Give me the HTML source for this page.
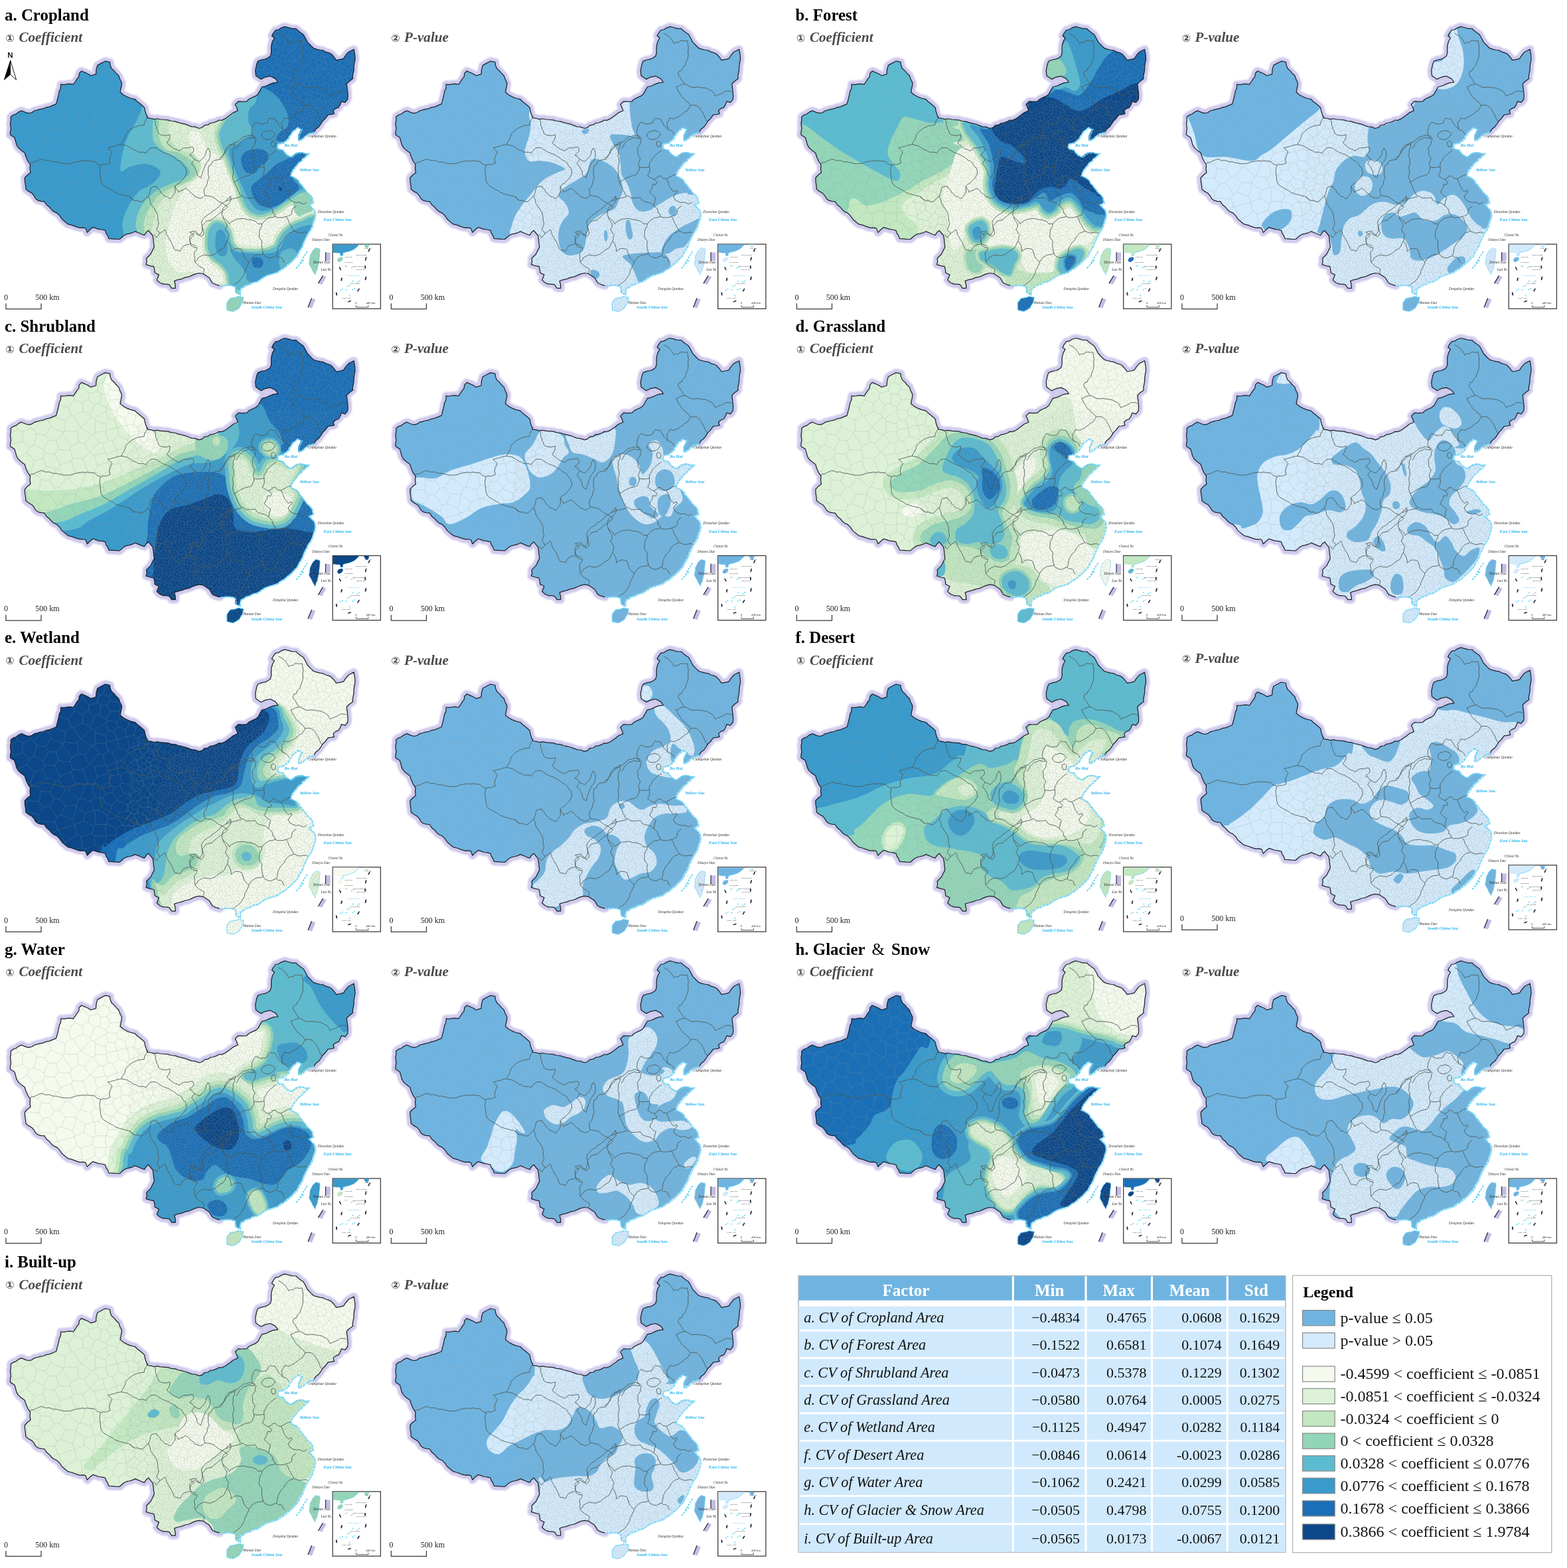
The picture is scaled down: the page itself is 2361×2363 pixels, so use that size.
<!DOCTYPE html><html><head><meta charset="utf-8"><title>Spatial coefficients</title><style>
html,body{margin:0;padding:0;background:#fff}body{width:2361px;height:2363px;position:relative;overflow:hidden}
svg{position:absolute;left:0;top:0;display:block}
text{font-family:"Liberation Serif","Times New Roman",serif}
.t1{font-weight:bold;font-size:24.9px;fill:#000}
.t2{font-weight:bold;font-style:italic;font-size:21.1px;fill:#4a4a4a}.cn{font-size:15.5px;font-style:italic;font-weight:bold;fill:#4a4a4a;font-family:"DejaVu Sans","Noto Sans CJK SC",sans-serif}
.lb{font-style:italic;font-size:5.4px;fill:#333}
.sea{font-style:italic;font-weight:bold;font-size:6.6px;fill:#28b4f0}
.sb{font-size:12px;fill:#222}
.lg{font-size:24px;fill:#111}
.th{font-weight:bold;font-size:25px;fill:#fff;text-anchor:middle}
.tf{font-style:italic;font-size:22.3px;fill:#111}
.tn{font-size:22px;fill:#111;text-anchor:end}
</style></head><body>
<svg width="2361" height="2363" viewBox="0 0 2361 2363">
<defs>
<filter id="bl" x="-5%" y="-5%" width="110%" height="110%"><feGaussianBlur stdDeviation="1.3"/></filter>
<filter id="b2" x="-10%" y="-10%" width="120%" height="120%"><feGaussianBlur stdDeviation="0.45"/></filter>
<path id="cn" d="M15.5 203.3L15.5 198.9L16.5 194.2L15.9 189.9L15.5 185.2L16.4 181.2L16.3 176.1L19.6 173.4L23.7 172L28.9 168.3L32.6 166.8L38.9 169.6L43.5 170.7L48.1 169.5L51.6 167L56.6 165.7L60.4 164.6L65.3 163.7L69.3 161.9L74.9 160.8L79.9 158.7L84.7 156.7L87 148.1L88.2 143.2L89.3 137.3L91.4 133.3L91.7 127.2L97 127.6L100.7 126.7L105.3 126.4L110.4 127.2L113.4 123L116 118.9L118.7 115.7L119.4 110.5L122.8 107L128.2 109.3L133 111.5L136.8 114L144.6 111.6L145 105.2L146.9 98.4L153.3 94.9L158.6 92.2L165.5 93.7L166 98L167.9 103L172.4 107.1L174.5 109.9L178.8 114L180.4 118.6L183.4 124.8L183.2 128.9L182 134L181.1 138.8L185.6 142.7L191.2 145.8L196.7 148L203.6 149.7L206.4 152.7L210.1 155.5L214.9 159.5L217.6 162.1L218.8 168L220.2 172.3L222.3 177.7L228 178.5L231.7 179.7L236.9 179L242.5 180L248.4 180.5L253 180.8L258.1 182.5L264.3 183.1L268.5 184.7L273.4 185.8L279.1 187.2L282.9 188.6L288.7 190.9L293.7 191.2L300 193.5L305 192L308.1 188.9L313.3 188.2L317.1 185.4L320.9 185L326.5 183.1L330 181L333.7 181.3L338.9 179.2L342.6 176.5L346.7 173.6L351.3 169.9L358.3 166.8L356.5 161.8L354.4 157.5L359.1 152.8L364.7 153.2L371.5 152.8L375.4 149.2L380.8 146.6L384.8 144.9L388.6 141.9L391.9 136.1L394.8 131L401 129.5L407.2 126.6L411.9 124.8L418.9 124L415 118.6L407.3 114.7L399.5 116.3L393.3 119.4L388.5 116.2L385.5 113.9L384.7 106.2L385.9 100.7L386.7 96.6L388.6 92.2L394.2 90L399.5 89.1L403.2 87.5L407.3 84.4L408.7 79.5L408.6 74.2L408.8 68.9L410.5 62.2L413.5 57.2L409.6 54.1L411.4 50.5L415 45.5L420 44.5L423.5 42.1L429 40.1L434.7 41.5L440.1 43.1L446.1 43.2L449 46.1L453.8 49.7L457 51.8L460.5 58L463.2 63.4L468.4 68.8L472.5 72.7L476.9 74.1L482.6 75.5L486.5 75.9L490.5 78.2L495.5 79.6L499 81.3L503.1 85.7L506.7 90.6L512.3 89.6L517.6 88.3L520.7 83.5L525.4 78.2L533.2 74.3L534.7 82.9L535.1 89.3L534.1 94.1L533.2 100L533.2 104.8L532.3 109.9L531.3 114.4L531.6 118.6L526.1 122.7L522.3 126.4L523 132.1L523.8 138.8L524.2 144.2L523.8 149.7L520 154.4L514.5 152.8L512.4 158.2L509.9 162.1L505.6 163.6L502.1 166.8L503.6 171.5L498.6 172.6L494.3 173L489.6 179.2L486 182.5L483.4 187L480.3 191.2L475.7 194.8L473.3 198.7L469 200.1L464.8 201L461.9 203L457.8 206L455.4 208.8L449.2 211.9L449.2 204.1L451.2 199.9L453.9 194.8L447.7 191.7L444.1 195L439.9 197.9L437.9 201.8L435.2 205.1L433.7 208.8L429.3 212.5L425.9 215L418.1 216.5L416.6 222.8L420.5 224.9L425.9 225.9L428.3 230L432.1 233.6L438.3 236.7L441.9 233.4L446.1 230.5L451.3 229.4L455.4 229.8L459 231.2L464 231.3L458.6 236.7L455.5 238.6L453.1 242.6L449.2 244.5L446.1 249.3L442.9 252.8L440.3 256.3L438.3 260.2L436.8 264.9L441.6 266.7L446.1 269.5L449 271.9L450.8 276.3L453.9 278.9L456.3 282.4L459.3 286.1L461.7 289.7L465.4 292.8L469.4 297.5L471 305.3L464.8 308.4L469.1 313L472.6 316.2L474.1 321.9L474.1 327L472.3 331.5L471 336.4L469 342.1L466.3 347.3L463.4 350.7L461.7 355L459.1 359.7L457 364.4L455.1 369.8L452.3 375.2L449.5 379.3L448.1 382.5L446.1 386.1L442.6 389.1L439.7 392.7L436.8 395.4L433.1 398.1L430.1 400.9L427.5 403.2L422.1 405.9L418.1 409.4L413.2 411.2L408.8 412.5L403.4 414L399.5 415.7L394.4 418.5L390.2 421.9L385.5 424.2L380.8 425L375.4 428L370 429.6L365.6 432.6L362.2 434.3L361.2 438.5L360.6 443.6L354.4 440.5L354.4 436.5L353.6 431.2L346.6 429.6L340.6 429.5L336.7 429.9L331.1 430.4L325.2 428.8L320.2 426.5L318.2 423.3L315.5 418.8L310.3 415.2L306.2 412.5L300 411.5L294.2 412.9L290.1 414.6L284.5 417.2L279.1 418.2L273.6 420.3L267.8 421.7L262.7 423.4L264.1 429L264.3 434.3L258.8 434.3L254.9 428.9L249.4 428.1L245.6 428.1L240.3 425.7L236.3 421.9L239.4 414.1L233.2 411L233 406.9L231.6 401.7L226.4 400.6L220 398.6L221.2 394.4L220.7 389.2L227 383L229.3 378.2L232.4 372.1L231.6 366.9L231 360.6L230.1 355L226.7 351L223.8 347.3L220.4 350.1L217.6 354.3L213.5 353L209.1 351L203.6 348.8L199.4 350.8L194.4 352.2L190.7 352.9L186.5 355L180.3 360.5L174.3 360.3L169 359.9L164 359.7L162.4 355.4L159.7 351.4L158.6 347.3L153.4 346L149.2 345.7L144 343.9L139.9 342.6L134.9 346.8L131.4 350.4L129 344.1L125.1 343.1L120.1 343.3L115 341.8L108 339.2L102.6 337.9L98.5 334.7L93.3 330.2L89.7 324.9L85.5 320.8L81.4 319.2L77.7 316.2L74.8 312.6L69.9 308.5L66.8 303.7L61.9 303.3L57.5 302.2L53.7 299.4L51.5 295.3L48.2 291.3L43 288.4L38.9 285.1L38.5 279.6L37.6 274.1L37.3 268L41.3 263.7L45.9 260.2L45.1 254.4L45.5 248L42 243L39 236.3L37.3 230.5L31.1 225.9L27.2 222.3L24.9 218.1L23.5 212.7L21.8 207.2Z"/>
<path id="hn" d="M342 456.1L346.6 449.9L350.3 449.1L355.1 448.3L359.1 446.7L366.8 448.3L365.3 456.1L362.7 459.7L360.6 463.8L356.2 466.7L351.3 469.3L346.4 468.4L342 467L341.9 461.9Z"/>
<path id="tw" d="M475.7 373.7L481.9 375.2L482.1 378.9L481.6 383.2L481.1 387.7L480.8 391.9L479.9 397.2L478.8 401.7L477.9 406.3L475.9 409.8L474.9 414.1L471 407.9L469.4 404L467.2 400.4L465.6 397L466.7 391.9L467.1 386.1L469.3 381.9L471 378.3Z"/>
<path id="ln" d="M15.5 203.3L15.5 198.9L16.5 194.2L15.9 189.9L15.5 185.2L16.4 181.2L16.3 176.1L19.6 173.4L23.7 172L28.9 168.3L32.6 166.8L38.9 169.6L43.5 170.7L48.1 169.5L51.6 167L56.6 165.7L60.4 164.6L65.3 163.7L69.3 161.9L74.9 160.8L79.9 158.7L84.7 156.7L87 148.1L88.2 143.2L89.3 137.3L91.4 133.3L91.7 127.2L97 127.6L100.7 126.7L105.3 126.4L110.4 127.2L113.4 123L116 118.9L118.7 115.7L119.4 110.5L122.8 107L128.2 109.3L133 111.5L136.8 114L144.6 111.6L145 105.2L146.9 98.4L153.3 94.9L158.6 92.2L165.5 93.7L166 98L167.9 103L172.4 107.1L174.5 109.9L178.8 114L180.4 118.6L183.4 124.8L183.2 128.9L182 134L181.1 138.8L185.6 142.7L191.2 145.8L196.7 148L203.6 149.7L206.4 152.7L210.1 155.5L214.9 159.5L217.6 162.1L218.8 168L220.2 172.3L222.3 177.7L228 178.5L231.7 179.7L236.9 179L242.5 180L248.4 180.5L253 180.8L258.1 182.5L264.3 183.1L268.5 184.7L273.4 185.8L279.1 187.2L282.9 188.6L288.7 190.9L293.7 191.2L300 193.5L305 192L308.1 188.9L313.3 188.2L317.1 185.4L320.9 185L326.5 183.1L330 181L333.7 181.3L338.9 179.2L342.6 176.5L346.7 173.6L351.3 169.9L358.3 166.8L356.5 161.8L354.4 157.5L359.1 152.8L364.7 153.2L371.5 152.8L375.4 149.2L380.8 146.6L384.8 144.9L388.6 141.9L391.9 136.1L394.8 131L401 129.5L407.2 126.6L411.9 124.8L418.9 124L415 118.6L407.3 114.7L399.5 116.3L393.3 119.4L388.5 116.2L385.5 113.9L384.7 106.2L385.9 100.7L386.7 96.6L388.6 92.2L394.2 90L399.5 89.1L403.2 87.5L407.3 84.4L408.7 79.5L408.6 74.2L408.8 68.9L410.5 62.2L413.5 57.2L409.6 54.1L411.4 50.5L415 45.5L420 44.5L423.5 42.1L429 40.1L434.7 41.5L440.1 43.1L446.1 43.2L449 46.1L453.8 49.7L457 51.8L460.5 58L463.2 63.4L468.4 68.8L472.5 72.7L476.9 74.1L482.6 75.5L486.5 75.9L490.5 78.2L495.5 79.6L499 81.3L503.1 85.7L506.7 90.6L512.3 89.6L517.6 88.3L520.7 83.5L525.4 78.2L533.2 74.3L534.7 82.9L535.1 89.3L534.1 94.1L533.2 100L533.2 104.8L532.3 109.9L531.3 114.4L531.6 118.6L526.1 122.7L522.3 126.4L523 132.1L523.8 138.8L524.2 144.2L523.8 149.7L520 154.4L514.5 152.8L512.4 158.2L509.9 162.1L505.6 163.6L502.1 166.8L503.6 171.5L498.6 172.6L494.3 173L489.6 179.2L486 182.5L483.4 187L480.3 191.2L475.7 194.8L473.3 198.7"/>
<path id="ls" d="M331.1 430.4L325.2 428.8L320.2 426.5L318.2 423.3L315.5 418.8L310.3 415.2L306.2 412.5L300 411.5L294.2 412.9L290.1 414.6L284.5 417.2L279.1 418.2L273.6 420.3L267.8 421.7L262.7 423.4L264.1 429L264.3 434.3L258.8 434.3L254.9 428.9L249.4 428.1L245.6 428.1L240.3 425.7L236.3 421.9L239.4 414.1L233.2 411L233 406.9L231.6 401.7L226.4 400.6L220 398.6L221.2 394.4L220.7 389.2L227 383L229.3 378.2L232.4 372.1L231.6 366.9L231 360.6L230.1 355L226.7 351L223.8 347.3L220.4 350.1L217.6 354.3L213.5 353L209.1 351L203.6 348.8L199.4 350.8L194.4 352.2L190.7 352.9L186.5 355L180.3 360.5L174.3 360.3L169 359.9L164 359.7L162.4 355.4L159.7 351.4L158.6 347.3L153.4 346L149.2 345.7L144 343.9L139.9 342.6L134.9 346.8L131.4 350.4L129 344.1L125.1 343.1L120.1 343.3L115 341.8L108 339.2L102.6 337.9L98.5 334.7L93.3 330.2L89.7 324.9L85.5 320.8L81.4 319.2L77.7 316.2L74.8 312.6L69.9 308.5L66.8 303.7L61.9 303.3L57.5 302.2L53.7 299.4L51.5 295.3L48.2 291.3L43 288.4L38.9 285.1L38.5 279.6L37.6 274.1L37.3 268L41.3 263.7L45.9 260.2L45.1 254.4L45.5 248L42 243L39 236.3L37.3 230.5L31.1 225.9L27.2 222.3L24.9 218.1L23.5 212.7L21.8 207.2L15.5 203.3"/>
<path id="co" d="M473.3 198.7L469 200.1L464.8 201L461.9 203L457.8 206L455.4 208.8L449.2 211.9L449.2 204.1L451.2 199.9L453.9 194.8L447.7 191.7L444.1 195L439.9 197.9L437.9 201.8L435.2 205.1L433.7 208.8L429.3 212.5L425.9 215L418.1 216.5L416.6 222.8L420.5 224.9L425.9 225.9L428.3 230L432.1 233.6L438.3 236.7L441.9 233.4L446.1 230.5L451.3 229.4L455.4 229.8L459 231.2L464 231.3L458.6 236.7L455.5 238.6L453.1 242.6L449.2 244.5L446.1 249.3L442.9 252.8L440.3 256.3L438.3 260.2L436.8 264.9L441.6 266.7L446.1 269.5L449 271.9L450.8 276.3L453.9 278.9L456.3 282.4L459.3 286.1L461.7 289.7L465.4 292.8L469.4 297.5L471 305.3L464.8 308.4L469.1 313L472.6 316.2L474.1 321.9L474.1 327L472.3 331.5L471 336.4L469 342.1L466.3 347.3L463.4 350.7L461.7 355L459.1 359.7L457 364.4L455.1 369.8L452.3 375.2L449.5 379.3L448.1 382.5L446.1 386.1L442.6 389.1L439.7 392.7L436.8 395.4L433.1 398.1L430.1 400.9L427.5 403.2L422.1 405.9L418.1 409.4L413.2 411.2L408.8 412.5L403.4 414L399.5 415.7L394.4 418.5L390.2 421.9L385.5 424.2L380.8 425L375.4 428L370 429.6L365.6 432.6L362.2 434.3L361.2 438.5L360.6 443.6L354.4 440.5L354.4 436.5L353.6 431.2L346.6 429.6L340.6 429.5L336.7 429.9L331.1 430.4"/>
<clipPath id="cp"><use href="#cn"/><use href="#hn"/><use href="#tw"/></clipPath>
<g id="halo" filter="url(#bl)" fill="none" stroke="#cbc5ec" stroke-opacity="0.92" stroke-width="12" stroke-linejoin="round" stroke-linecap="round"><use href="#ln"/><use href="#ls"/></g>
<pattern id="pd" width="60" height="60" patternUnits="userSpaceOnUse"><path d="M47.6 16.9l3.1 1.7M47.6 16.9l-1.5 3.7M46.1 20.6l2.3 2.5M48.4 23.1l2.5-2.5M51 20.6l-0.3-1.9M0.8 53.8l3.4 1.8M0.8 53.8l-0.1 0M4.2 55.6l0.6 3M3 60.6l1.9-2M3 60.6l-4.4-1.8M0.8 53.8l-2.2 5M30.5 37.8l-1.1 2.9M30.5 37.8l-4.1-1.7M26.8 41.3l2.6-0.6M26.8 41.3l-3.1-2M26.3 36.2l-2.7 3.1M2.9 61.1l0-0.4M9.3 59.9l-4.5-1.2M9.3 59.9l0.2 0.5M9.2 63.2l0.4-2.9M9.5 60.3l6.8 1.6M16.4 61.9l0 0M-0.2 15.3l3.2-1.1M-0.2 15.3l-0.7 3M1.4 20.6l-2.3-2.4M1.4 20.6l2.1-0.4M3.5 20.2l2-3.2M3 14.2l2.5 2.8M40.7 46.5l-1.1 5M40.7 46.5l-1.4-1M39.3 45.5l-3.9 1.2M39.6 51.5l-4-1.7M35.5 46.7l0.2 3.1M26 45.4l3.6 1.1M26 45.4l-1.5 0.6M24.6 46l-0.5 3.6M29.9 48.7l-3.5 2.9M29.9 48.7l0.1-1.6M26.4 51.6l-2.4-1.9M30 47.1l-0.4-0.6M26.8 41.3l-0.7 4.1M29.3 40.7l1.4 2M30.7 42.7l-1.1 3.8M33 51.8l2.6-2M33 51.8l-3.1-3.1M34.8 46.2l-4.8 0.9M34.8 46.2l0.6 0.5M30.7 42.7l3.5-0.1M34.8 46.2l-0.6-3.5M23.6 39.3l-1.5 0.2M22.2 39.5l-0.4 0.8M24.6 46l-1.8-1M21.8 40.3l1 4.7M9.3 59.9l1.9-3.6M4.2 55.6l3.6-3.1M7.8 52.5l3.4 3.7M23.2 27.5l2.7-3M23.2 27.5l-0.7-0.1M25.9 24.5l-2.2-2.3M23.7 22.2l-3.8 1.2M19.9 23.4l-0.2 0.6M22.6 27.5l-2.9-3.4M26.3 36.2l-0.3-1.8M21.4 33.4l2.6-0.5M21.4 33.4l-0.6 4.2M20.8 37.6l1.4 1.9M26.1 34.4l-2.1-1.4M23.2 27.5l1.9 2M25.9 24.5l1.9 0M25.1 29.5l3.8-0.2M27.9 24.5l1 4.8M28.4 19.8l1.1 3.2M28.4 19.8l-4 0.1M23.7 22.2l0.7-2.4M27.9 24.5l1.6-1.6M19.9 23.4l-1.2-3.4M18.8 20.1l1.6-1.8M24.4 19.8l-0.9-1.3M23.5 18.5l-3.2-0.2M16.4 1.9l0 0M16.4 1.9l-1.4-6.6M16.4 1.9l3-0.4M22-1.3l-2.6 2.9M48.4 24.8l-0-1.7M48.4 24.8l-2.8 2M46.1 20.6l-3.4 0.7M45.6 26.8l-2.7-2.3M42.9 24.5l-0.2-3.1M47.2 16l0.4 0.9M47.2 16l-4.7 0.3M42.6 16.3l-0.3 0.4M42.2 16.7l0.1 4.3M42.3 21l0.4 0.4M34.3 42.6l0.8-1.2M39.3 45.5l-0.5-3.9M38.9 41.6l-3.8-0.1M51.2 45.7l3.6-3M51.2 45.7l-0.2-0.1M49.6 41.9l1.4 3.6M49.6 41.9l2.5-3.4M54.8 42.6l-2.7-4.1M33 51.8l-0.1 0.7M26.7 53.4l1.6 1.5M26.7 53.4l-0.2-1.8M28.3 54.9l4.6-2.4M37.1 56.7l5 1.3M37.1 56.7l-0.4-0.6M36.7 56.1l2.9-4.6M42 58l0.6-1M42.6 57l-0.8-4.6M39.6 51.5l2.2 0.9M39.6 51.5l0 0M34.9 55.5l-2-3.1M34.9 55.5l1.8 0.5M45.9 50.9l-4.1 1.5M45.9 50.9l-0.5-2.1M40.7 46.5l1-0.2M45.4 48.7l-3.6-2.4M0.8 24.2l0.6-3.5M1.7 9.1l2.5 2.7M1.7 9.1l0.1-1.9M4.2 11.9l0.9-0.3M1.8 7.2l3.6-1.3M5.5 5.9l1.4 2.4M6.9 8.4l-1.8 3.3M3 14.2l1.2-2.3M8.3 16.9l-2.8 0.1M8.3 16.9l0.5-3.5M5.1 11.6l3.6 1.8M17.9 42.5l3.9-2.2M17.9 42.5l-0.3 1.2M22.8 45l-3.2 1.2M19.6 46.2l-2-2.5M20.8 37.6l-4.5-0.3M17.9 42.5l-3.3-3.6M16.4 37.3l-1.7 1.7M12.6 28.3l-2.2 3.6M12.6 28.3l-2-2.7M10.4 31.9l-2.8-3.6M10.6 25.6l-2.6 1M7.6 28.3l0.5-1.6M13.1 22.4l1.8-3.3M13.1 22.4l-1.5 0.5M11.6 22.9l-2.8-1.8M14.2 17.1l0.7 2.1M14.2 17.1l-5.4 0.3M8.8 17.4l0 3.7M18.8 20.1l-3.8-0.9M16.7 25.8l3-1.7M16.7 25.8l-3.6-3.4M16.7 25.8l-0.6 2.2M16.1 28l-3.6 0.3M10.6 25.6l1-2.7M6.6 22.1l2.2-1M6.6 22.1l-0.6 2.4M6 24.5l2.1 2.1M3.5 20.2l3.1 1.9M8.3 16.9l0.5 0.5M16.2 28l3.9 2.3M16.2 28l-1 4.9M16 33.7l-0.9-0.7M16 33.7l4.3-1.2M20.4 32.5l-0.4-2.2M16.1 28l0 0M22.6 27.5l-2.5 2.8M21.4 33.4l-1-0.9M16.4 37.3l-0.3-3.6M23.9 32.9l1.2-3.4M39.4 29.7l-2.3 0.4M39.4 29.7l0-3.6M33.7 26.8l-0.1 0.7M33.7 26.8l3.9-2.3M37.6 24.5l1.8 1.6M37.1 30.1l-3.5-2.6M29.5 23l2.1 0.3M31.6 23.3l2 3.5M28.9 29.3l1.3 1M33.6 27.5l-3.4 2.9M26.1 34.4l4.3-3M30.4 31.4l-0.1-1M-0.2 15.3l-2.4-2.9M1.7 9.1l-4.3 2.4M19.7 14.9l2.9-1.5M19.7 14.9l-1.9-0.8M17.9 14.1l-0.8-4.1M22.6 13.4l0.6-2.4M17.1 10l1.5-1.2M23.2 11.1l-0.2-0.4M23 10.7l-3.9-1.9M19.1 8.7l-0.5 0.1M23.5 18.5l1.1-2.6M20.4 18.3l-0.7-3.4M24.6 15.8l-2-2.4M14.3 16.6l3.5-2.5M14.3 16.6l-0.1 0.5M24.8 7.1l-1.8 3.5M24.8 7.1l4.1 0.2M28.9 7.3l-0.8 4.3M28.1 11.6l-4.9-0.6M23.6 5l-1.9-0.1M23.6 5l1.3 2.2M21.7 4.8l-2.6 3.9M16.4 1.9l-0.3 1.1M19.4 1.5l2.3 3.3M16.1 3l2.5 5.8M30 6.3l-1.1 1.1M30 6.3l-1.7-3.5M23.6 5l2.6-3.1M28.3 2.8l-2.1-0.9M22-1.3l3.2 1.4M26.2 1.9l-0.9-1.8M53.6 16.9l-2.9 1.8M53.6 16.9l2.9 2.2M51 20.6l3.8 2.1M56.5 19.1l-1.7 3.7M54.8 42.6l1.9 0.2M56.7 42.9l0.7-0.4M52.1 38.5l-0-0.6M57.5 42.5l0.6-4.2M58.1 38.3l-3.5-1.8M52.1 37.9l2.5-1.4M48.4 24.8l3.8 1.6M45.6 27.2l0-0.4M45.6 27.2l3.9 4.5M52.2 26.4l-1.3 4.6M49.5 31.7l1.4-0.7M63 14.2l-3.2 1.1M59.8 15.3l-0.7 3M59.1 18.2l2.3 2.4M1.8 7.2l-2.3-2.2M-1.2 5l0.7 0M5.7 5.2l-2.8-4.1M5.7 5.2l3.5-2M9.2 3.2l0.4-2.9M4.9-1.3l4.5 1.2M4.9-1.3l-1.9 2M9.3-0.1l0.2 0.5M3 0.6l-0 0.4M5.5 5.9l0.2-0.8M-0.5 5l3.5-3.9M11.3-3.8l-1.9 3.6M-1.4-1.1l4.4 1.8M16.4 1.9l-6.8-1.6M-1.5-1.1l0-0M-1.4 58.9l-0 0M20 50.9l-1.1-1.7M20 50.9l-0.6 3.2M18.8 49.1l-3.5-0.6M15.3 48.6l-1.7 2.7M13.6 51.3l1.2 4M19.3 54.1l-4.3 1.2M15 55.3l-0.1-0M24.1 49.7l-4.1 1.2M19.6 46.2l-0.8 3M26.7 53.4l-5.1 2.7M21.5 56.1l-2.2-2M13.6 45.6l4.1-1.9M13.6 45.6l1.7 3M16.4 61.9l-1.4-6.6M11.3 56.2l3.6-1M31.6 23.3l2.4-2.1M37.6 24.5l-0.3-3.3M34.1 21.1l3.2 0.1M42.2 16.7l-4.7-0M42.3 21l-5 0.2M37.6 16.7l-0.3 4.5M42.9 24.5l-3.5 1.6M37.3 21.2l0-0M28.7 19.1l3.7-1.7M28.7 19.1l-1.4-3.7M27.3 15.4l1.7-2.4M32.4 17.4l0.4-0.9M32.7 16.5l-1.8-3.1M29 13l1.9 0.4M28.4 19.8l0.3-0.6M34.1 21.1l-1.7-3.7M24.6 15.8l2.7-0.4M28.1 11.6l0.8 1.4M37.6 16.7l-0.7-0.9M36.8 15.7l-4.1 0.7M37.3 12l-0.5 3.7M37.3 12l-2.9-1.6M34.4 10.5l-3.5 2.9M30 6.3l3.3 0.2M33.3 6.5l1.1 4M10.4 31.9l0 1.1M15.2 32.9l-4.7 0.1M10.4 33l0.1 0.1M0.8 53.8l1.2-4.3M7.8 52.5l0-0.2M2 49.5l3.2-0.2M5.2 49.3l2.6 3.1M13.6 51.3l-3.4-0.9M10.2 50.4l-2.4 2M36.9 36l-2.7 2.7M36.9 36l-2-2.6M35 33.4l-3.3-0.3M31.7 33.1l-0.9 4.6M30.8 37.7l3.4 1M37.1 30.1l-2.1 3.3M30.4 31.4l1.3 1.7M30.5 37.8l0.3-0.2M35.1 41.5l-0.9-2.8M16.4 9.9l-4.3-3.4M16.4 9.9l-4.1 2.6M12.4 12.6l-1.5-0.6M10.8 12l-0.6-3.3M10.2 8.7l1.7-2.2M11.9 6.5l0.2-0M16.1 3l-3.9 3.5M17.1 10l-0.7-0M14.3 16.6l-2-4M8.8 13.4l2-1.4M6.9 8.4l3.4 0.4M9.2 3.2l2.8 3.3M47.2 16l0.6-1.7M53.6 16.9l-0.1-2.3M47.8 14.4l3.7-1.1M53.5 14.6l-1.9-1.3M56.5 19.1l2.7-0.8M59.8 15.3l-2.4-2.9M53.5 14.6l4-2.2M58.6-1.1l4.4 1.8M38.9 41.6l1.5-1.7M36.9 36l0.5 0.1M37.5 36l3 3.9M33.3 6.5l0.4-0.4M28.3 2.8l3.3-3.1M33.7 6.1l-0.2-5M33.5 1.1l-1.9-1.4M28.6-3.6l-3.4 3.7M31.5-0.3l-0.2-1.2M62.7 39.5l-3-2M57.5 42.5l4.4 1.1M59.7 37.5l-1.7 0.8M42 58l-1.4 3.6M42 58l5.3 3.9M59.7 37.5l0.6-1.9M60.3 35.6l-1.7-2.5M54.6 36.5l0.8-3.4M58.6 33l-3.2 0.1M46.7 38l-0.2-4.1M46.7 38l5.3-0.1M52 37.8l-2.9-5.3M46.5 33.8l2.6-1.3M52.1 37.9l-0.1-0.1M49.5 31.7l-0.4 0.8M50.9 31l4 1.4M55.4 33.1l-0.5-0.8M16.4 61.9l3-0.4M21.5 56.1l0.5 2.5M19.4 61.5l2.6-2.9M28.3 54.9l0.3 1.5M34.9 55.5l-3.5 2.9M31.4 58.4l-2.8-2M22 58.7l3.2 1.4M28.6 56.4l-3.4 3.7M25.2 60.1l0.9 1.8M0.8 53.8l-3.8-0.8M14.7 38.9l-0.3 0.1M10.5 33.1l1.3 4.4M14.3 39l-2.5-1.5M57.4 12.3l0-0.8M57.5 11.6l4.3-2.4M61.7 9.1l0.1-1.9M62.9 1.1l-3.5 3.9M61.8 7.2l-2.3-2.2M51.7 4.8l-1.6 3.6M51.7 4.8l1.2-0.2M52.9 4.6l3.2 2.8M50.1 8.4l1.8 1.4M51.9 9.8l3.9-0.9M56 7.4l-0.3 1.4M51.5 13.3l0.4-3.5M57.5 11.6l-1.7-2.7M59.5 5l-0.7-0M58.8 5l-2.7 2.5M58.6-1.1l-0 0M55.6-2.8l3 1.7M58.8 5l-1.8-2.9M58.5-1.1l-1.6 3.1M52.9 4.6l1.6-2.7M54.5 1.8l2.5 0.2M48.2 1.9l-0.7-0.1M48.2 1.9l4.7-2.4M47.5 1.8l0.7-6.5M52.9-0.5l0.2-1.2M51.7 4.8l-3.5-2.9M54.5 1.8l-1.6-2.3M47.3 1.9l-5.3-3.9M47.3 1.9l0.2-0.1M42-2l0 0M36.6 5.4l1.4-3.5M36.6 5.4l3.8 1.9M40.4 7.2l1.6-3.5M38 1.9l2.6-0.2M40.6 1.6l1.4 2M33.7 6.1l2.9-0.7M36.5 0.1l-3 1M36.5 0.1l1.5 1.8M42-2l-1.4 3.6M36.5 0.1l0.6-3.4M47.3 1.9l-1.1 1.5M46.2 3.4l-4.2 0.2M47.8 14.4l-1.2-2.6M50.1 8.4l-0.6 0M49.4 8.4l-2.8 3.3M46.2 3.4l0.1 2.5M49.4 8.4l-3.1-2.5M39.9 34l2.7 0.8M39.9 34l-0.4-4.2M43.2 29.9l-3.7-0.1M43.2 29.9l1.3 3.4M44.5 33.3l-2 1.5M39.4 29.7l0.1 0.1M37.5 36l2.5-2.1M45.6 27.2l-2.4 2.7M46.5 33.8l-2-0.5M40.7 39.9l2-1.8M40.7 39.9l3.6 3.2M42.7 38.1l3.7 0.4M46.3 38.4l0.3 3M46.6 41.4l-1.4 1.6M44.3 43l0.9-0.1M40.4 39.9l0.3-0M42.6 34.8l0.1 3.2M41.8 46.3l2.5-3.3M46.7 38l-0.4 0.4M49.6 41.9l-3-0.6M50.9 45.5l-3.9 0.3M47.1 45.8l-1.9-2.8M45.4 48.7l1.7-2.9M51.2 45.7l0.9 2.7M45.9 50.9l-0-0M45.9 50.9l6.1-2.4M52.1 48.5l0-0.1M60.8 48.1l1.1 1.4M60.8 48.1l-4-0M62 49.5l-1.2 4.3M56.9 48.1l-0.9 0.7M56 48.8l1 4.3M57 53.1l3.8 0.8M60.8 53.8l0.1-0M61.9 43.6l-1 4.5M56.7 42.9l0.1 5.2M52.1 48.4l3.9 0.3M56.1 53.8l0.9-0.7M56.1 53.8l-4.1-0.5M52 53.3l0.1-4.8M55.6 57.2l3 1.7M55.6 57.2l0.5-3.4M58.6 58.9l-0 0M58.6 58.9l2.2-5M63 60.6l-4.4-1.8M42 58l-0-0M42.6 57l5.6-1.7M47.3 61.9l0.2-0.1M47.5 61.8l0.7-6.5M55.6 57.2l-2.5 1.1M52 53.3l-1.7 1.8M53.1 58.3l-2.8-3.2M45.9 50.9l2.3 4.4M50.3 55.1l-2 0.1M48.2 55.3l-0 0M48.2 61.9l4.7-2.4M54.5 61.8l-1.6-2.3M57 62l-2.5-0.2M47.5 61.8l0.7 0.1M53.1 58.3l-0.2 1.2M57 62l1.6-3.1M56.4 28.3l2 0.1M56.4 28.3l-2.4-2.6M54 25.6l0.9-2M54.9 23.6l6 0.5M58.4 28.3l2.9-3M61.4 25.4l-0.5-1.2M59.9 31.1l-1.3 2M59.9 31.1l-1.5-2.7M54.9 32.4l1.5-4.1M52.2 26.4l1.8-0.7M54.7 22.7l0.1 0.9M61.4 20.6l-0.6 3.5M31.4 58.4l0.2 1.2M28.3 62.8l3.3-3.1M0.8 48.1l1-4.5M0.8 48.1l-4-0M1.9 43.6l-4.4-1.1M2 49.5l-1.1-1.4M6.8 45.8l3.6 1.2M6.8 45.8l-0.9-2.1M5.9 43.7l2.2-2.2M8.1 41.5l4.2 1.5M10.4 47l2.6-1.6M13 45.4l-0.7-2.4M5.2 49.3l1.6-3.5M10.2 50.4l0.2-3.4M1.9 43.6l1-0.6M2.9 43l3 0.7M14.3 39l-2.1 4M11.9 37.5l-3.7 2.1M8.2 39.6l-0.1 1.9M13.6 45.6l-0.6-0.2M-0.1 31.1l3.7-0.1M-0.1 31.1l-1.5-2.7M-1.6 28.3l2.9-3M4 29.6l-1.7-3.7M4 29.6l-0.4 1.4M1.4 25.4l0.9 0.5M-1.4 33l1.3-2M0.8 24.2l0.5 1.2M6 24.5l-3.7 1.4M7.6 28.3l-3.6 1.3M2.7 39.5l3.1-2.6M2.7 39.5l-3-2M-0.3 37.5l0.6-1.9M0.3 35.6l4.4-1.8M5.8 36.9l0-2.3M5.9 34.5l-1.1-0.8M2.9 43l-0.2-3.5M8.2 39.6l-2.4-2.7M-1.9 38.3l1.7-0.8M-1.4 33l1.7 2.5M3.6 31l1.1 2.8M10.4 33l-4.5 1.6M45.3 11.2l-0.9-3.2M45.3 11.2l-3.6 1.2M44.4 8l-4-0.6M40.4 7.4l-0.9 3.6M41.8 12.4l-2.2-1.4M46.3 5.9l-1.9 2.1M46.6 11.7l-1.3-0.6M42.6 16.3l-0.8-3.9M40.4 7.2l0.1 0.2M37.3 12l2.2-1M61.4 25.4l0.9 0.5M59.9 31.1l3.7-0.1M33.5 61.1l3-1M36.5 60.1l1.5 1.8M40.6 61.6l-2.6 0.2M31.5 59.7l1.9 1.4M37.1 56.7l-0.6 3.4" fill="none" stroke="#969b96" stroke-opacity="0.32" stroke-width="0.6"/></pattern>
<pattern id="pm" width="60" height="60" patternUnits="userSpaceOnUse"><path d="M41.5 28.5l-2.7 2.7M41.5 28.5l0.1-4.8M38.8 31.2l-4.6 0.2M32.2 23.9l5.3-2.8M32.2 23.9l-0.8 2.5M31.4 26.4l2.9 5M41.6 23.8l-4.1-2.7M32.2 23.9l-4.8-5.2M32.1 14.2l-4.7 4.5M32.1 14.2l5.1 3.9M37.5 21.1l-0.3-2.9M25.9 9.2l-2.5 0.9M25.9 9.2l6.1 3M23.4 10.1l-0.4 5.7M32 12.2l0.1 2M27.4 18.6l-1.2-0M26.2 18.6l-3.2-2.8M25.9 27.8l-1 5M25.9 27.8l-3.2-2.8M22.7 25l-1.5 0.1M21.2 25.1l-4.1 4.2M25 32.8l-4.6 0.8M20.4 33.6l-3.3-3.5M17.2 29.3l-0.1 0.8M31.4 26.4l-5.4 1.4M34.3 31.4l-3.1 4.8M31.2 36.2l-2.1 0.6M29.1 36.8l-4.1-4M26.2 18.6l-3.5 6.4M18 8l2.2-0M18 8l-4.2 7.8M20.1 7.9l3.3 2.1M23 15.8l-7.1 2.6M13.7 15.8l2.2 2.6M21.2 25.1l-5.3-6.3M17.2 29.3l-5-4.9M12.2 24.4l3.7-5.6M15.9 18.4l-0 0.4M11 34l6.1-3.9M11 34l-2.1-1M12.2 24.4l-2.7 0.7M8.9 33l0.6-7.9M8.3 14.2l-2.1 9.1M8.3 14.2l5.5 1.5M9.5 25.1l-3.4-1.8M20.1 7.9l2.2-6.8M25.9 9.2l3-6M22.4 1.1l4-1.6M26.3-0.4l1.9 1.3M28.9 3.2l-0.7-2.4M51.6 19.2l-2.2 4.9M51.6 19.2l-2.6-2.7M49 16.5l-3.1 0.5M45.9 17l-3.1 6.2M49.4 24.1l-6.5-0.9M41.6 23.8l1.2-0.6M37.2 18.1l4.3-5M41.5 13.1l4.5 3.9M38.8 31.2l2.2 6.2M31.2 36.2l7.4 5.7M38.6 41.9l0-0M41.1 37.4l-2.5 4.5M29.1 36.8l-1.8 3.4M38.6 41.9l-2.9 4M35.7 45.9l-7.3-2.3M27.3 40.2l1 3.4M22.4 1.1l-5.2-2.6M58.9 15.7l-2.3-4.4M56.6 11.3l5.1-5.1M58.9 15.7l-1.2 3.3M64.8 23.6l-7-4.7M57.5 19.1l-1.7 8.2M57.5 19.1l-5.9 0M49.4 24.1l1.2 2.2M50.6 26.2l5.3 1.1M41.5 28.5l6 2.9M50.6 26.2l-3.1 5.2M57.8 19l-0.2 0.2M61.3 29l-4 0.3M55.9 27.3l1.4 2.1M60.9 1.5l-0 0M60.9 1.5l0.8 4.6M8.9 33l-3.1 0.7M5.8 33.6l-4.5-4.6M6.1 23.3l-1.3 0.3M1.3 29l3.5-5.4M34.5-2.4l-6.3 3.3M60.9 1.5l-2.6-5.9M7.4 10.1l-5.7-3.9M7.4 10.1l0.2 3.5M7.6 13.5l-8.7 2.1M1.7 6.1l-5.1 5.1M7.6 13.5l0.6 0.7M4.8 23.6l-7-4.7M-1.1 15.7l-1.2 3.3M1.3 29l-4 0.3M49.4 54.4l-0.4-5.7M49.4 54.4l-7.8 0.1M41.6 54.5l-0.3-1.7M41.3 52.8l3.8-5.7M49 48.6l-4-1.5M35.7 45.9l-0.1 2.5M35.6 48.4l5.7 4.4M38.6 41.9l5.6 2.9M45.1 47.1l-0.9-2.3M35.6 48.4l-3.6 3.3M28.3 43.6l-1.9 3.9M32 51.7l-2.4-0.1M26.4 47.5l3.2 4.2M-1.7 55.7l4.3-4M2.6 51.7l-3.6-5.2M3.8 36.8l-6.3 1.8M3.8 36.8l3.6 7M-2.5 38.5l2.3 6.1M-0.2 44.7l7.7-0.9M19 38.1l-6.2 0M19 38.1l1.7 2.7M20.8 40.8l-1.7 4.7M12.8 38.1l-2 5.3M10.8 43.4l6.5 2.7M19.1 45.5l-1.8 0.6M11 34l1.8 4.2M20.4 33.6l-1.4 4.5M27.3 40.2l-6.6 0.6M26.4 47.5l-3.6 0.7M22.8 48.2l-3.7-2.7M3.8 36.8l2-3.2M7.5 43.7l1.4 0.7M8.8 44.4l1.9-1M2.6 51.7l1.5 0.1M-1 46.5l0.8-1.8M8.8 44.4l-0.5 3.7M4.2 51.8l4.2-3.6M-1.7 55.7l2.6 5.9M0.9 61.5l-0 0M18 8l-4-3.1M17.2-1.5l-1.4 0.8M15.7-0.7l-1.8 5.6M7.4 10.1l3.5-4.6M11 5.4l3-0.5M47.3 36.3l1.3 4.4M47.3 36.3l1.2-2.2M48.6 34l6.7 0.1M51.7 42.1l-3.1-1.4M51.7 42.1l5.8-3.5M57.5 38.5l-2.2-4.4M41.1 37.4l6.2-1.1M44.2 44.8l4.4-4.1M47.5 31.4l1.1 2.6M57.3 29.4l-2 4.8M49 48.6l3.3-1.8M52.4 46.9l-0.6-4.8M35.5-2.1l2.2 6.7M41.5-5.1l2.6 7.2M37.7 4.6l6.4-2.6M28.9 3.2l7.4 3.8M37.7 4.6l-1.3 2.4M32 12.2l4.3-4.8M41.5 13.1l-0-1.4M36.3 7.4l5.1 4.3M36.3 7.4l-0-0.3M59.8 44.7l-2.3-6.1M63.8 36.8l-6.3 1.8M57.5 38.5l0 0M49.4 54.4l1.9 1.7M51.3 56.1l3.9-1.5M52.4 46.9l2.9 1.2M55.3 54.6l0-6.5M59.8 44.7l-0.8 1.8M55.3 48.1l3.7-1.6M46.9 3.3l-0.5 5.2M46.9 3.3l3.3-1.5M53.3 3.5l1.5 7M53.3 3.5l-3.2-1.7M46.4 8.5l4 3.3M54.9 10.5l-4.5 1.3M41.4 11.7l5-3.2M44.1 2l2.8 1.3M51.3-3.9l-1.2 5.7M56.6 11.3l-1.7-0.8M60.9 1.5l-7.5 2M49 16.5l1.4-4.7M41.5 54.9l-6 3M41.5 54.9l2.6 7.2M35.5 57.9l2.2 6.7M41.6 54.5l-0.1 0.3M32 51.7l2.5 5.9M34.5 57.6l0.9 0.3M50.2 61.8l1.2-5.7M22.8 48.2l-0.9 5.2M29.6 51.7l-3.7 4.4M25.9 56l-4-2.7M0.9 61.5l5.5-1.9M4.2 51.8l3.2 6M6.4 59.6l1-1.9M28.2 60.9l-1.9-1.3M26.3 59.6l-4 1.6M34.5 57.6l-6.3 3.3M25.9 56l0.5 3.5M12 52.2l-1.3 4.2M12 52.2l3.7-0.7M10.7 56.4l5.1 2.9M15.7 51.5l2.8 3M18.5 54.4l-1.3 4.1M17.2 58.5l-1.4 0.8M8.3 48.1l3.6 4.1M7.4 57.7l3.3-1.3M17.3 46.1l-1.5 5.3M21.8 53.4l-3.4 1.1M22.4 61.1l-5.2-2.6M11 5.4l-4.5-5.9M6.4-0.4l1-1.9M60.9 61.5l-2.6-5.9M58.3 55.7l4.3-4M60.9 61.5l0-0M55.3 54.6l3 1.1M59 46.5l3.6 5.2M-1.7-4.3l2.6 5.9M0.9 1.5l-0 0M1.7 6.1l-0.8-4.6M6.4-0.4l-5.5 1.9" fill="none" stroke="#969b96" stroke-opacity="0.3" stroke-width="0.55"/></pattern>
<g id="mesh"><path d="M255 200L300 190L360 165L400 150L470 150L560 150V480H230L225 330L240 260Z" fill="url(#pd)"/><path d="M350 30H560V150H400L360 165L300 190L200 170L190 260V480H230L225 330L240 260L255 200L300 190L350 170Z" fill="url(#pm)"/><g fill="none" stroke="#95a19d" stroke-width="0.5"><path d="M159.4 321.6L150.6 321.4L141.6 320.4M159.4 321.6L159 327.1L159.4 332.4M142.6 333.8L142.9 327.9L141.6 320.4M142.6 333.8L145.4 335.5L149.7 338.3M159.4 332.4L153.7 335.3L149.7 338.3M141 306.5L141.9 304.9L144.7 303.5M141 306.5L140.1 311.2L138.7 316.7M159.4 321.6L160.2 321.3L160.3 320.6M160.3 320.6L158.8 312.2L159.2 303.6M138.7 316.7L139.7 318.4L141.6 320.4M159.2 303.6L151.5 303.9L144.7 303.5M173.8 320.6L166.9 319.9L160.3 320.6M173.8 320.6L174.8 315.7L175.6 309.7M175.6 309.7L167.3 305.8L159.8 303.1M159.2 303.6L159.3 304.2L159.8 303.1M159.4 332.4L165.6 335.7L170 338.4M149.7 338.3L150.9 342.4L150.4 345.1M150.4 345.1L156.1 347L162.3 350.4M162.3 350.4L167.2 346.6L171.5 342.4M171.5 342.4L170.5 339.8L170 338.4M173.8 320.6L175.4 322.6L177.4 324.8M170 338.4L173.2 331.1L177.4 324.8M162.4 363.1L162.3 357.5L162.3 350.4M150.4 345.1L147.2 349.2L143.7 354.2M172.2 103.1L168.4 106.1L163.5 110.4M182.7 115.2L181.7 118.4L180 120.3M180 120.3L173.3 118.7L165.7 117.8M163.5 110.4L165.1 113.4L165.7 117.8M181.8 130.3L180.5 125.2L180 120.3M181.8 130.3L191.5 130.1L199.7 131.2M132.8 242.7L136.8 243.5L139.4 243.1M132.8 242.7L131.6 243.6L128.6 245M135.8 268.5L127.8 266.1L121 264.6M135.8 268.5L140.1 266L143.1 261.6M128.6 245L125.2 254.8L121 264.6M139.4 243.1L140.8 253L143.1 261.6M159.9 180.9L161.3 178.9L161.2 178.6M159.9 180.9L160.8 187.8L162.9 193.4M161.2 178.6L169.6 176.8L176.6 175.7M162.9 193.4L165.8 194.3L169.5 195.5M169.5 195.5L173.9 191L178.2 188.1M178.2 188.1L178.1 182L176.7 175.7M176.7 175.7L177.2 175.2L176.6 175.7M181.7 207.4L179.7 208.5L175.8 208.6M181.7 207.4L187 202L192.8 194.7M175.8 208.6L173.1 202.7L169.5 195.5M192.8 194.7L191.8 193L192.6 193.1M192.6 193.1L185.9 190.2L178.2 188.1M194.9 188.5L193.7 190.1L192.6 193.1M194.9 188.5L194 180.4L191.3 172.2M191.3 172.2L191.5 171.1L190.4 171.7M190.4 171.7L183.5 172.8L176.7 175.7M192 224.8L192.8 220L192.2 215.5M192 224.8L194 225.1L197.7 227M197.7 227L203.9 222.9L209.9 220.4M192.2 215.5L198.4 210.7L205.8 206.1M209.9 220.4L208 213.5L206.2 206.2M205.8 206.1L206.3 205.9L206.2 206.2M181.7 207.4L187.2 210.8L192.2 215.5M175.4 209.2L175.2 209.5L175.8 208.6M175.4 209.2L176.6 218.4L179.2 228.8M179.2 228.8L179.9 229.5L181.5 230.2M181.5 230.2L185.7 226.6L192 224.8M192.8 194.7L199.3 199.8L205.8 206.1M190.4 324.4L197.1 320.9L203 316.3M190.4 324.4L188.8 315.3L186.8 305.5M186.8 305.5L194.6 305.2L202.9 306.8M203 316.3L202.8 311.3L202.9 306.8M175.6 309.7L180.3 306.1L184.7 304M184.7 304L184.4 304.7L185.3 304.1M177.4 324.8L183.1 325.2L189.8 326M189.8 326L191 324.7L190.4 324.4M185.3 304.1L185.3 305.2L186.8 305.5M159.8 303.1L161.7 299.2L163.4 294.8M144.7 303.5L142.9 293.2L143 283.3M147.4 282.1L144.2 282.2L143 283.3M147.4 282.1L155.1 285.4L161.9 290.5M161.9 290.5L162.2 293.6L163.4 294.8M184.7 304L181.4 298.6L176.3 293.3M163.4 294.8L170.3 294.3L176.3 293.3M164.2 241.1L164.7 236.2L165.2 229.9M164.2 241.1L167.8 245.1L172.6 247.7M165.2 229.9L171.3 230.1L179.2 228.8M181.5 230.2L182.7 235.7L183.2 241.4M172.6 247.7L177.3 246.1L181.3 244.6M183.2 241.4L182.8 242.2L181.3 244.6M84 238L79.5 247L74.9 254.5M84 238L78 235.3L70.3 233.7M61.1 252.9L67.5 254.5L74.9 254.5M61.1 252.9L58.5 249.2L56.6 247.2M70.3 233.7L63.9 240.3L56.6 247.2M58.7 269L60.4 260.9L61.1 252.9M58.7 269L49.2 268.4L39.7 268.1M56.6 247.2L51.5 246.6L47.3 244.4M47.3 244.4L41.9 254.8L35.7 264.1M35.7 264.1L38.5 265.6L39.7 268.1M57.4 289.8L62.1 284.4L65.1 277.6M57.4 289.8L49.8 286.9L42.2 283.6M65.1 277.6L61.2 273.8L58.7 269M39.7 268.1L40.3 275.9L42.2 283.6M65.1 277.6L68.9 276.1L74.1 276.3M74.9 254.5L78.6 260.2L81.9 266M74.1 276.3L78.3 271.7L81.9 266M90.7 231.3L100 227.3L107.4 225M90.7 231.3L86.9 223.1L82.7 214.6M82.7 214.6L85.7 211.3L88.1 207.9M88.1 207.9L97.2 209L105.9 208.6M105.9 208.6L107.8 215L109.8 221.2M107.4 225L109 222.3L109.8 221.2M132.8 242.7L128.6 231.1L124.7 221.1M128.6 245L120.2 242L113.3 240.9M113.3 240.9L109.7 232.4L107.4 225M124.7 221.1L117.3 221.3L109.8 221.2M162.4 363.1L171.6 362L181.5 360.2M184.4 372.5L183 366.8L181.8 360.4M181.5 360.2L182 360L181.8 360.4M171.5 342.4L174.5 344.6L179 346.1M181.5 360.2L180 353.3L179 346.1M189.8 326L189.9 327.2L191.5 329.9M191.5 329.9L190 335.4L188.8 340.1M179 346.1L183.2 343.7L188.8 340.1M133.4 131.3L137.2 136.5L142.7 140.7M133.4 131.3L133.5 127.9L134.3 123.2M152.1 124.8L151.2 131.1L150 139M152.1 124.8L150 122.5L147 120.1M134.3 123.2L140.5 121.9L147 120.1M150 139L146.2 138.9L142.7 140.7M152.1 124.8L157.6 124L161.4 124.2M161.4 124.2L163.5 127.9L166.5 133.5M150 139L155.2 142.4L159.6 144.2M159.6 144.2L163 139.5L166.5 133.5M181.8 130.3L180.7 131.2L180.2 132.6M161.4 124.2L163.1 120.5L165.7 117.8M166.5 133.5L173.5 132.7L180.2 132.6M192.8 148.1L196.7 141.7L202.5 134.5M192.8 148.1L186.4 145.5L180.9 143.3M180.2 132.6L179.9 137L180.9 143.3M133.4 131.3L128.6 134.4L123.2 137.9M123.2 137.9L124.8 143.4L124.7 150.9M142.7 140.7L140 147.3L136 155.9M124.7 150.9L129.7 152.4L136 155.9M146.9 231.9L154.9 229.1L162.6 227.8M146.9 231.9L144 224.4L142.3 216.5M142.3 216.5L151.3 215.1L158.3 213.3M162.6 227.8L161.5 221.9L161.3 215M161.3 215L159.2 214.5L158.3 213.3M164.2 241.1L159 242.7L154.1 246.2M165.2 229.9L164 228.9L162.6 227.8M142.6 241.4L149.2 244.2L154.1 246.2M142.6 241.4L144.4 237L146.9 231.9M136.3 212.3L138.8 214.7L142.3 216.5M136.3 212.3L135.9 212.5L135.1 212.2M139.4 243.1L140.3 242.7L142.6 241.4M124.7 221.1L130 217.1L135.1 212.2M136.3 212.3L141.6 205.3L148.8 197.4M148.8 197.4L153.3 198L155.9 198.2M155.9 198.2L156.4 206.6L158.3 213.3M175.4 209.2L168.4 211.7L161.3 215M155.9 198.2L159.7 196.5L162.9 193.4M168.7 274.5L168.8 274.4L170.5 274.1M168.7 274.5L163.2 273.1L157.1 270M170.5 274.1L172.6 270.8L176.5 267.5M169.2 255.3L173.3 261.4L176.5 266.8M169.2 255.3L164.8 256.5L158.9 257.1M176.5 267.5L176.8 267.4L176.5 266.8M158.9 257.1L156.3 261.5L155 264.6M157.1 270L156.1 266.3L155 264.6M161.9 290.5L166 282.9L168.7 274.5M176.3 293.3L178.2 288.6L179.4 285.8M179.4 285.8L175.4 279.6L170.5 274.1M147.4 282.1L152.9 275.3L157.1 270M172.6 247.7L170.6 250.7L169.2 255.3M186 256.1L182.7 250L181.3 244.6M186 256.1L181.6 261.3L176.5 266.8M154.1 246.2L156.1 252.5L158.9 257.1M143.1 261.6L149.5 264L155 264.6M143 283.3L141.5 282.2L140.9 282.4M140.9 282.4L139.3 274.6L135.8 268.5M188 160.8L191.6 157.7L194.1 152.9M188 160.8L189.6 166.4L190.4 171.7M191.3 172.2L196.4 170.5L202 169.6M194.1 152.9L198.5 154.4L204.7 156.5M202 169.6L203.4 162.6L204.7 156.5M192.8 148.1L194.4 151.5L194.1 152.9M204.7 156.5L207.2 155.2L210.6 153.5M194.9 188.5L202.2 186.6L208.1 184.4M208.1 184.4L210.9 192.9L214.3 200.1M206.2 206.2L209.9 204.3L213.4 202M213.4 202L214.3 200.6L214.3 200.1M226.5 215.6L226.5 212.7L225.7 210.7M226.5 215.6L226.2 216.3L225.2 217.9M225.2 217.9L219.5 219.8L212.6 222.3M212.6 222.3L212.2 220.7L209.9 220.4M213.4 202L220 207L225.7 210.7M214.7 304L218.9 300L221.5 295.9M214.7 304L217.8 308.5L220.6 313.8M220.6 313.8L225.1 313.6L228.2 312.3M228.2 312.3L229.8 307.8L231.4 303.3M231.4 303.3L229.5 299.9L225.9 296.3M225.9 296.3L222.9 295.3L221.5 295.9M179.4 285.8L187.1 284.2L193.7 282.5M176.5 267.5L184.8 270.8L193 274.4M193.7 282.5L192.4 279.1L193 274.4M185.3 304.1L190.8 295.1L196.8 286.2M193.7 282.5L195.1 283.6L196.8 286.2M206.4 303.2L205 296.5L201.7 287.9M206.4 303.2L203.7 304.1L202.9 306.8M196.8 286.2L199 288L201.7 287.9M196 258.9L190.9 258.3L186 256.1M196 258.9L196.1 263.8L196.9 268.7M193 274.4L195.6 271.9L196.9 268.7M55.6 304.8L56.7 301.9L58.6 299.1M58.6 299.1L58.3 294.2L57.4 289.8M42.2 283.6L37 286.5L33 290.4M102.4 343.1L113.7 340.4L124.1 338.8M128.4 348.3L127 344.4L127 341.4M127 341.4L126.5 341.1L124.1 338.8M98 330.6L97.5 332.1L97.1 334.7M98 330.6L107 325.3L116.3 318.5M116.3 318.5L118.9 321L121.3 321.8M121.3 321.8L123.4 330.9L124.1 338.8M97.1 334.7L100.5 338.9L102.4 343.1M142.6 333.8L134.2 338.2L127 341.4M138.7 316.7L131 319.6L121.3 321.8M97.1 334.7L88.9 337.2L81.8 337.9M84 238L86.6 238.3L87.5 237M87.5 237L89.4 235L90.7 231.3M70.3 233.7L66.8 227.5L64.4 220.9M82.7 214.6L76.3 215.1L67.9 213.6M64.4 220.9L66.7 217.4L67.9 213.6M32.3 235.7L39.2 238.4L45.6 241.5M32.3 235.7L29.7 228.4L28.3 219.6M45.6 241.5L49.2 232.8L52.4 224.6M52.4 224.6L46.2 218.3L40.7 213.3M28.3 219.6L33.9 216.8L40.7 213.3M23.1 217.4L25.3 218.1L28.3 219.6M47.3 244.4L47.2 242.1L45.6 241.5M64.4 220.9L59.3 222.6L52.4 224.6M50.5 200.9L48 203.1L44.1 204M50.5 200.9L58.7 204.2L66.1 209.3M44.1 204L42.7 208.5L40.7 213.3M66.1 209.3L66.6 211.5L67.9 213.6M26.4 177.7L21.6 180.5L16.2 183.8M26.4 177.7L30.6 178.8L35.1 181M35.1 181L33.7 188.6L33.6 195.6M16.2 183.8L18.9 190.9L19.7 199.7M19.7 199.7L27 197.8L33.6 195.6M23.4 162.9L25.4 169.9L26.4 177.7M16 206.1L17.4 202.5L19.7 199.7M44.1 204L39.6 200.5L33.6 195.6M47.3 176.1L41.8 178.1L35.1 181M47.3 176.1L45 169L43.3 162.7M58.6 299.1L71 299.2L82.7 300.3M74.1 276.3L80.6 284.6L86.1 291.8M86.1 291.8L84.5 295.4L82.7 300.3M71.8 322.3L78.6 317L86.4 311.3M82.7 300.3L85 305.2L86.4 311.3M98 330.6L93.1 322.1L87.7 311.9M116.3 318.5L114.7 312.5L112.3 305M112.3 305L100.9 308L87.7 311.9M87.7 311.9L86.4 312.4L86.4 311.3M87.5 237L92.8 243.7L98.6 252.1M81.9 266L86.1 265.5L89.9 265.1M89.9 265.1L93.6 259.4L98.6 252.1M113.3 240.9L108.3 247.5L103.4 252.1M98.6 252.1L100.5 251.2L103.4 252.1M121 264.6L120.5 264.9L118.3 266M103.4 252.1L111.7 259.1L118.3 266M140.7 102.1L145.6 104.7L149.8 108.9M158.4 93.2L151.3 91.5L145.2 89.1M158.4 93.2L157.9 100.7L155.5 106.8M155.5 106.8L153.4 108.4L149.8 108.9M125 113L125.7 110.8L124.6 109.7M125 113L128.9 117.6L134.3 123.2M124.6 109.7L132.8 105.7L140.7 102.1M147 120.1L147.4 113.7L149.8 108.9M162.9 90.9L160.2 91.7L158.4 93.2M163.5 110.4L159.2 108.8L155.5 106.8M124.6 109.7L123 108.4L120.8 105.6M181.8 360.4L192.2 357L201.7 354.9M188.8 340.1L195 345.8L202.1 351.3M231.4 303.3L235.3 303.5L240.6 302.2M236.1 287.6L230.5 291.9L225.9 296.3M236.1 287.6L235.8 282.8L234 280.1M234 280.1L238.3 275.6L241.4 271.6M226.5 215.6L232.5 216.3L238.8 217M225.7 210.7L228.6 208.1L232.6 204M232.6 204L237.1 204.8L241.1 207.4M177.7 156.9L176.6 152.9L175.8 149.5M177.7 156.9L175.1 159.6L172.3 163.8M175.8 149.5L168.9 147.9L160.8 147.4M172.3 163.8L168.3 162.9L163.4 162.6M163.4 162.6L161.1 157.1L159.7 150.3M159.7 150.3L161.2 148.6L160.8 147.4M188 160.8L183.7 158.2L177.7 156.9M180.9 143.3L178.1 146.1L175.8 149.5M176.6 175.7L174.7 169.4L172.3 163.8M159.6 144.2L159.7 146.1L160.8 147.4M158.4 168.9L159.7 174.1L161.2 178.6M158.4 168.9L161 165.5L163.4 162.6M158.4 168.9L151.1 167.4L143.7 164.6M159.9 180.9L152 181.2L143.1 182.2M143.1 182.2L143.4 172.5L143.7 164.6M148.8 197.4L145.5 192.2L140.7 185M143.1 182.2L142.4 184.4L140.7 185M159.7 150.3L150 155.5L141.5 161.3M143.7 164.6L141.9 162.1L141.5 161.3M136 155.9L136.7 157.7L137.8 159.3M141.5 161.3L140.3 161L137.8 159.3M47.3 176.1L48.3 177.5L50.3 177.4M50.5 200.9L53.6 192.9L55 184.4M55 184.4L53.3 181.8L50.3 177.4M50.3 177.4L58.5 169.6L66.6 163.2M56.8 146.5L61.1 155.1L66.6 163.2M208.1 184.4L209.4 182.7L210 181.4M202 169.6L204.7 171.9L208.1 173.2M210 181.4L209.5 178L208.1 173.2M212.8 153.9L216.3 160.4L219.3 166.2M208.1 173.2L213.7 169.5L219.3 166.2M223.1 167.5L221.4 167.1L219.3 166.2M224.9 192.3L227.5 193.1L231.2 194.5M224.9 192.3L223 187.8L222.8 182.6M234.4 178.6L236.6 184L240.1 189.4M234.4 178.6L231 179.2L225.7 178.2M231.2 194.5L236 193.1L239.9 190.5M225.7 178.2L224.7 181.4L222.8 182.6M214.3 200.1L219.4 195.9L224.9 192.3M232.6 204L232.8 199.9L231.2 194.5M210 181.4L216 182.1L222.8 182.6M240.2 172.1L237.7 175.5L234.4 178.6M223.1 167.5L224.8 173.3L225.7 178.2M225.2 217.9L228.1 225.2L230.1 231M212.6 222.3L213.8 228.3L215.6 233.9M230.1 231L223.2 232.9L215.6 233.9M218.9 290L221.2 284.5L224.5 278.2M218.9 290L213.4 288.8L205.9 286.1M211.8 276.6L208.1 280.4L205.9 286.1M211.8 276.6L217.8 277.8L223.8 277.4M223.8 277.4L224.6 278.5L224.5 278.2M234 280.1L229.6 278.9L224.5 278.2M221.5 295.9L219.9 293.4L218.9 290M206.4 303.2L211.1 304.3L214.7 304M201.7 287.9L203.2 286.6L205.9 286.1M196.9 268.7L202 268.5L208.9 269.5M208.9 269.5L210.2 273.6L211.8 276.6M141 306.5L134.4 303.2L126.1 298.7M140.9 282.4L135.3 284.6L129.2 286.6M126.1 298.7L127 293.1L129.2 286.6M112.3 305L112 304.9L112.5 304.2M126.1 298.7L119.4 301.4L112.5 304.2M191.5 329.9L198.2 330.8L206.6 333.2M202.1 351.3L205.8 345.8L210.9 341.8M210.9 341.8L209.6 336.9L206.6 333.2M203 316.3L207.8 320L211.7 322.5M206.6 333.2L209.2 328.4L211.7 322.5M220.6 313.8L218.5 316.6L217.6 320.8M228.2 312.3L233.2 315L238.6 319.1M231.8 327.1L235.6 323L238.6 319.1M231.8 327.1L227.8 327.4L223.2 327.4M223.2 327.4L220.4 323.7L217.6 320.8M217.6 320.8L215.5 320.7L211.7 322.5M234.7 340.3L235.2 345.3L235.3 349M234.7 340.3L228.2 338.7L220.6 338.7M221.6 350.9L219.6 347.2L216.2 342.2M221.6 350.9L227.8 352.2L232.5 353M232.5 353L234.6 351.6L235.3 349M216.2 342.2L219.3 340.6L220.6 338.7M231.8 327.1L234.5 332.3L235.9 338.5M235.9 338.5L236.1 339.2L234.7 340.3M223.2 327.4L222 332.1L220.6 338.7M216.7 361L218.3 355.9L221.6 350.9M210.9 341.8L213.8 342.6L216.2 342.2M55 184.4L61.9 185.2L67.7 186.2M66.6 163.2L70.1 165L73.5 165.1M73.5 165.1L75.6 169.6L76.3 174.2M76.3 174.2L72 180.9L67.7 186.2M88.1 207.9L86.7 202L85 194.3M66.1 209.3L68.9 202.2L73.3 193.9M85 194.3L79.6 194.1L73.3 193.9M73.3 193.9L70.9 189.5L67.7 186.2M140.7 185L138.4 184.7L138 185.5M137.8 159.3L129.9 166.5L122.7 175M138 185.5L129.9 180.6L122.7 175M135.1 212.2L130.7 205.3L127.4 199.2M138 185.5L133.6 191.7L127.4 199.2M124.7 150.9L118 153.4L110.3 157.3M110.3 157.3L115.9 166.8L122.1 175.1M122.7 175L122 175.4L122.1 175.1M73.5 165.1L78 161.7L82.6 157.5M82.6 157.5L82.9 150.1L82.1 144.2M197.7 227L198.9 232.8L201.7 237.4M215.6 233.9L214.9 235.4L213.9 237.5M213.9 237.5L207.3 238.2L201.7 237.4M196 258.9L198.6 255.5L200.9 253.5M183.2 241.4L189.9 242.4L197.3 243.1M200.9 253.5L199.1 247.6L197.3 243.1M201.7 237.4L199.1 239.5L197.3 243.1M241.4 271.4L234.9 265.2L226.7 259.3M223.8 277.4L223.8 270.5L222.7 262.8M222.7 262.8L224.3 261.7L226.7 259.3M208.9 269.5L211.4 266L213.7 262.9M222.7 262.8L218.9 263.5L213.7 262.9M200.9 253.5L204.5 253.5L207.4 253.8M213.7 262.9L210.8 258L207.4 253.8M213.9 237.5L215.7 241.5L216.2 244.7M207.4 253.8L211.3 248.3L216.2 244.7M114.2 274.9L106.8 275.5L99 274.9M114.2 274.9L113.7 276.3L114.6 276.4M114.6 276.4L112.2 287.2L109.1 296.5M99 274.9L94.8 283.1L91.7 289.6M91.7 289.6L99.5 292.3L109.1 296.5M89.9 265.1L93.9 270.4L99 274.9M118.3 266L116.3 269.9L114.2 274.9M129.2 286.6L121.4 281.7L114.6 276.4M112.5 304.2L110.5 299.6L109.1 296.5M86.1 291.8L89.6 291.3L91.7 289.6M232.6 430.3L237.9 425.9L242 423.1M232.5 353L233.2 355.8L233.6 360.3M223.4 365.7L227.8 362.4L233.6 360.3M108 202.9L113.2 200.2L118.7 196.8M108 202.9L101.3 193.7L94.4 184.2M118.7 196.8L117.7 189.3L116.5 180.8M116.5 180.8L107.6 181L96.8 179.8M96.8 179.8L95.5 180.6L94.7 182.2M94.4 184.2L94.4 183.8L94.7 182.2M105.9 208.6L106.1 206.6L108 202.9M127.4 199.2L124 197.8L118.7 196.8M85 194.3L90.3 189.9L94.4 184.2M122.1 175.1L119.6 178.2L116.5 180.8M110.3 157.3L109 157.9L107 156.7M107 156.7L102.3 160.9L98.3 164.2M98.3 164.2L97 171.7L96.8 179.8M76.3 174.2L85.1 177.9L94.7 182.2M82.6 157.5L90.3 161.7L98.3 164.2M87 139.1L95.1 142.7L103.3 145.4M103.3 145.4L106.9 139.6L111.9 132.6M102.9 123.6L107.3 126.6L110.8 128.3M110.8 128.3L112.1 129.9L111.9 132.6M107 156.7L104.7 150.4L103.3 145.4M123.2 137.9L116.7 134.7L111.9 132.6M125 113L118.3 120.2L110.8 128.3M226.7 259.2L224.3 253.1L222.8 247.9M226.7 259.2L233.7 256.3L240.8 251.9M222.8 247.9L227.6 245.7L230.7 242.3M230.7 242.3L235.4 244.2L241.1 248M226.7 259.3L226.4 258.8L226.7 259.2M216.2 244.7L218.9 246L222.8 247.9M230.1 231L231.1 230.8L231.5 231.7M231.5 231.7L231.3 237.3L230.7 242.3M238.4 414.6L232.2 415.7L224.5 415.9M214.4 397.8L221.2 399.7L227.7 401.1M227.7 401.1L224.8 407.9L223.5 414.4M238.1 364.1L235.3 362.7L233.6 360.3M227.7 401.1L228.9 399.6L230.1 399.8M240.8 403.6L235.1 402.3L230.1 399.8M231.5 231.7L236.8 231L240.1 229.6M224 387L226.4 388.4L229.9 391.1M224 387L224.8 382.2L224.4 376.4M229.9 391.1L234.3 387.3L239.4 384.4M224.4 376.4L230.5 376.6L237.1 376.6M214.6 391.4L218.4 389.2L224 387M230.1 399.8L229.3 396L229.9 391.1" stroke-opacity="0.5"/><path d="M431.8 38.1L434.6 39.3L438.3 40.8M441.7 40L439.4 39.8L438.3 40.8M415.5 356.2L410.8 354.8L405.9 355.1M415.5 356.2L417.2 358.1L419 360.5M419 360.5L414.8 366.5L409.8 371.5M405.9 355.1L404.8 360.9L402.9 366M409.8 371.5L406.1 369.1L402.9 366M417.9 344.6L415.8 343.1L414.4 341.3M417.9 344.6L416.3 350.3L415.5 356.2M414.4 341.3L410.3 340.3L408 340.3M402.5 347.3L406.2 343.3L408 340.3M402.5 347.3L403.1 349.8L402.9 351.7M402.9 351.7L404.9 353.4L405.9 355.1M535 124.9L529.7 124.1L524 125.1M534.3 137L528 135.7L523.4 135.6M523.4 135.6L521.8 132.4L521.6 130.8M524 125.1L522.1 128.1L521.6 130.8M535.1 111L533.2 111.3L532.6 109.8M532.6 109.8L532.7 102L532.1 94.1M551.5 102.6L543 97.2L533.7 92.8M533.7 92.8L533.8 94.1L532.1 94.1M533.9 92.5L534.3 92.6L533.7 92.8M533.9 92.5L543.3 86.1L551.3 78.7M533.9 92.5L532.1 86.1L529.8 78.1M529.8 78.1L534.9 75.6L539.5 73.7M441.7 40L443.6 40.2L445.2 41.7M445.2 41.7L449.4 40L454.7 37.3M392.1 375.9L391.6 376.2L389.9 374.6M392.1 375.9L396.8 371.2L400.1 366.3M389.9 374.6L387.8 369.2L387.2 363.9M400.1 366.3L396.1 363L390.4 358.5M387.2 363.9L388.8 361.1L390.4 358.5M402.9 351.7L396.1 354.4L390.4 358.3M400.1 366.3L400.6 366.9L402.9 366M390.4 358.3L390.7 357.7L390.4 358.5M387.2 363.9L382.5 364L378.1 365.8M378.1 365.8L375.7 362.3L374.4 358M390.4 358.3L388.6 355.5L386.3 352.9M374.4 358L379.9 355.7L386.3 352.9M402.5 347.3L397.7 344.9L391.1 342.6M391.1 342.6L387.8 345.9L386.1 350.9M386.1 350.9L385.4 352.8L386.3 352.9M419.4 332L416.9 328.8L414.3 324.4M419.4 332L416.2 336.1L414.4 341.3M408 340.3L407 338.3L405.3 334.7M405.3 334.7L409 328.5L413.4 324.1M414.3 324.4L414.6 323.8L413.4 324.1M420.1 194.8L418.8 190L416.1 185.2M420.1 194.8L419.2 196.4L416.7 198.4M416.1 185.2L415 185.6L412.8 185.7M416.7 198.4L411.2 197.2L405.2 197M405.2 197L406 196.6L405.1 195.1M405.1 195.1L408.3 190.4L412.8 185.7M451.7 148.6L451.7 153.9L449.7 161.1M451.7 148.6L456 151.1L461.1 152.7M449.7 161.1L449.6 162.5L451.3 162.9M451.3 162.9L456.4 164L461.2 164.1M461.2 164.1L461.6 164.6L461.8 163.3M461.8 163.3L461.2 158.1L461.1 152.7M472.8 139L469.4 141.2L467.9 143.2M472.8 139L472 135.6L471.5 130.3M467.9 143.2L465.3 140.7L461 139.6M461 139.6L459.6 133.8L459.9 129.6M471.5 130.3L465.1 130.4L459.9 129.6M482.8 141.5L477.9 140.3L472.8 139M482.8 141.5L483.8 133.4L484.8 127.3M474.9 126.7L479.6 128L484.8 127.3M474.9 126.7L473.8 128.7L471.5 130.3M451.7 148.6L450.5 148.4L450.6 146.6M450.6 146.6L455.7 143.3L461 139.6M468.1 148.9L464 150.5L461.1 152.7M468.1 148.9L467.7 145.9L467.9 143.2M458.4 128.1L454.3 129L452.1 129.2M458.4 128.1L458.5 129.1L459.9 129.6M450.6 146.6L450.8 146.9L450.5 146.5M450.5 146.5L448.4 142.7L447.2 139.7M452.1 129.2L450.2 134.3L447.2 139.7M438.3 40.8L435.2 49L433.6 55.6M445.2 41.7L446.6 47.6L450 52M433.6 55.6L438.7 57L444.6 58.8M444.6 58.8L447.5 57.4L448.4 56.3M450 52L449.6 54L448.4 56.3M456.3 74.5L450.7 73.7L443.5 72M456.3 74.5L457 72.8L457.9 72.9M443.5 72L443.8 65.4L444.6 58.8M457.9 72.9L457.7 68.3L458.4 63.6M448.4 56.3L452.9 59.9L458.4 63.6M431.8 38.1L428.2 41.2L424.4 43.6M424.4 43.6L419.8 42.4L414.2 40.3M433.6 55.6L432.1 56L430.9 56.6M430.9 56.6L429.1 55L425.7 53.9M424.4 43.6L425.6 49.8L425.7 53.9M386 387.3L389.2 391.8L390.7 396.1M386 387.3L381.7 387.1L378.3 386.3M386.4 399.6L388.9 397.9L390.7 396.1M386.4 399.6L381.2 398.5L376.7 397.6M376.7 397.6L376.7 391.6L378.3 386.3M393.7 379.1L396 381L399.8 382.4M393.7 379.1L393.8 376.8L392.1 375.9M409.8 371.5L409 373L410.1 373.4M410.1 373.4L404.7 377.9L399.8 382.4M468.1 148.9L470.5 150.9L474.6 154.2M461.8 163.3L468.7 161.7L474.7 159.8M474.6 154.2L475.4 157.9L474.7 159.8M482.8 141.5L482.7 142L483.1 141.9M483.1 141.9L482.7 145L482.5 148.1M474.6 154.2L478.4 152.1L482.5 148.1M483.1 141.9L489.2 140.8L494.9 141.1M494.9 141.1L497.6 145.8L499.6 148.6M499.6 148.6L495.9 151.8L490.6 154.8M482.5 148.1L485.6 152L490.6 154.8M499.6 148.6L502.7 149.7L504.1 149.8M504.1 149.8L503.2 155.4L502.6 161.4M496 163.9L499.8 161.8L502.6 161.4M496 163.9L493.6 161.6L490 159.3M490.6 154.8L489.4 157.7L490 159.3M504.1 149.8L506.7 148.1L509.7 148.1M502.6 161.4L504.6 164.3L507.8 165.8M516.8 157.4L512.6 153.3L509.7 148.1M524.9 112.3L522 105.9L518 101.2M524.9 112.3L523.2 115.2L521.7 117M521.7 117L516.8 117.3L511.9 116.1M511.9 116.1L510.4 110.8L509.4 104.9M509.4 104.9L511.2 103.6L514.1 100.9M514.1 100.9L516.7 101.2L518 101.2M532.6 109.8L528.4 110.7L524.9 112.3M532.1 94.1L529.2 93.4L526 94.2M526 94.2L522 97.3L518 101.2M524 125.1L522.6 120.7L521.7 117M504.2 119.8L499.6 123.1L493.7 127.7M504.2 119.8L505 119.3L506.9 120.2M506.9 120.2L507.7 125.1L510.4 130.3M493.7 127.7L496.2 131.4L497.2 133.6M497.2 133.6L502.3 133.7L507.3 134M510.4 130.3L509.6 132.2L507.3 134M502.7 104.2L499.6 107.5L496.3 110.1M502.7 104.2L505.2 105.2L509.4 104.9M496.3 110.1L499.5 115L504.2 119.8M511.9 116.1L510.2 118.2L506.9 120.2M521.6 130.8L515.7 131L510.4 130.3M484.8 127.3L487 126.6L487.6 125.4M487.6 125.4L489.8 127.3L493.7 127.7M494.9 141.1L495.1 137.7L497.2 133.6M510.1 147.2L510.7 147L509.7 148.1M510.1 147.2L508.8 141L507.3 134M523.4 135.6L521.8 138L521.6 141.3M521.6 141.3L515 143.6L510.1 147.2M450 52L454.6 49.9L460.7 48.6M458.4 63.6L463 61L466.6 57.6M467.8 368.9L462.7 368.5L456.6 367.4M456.6 367.4L456.6 365.9L455.3 365.8M456.3 358.1L455.9 361L455.3 365.8M456.3 358.1L461.4 357.1L466.6 354.8M352.9 372.1L356.8 376.1L360.9 380.9M352.9 372.1L349 375.9L345.9 380.1M360.9 380.9L357.1 385.8L351.7 388.8M350.9 388.8L351.8 389.7L351.7 388.8M350.9 388.8L348.9 385.2L345.9 382.6M345.9 382.6L345.8 381.8L345.9 380.1M318.7 370.2L319.3 371.1L319 371.3M318.7 370.2L320.1 365.4L321.6 362.1M319 371.3L326.5 372.5L332.2 374.8M332 363.2L327.8 361.9L321.6 362.1M332 363.2L334.1 367.9L334.2 373.1M332.2 374.8L333.8 373L334.2 373.1M332 363.2L334.3 360L336.7 357.9M337.2 373L336.1 373.4L334.2 373.1M337.2 373L341.1 369.4L345.2 365M345.2 365L341.9 360.6L336.7 357.9M386.9 273.7L389.4 276.1L391.6 277.8M386.9 273.7L383.9 274.4L380.3 276M391.6 277.8L391.4 281.9L389.7 287M380.3 276L380.9 279.1L380.1 282.3M389.7 287L384.2 285.3L380.1 282.3M398.9 246.7L393.3 247.5L389.4 247.2M398.9 246.7L400.6 245.2L402 242.3M402 242.3L401 238.2L398.7 234.5M398.7 234.5L392.3 235.6L387.4 237.6M389.4 247.2L387.3 242.9L387.2 238M387.4 237.6L386.5 237.2L387.2 238M387.9 329.7L388.7 333.1L390.5 336.8M387.9 329.7L390 326L391.4 322.4M390.5 336.8L395.7 333.9L400.8 332.6M400.8 332.6L399.5 327.7L398.9 324M398.9 324L395.6 322.3L391.4 322.4M405.3 334.7L403.3 334.1L400.8 332.6M391.1 342.6L390.6 339.4L390.1 337.9M390.1 337.9L389.8 336.8L390.5 336.8M413.4 324.1L411.5 321.9L410.6 320.6M403.3 320L407.9 320.9L410.6 320.6M403.3 320L401.9 322.4L398.9 324M419.4 332L423.8 333.1L428.9 332.5M417.9 344.6L420.7 343.9L423.6 344.3M423.6 344.3L427 339.6L429.5 335.9M429.5 335.9L429.9 334.7L428.9 332.5M414.3 324.4L420 321.4L426.6 318.6M426.6 318.6L428.5 325.2L429.6 331.2M429.6 331.2L429.3 331.3L428.9 332.5M347.7 173L343.3 175.3L337.6 177M347.7 173L351.4 175.8L354.2 179.6M354.2 179.6L349.4 183.7L346.1 188.5M337.6 177L336.4 177.5L336.7 178.4M336.7 178.4L337.2 181.3L336.6 185.1M346.1 188.5L342.1 186.7L336.6 185.1M348.9 165.2L351.7 164.6L355.8 163.4M356.3 146.3L358.8 149.1L361.6 152.6M355.8 163.4L358.8 159L361.6 152.6M348.9 165.2L348.8 168.7L347.7 173M361.6 152.6L365.7 152.7L368 154M368 154L371.2 148.1L374.8 142.7M357.8 180.4L357 179L354.2 179.6M357.8 180.4L359.6 179.3L360.8 178.1M355.8 163.4L358.1 165.9L361.9 167.8M361.9 167.8L362 173.5L360.8 178.1M272 188.5L269.6 186.6L267.1 185.4M272 188.5L270.8 195.1L270.3 199.7M267.1 185.4L262.9 187.1L258.3 187.2M270.3 199.7L268.1 199.6L264.3 200.2M264.3 200.2L260.9 195.7L256.9 192.4M258.3 187.2L257.3 190.1L256.9 192.4M267.1 185.4L267.8 179L268.3 174.3M251.7 178.7L254.2 183.5L258.3 187.2M275.4 187.6L277.9 184.6L279.6 180.9M275.4 187.6L273.1 188.6L272 188.5M377.1 263.6L376.5 269L376.3 272.6M377.1 263.6L378.4 262.4L380.1 261.4M386.9 273.7L387.7 270.6L388.8 266.3M376.3 272.6L378.8 274.2L380.3 276M388.8 266.3L384.1 263L380.1 261.4M526 94.2L521.7 89.1L518.3 85.7M514.1 100.9L511.6 94.9L509.7 90.2M518.3 85.7L514.3 88.5L509.7 90.2M502.7 104.2L501.1 100L499.6 95.8M509.7 90.2L507 90.2L504.9 88.5M499.6 95.8L503.3 92.4L504.9 88.5M496.3 110.1L496.4 109.9L495 110.1M491.4 95.5L495.7 95.4L499.6 95.8M491.4 95.5L490.7 98.8L488.1 101.7M488.1 101.7L492.3 106.1L495 110.1M487.6 125.4L486.6 121.1L487.3 117.6M495 110.1L491.3 114.7L487.3 117.6M474.9 126.7L473.5 122.2L471.5 118.2M487.3 117.6L483.7 115.2L479.5 112.2M471.5 118.2L476.4 115.4L479.5 112.2M488.1 101.7L482.2 103.4L478.2 103.1M479.5 112.2L478.2 107.4L478.2 103.1M476.8 90.7L483.1 89.1L487.5 86.9M476.8 90.7L477.8 96.7L478.2 103.1M491.4 95.5L489.3 90.8L487.5 86.9M478.2 103.1L478.7 102.8L478.2 103.1M456.3 74.5L455.8 77L456.8 80.7M443.5 72L440.9 74.1L439.7 74.5M456.8 80.7L452.5 85.6L449 91.6M449 91.6L447.5 90.6L445.3 90.4M445.3 90.4L443.1 82.9L439.7 74.5M430.9 56.6L430.2 62.2L429 67.8M429 67.8L434.1 71.1L439.7 74.5M439.7 74.5L440.2 73.6L439.7 74.5M389.3 207.1L393.1 204.6L398 201.2M389.3 207.1L390 209.9L389.9 212.3M389.9 212.3L394.5 213L400 214.8M398 201.2L400.3 200.9L402.4 201.5M402.4 201.5L404.3 205.7L405.2 208.9M400 214.8L402.7 213.1L404.6 210.9M404.6 210.9L405.7 210L405.2 208.9M416.7 198.4L416.8 202L417.6 206.6M405.2 197L403 199.5L402.4 201.5M417.6 206.6L417.5 207.6L416.4 208.1M416.4 208.1L410.1 208.9L405.2 208.9M401.1 228.2L404.3 227.8L406.6 227.9M401.1 228.2L399.9 225.9L398.6 225.3M398.6 225.3L399.5 219.1L400 214.8M406.6 227.9L408.9 225L411.8 220.9M411.8 220.9L408.5 215.6L404.6 210.9M419.2 217.5L418.6 213.1L416.4 208.1M419.2 217.5L419 218.7L417.1 220M417.1 220L414.8 220.7L411.8 220.9M406.6 227.9L410.2 231.4L415.6 236.4M417.1 220L418.6 224.3L421.5 229.8M415.6 236.4L419.5 233.5L421.5 229.8M419.2 217.5L423.8 217.9L427.6 216.7M430.7 220.3L427.9 225.3L426.3 229.3M426.3 229.3L424 229.3L421.5 229.8M405.1 195.1L402.9 192.1L399.6 188M412.8 185.7L408 182.6L402.8 178.7M399.6 188L401.9 183.1L402.8 178.7M451.3 162.9L450.5 168.2L448.3 173.6M461.2 164.1L462.9 169L463 173.1M448.3 173.6L452.6 176.7L456.5 177.9M456.5 177.9L459.8 174.9L463 173.1M446.3 125.3L442.7 126.6L439 128.3M446.3 125.3L446.9 119.8L445.6 115.5M445.3 115.3L440.3 116.2L434.8 117M445.3 115.3L444.7 115.8L445.6 115.5M439 128.3L436.4 126.1L433.4 124.1M433.4 124.1L435 119.8L434.8 117M452.1 129.2L449.5 126.8L446.3 125.3M438.3 136.8L442.7 138L447.2 139.7M438.3 136.8L439 133.3L439 128.3M425.7 53.9L421.2 54.7L418.3 55.6M418.3 55.6L415 52L410.8 49.1M429 67.8L424.5 70.7L420.5 71.7M420.5 71.7L420.1 75.5L421.2 78.9M439.7 74.5L434.6 80.1L428.7 85M421.2 78.9L424.1 82.8L428.7 85M437.2 93.2L440.3 90.9L445.3 90.4M437.2 93.2L433.2 89.3L429 87.1M429 87.1L428.5 86.7L428.7 85M388.5 104.2L392.4 104.5L396 104.5M388.5 104.2L387.2 98.4L384.2 94.2M385.8 92.1L394.2 92.5L400.7 92.4M396 104.5L398.7 97.5L400.7 92.4M403.6 84.5L403 88.1L400.9 92.2M400.9 92.2L400.6 92.6L400.7 92.4M456.6 367.4L455.2 373.1L454.2 377M386.4 399.6L387.2 404.1L386.4 409.1M372 404L373.1 407.2L375.3 410.8M372 404L373.5 401.7L373 400.3M376.7 397.6L374.9 398.3L373 400.3M375.3 410.8L380.8 410.9L386.4 409.1M399.9 419.5L398.7 413.7L397.8 409.9M395.9 422.4L392.1 421.2L387.9 418.9M397.8 409.9L397.3 408.9L397.4 409.5M397.4 409.5L392.6 410.7L388.3 410.8M387.9 418.9L388.1 413.9L388.3 410.8M413.9 413.9L411.9 410.4L409.1 407.8M409.1 407.8L403.6 408.7L397.8 409.9M375.8 383.4L371.3 383.3L367.9 383.7M375.8 383.4L376.9 379.7L378.9 375.8M366.9 369.9L365.3 376.6L365.1 381.2M366.9 369.9L372.2 370.6L376.2 370.3M365.1 381.2L366 383.3L367.9 383.7M376.2 370.3L378.5 372.3L378.9 375.8M373 400.3L368.6 395.7L365.1 392.6M365.1 392.6L366.1 388.7L367.9 383.7M378.3 386.3L378 384.9L375.8 383.4M393.7 379.1L389.7 383.7L386 387.3M389.9 374.6L385.1 375.2L378.9 375.8M360.9 380.9L363 380.9L365.1 381.2M365.1 392.6L362.4 393.5L359.9 394.6M359.9 394.6L355.1 392.5L351.7 388.8M378.1 365.8L377.2 368.4L376.2 370.3M419 360.5L419.8 361.2L420.8 360.8M410.1 373.4L412.6 376.5L416.2 378.3M416.2 378.3L420.8 377.6L423.6 378.3M423.6 378.3L424.8 375.3L426.2 374.1M420.8 360.8L424 367.5L426.2 374.1M409.1 407.8L408.3 405.1L409.4 400.7M419.9 411.8L422.3 408.8L423.1 406.7M409.4 400.7L415.7 398.7L421 398.4M423.1 406.7L422.4 402.2L421 398.4M416.2 378.3L413.5 382.9L412.8 388.2M427.1 384.7L425.4 380.6L423.6 378.3M427.1 384.7L427.3 388.4L425.9 392.5M412.8 388.2L417.9 392.2L423 394.2M425.9 392.5L425.3 393.8L423 394.2M496 163.9L496.3 169L495.7 172.8M507.8 165.8L506.2 169.6L503.9 172.9M495.7 172.8L500.6 172.1L503.9 172.9M503.9 172.9L507.8 176.5L509.7 181.2M521.6 141.3L523.9 145.1L527.2 148.4M474.9 171.2L480.8 173L486.5 174.7M474.9 171.2L476 165.1L475.7 161M486.5 174.7L485.2 168L485.3 162.5M475.7 161L480.6 161.5L485.3 162.5M486.9 175.2L484.3 180.2L481 185.6M486.9 175.2L485.8 175.5L486.5 174.7M481 185.6L476.3 183.6L471.7 182M471.7 182L470.3 179.6L469.8 175.7M469.8 175.7L472.6 172.7L474.9 171.2M474.7 159.8L475 161.4L475.7 161M463 173.1L465.9 173.7L469.8 175.7M490 159.3L486.8 160L485.3 162.5M486.9 175.2L489 175.3L492.9 175.5M492.9 175.5L495.1 175.1L495.7 172.8M388.8 266.3L391.6 265.4L392.8 264.9M380.1 261.4L381.3 256.4L381.7 253.1M381.7 253.1L384.9 251.5L387 250.8M387 250.8L391.6 255L395.5 260M395.5 260L394.1 262.4L392.8 264.9M398.9 246.7L401.3 251.6L403.2 257.3M389.4 247.2L387.6 249.1L387 250.8M395.5 260L399.9 258.4L403.2 257.3M462.9 344.5L465.8 341.1L466.8 337.9M462.9 344.5L464.9 347.1L467.3 350.1M466.8 337.9L472.8 338.8L477 340.4M456.3 358.1L455.1 355.9L453.4 353.5M453.4 353.5L457.1 348.1L458.9 344.6M458.9 344.6L461.9 344.2L462.9 344.5M372 404L366.8 404.4L360.5 406.1M375.3 410.8L375.1 412.8L374 415.5M374 415.5L366.5 416.3L360.3 418.4M360.5 406.1L359.8 413.1L360.3 418.4M359.9 394.6L358.8 398.9L357.9 403.9M360.5 406.1L359.8 405.1L357.9 403.9M359.8 437.3L361 438.1L361.5 439.8M359.8 437.3L354.2 436.4L349.8 436.9M361.5 439.8L361.3 443.5L361.8 447.5M362.9 428.1L361.6 432.5L359.8 437.3M362.9 428.1L360.7 423.5L358.9 420.1M353.5 420.3L356 420.3L358.9 420.1M353.5 420.3L349.6 427.1L347.2 432.8M352.9 372.1L353.8 370.9L353.1 369.3M366.9 369.9L365.7 369.9L365.3 368.1M353.1 369.3L358.4 368.1L365.3 368.1M345.9 380.1L342.1 377.2L337.2 373M345.2 365L347.6 364.2L350.5 365M353.1 369.3L352.1 366.9L350.5 365M376.3 272.6L372.6 273.2L367.6 275.6M375.6 285.8L377.9 283.4L380.1 282.3M375.6 285.8L373.1 286.2L368.8 284.6M367.6 275.6L368.3 280.5L368.8 284.6M398.6 225.3L394.4 225.5L388.7 224.1M389.9 212.3L387.4 214.4L386.5 217.1M386.5 217.1L388.2 220.1L388.7 224.1M401.1 228.2L399.8 232.3L398.7 234.5M387.4 237.6L386.2 233.3L385 228.6M388.7 224.1L386.3 225.6L385 228.6M329 227.4L323.5 226.1L316.4 223.7M329 227.4L329.8 226.9L332.1 224.7M332.1 224.7L332.7 222.3L331.6 220.7M331.6 220.7L328 215.8L322.9 212.5M316.4 223.7L317.4 219.7L319.3 214.2M322.9 212.5L321.2 213.2L319.3 214.2M311.2 209.7L314.9 211.4L319.3 214.2M311.2 209.7L307.4 210.8L304.8 212.1M304.8 212.1L304 213.2L303.2 215.9M313 225.7L308.5 220L303.2 215.9M313 225.7L314 225.5L316.4 223.7M334.6 225.2L341.2 221.8L348.3 219.8M334.6 225.2L338.1 228.8L342 233.7M342 233.7L344.9 232.5L349.4 229.4M349.4 229.4L348.2 225.2L348.6 220M348.6 220L348.3 219.4L348.3 219.8M333.3 240.6L330.9 239.4L327 238.1M333.3 240.6L336.4 238.7L341.2 237.4M327 238.1L328.2 232.6L329 227.4M341.2 237.4L341.2 235.2L342 233.7M332.1 224.7L333 224.9L334.6 225.2M333.3 240.6L335.8 245.7L336.2 249.1M341.2 237.4L344.9 242L348.5 245M348.3 246.2L347.7 245.8L348.5 245M348.3 246.2L347.1 247.3L344.6 249.4M336.2 249.1L340.6 249.3L344.6 249.4M353.1 260.9L353.3 258L355.1 253.3M353.1 260.9L348.4 260.2L344.3 259.3M355.1 253.3L350.7 249.8L348.3 246.2M344.6 249.4L344.4 255.1L344.3 259.3M386.1 350.9L380.9 349L377.4 345.5M390.1 337.9L383.6 338.9L378.3 338.6M377.4 345.5L378.4 342.2L378.3 338.6M378 327.6L382.6 328.6L387.9 329.7M378 327.6L377.6 331.9L376.6 336.6M376.6 336.6L376.5 338L378.3 338.6M466.1 334.8L462.7 332.4L458.5 330.8M466.1 334.8L465.9 337.2L466.8 337.9M458.9 344.6L455.4 340.8L452.5 338.7M458.5 330.8L456.2 334.2L452.5 338.7M453.4 353.5L449.2 352.6L445.5 351.5M445.5 351.5L446.6 344.6L447.7 338.8M452.5 338.7L449.6 338.8L447.7 338.8M436.2 341.1L432.1 339.3L429.5 335.9M436.2 341.1L440.3 338.4L445.4 337M429.6 331.2L435.6 328.7L442.8 327.3M442.8 327.3L445 332L445.4 337M412.7 311.7L412.2 316.8L410.6 320.6M412.7 311.7L408.1 309.3L405.1 306.5M403.3 320L402.2 315.4L399.8 311.9M405.1 306.5L403.3 309.3L399.8 311.9M388 315.6L389.1 314.4L390.1 311.2M388 315.6L389.1 319.9L391.4 322.4M399.8 311.9L394.4 311.7L390.1 311.2M410.1 296.9L408.7 293.7L409 291.1M410.1 296.9L406.9 300L404.7 301.9M409 291.1L405.3 288.7L399.7 287.8M404.7 301.9L400 300.7L397.1 298.8M397.1 298.8L396.6 295.6L394.3 290.6M394.3 290.6L397.7 289.7L399.7 287.8M405.1 306.5L405 303.2L404.7 301.9M390.1 311.2L390.4 309.4L389.1 307.4M389.1 307.4L393 302.1L397.1 298.8M426.6 318.6L426 318.1L426.7 318.2M412.7 311.7L416.2 310.7L417.8 309.2M426.7 318.2L422.7 313.5L417.8 309.2M236.1 287.6L239.4 289L241 291M241 291L240.9 297L240.6 302.2M266.5 267.3L268.6 264L270.9 261.8M266.5 267.3L262.6 267.9L258.6 267.4M258.6 267.4L255.3 264.4L252.3 260.6M255.6 257L253.5 258.6L252.3 260.6M255.6 257L263.6 255.9L269.7 256.5M269.7 256.5L271.2 258.2L270.9 261.8M266.5 267.3L268.2 270.8L268.7 274.7M279.9 271.9L278.9 274.4L277 277.9M279.9 271.9L278.5 268L278.4 265.7M268.7 274.7L271.8 276.1L277 277.9M270.9 261.8L273.8 263.3L278.4 265.7M261.5 244.3L266.3 241.3L269.6 237.6M261.5 244.3L266.2 247.7L271.2 253.1M271.2 253.1L270.4 254L271.5 252.9M271.5 252.9L273.9 246.5L276.5 239.7M276.5 239.7L273.5 238.8L269.6 237.6M269.7 256.5L271 254.9L271.2 253.1M278.4 265.7L281.5 263L284.6 260.4M283.1 253.6L284.6 258L284.6 260.4M283.1 253.6L277 252.7L271.5 252.9M286.2 291.8L287.5 287.7L287 284.5M286.2 291.8L282.5 293.3L277.9 295.9M287 284.5L282.5 282L277.6 280.2M277.6 280.2L274.6 282.2L273.5 286.2M273.5 286.2L275.3 290.9L277.9 295.9M286.2 291.8L289.2 294.7L292.4 297.8M282.7 305.2L279.3 302.6L275.8 301.5M282.7 305.2L286.8 304.4L290.4 302.6M292.4 297.8L291.3 300.1L290.4 302.6M277.9 295.9L276.1 297.8L275.8 301.5M253.5 293.3L250.6 291.3L248.7 289.6M253.5 293.3L258 290.8L264.1 288.8M248.7 289.6L250.3 284.5L251.9 279.1M264.1 288.8L264.6 288.6L264.3 288.3M264.3 288.3L261.9 283.8L260.8 280.1M260.8 280.1L258.7 279.2L256.8 278.1M256.8 278.1L254.2 278.4L251.9 279.1M241 291L245.7 290.7L248.7 289.6M254.3 301.7L249.6 302.6L243.1 304.9M254.3 301.7L254.2 297.5L253.5 293.3M240.6 302.2L241.5 302.6L243.1 304.9M241.4 271.6L247.4 274.4L251.9 279.1M268.7 274.7L263.8 277.2L260.8 280.1M277.6 280.2L277.5 279.3L277 277.9M273.5 286.2L268.5 287.5L264.3 288.3M258.6 267.4L257.5 272.1L256.8 278.1M241.4 271.4L240.7 271L241.4 271.6M241.4 271.4L245.7 265.9L248.5 261.2M248.5 261.2L250.5 260.2L252.3 260.6M287 284.5L291.4 283.6L293.9 281.2M279.9 271.9L285.6 271.1L292.6 271.4M292.6 271.4L294 275.9L293.9 281.2M284.6 260.4L288.2 262.1L293.5 263.4M293.5 263.4L293.3 264.8L294.5 267.9M292.6 271.4L293.8 270.6L294.5 267.9M308.6 258.3L307 264.7L306.8 269.8M308.6 258.3L303 258.6L296.9 257.4M296.9 257.4L294.9 260.1L293.5 263.4M294.5 267.9L300.8 268.3L306.8 269.8M310.9 256.4L315 258.9L319.9 263M310.9 256.4L310.4 257.3L308.6 258.3M319.9 263L318.1 268.2L317.8 271.8M317.8 271.8L312.5 270.9L308.3 271.8M306.8 269.8L307.5 271.1L308.3 271.8M394.3 171.8L387.3 171.7L380.1 171M394.3 171.8L394.9 173.8L395.8 174.4M380.1 171L381 175.4L381.5 181M395.8 174.4L392.8 178.3L388.4 183.9M381.5 181L384.7 182.7L388.4 183.9M399.6 188L395.8 188.3L390.1 189.2M395.8 174.4L398.4 176L402.3 177M402.3 177L403.2 177.5L402.8 178.7M388.4 183.9L389.3 187L390.1 189.2M398 201.2L393.7 197.5L389 192.2M389 192.2L388.9 191.4L390.1 189.2M382.4 202.5L382 198.9L383.3 196M382.4 202.5L381.8 203.4L379.7 204.1M379.7 204.1L374.4 203.1L367.4 201.6M383.3 196L379 192.3L373.6 189.6M367.4 201.6L367.7 197.2L368.2 193M368.2 193L370.5 191.2L373.6 189.6M389.3 207.1L386.1 205.7L382.4 202.5M389 192.2L386.2 193.3L383.3 196M386.5 217.1L381.3 215.9L376.7 215.4M376.7 215.4L377.7 209.7L379.7 204.1M374.4 186.3L377.6 184.2L381.5 181M374.4 186.3L373.9 188.7L373.6 189.6M357.8 180.4L358.8 185.6L360.6 188.8M360.6 188.8L363.6 191.1L368.2 193M360.8 178.1L363.9 177.4L368.5 177.8M368.5 177.8L372.1 182.1L374.4 186.3M376.7 215.4L374.6 215.5L373.1 217.4M367.4 201.6L366.7 203.5L364.6 204.9M373.1 217.4L367.9 210.8L364.6 204.9M360.6 188.8L356.9 191.3L353.2 195.6M346.1 188.5L346.4 191.7L348.4 194.3M353.2 195.6L351.6 194.6L348.4 194.3M360.5 205.8L361.6 205.3L364.6 204.9M360.5 205.8L359.4 205.8L357.1 204.7M353.2 195.6L355.7 200.7L357.1 204.7M325.2 176.2L331.4 176.4L336.7 178.4M388.5 104.2L386.6 108.3L383.9 110.5M383.9 110.5L380.3 110.4L376.6 111.3M416.1 185.2L418.9 183.3L420.1 180.4M402.3 177L406.8 172.2L411.2 169.2M411.2 169.2L415.5 174.6L420.1 180.4M394.3 171.8L395.4 167.4L395.5 161.3M395.5 161.3L402.6 162L409.7 163M409.7 163L410.9 164.7L411.7 166.1M411.2 169.2L411.8 167.1L411.7 166.1M439.9 180.8L439.8 182.9L440 183.7M439.9 180.8L434 177.2L427.9 173.9M440 183.7L434.3 185.2L430.1 188M430.1 188L425.2 184.8L422 180M427.9 173.9L425.1 177.4L422 180M420.1 194.8L424.4 195.5L428 195.7M430.1 188L428.3 191.7L428 195.7M422 180L420.7 179.2L420.1 180.4M434.5 138.9L434.9 146.4L435.3 152.1M434.5 138.9L437.3 137.1L438.3 136.8M450.5 146.5L443.6 148.5L435.5 152.3M435.3 152.1L434.7 151.5L435.5 152.3M394.5 159.7L394 158.7L394.4 159.6M394.5 159.7L397.7 152.9L402 147.7M402 147.7L398.4 145L394 140.8M385.1 148L389.8 152.9L394.4 159.6M385.1 148L384.5 145.6L385 144.7M385 144.7L390.5 142.7L394 140.8M381.5 162.7L379.5 159.8L378.9 156.6M381.5 162.7L379.7 166.5L378.9 169.8M378.9 169.8L376.7 170.1L374.7 169.9M374.7 169.9L372.4 167.6L369 165.4M369 165.4L368.1 159.9L368.5 154.6M368.5 154.6L373.8 155L378.9 156.6M385.1 148L382.7 152.7L378.9 156.6M394.4 159.6L387.2 161.7L381.5 162.7M380.1 171L380 170.6L378.9 169.8M395.5 161.3L395.1 160.5L394.5 159.7M368.5 177.8L370.8 173L374.7 169.9M361.9 167.8L366 166.4L369 165.4M368 154L368.4 154.6L368.5 154.6M381.1 142.2L383.9 143.8L385 144.7M238.8 217L240.5 213.2L241.1 207.4M264.3 200.2L261.1 206.1L256.2 211.3M256.9 192.4L252.7 196.3L248 198.2M248 198.2L248.5 200.8L247.9 204M256.2 211.3L252.7 208.5L247.9 204M239.9 190.5L239.4 190.2L240.1 189.4M251.7 178.7L245.7 183.2L240.1 189.4M248 198.2L243.7 193.5L239.9 190.5M241.1 207.4L243.6 206.1L247.9 204M291.3 187.5L288.6 190.1L284 193.1M291.3 187.5L293.7 190.2L295.6 191.5M295.6 191.5L296 196.2L295 202.1M284 193.1L283.2 196.8L283.5 201M295 202.1L291.1 203L288.2 205M283.5 201L286.7 203.2L288.2 205M275.4 187.6L280.2 190.5L284 193.1M300.4 203.7L296.8 202.8L295 202.1M300.4 203.7L303.9 199.2L308.6 195.5M308.6 195.5L307 193.1L304.2 190.9M304.2 190.9L300.1 190.7L295.6 191.5M270.3 199.7L270.8 200.6L273.4 202.7M273.4 202.7L277.6 202.7L283.5 201M304.8 212.1L303.4 207.9L300.4 203.7M295.8 218.8L297.1 218.5L296.9 219M295.8 218.8L292.5 214L287.8 210.3M303.2 215.9L300.1 217.1L296.9 219M287.8 210.3L287.6 207.9L288.2 205M457.9 72.9L465.2 72.2L471.6 73M471.6 73L472.2 67.7L472.8 64M471.3 87.2L472.3 81.3L473.7 75.4M471.3 87.2L470.5 87.1L468.4 88.1M456.8 80.7L462.9 85.1L468.4 88.1M471.6 73L472.1 73.4L473.7 75.4M471.3 87.2L474.4 88.2L476.8 90.7M487.5 86.9L486.9 86.2L487.8 86.3M487.8 86.3L486.6 80.7L484.9 75M473.7 75.4L478.8 74.3L484.9 75M484.9 75L486.9 72.8L487.8 71.3M487.8 86.3L493.9 84.6L501.2 82.6M495.9 72.4L498.5 76.7L501.2 82.6M504.9 88.5L503.1 86.6L502.4 83.1M501.2 82.6L502.4 82.2L502.4 83.1M529.8 78.1L526.8 76.7L524.8 76.2M518.3 85.7L519 83.2L519.7 79.2M502.4 83.1L506.5 78.2L510.6 74.9M453.3 98.3L458.5 97L461.9 97.2M453.3 98.3L455.8 106.7L458.5 114.5M461.9 97.2L465.6 100.3L468.8 104.1M468.8 104.1L466.2 109.9L463.4 115.3M458.5 114.5L458.9 116L461 116M461 116L462 115.5L463.4 115.3M468.4 88.1L465.1 93.3L461.9 97.2M449 91.6L450.9 95.8L453.2 98.2M453.2 98.2L453.3 98.7L453.3 98.3M444.2 106.7L449.3 101.6L453.2 98.2M444.2 106.7L444.9 110.3L445.3 115.3M445.6 115.5L451.7 115L458.5 114.5M478.2 103.1L473.1 104.6L468.8 104.1M471.5 118.2L467.1 116.4L463.4 115.3M458.4 128.1L459.8 121.6L461 116M439.6 197.9L434.9 198L428.4 196.2M439.6 197.9L440.2 203.5L440.4 207.7M440.4 207.7L434.7 208L429.5 208.5M428.4 196.2L427.7 202L427.6 206.2M427.6 206.2L429.1 206.4L429.5 208.5M440 183.7L439.7 184.2L440.8 184.8M428 195.7L428.3 195.9L428.4 196.2M440.8 184.8L440.7 189.6L441.2 196.1M441.2 196.1L439.8 197.9L439.6 197.9M417.6 206.6L422.9 206.1L427.6 206.2M427.6 216.7L428.1 211.7L429.5 208.5M412.3 242.7L413.3 240.4L415.6 236.8M412.3 242.7L412.9 246.1L413.9 249.2M415.6 236.8L420.3 239.9L426.1 241.9M413.9 249.2L416.3 250.1L420.2 252M420.2 252L422.3 248.5L426.4 246.9M426.1 241.9L425.6 244.6L426.4 246.9M402 242.3L407.7 241.8L412.3 242.7M415.6 236.4L415.1 235.9L415.6 236.8M403.2 257.3L404.6 258.7L405.7 258.1M405.7 258.1L409.9 252.7L413.9 249.2M431.5 233.9L431.9 235.2L431.4 237.6M431.5 233.9L428 232.1L426.3 229.3M431.4 237.6L427.9 239L426.1 241.9M439.5 244L436.4 241.5L431.4 237.6M439.5 244L439.3 244.6L439.7 245.5M439.7 245.5L436.6 248.2L434.6 250.7M434.6 250.7L430.3 248L426.4 246.9M404.3 61.3L409 64.1L414.8 65.5M402.2 78.1L408.7 73L416.4 69.2M416.4 69.2L414.8 67.8L414.8 65.5M418.3 55.6L417.2 60.7L414.8 65.5M420.5 71.7L417.7 70L416.4 69.2M403.6 84.5L408 84.5L413.3 85.6M421.2 78.9L416.9 81.9L413.3 85.6M394 140.8L395.6 135.4L396.4 131.7M396.4 131.7L391.2 129.5L387.4 126M383.9 110.5L386.3 114L389.8 117.2M389.8 117.2L388.7 121.7L387.4 126M444.2 106.7L440.1 104.5L434.3 103.1M434.8 117L432.2 114.2L431.4 113M431.4 113L433.7 108.1L434.3 103.1M437.2 93.2L435.2 97.7L434.1 102.6M434.1 102.6L433.6 103.2L434.3 103.1M413.3 85.6L415.4 90.8L418.9 95.5M400.9 92.2L405.8 95.5L409.6 99.6M409.6 99.6L415.2 97.3L418.9 95.5M423.3 113.9L422.6 111L419.9 108.8M423.3 113.9L427.3 114L431.4 113M434.1 102.6L428.9 100.7L423 100.5M419.9 108.8L421.1 104.5L423 100.5M429 87.1L424.5 91.6L420.5 96M423 100.5L421 98.7L420.5 96M420.5 96L419.1 95.8L418.9 95.5M375.7 437.3L375 432.3L373.6 428.6M387.5 431.4L385 427.9L381.8 423.5M373.6 428.6L375.1 426L377.9 423M377.9 423L380 424.2L381.8 423.5M375.1 438.6L368.9 439L361.5 439.8M362.9 428.1L368.6 428.2L373.6 428.6M387.9 418.9L384.3 420.7L381.8 423.5M374 415.5L375.3 419.2L377.9 423M358.9 420.1L359.7 418.3L360.3 418.4M386.4 409.1L386.4 409.6L388.3 410.8M259.6 404.4L264.9 404.2L270.5 404.7M259.6 404.4L256.9 406.7L256 411M270.5 404.7L271.7 407.5L273.2 411.2M272.3 413.7L272.5 413.1L273.2 411.2M272.3 413.7L264.1 416L257.9 417.5M256 411L257.4 413.4L257.9 417.5M264.7 427.9L264 427L263.2 427.5M264.7 427.9L269.8 424.6L276.2 422.3M263.2 427.5L260.4 422.2L257.5 419M276.2 422.3L274.1 417.6L272.3 413.7M257.9 417.5L258.1 418.6L257.5 419M272.3 400.8L277.2 400.8L280.9 399.2M272.3 400.8L271.1 396.8L269.9 394.8M269.9 394.8L273.3 390.7L275 388.2M275 388.2L279.5 391.4L282.4 393.4M282.4 393.4L281 396L280.9 399.2M259.6 404.4L258.8 400.2L257.7 396.3M257.7 396.3L259.8 393.6L260.8 392.8M270.5 404.7L271.5 402L272.3 400.8M260.8 392.8L265.2 394.3L269.9 394.8M273.9 381.5L273 380.6L270.8 381.1M273.9 381.5L274.8 384L275 388.2M260.8 392.8L261.5 389.4L260.9 386.6M270.8 381.1L265.2 384L260.9 386.6M400.7 385.4L403.8 388.4L408.6 390M400.7 385.4L398.5 391.8L394.6 396.3M408.6 390L408.1 394L408 399M408 399L403.4 399.7L397.1 398.8M397.1 398.8L396.7 398.4L394.6 396.3M399.8 382.4L400.5 382.9L400.7 385.4M412.8 388.2L411.2 390L408.6 390M390.7 396.1L392.1 395.7L394.6 396.3M409.4 400.7L408.3 400.4L408 399M421 398.4L422.2 395.4L423 394.2M397.4 409.5L397.3 403.8L397.1 398.8M436.2 341.1L436.5 344.1L435.7 346.7M445.5 351.5L444.2 351.4L443.6 352.5M445.4 337L445.7 338.4L447.7 338.8M443.6 352.5L439.9 349.2L435.7 346.7M423.6 344.3L427.1 346.3L429.2 350M435.7 346.7L433.1 347.7L429.2 350M420.8 360.8L424.9 358.9L428.3 357.9M429.2 350L428 353.6L428.3 357.9M445 365.6L444.2 360.8L442.3 355.2M445 365.6L442.4 368L438.9 371.3M438.9 371.3L438.5 370.1L436.8 370.5M436.8 370.5L433.4 365.8L431.3 359.3M442.3 355.2L436.9 357.8L431.3 359.3M455.3 365.8L450.4 365.2L445 365.6M443.6 352.5L442.6 354.3L442.3 355.2M454.2 377L452.7 378.3L451.3 378.6M440 374.1L446.4 376.3L451.3 378.6M440 374.1L440.1 372.8L438.9 371.3M427.1 384.7L433.6 383.8L438.1 383M438.1 383L440.1 378.6L440 374.1M426.2 374.1L432 373L436.8 370.5M428.3 357.9L430.6 358.4L431.3 359.3M423.1 406.7L428 405.9L434.4 406.9M425.9 392.5L429.7 393.3L431.8 395.3M431.8 395.3L433.8 401.1L434.4 406.9M409.4 265.6L404.1 269.6L399.1 271.8M409.4 265.6L410.4 270.3L411.3 276.8M411.3 276.8L411.1 276.9L409.8 278.7M409.8 278.7L405.9 279.7L401.9 279.5M401.9 279.5L400.1 278.3L398.5 275.6M398.5 275.6L398 273.4L399.1 271.8M392.8 264.9L396.7 269L399.1 271.8M405.7 258.1L407.7 261.3L409.5 265.2M409.5 265.2L408.7 266.1L409.4 265.6M411.7 287.4L410.2 283.5L409.8 278.7M411.7 287.4L410.1 289.4L409 291.1M399.7 287.8L400.1 283.8L401.9 279.5M391.6 277.8L395.7 276.5L398.5 275.6M390.8 289.4L390.4 287.6L389.7 287M390.8 289.4L393.4 290.5L394.3 290.6M434.6 250.7L433.6 254.9L434.1 257.2M434.1 257.2L432.7 258.7L429.8 259.8M420.2 252L421.9 255L421.9 256.5M421.9 256.5L426.4 258.8L429.8 259.8M409.5 265.2L411.9 264.3L416 264.7M421.9 256.5L419.4 261.2L416 264.7M467.4 237.6L463.1 236.8L460.2 236.1M460.2 236.1L460.3 231.9L461.2 226.2M465.7 189.2L460.8 187.4L456.1 184.7M465.7 189.2L466.7 192.6L466.9 196.7M452.9 197.5L460.4 198.3L465.8 197.9M452.9 197.5L452.3 196.9L452.5 196.8M452.5 196.8L452.1 192.9L453.1 187.3M456.1 184.7L454 187L453.1 187.3M466.9 196.7L466.1 197.5L465.8 197.9M456.5 177.9L456 181.7L456.1 184.7M471.7 182L469.2 186.4L465.7 189.2M458.2 211.8L454.9 209.1L451.7 207.2M451.7 207.2L452.7 201.4L452.9 197.5M464.2 210.3L465.3 203.2L465.8 197.9M441.2 196.1L447.6 197.2L452.5 196.8M442.5 209.7L447.6 208.6L451.7 207.2M440.8 184.8L446 185.4L453.1 187.3M443.6 175.1L442.5 177L439.9 180.8M443.6 175.1L445.6 173.5L448.3 173.6M466.1 334.8L469.4 330.9L472.5 326.6M472.5 326.6L474.5 326.2L478 327.5M464.9 318.5L464.9 318.9L465.8 318.7M464.9 318.5L463.7 312L463 306.5M465.8 318.7L469.8 316L475.5 312.2M469.3 302.6L467 304.2L463 306.5M469.3 302.6L473 303.4L474.8 305.5M465.8 318.7L469.1 322.7L472.5 326.6M471.2 279.8L465 281.3L456.9 283.9M456.9 283.9L459 287.7L459.6 292.5M459.6 292.5L463.4 292.5L468.4 294.3M469.3 302.6L468.3 297.5L468.4 294.3M463 306.5L460.7 304.3L456.9 304.1M455 298.5L456.6 301.5L456.9 304.1M455 298.5L456.5 295.3L459.6 292.5M273.9 381.5L275.1 380.9L276.2 379.6M286.6 391.4L284.3 391.7L282.4 393.4M286.6 391.4L286.7 387.5L287.9 383.7M287.9 383.7L282.2 382.5L276.2 379.6M345.9 382.6L340.9 384L337.4 386.2M332.2 374.8L331.7 378.7L331.3 381.7M337.4 386.2L334.1 383.8L331.3 381.7M350.9 388.8L349.5 391.6L346.1 396.5M337.4 386.2L336.2 388.9L336.7 392.7M346.1 396.5L341.8 394L336.7 392.7M296.9 414.4L299 411.6L301.6 408.2M296.9 414.4L291.6 412L286.3 410.4M292.5 401.4L297.8 403.7L301.5 406.1M292.5 401.4L288.2 404.3L285.7 405.9M301.6 408.2L302.4 406.6L301.5 406.1M285.7 405.9L285.5 406.3L285.2 408.5M286.3 410.4L285.4 410.4L285.2 408.5M283.4 423.2L284.7 416.5L286.3 410.4M286.6 391.4L289.2 392.5L293 395M293 395L291.9 397.2L292.5 401.4M280.9 399.2L283.9 402.8L285.7 405.9M316 413L313.4 405.2L312.6 399.1M316 413L314.8 414L311.6 413.9M311.6 413.9L305.9 412L301.6 408.2M312.6 399.1L310.1 398.4L307 398M307 398L303.5 401.2L301.5 406.1M273.2 411.2L278.8 409.1L285.2 408.5M318.6 396.3L315.4 397.8L312.6 399.1M318.6 396.3L321.7 399.9L325.3 404.4M316 413L317.5 413.3L317.5 413.6M325.3 404.4L322.4 408.6L317.5 413.6M353.5 420.3L351.9 420L351.1 418.8M351.1 418.8L345 421L340.3 421.2M347.2 432.8L342.4 432.1L338.5 430M340.3 421.2L339.3 426.2L338.5 430M334.3 434.7L335 433.2L336.5 430.9M338.5 430L337 430.7L336.5 430.9M264.7 427.9L267.3 431.3L270.6 436.6M263.2 427.5L259.4 432.7L253.9 439.6M317.9 414L323.4 416.1L330.7 416.5M317.9 414L319.1 418L318.9 423.7M330.7 416.5L329.2 420.5L328.6 424.5M328.6 424.5L325.1 425.3L323.2 426.3M318.9 423.7L321.9 425.5L323.2 426.3M328.6 424.5L332.8 427L336.5 430.9M323.2 426.3L323.3 431.8L323.3 435.5M373.2 347.7L371 346.4L367.3 344.5M373.2 347.7L373.1 352.8L372.3 357M367.3 344.5L362.9 345.9L360.5 349.2M372.3 357L369.8 357.8L366.5 358.4M366.5 358.4L364.6 356.4L361.4 355.2M360.5 349.2L361.1 352.1L361.4 355.2M367.5 337.2L367.8 340L367.3 344.5M367.5 337.2L371.9 337.6L376.6 336.6M377.4 345.5L374.3 346.3L373.2 347.7M374.4 358L373.1 357.3L372.3 357M365.3 368.1L366.3 363.2L366.5 358.4M350.5 365L351.8 362.9L352.2 360.7M352.2 360.7L356.4 358.7L361.4 355.2M378 327.6L376.4 324.6L374.9 322.8M388 315.6L382.1 317.9L376.9 318.6M374.9 322.8L376.8 320.9L376.9 318.6M360.7 302.4L362.7 303.5L365.9 304.8M360.7 302.4L358.6 303.2L355.1 305.1M356.5 312.1L355.3 308.2L355.1 305.1M356.5 312.1L359.3 312.5L362.5 314.3M365.9 304.8L366 306.7L367 310.3M362.5 314.3L364.8 311.7L367 310.3M373.1 298.7L372.5 298.6L373.1 299.4M373.1 298.7L375.5 296.1L378.2 294M373.1 299.4L375.3 301.4L377.4 305.3M378.2 294L380.3 294L384.4 294.8M384.4 294.8L385.2 300.8L386.1 305M386.1 305L380.8 305.8L377.4 305.3M375.6 285.8L376.2 290L378.2 294M368.8 284.6L366.5 287.8L363.2 290M363.2 290L367.6 295L373.1 298.7M365.9 304.8L368.6 301.8L373.1 299.4M374.2 313.2L371.6 312.3L367 310.3M374.2 313.2L375.7 308.7L377.4 305.3M390.8 289.4L387.5 291.9L384.4 294.8M389.1 307.4L388.5 305.6L386.1 305M374.2 313.2L376.2 316.5L376.9 318.6M377.1 263.6L371.4 263.1L366.5 261.3M366.5 261.3L366.5 262.2L364.7 263.2M367.6 275.6L366.1 274.7L365.3 274M365.3 274L365.1 268.8L364.7 263.2M366.5 261.3L366.2 256.7L365.8 250.8M353.1 260.9L353.5 263.1L354.7 263.3M365.8 250.8L360.5 251.2L355.1 253.3M354.7 263.3L359.1 263.4L364.7 263.2M348.5 245L351.5 242.6L353.2 241.3M349.4 229.4L351.9 229.8L352.5 231.8M352.5 231.8L353.8 235.9L353.2 241.3M326.9 238.1L327.1 238.6L327 238.1M326.9 238.1L322.2 237.9L318.7 238.1M313 225.7L312.1 226.7L312.7 226.3M312.7 226.3L315.7 232.6L318.7 238.1M311.9 249.5L312.5 247.1L313 242.9M311.9 249.5L312.2 249.7L312.2 250.2M326.9 238.1L326.2 244.9L324.5 251M312.2 250.2L318.3 249.8L324.5 251M313 242.9L316.9 239.7L318.7 238.1M296.9 219L297.6 224.8L298.7 229.3M312.7 226.3L308.2 229.1L304.7 232.6M298.7 229.3L301 230.2L304.7 232.6M313 242.9L309.2 238.9L304.9 235.9M304.9 235.9L304 235.1L304.7 232.6M311.9 249.5L303.4 247.5L295.8 245.6M304.9 235.9L300.6 241L295.8 245.6M344.3 259.3L342.2 260.9L340.5 262.1M340.5 262.1L342 266.2L342 270.1M354.7 263.3L352.8 267.3L351.8 272.3M342 270.1L346.6 271.2L351.8 272.3M365.3 274L360.5 275.5L354.1 276.6M351.8 272.3L353.4 274.6L354.1 276.6M367.5 337.2L364.7 335.7L362.7 332.3M374.9 322.8L368.9 324L364.5 325.6M362.7 332.3L363.2 328.4L364.5 325.6M362.5 314.3L362.4 319.6L364.1 325.2M364.5 325.6L365.3 325.8L364.1 325.2M336.7 357.9L336 355.8L336.7 352.1M352.2 360.7L349.8 356.1L346.2 349.8M346.2 349.8L340.9 351.6L336.7 352.1M301.5 332.5L304.9 335.3L310.1 338.9M301.5 332.5L297.8 335L294.4 337.9M296.5 346.3L303.2 346.3L309.6 345.6M296.5 346.3L295 341.3L294.4 337.9M310.1 338.9L309 342.1L309.6 345.6M464.9 318.5L465.2 319L463.7 319M458.5 330.8L458 330.2L458 328.4M463.7 319L461.8 324.7L458 328.4M410.1 296.9L413.6 297.7L418.5 299.7M417.8 309.2L418.2 307.1L419.9 303.1M418.5 299.7L420 301.4L419.9 303.1M426.7 318.2L429.1 316.9L431 315.7M431 315.7L431.9 310.6L431.6 304.9M419.9 303.1L425.5 303.3L431.6 304.9M418.5 299.7L421.5 294.4L424.3 291.1M424.3 291.1L429.2 294L433.9 297.6M431.6 304.9L433.2 302.9L434.7 301.8M434.7 301.8L434.3 300.5L433.9 297.6M267.7 301.1L270.4 302.2L271.7 303.1M267.7 301.1L262.7 301.5L256.8 303.7M271.7 303.1L271 308.8L270 314.3M256.8 303.7L257.3 308L257 312.3M257 312.3L261.8 314.2L268.3 315.3M270 314.3L269.7 315.1L268.3 315.3M275.8 301.5L274.6 302.7L271.7 303.1M264.1 288.8L265.7 294.8L267.7 301.1M254.3 301.7L254.9 302.8L256.8 303.7M279.4 319.1L273.8 316.7L270 314.3M279.4 319.1L277.5 325.3L274 331.2M274 331.2L273.9 330.7L273.9 331.2M265.3 323.6L268.7 326.9L273.9 331.2M265.3 323.6L267.4 319.4L268.3 315.3M255.6 257L255.2 251.4L256.5 245.8M261.5 244.3L260.2 244.1L258.2 244.2M258.2 244.2L257.4 244.2L256.5 245.8M324.1 261.2L326.4 262.9L330 264.4M324.1 261.2L324.7 256.8L325.9 252.7M325.9 252.7L330.5 252L333.3 252.8M333.3 252.8L334 256.3L336.6 260.8M336.6 260.8L333.7 262L330 264.4M319.9 263L321.6 262.1L324.1 261.2M330.1 273.1L329.8 269.1L330 264.4M330.1 273.1L325 273L319.1 273.3M319.1 273.3L318.3 273.5L317.8 271.8M312.2 250.2L311.5 253.9L310.9 256.4M324.5 251L326.2 251.1L325.9 252.7M336.2 249.1L334 250.3L333.3 252.8M340.5 262.1L337.8 262L336.6 260.8M333.2 275.9L334.7 274.7L337.2 275.3M333.2 275.9L331.3 275.1L330.1 273.1M342 270.1L339.3 272.6L337.2 275.3M333.2 275.9L331.5 280.3L330.8 282.7M319.1 273.3L319.3 278.2L319.2 283.9M319.2 283.9L320.3 284.2L322.7 286M330.8 282.7L326.3 285.1L322.7 286M308.3 271.8L305.9 278L305 282.6M319.2 283.9L316 284.7L311 286.5M311 286.5L307 284L305 282.6M293.9 281.2L295.8 282.9L299.6 284M299.6 284L302.4 283L305 282.6M292.4 297.8L296.2 297.7L298.1 295.8M299.6 284L299.1 290.2L298.1 295.8M290.4 302.6L294.3 307.2L296.4 311.4M296.4 311.4L297.4 311.5L297.3 311.3M297.3 311.3L301.6 306.8L306.5 301M298.1 295.8L302.6 297.4L306.5 301M358.6 219.2L358.7 212L360.5 205.8M358.6 219.2L359.5 219.8L361.7 221.5M373.1 217.4L372.2 218.5L372.9 217.8M361.7 221.5L367.1 219.7L372.9 217.8M348.6 220L354.1 218.6L358.6 219.2M352.5 231.8L356.4 231.2L361.9 229.6M361.7 221.5L361.7 224.9L361.9 229.6M385 228.6L380.8 227.8L375.7 227.7M372.9 217.8L373.5 221.9L375.7 227.7M277.2 239.4L282.2 243L287.3 248.1M277.2 239.4L277 238.7L278.4 237.5M278.4 237.5L284 234.9L289.4 233.6M287.3 248.1L290 247.1L294.1 246.8M289.4 233.6L289.2 233.2L290.9 234.3M290.9 234.3L293.1 239.6L294.9 245.8M294.1 246.8L294.3 246.8L294.9 245.8M283.1 253.6L285.8 249.9L287.3 248.1M276.5 239.7L277.3 240.5L277.2 239.4M296.9 257.4L294.8 251.3L294.1 246.8M295.8 218.8L291.7 222.2L286.3 225.1M286.3 225.1L287 230.1L289.4 233.6M298.7 229.3L294.4 232.4L290.9 234.3M295.8 245.6L296.3 244.8L294.9 245.8M322.9 188.6L324.3 195.8L324.4 201.8M322.9 188.6L321.4 187.8L319.8 186.5M319.5 186.5L315.1 191.6L309.9 195.7M319.5 186.5L319.1 186.9L319.8 186.5M324.4 201.8L318.2 202L314 201.3M309.9 195.7L312.5 198.6L314 201.3M325.2 176.2L323 180.5L319.8 186.5M336.6 185.1L335.8 185.7L334.4 187.8M334.4 187.8L329.1 189.2L322.9 188.6M308.6 195.5L309.6 194.7L309.9 195.7M304.2 190.9L305.5 187.6L305.3 183.6M312.6 180.5L315.4 182.9L319.5 186.5M311.2 209.7L311.8 206L314 201.3M334.4 187.8L335.4 191.5L335.6 196.8M324.4 201.8L325 202.2L325.1 202.5M335.6 196.8L330.9 199.1L325.1 202.5M348.4 194.3L344.3 197L341.3 201.1M335.6 196.8L338.7 199.6L341.3 201.1M322.9 212.5L323.8 209.5L325.9 206M325.9 206L325.5 204.3L325.1 202.5M347.9 218.5L342.3 214.3L337.8 210.7M347.9 218.5L349.8 212.1L351.2 207.4M351.2 207.4L346.6 204.5L341.6 203.2M341.6 203.2L338.7 205.9L337.7 210M337.8 210.7L337.9 210.3L337.7 210M331.6 220.7L333.8 216.5L337.8 210.7M348.3 219.8L347.2 218.7L347.9 218.5M357.1 204.7L354.2 206.4L351.2 207.4M341.3 201.1L342.3 203.1L341.6 203.2M325.9 206L331 208.6L337.7 210M421.9 164L424.4 169.5L427.9 173.6M421.9 164L421.7 163.2L423.2 161.9M423.2 161.9L430.3 159.6L435.7 158.5M427.9 173.6L433.5 170.1L437.1 164.7M437.1 164.7L437.1 162.3L437.5 161.1M437.5 161.1L437.1 159.9L435.7 158.5M411.7 166.1L416 165.6L421.9 164M427.9 173.9L428.8 174L427.9 173.6M443.6 175.1L440.3 169.6L437.1 164.7M449.7 161.1L444 162L437.5 161.1M435.5 152.3L435.5 155.3L435.7 158.5M420.2 149.8L421.4 150.1L420.9 148.5M420.2 149.8L415.3 151.5L410.7 155M410.7 155L407.8 151.7L403.1 147.7M420.8 148L416.1 144.6L410.9 140M420.8 148L420.3 149L420.9 148.5M410.9 140L407.2 144.1L403.1 147.7M435.3 152.1L427.5 149.7L420.9 148.5M423.2 161.9L420.9 156.6L420.2 149.8M409.7 163L410.7 159.4L410.7 155M402 147.7L403.4 147L403.1 147.7M426.7 136.8L424.5 142.2L420.8 148M426.7 136.8L430.6 137.1L434.5 138.9M273.4 202.7L272.5 208.5L272.2 213.1M287.8 210.3L284.1 214L280.1 215.8M272.2 213.1L275.7 214.4L280.1 215.8M286.3 225.1L284.7 223.6L281.9 223.7M280.1 215.8L281.8 220L281.9 223.7M278.4 237.5L277.7 233.1L277.6 227.2M277.6 227.2L280.6 226.2L281.9 223.7M452.2 223L449.2 228.2L446.4 231.8M440.3 229.1L443.7 229.5L446.2 231.8M446.2 231.8L446.9 232L446.4 231.8M431.5 233.9L436.2 231.5L440.3 229.1M455.3 239L457.9 238.6L460.2 236.1M455.3 239L450.3 234.4L446.4 231.8M439.5 244L443.2 237L446.2 231.8M396.4 131.7L400 129.6L403.5 128.3M410.9 140L410.3 137L410.9 135.2M403.5 128.3L406.5 131.9L410.9 135.2M426.7 136.8L424.6 133.7L423.3 130.6M410.9 135.2L417.7 132.7L423.3 130.6M433.4 124.1L429.6 126.6L423.8 128.2M423.3 113.9L422.7 117.9L420.2 121.6M420.2 121.6L421.6 124.6L423.8 128.2M423.8 128.2L423.9 129.8L423.3 130.6M409.2 109.1L409 109.8L408.8 108.8M409.2 109.1L410.1 115.4L411.5 120.3M408.8 108.8L405.1 110L400.3 110M411.5 120.3L406.8 124.7L403.9 127.1M403.9 127.1L401.3 120.8L397.9 115M400.3 110L400 112.7L397.9 115M409.6 99.6L410.1 105.2L408.8 108.8M419.9 108.8L414.3 108.6L409.2 109.1M420.2 121.6L416.8 121.8L411.5 120.3M396 104.5L398.9 106.7L400.3 110M403.5 128.3L403.9 128.4L403.9 127.1M389.8 117.2L394.8 115.9L397.9 115M242 423.1L243.4 424.3L246.3 424.6M246.3 424.6L247.4 431.5L249.6 438.1M241.6 406L240.5 409.7L238.4 414.6M241.6 406L249.3 407.8L256 411M238.4 414.6L239.6 419.6L242 423.1M257.5 419L250.9 422.6L246.3 424.6M293 380.2L293.2 377.8L293 374.4M293 380.2L289.9 381.3L287.9 383.7M293 374.4L286 372.7L280.3 371M276.2 379.6L277.4 376.6L278.7 372.1M278.7 372.1L279.3 371.2L280.3 371M270.8 381.1L267.1 377.2L263.3 372.1M263.3 372.1L265.9 369.2L268.4 365.7M278.7 372.1L274.5 368.4L268.4 365.7M446 399.6L442.6 396.5L438.5 393.3M449 386.5L444.6 386.6L440.4 386.1M440.4 386.1L438.9 390.1L438.5 393.3M431.8 395.3L436.1 395.1L438.5 393.3M438.1 383L438.8 384.4L440.4 386.1M451.3 378.6L451.1 383.1L449 386.5M446.9 258.4L445.7 253.7L445.7 248.3M445.7 248.3L450.6 246.4L454.8 244.7M439.7 245.5L442.6 247.7L445.7 248.3M443.2 262.2L438.7 259.2L434.1 257.2M455.3 239L455 241.7L454.8 244.7M443.2 262.2L444.3 264.5L443.7 268.7M443.7 268.7L450.5 270.4L456.1 271.2M455.6 282.9L456.7 276.5L456.1 271.2M455.6 282.9L457.1 283.5L456.9 283.9M492.9 175.5L494.1 180.3L497 184.6M288.5 326.7L292.5 325L295.5 323.3M288.5 326.7L286 322.5L281.5 318.7M295.5 323.3L294.3 318.9L294.3 314M294.3 314L288.8 314.4L284.1 315.3M284.1 315.3L282.1 317.6L281.5 318.7M287.1 334.3L287.4 330.2L288.5 326.7M287.1 334.3L289.8 336.7L294.4 337.9M302.2 326.4L299.4 325.3L295.5 323.3M302.2 326.4L302.6 328.6L301.5 332.5M279.4 319.1L279.6 318L281.5 318.7M287.1 334.3L287 335.3L286.9 334.4M286.9 334.4L280.5 333.7L274 331.2M307.6 317.6L301.7 315L297.3 311.3M307.6 317.6L306.2 320.3L305.7 324M305.7 324L304.5 325.3L302.2 326.4M296.4 311.4L294.8 312.4L294.3 314M282.7 305.2L284 310.8L284.1 315.3M296.2 369.9L296.4 365.7L295.3 363.4M296.2 369.9L301 371.5L304.2 371.9M306.7 358.7L302.6 358.3L299.4 359.1M306.7 358.7L308.6 362.5L309.8 367.9M309.8 367.9L308 369.6L304.2 371.9M299.4 359.1L297.4 361.4L295.3 363.4M357.9 403.9L354.4 404.3L352.6 404M351.1 418.8L350.5 415.3L347.9 411.3M352.6 404L351 408.3L347.9 411.3M346.1 396.5L347.1 396.5L346.3 397.8M352.6 404L348.7 401L346.3 397.8M327 392L326.5 389.2L327 384.6M327 392L323.3 393.4L318.8 395.8M318.8 395.8L317.6 389.8L315.3 382.1M327 384.6L322.3 384L316.1 381.4M316.1 381.4L315 382.1L315.3 382.1M331.3 381.7L328.8 383.6L327 384.6M336.7 392.7L335.3 393.2L332.7 395.4M332.7 395.4L329.5 393.3L327 392M319 371.3L317.8 376.3L316.1 381.4M298.1 392.2L302.7 393.3L305.4 394.9M298.1 392.2L297.3 388.1L296.8 383M305.4 394.9L306.7 388.3L309.9 382.9M296.8 383L301.9 381.7L307.4 381.4M307.4 381.4L308.2 382L309.9 382.9M293 395L295.5 392.7L298.1 392.2M307 398L306.3 396.8L305.4 394.9M293 380.2L294 381.6L296.8 383M318.6 396.3L318.4 395.9L318.8 395.8M315.3 382.1L312.3 382.4L309.9 382.9M296.2 369.9L295.1 372L293 374.4M304.2 371.9L306.3 375.8L307.4 381.4M318.7 370.2L314 368.9L309.8 367.9M311.6 413.9L307 419.5L304.3 424.6M317.5 413.6L316.9 414.8L317.9 414M318.9 423.7L315.7 426.7L312.7 427.8M332.3 402.2L335.4 403.8L339.9 404.4M332.3 402.2L331.8 403.6L329.9 404.3M329.9 404.3L330.7 409.1L332.5 415.3M339.9 404.4L341.1 407.9L341.7 409.9M341.7 409.9L338.4 412.7L336.1 415.8M336.1 415.8L334.9 415.4L332.5 415.3M332.7 395.4L332 398L332.3 402.2M346.3 397.8L342.9 400.3L339.9 404.4M325.3 404.4L328.4 403.7L329.9 404.3M330.7 416.5L332.2 416.9L332.5 415.3M347.9 411.3L345.6 410L341.7 409.9M340.3 421.2L337.7 418.2L336.1 415.8M359.8 241.8L361.9 236.4L365 232.9M359.8 241.8L363 246.3L366.2 250.1M372.9 247.2L373.5 242.9L374.5 240.2M372.9 247.2L370.3 248.9L366.2 250.1M374.5 240.2L372.1 237.3L371.5 233.7M371.5 233.7L367.7 233.5L365 232.9M353.2 241.3L356.9 241.2L359.8 241.8M361.9 229.6L362.6 231.7L365 232.9M365.8 250.8L365.5 250.1L366.2 250.1M387.2 238L380.4 240L374.5 240.2M381.7 253.1L377.1 250.5L372.9 247.2M375.7 227.7L374.5 231.2L371.5 233.7M353.6 278.6L348.7 281.5L345.6 284.8M353.6 278.6L358.1 284.3L362 290.3M350.6 293.8L348 290.4L345.4 285.7M350.6 293.8L356.1 291.8L361.5 290.9M345.4 285.7L344.7 285.7L345.6 284.8M361.5 290.9L361.9 290.4L362 290.3M337.2 275.3L341.7 279.6L345.6 284.8M354.1 276.6L352.9 276.7L353.6 278.6M363.2 290L362.2 289.5L362 290.3M360.7 302.4L360.6 297L361.5 290.9M349.1 302.5L351.7 302.9L355.1 305.1M349.1 302.5L349.1 301.9L348.2 300.3M348.2 300.3L348.8 297.1L350.6 293.8M330.8 282.7L333.5 287.3L336.9 290.5M336.9 290.5L340.2 288.6L345.4 285.7M356.5 312.1L353.1 315.1L350.5 318.1M364.1 325.2L358.8 322.5L352 321M350.5 318.1L351.9 319L352 321M347.7 332.9L353.1 333.1L357.2 335M347.7 332.9L346.6 334.9L344.9 336.5M344.9 336.5L347.1 343L347.8 347.6M357.2 335L356.4 340.4L356.5 346.1M356.5 346.1L352.1 346.7L347.8 347.6M362.7 332.3L360 333.2L357.2 335M347.5 332.3L348.8 325.9L352 321M347.5 332.3L347.7 332.4L347.7 332.9M346.2 349.8L346.5 348.7L347.8 347.6M336.7 352.1L335.7 352.4L336.6 352.1M336.6 352.1L335.7 347.5L333 341.1M333 341.1L335.1 340L335.3 338.2M335.3 338.2L339.8 338.3L344.9 336.5M360.5 349.2L359.1 348.4L356.5 346.1M333 341.1L329.2 339.9L325.5 340.6M335.3 338.2L334.2 332.2L332.5 327.1M325.5 340.6L321.7 335.6L319.6 331.7M332.5 327.1L326 328.8L319.6 331.7M305.7 324L312.3 327L318.4 330.9M310.1 338.9L313.6 335.1L318.5 331.1M318.4 330.9L317.5 331.3L318.5 331.1M309.5 356L309.7 352.2L310.4 346.6M309.5 356L314.5 357.7L321.1 360.4M310.4 346.6L315.6 346.6L320.7 347.5M320.7 347.5L321.5 350.7L323.5 353.4M321.1 360.4L323 357.1L323.5 353.4M306.7 358.7L308.7 358.2L309.5 356M296.5 346.3L296.8 346.9L296.1 346.9M309.6 345.6L309.4 345.1L310.4 346.6M299.4 359.1L297.3 353.7L296.1 346.9M321.6 362.1L321.3 361.6L321.1 360.4M325.5 340.6L323.6 343.8L320.7 347.5M319.6 331.7L319.6 330.9L318.5 331.1M336.6 352.1L330.6 352.3L323.5 353.4M451.4 310.9L447.8 310.9L444.8 309.6M451.4 310.9L452.1 312.4L453.6 315.8M453.6 315.8L451.1 320.7L447.2 324.4M444.8 309.6L442.9 313.6L439.2 317.9M439.2 317.9L440.5 321.6L443.5 325.6M443.5 325.6L445.6 324.3L447.2 324.4M455 298.5L452.2 298.4L448 297.3M456.9 304.1L454.8 308L451.4 310.9M441.8 303.6L445.5 299.6L448 297.3M441.8 303.6L443.8 306.5L444.8 309.6M463.7 319L459.2 316.9L453.6 315.8M458 328.4L451.7 326L447.2 324.4M431 315.7L435.2 317.1L439.2 317.9M441.8 303.6L438.5 302.1L434.7 301.8M442.8 327.3L443.6 326.4L443.5 325.6M252.8 316.5L255.6 322.1L257.4 326.9M252.8 316.5L247.9 316.8L242.9 315.7M242.9 315.7L241.8 316.8L239.3 319M239.3 319L242.2 325.6L246.1 330.5M246.1 330.5L250.5 330.3L256.6 328.7M256.6 328.7L257.5 327.7L257.4 326.9M265.3 323.6L261.6 324.6L257.4 326.9M257 312.3L254.5 314L252.8 316.5M243.1 304.9L242.8 310L242.9 315.7M238.6 319.1L238.3 319.5L239.3 319M243.4 336.2L239.3 337L235.9 338.5M243.4 336.2L244.4 332.6L246.1 330.5M243.4 336.2L247.9 341.1L251.2 344.1M251.2 344.1L255.2 340.5L259.2 335.2M259.2 335.2L257 331.6L256.6 328.7M273.9 331.2L271.8 334.3L270.8 336.4M270.8 336.4L268.8 336.2L264.9 337.9M259.2 335.2L261.3 336.7L264.9 337.9M348.2 300.3L342.3 297.9L335.6 296.6M336.9 290.5L335.1 293.5L335.3 296.1M335.6 296.6L336 295.5L335.3 296.1M322.7 286L323.7 289.5L324 294.5M335.3 296.1L329.8 295.6L324 294.5M256.2 211.3L256.5 213.8L257.2 214.5M272.2 213.1L270.6 214.7L269.4 215M257.2 214.5L263.8 215.7L269.4 215M277.6 227.2L274.3 226.5L270.9 225.5M269.4 215L270.8 220.3L270.9 225.5M269.6 237.6L267.1 233.2L265.4 230.1M265.4 230.1L267.9 226.9L270.9 225.5M240.8 251.9L240.2 250.7L241.1 248M248.5 261.2L244 256.5L240.8 251.9M244.3 244.4L251.1 244.5L256.5 245.8M244.3 244.4L243.2 246.1L241.1 248M270.8 336.4L274.4 340.1L275.9 344.7M263.8 347L263.7 343.3L264.9 337.9M263.8 347L267.4 349.4L269.2 350.8M269.2 350.8L272 347.6L275.9 344.7M286.9 334.4L283.8 340.6L280.7 345.8M280.7 345.8L278.6 346.1L275.9 344.7M257.6 349.3L254.8 346.6L251.3 345.4M257.6 349.3L257.9 354.9L258.4 358.5M247.9 358.4L248.2 354.2L246.6 350.2M247.9 358.4L251 359.1L254.3 361.5M246.6 350.2L248.2 347.4L251.3 345.4M254.3 361.5L256 360L258.4 358.5M251.2 344.1L251.2 344.1L251.3 345.4M263.8 347L260.9 348.7L257.6 349.3M268.1 359.9L269.4 358.8L269.8 358.1M268.1 359.9L262.4 359.4L258.4 358.5M269.2 350.8L268.6 353.6L269.8 358.1M235.3 349L241.5 349.6L246.6 350.2M238.1 364.1L243.4 360.6L247.9 358.4M430.3 273.1L432.3 277.6L434.8 283.4M430.3 273.1L428.5 272.9L427.8 272M426 272.4L427.1 271.4L427.8 272M426 272.4L424.3 274.8L421.4 277.5M421.4 277.5L422.4 282.1L421.6 286.7M434.8 283.4L428.9 287L424.2 289.5M424.2 289.5L423.4 288.4L421.6 286.7M443.7 268.7L442.7 268.6L443.5 269M429.8 259.8L429.4 265.7L427.8 272M443.5 269L436 271L430.3 273.1M416 264.7L421 267.8L426 272.4M411.3 276.8L415.4 277.8L421.4 277.5M411.7 287.4L417.5 286.3L421.6 286.7M424.3 291.1L424.5 289.8L424.2 289.5M449.6 283.9L446.5 281.8L444.3 280.3M449.6 283.9L447.8 288.6L445.5 291.7M444.3 280.3L439.1 282.3L435.4 283.6M445.5 291.7L442.2 292L438.3 290.8M438.3 290.8L437.6 287.3L435.4 283.6M455.6 282.9L452.5 284.2L449.6 283.9M443.5 269L444.1 275.2L444.3 280.3M448 297.3L447.7 294.3L445.5 291.7M434.8 283.4L434.6 282.5L435.4 283.6M433.9 297.6L436.6 294.3L438.3 290.8M490.9 190.2L485.6 189.2L481.4 186.6M481.4 186.6L480.2 192.2L477.4 197.9M481 185.6L480.9 185.8L481.4 186.6M466.9 196.7L473 196.8L477.4 197.9M332.5 317.9L333.4 320.7L335.1 321.9M332.5 317.9L332.3 313.7L332.4 309.7M336.8 322.2L341.5 319.2L347.8 317M336.8 322.2L336.7 322.3L335.1 321.9M332.7 309.4L333 309.2L332.4 309.7M332.7 309.4L337.7 310L344.6 308.8M344.6 308.8L345.8 312.1L347.8 317M332.5 327.1L333.4 324.6L335.1 321.9M320 320.5L326.2 319.5L332.5 317.9M320 320.5L318.8 326.3L318.4 330.9M347.5 332.3L343.1 327.9L336.8 322.2M350.5 318.1L349 317.2L347.8 317M349.1 302.5L346.6 305.5L344.6 308.8M335.6 296.6L333.7 304L332.7 309.4M241.6 406L241.2 404.6L240.8 403.6M257.7 396.3L252.8 395.5L246.2 394.7M240.8 403.6L242.8 400L246.2 394.7M320.2 298.9L322.6 304L324.3 307.2M320.2 298.9L315.2 298.4L311.2 298.7M308.5 301L310.6 299.1L311.2 298.7M308.5 301L311.4 306.5L313 313.9M324.3 307.2L319.4 311.6L315.2 314.4M313 313.9L314.5 314.7L315.2 314.4M324 294.5L322.9 297.1L320.2 298.9M332.4 309.7L327.7 309.3L324.3 307.2M311 286.5L311.8 292.7L311.2 298.7M306.5 301L307.4 300.7L308.5 301M307.6 317.6L310.8 315.8L313 313.9M320 320.5L316.7 318L315.2 314.4M255.3 218.7L257.1 223.4L259.2 228.9M255.3 218.7L249.6 221L242.6 222.8M242.6 222.8L241 226.1L240.1 229.6M255.9 233.7L250.9 234.4L244.3 234.5M255.9 233.7L256.6 231.8L259.2 228.9M240.1 229.6L242.8 232.7L244.3 234.5M257.2 214.5L255.6 217.1L255.3 218.7M265.4 230.1L263 229.9L259.2 228.9M238.8 217L239.9 219.8L242.6 222.8M244.3 244.4L244.9 238.9L244.3 234.5M258.2 244.2L257.6 239.9L255.9 233.7M276.5 358.1L280.5 353.7L283.4 349.9M276.5 358.1L278.5 361.7L282.1 364.4M282.1 364.4L285.6 363.5L289.2 360.9M289.2 360.9L287.8 356.1L286.1 350.8M286.1 350.8L284.4 349.6L283.4 349.9M269.8 358.1L273.3 357.8L276.5 358.1M280.7 345.8L283 348.8L283.4 349.9M280.3 371L280.6 368.5L282.1 364.4M268.4 365.7L268.6 363.7L268.1 359.9M295.3 363.4L292.5 361.9L289.2 360.9M296.1 346.9L290.8 349.5L286.1 350.8M260.9 386.6L257.3 383L254.7 380.7M246.2 394.7L245.6 392L244.3 387.8M244.3 387.8L248.7 385L254.7 380.7M263.3 372.1L258.3 372.1L255 373M254.7 380.7L254.6 376.3L255 373M238.1 364.1L239.1 367.6L239.9 371.8M254.3 361.5L253.7 365.9L254.1 372.1M239.9 371.8L246.4 371.6L254.1 372.1M254.1 372.1L254.5 372.3L255 373M237.1 376.6L239 380L239.4 384.4M244.3 387.8L241.1 387L239.4 384.4M239.9 371.8L238.6 373.4L237.1 376.6" stroke-opacity="0.3"/></g></g>
<g id="ov">
<path d="M44.6 246.7L47.4 245.2L51.9 244.3L55.3 242.4L58.8 241.1L61.7 239.7L64.8 240.4L68.6 242L74.1 241.7L77.2 242.8L80.8 244.1L84.5 243.8L88.3 244.9L92.8 245.9L96.9 246.7L100 246.7L104.5 246.6L108.3 245.9L112 244.5L114.8 243.7L116.7 243.4L121.2 242.9L123.9 242L127.2 242.8L132.4 241.9L135.4 242.9L139.4 242.8L143.2 243.7L145.7 246.8L148.9 247.9L151.8 249M151.8 249L155.5 247.7L159.7 248.2L162.3 247L165.8 245.9L164.9 241.5L165 238.1L166 235.4L167.1 232.8L168.9 228.8L165 225.1L162.7 222.6L165.3 222.3L169.2 221L172.5 220.5L176 219L179.4 218.4L182.9 217.9L183.8 215.1L186.4 211.4L188.3 207.5L188.9 204.1L190.7 200.8L193.6 198.5L196 195.6L200 193.1L203.2 191.5L205.4 190.8L209.3 189.2L212.3 188.9L217.1 188.4L218 184.1L219.7 180.6L221.2 178.2L223.3 174.4M151.8 249L150.7 252.9L150.2 256.7L150.3 259.9L151 263.8L151.5 268.3L151.8 272.3L153.3 276.3L156.5 280.1L160.3 282.2L164.4 284.7L167.4 286.3L170.3 287.4L172.9 290L177 291.2L179.8 292.5L183.2 293.3L186.3 294.1L189.7 295.1L193.8 295.6L196.6 298L198.5 299.1L201.6 301.9M183 217.9L188.5 218.9L192.3 219.9L195.9 222.4L198.1 223.3L201.7 226.2L205 226.5L207.7 228.9L211 229.3L216.3 229.4L220.3 230.8L221.6 227.7L225.1 224.8L226.5 223.1L230.7 222.4L235.9 223.1L238.3 225.2L241.5 227L245.2 229.3L248.7 230.7L251.3 231.9L254.5 232.4L257.8 235L260.3 236.3L263.9 238.6L267.1 241.5L270.3 242.7L273.2 244.8L274.8 247L276.8 250.9L279.4 252.6L280.9 258L281 261.9L278.7 266.2L276.3 269.7L272.8 272.8L270.1 275.9L266.3 278.1L263.9 280.6M232.8 179.5L234.4 184.9L234.3 188.9L235.9 191.5L236.3 195.5L238.4 197.3L239 201.3L241.5 203L244.5 203.6L248.3 204.4L251.9 203.9L256.1 202.8L256 206.9L254.5 210.6L251.4 215.3L254.3 217.6L257.9 220.7L260.7 223.1L263.7 224.6L267 225.7L270.1 227.7L272.6 225.5L276.3 223.1L279.1 222.8L283.8 222.9L286.3 221.7L290.3 221.5L291.8 224.3L291.8 227.7L289.6 230.3L285.6 233.9L288.8 235.2L291.1 238.6L293.4 240.2M313.6 223.1L315.8 226.7L316.7 230.8L316.4 236.3L315.1 240.2L312.7 243.7L310.7 245.8L308.9 249.5L307.6 253L306.2 256L305.8 258.8L304.5 261.3L303.6 264.8L302.7 268.1L298 265L296.9 262.6L296.7 258.3L294.9 255.7L293.7 252.8L291.6 250.1L288.7 246.4L291.1 242.8L293.4 240.2L298 242.6L301.2 243.3L304.5 239.5L307.4 237L309 234.4L310.1 231.7L310.5 227.7L313.6 223.1M195.5 296.1L198.4 298.9L199.8 301.1L203.2 302.3L207.4 302.1L211 303.9L214.1 303.9L216.7 302.1L220.1 298.6L223.4 296.1L224.9 293L226.2 288.7L226.9 285L228.1 282.1L231.6 281.3L235.9 280.6L237.2 283.4L240.6 286.2L242.1 289.9L245.1 292.2L248.3 296.1L251.8 296.4L254 298.6L257.6 299.2L259.6 296.2L262 293L263.9 289.9L263.7 284.6L263.9 280.6M263.9 280.6L265 283.8L267.8 287.1L268.5 289.9L272.1 287.5L275.1 286.6L279.4 283.7L283 285.6L285.6 288.3L288.4 291.3L291.5 293.1L293.4 296.1L296.9 297.1L301.2 299.2L305.2 297.7L308.9 294.6M308.9 294.6L307.5 290.5L307.4 285.2L310.4 281.1L312 277.5L312.7 273.8L313.4 270.7L315.1 268.1L313.8 264.1L313.6 258.8L313.8 253.6L315.1 249.5L318.5 247.6L319.6 244L322.9 241.7L328.5 240.7L332.2 240.2L334.4 237.4L336.4 233.1L338.5 231.4L340 227.7L342 224.9L344.6 223.4L346.2 219.9L350.9 217.9L354 216.8M308.9 294.6L313.2 295.3L318.3 296.1L322.2 297.7L326 300.8L329.9 303.9L333.8 305.4L337 307.5L340.5 309.5L343.1 311.7M343.1 311.7L340.8 314L337.5 316.4L333.8 319.4L331.2 321.1L328.7 322.8L326 325.6L323.3 327.4L320 330.4L318.3 331.9L315.1 332L310.5 333.4L308.7 336.1L306.2 338.8L304.3 341.2L305.6 343.9L306.1 347.4L307.4 350.5L305.9 354.4L302.7 356.7L300.1 354.6L297.2 353.5L293.4 350.5L291.5 352L288 354.2L285.6 356.7L286 361L286.6 363.7L287.2 367.6L290.5 368.5L294.9 370.7M223.4 296.1L225.1 298.7L226.3 302.3L226.5 305.4L228.4 308.8L230.1 311.1L232.8 314.8L234.2 317.4L236.2 320.8L237.4 324.1L237.7 327.8L238 332.8L239 336.5L238.7 339.4L237.5 342.4L235.9 345.9L238.7 348.5L240.5 352.1M240.5 352.1L243.1 350.3L245.9 348.3L248.3 345.9L250.6 349.9L250.8 352.6L253 356.7L255 360.2L257.9 364.4L259.2 367.6L260.7 370.5L261.8 374L263.9 376.9L268.5 377.1L271.6 378.5L273.9 374.3L276.3 370.7L279.6 369.2L281.7 369L285.6 367.6M240.5 352.1L237.4 355.8L235.9 358.3L232 353.6M419.4 50.2L422 51.6L425.9 53.9L428.7 56.4L431 58.9L433.7 63L434.9 65.8L437.7 63.8L441.8 64.1L444 61.5L447.4 61.1L452.1 61.8L455.1 61.1L455.6 64.5L456.6 70.2L456.7 73.5L456 77.2L456.6 81.7L456.3 85.4L455.1 89.1L453.1 93.5L452.6 97L450.5 99.9L447.9 102.3L446.7 106.2L442.8 107.4L441.2 110.8L442.6 114.7L444.9 117.5L447.4 121.7L450.5 126.4M450.5 126.4L454.3 127.4L456 128.8L459.8 131L463.9 131.7L467.9 131.4L470.7 131L474.6 131.9L477.9 132.2L481.6 132.6L484.6 133.3L489.5 136.2L492.5 137.3L495.6 141.6L497.1 145L501.2 142.9L504.9 141.9L509.4 139.6L512.7 137.3L518.9 137.3L522 138.8M450.5 126.4L448 127.7L444.7 127.8L441.4 130.3L438 131L440.1 134.6L441.7 138.1L444.3 141.9L446.7 145.7L448.9 148.1L451.7 150.1L453.8 152.7L456.7 154.4L459.8 159M459.8 159L464 158.4L469.1 159L472.1 161.5L475.4 165.2L477.5 168.4L480 173L481.6 177L483.1 180.8L486.2 183.9M459.8 159L457.9 162.3L455.1 166.8L451.3 168.6L449.4 170.6L445.8 173L442.9 175.3L438.6 177.3L434.9 179.2L432 178.5L428.7 177.7L427 181.9L424.1 185.4L424.9 189.2L425.6 194.8M425.6 194.8L430.3 196.5L433.4 199.4L435.7 203.3M425.6 194.8L422.5 191.1L419.4 188.5L418.7 185.7L416.4 183.1L414.7 179.2L410.1 179L407 177.7L404.1 181.1L402.3 185.4L397.3 186.6L393 187L389.9 185.8L385.2 183.9L382.5 187.1L380.5 191.7L379.4 195.8L379 201L381.3 204.9L383.6 208.8M383.6 208.8L378.2 208.1L374.3 207.2L370.2 209.5L366.5 210.3L363.6 213.5L360.3 216.5L358.8 220L355.7 224.3M412 320.2L413.6 323.4L415.1 326.4L418.7 327.9L422.9 327.9L427.2 327.6L430.7 326.4L434.5 325.4L438.5 323.3L439.9 320.3L439.8 317L441.6 313.9L446.2 310.8M335.9 326.4L337.4 328.4L340.4 331.1L343.6 333.7L345.2 337.3L348.4 334.9L352.1 332.5L354.5 331L358.9 330L363.9 329.5L368.1 329.4L373.2 331L377.7 331.1L382.5 332.6L385.8 334.1L388.7 337.3L394.9 337.3L397.7 334.1L401.2 331L405 328.7L407.4 327.9L410.6 327.7L415.1 326.4M394.9 337.3L394.2 341.2L391.8 345L390.7 349.5L390.6 352.8L390.3 355.9L391 358.4L394.2 362.7L394.9 365.2L394.1 369.8L394.9 374.6L395.6 378L396.5 382.3M430.7 326.4L433 329L434.4 332.2L435.4 335.7L438.1 339.3L440 343.5L443.1 348.1L439.4 349.9L435.4 351.2L432.4 354.2L430.6 356.4L429.1 359L427.7 361.9L425.4 363.8L422.9 366.8L421.3 369.3L419.8 372.4L418.3 376.1L418.2 380.4L416.7 385.4M443.1 348.1L447.1 349.8L450.9 351.2L455.5 350.7L460.2 349.7L463.3 351.2M429.1 396.3L426.8 393.4L426 390.1L423 387.8L419 387.8L416.7 385.4L412.7 386.6L408.9 388.5L405.3 388.6L401.2 387L398.5 385.5L396.5 382.3L391.5 383.9L387.2 383.9L383.7 385.5L379.4 388.5L377.8 391L374.7 394.8M374.7 394.8L374 398.2L371.6 402.5L370.6 405L368.7 408.1L368.5 411.9L366.4 415.3L363.9 419.6L361 423.1L357.6 425.9L354.6 427.4L351.4 430.5M374.7 394.8L372.3 392.2L369.1 389.2L367 385.4L366.6 383.2L365.1 378.9L363.9 376.1L359.8 374.6L354.5 374.6L351.5 376.2L348.3 379.2L348 374.7L346.8 369.9L344.9 366.1L342.1 363.7L343.5 361.1L343.5 356.7L345.2 354.4L342.4 351.3L341.5 348.4L339 346.6L341.3 342.6L342.1 338.8L340.1 335.1L338.3 332.6L336.6 329.7L335.9 326.4M342.1 363.7L340.1 366.9L338.4 371.5L335.9 374.6L333 375.8L329.2 378.4L326.5 380.8L324.3 382.6L320.4 384.2L317.2 385.4L311.8 385L307.9 383.9L305.1 384.9L301.4 386.8L298.6 388.5L297.1 391.4L293.9 394.8M293.9 394.8L296.7 398.4L300.1 401L303.3 402.9L307.9 405.6L306.9 409.5L306.3 411.9M293.9 394.8L293.2 390.5L293.6 387.2L292.3 382.3L293.6 379.9L296.3 376.7L297 373L293 372.8L290.4 371.5L287.7 369.9L286.3 365.4L286.1 360.6L289.1 357.8L292.3 354.4L289.7 352.6L286.1 349.7M286.1 349.7L290 348.9L293.9 348.1L297 350.8L298.8 352.4L301.7 354.4L302.9 351.6L304.6 348.6L304.8 345L304.7 340.7L303.2 335.7L305.1 331.4L307.9 327.9L310.1 325.9L313.5 323.4L317.2 321.7L319.7 318.2L323.9 316.2L326.5 313.9L329.9 311.6L332.8 307.7L336.3 305.5L340.5 303.1M340.5 303.1L342.6 299.9L345.6 298.6L346.8 295.3L348.3 299.9L346.4 304.4L343.6 307.7L340.2 310.3L337.8 311.7L335.9 313.9L335.1 318.1L334.3 323.3L335.9 326.4M340.5 303.1L344.7 301.7L348.3 299.9L352.3 299.1L356.1 298.4L360.5 296.9L363.9 296.8M330 238.5L333.2 236.6L336.2 234.6L337.7 231.2L339.3 226.8L341.3 223.3L343.7 220.3L345.5 218.3L349.8 217.4L351.5 215.2L355.6 214.4L359.2 213L361.1 210.5L364.4 208L367.3 205.9L371 205.6L372.8 204.8L376.6 203.5L379.3 204.8L382.8 205.1L386 209M355.6 214.4L353.6 217.6L353.9 220.7L351.8 224.5L351 228.5L351.4 231.3L350.2 234.6L351.8 238.6L351.8 240.7L352.5 244.7L351.9 248.4L350.6 251.1L351 255.6L351.6 258.8L351.2 262.8L350.2 267.3L351.9 271.4L352.5 274.3L354.9 278.9L357.3 283.3L358 286.7L360 289.7L362.6 294.5L366.3 295.6L370.4 298.4L374 298.4L378.2 298.4L384.4 297.6L387.5 302.2L390.5 303.6L394.5 304.6L399.9 306.1L404.6 310L409.3 313.9L410.9 317.6L410.8 321.2M386 209L384.6 212.8L384.4 216.7L382.4 219.7L379.7 223.7L380.8 227.6L380.5 232.3L381.8 235.3L384.4 238.5L382.6 242.8L381.3 246.3L382.8 251.7L382.6 255.9L381.1 258.4L379.7 261.8L377.4 263.5L373.5 264.9L369 265.6L365.8 267.3L363.3 268L359.5 270.4L354.9 273.5L352.5 274.3M382.8 251.7L385.8 252.5L390.6 252.5L396.8 251.7L398.4 250.9M416.3 226.8L414 228.1L410.8 230.7L407.3 233.5L404.6 236.2L401.9 239.7L400.7 242.4L398.3 245.3L397.6 249.4L398.4 255.6L398 259.3L396.8 261.8L395.3 264.9M395.3 264.9L399.9 268L404.6 270.4L409.3 268L411.6 264.9L415.5 265.7L418.6 268.8L423.3 269.6L427.9 267.3L433.4 264.2L438.8 262.6M404.6 270.4L409.3 274.3L407.7 278.1L403.1 277.4L402.3 282.8L399.2 287.5L398.4 289.8L400.9 292.5L403.1 294.5L407.7 297.6L406.2 302.2L405.4 306.1L404.6 310M423.3 269.6L426.4 275L427.9 280.5L431 285.1L434.1 289L438.8 286.7L440.4 289L437.3 291.4L434.1 296.8L437.3 301.5L441.1 303.8L446.6 305.3L451.2 304.6L455.1 306.8L457.5 307.7L462.1 304.6M394.5 205.9L397.6 209L402.3 210.5L407.7 209.7L412.4 205.9L414.7 202L410.8 198.1L407.6 197.2L404.6 196.5L402.3 197.7L398.4 198.1L394.5 202L394.5 205.9M409.3 213.6L412.4 212.1L415.5 215.2L414.7 220.6L410.8 221.4L408.5 217.5L409.3 213.6" fill="none" stroke="#4c5a55" stroke-opacity="0.88" stroke-width="1" stroke-linejoin="round"/>
<use href="#co" fill="none" stroke="#66d2f7" stroke-width="2.2" stroke-dasharray="3.2 0.7 1.5 0.5 4.4 0.9" stroke-opacity="0.9" transform="translate(1.2 0.6)" filter="url(#b2)"/>
<use href="#hn" fill="none" stroke="#66d2f7" stroke-width="1.3" stroke-dasharray="3 0.8"/>
<use href="#tw" fill="none" stroke="#7fd8f6" stroke-width="0.9" stroke-dasharray="3 1"/>
<g fill="none" stroke="#1e2228" stroke-width="1.25" stroke-linejoin="round"><use href="#ln"/><use href="#ls"/></g>
<g stroke="#55d0f4" stroke-width="1.6" stroke-dasharray="3 1.6" fill="none"><path d="M463 379L452 396"/><path d="M457.5 392L446 404.5"/></g>
<g><path d="M490.5 380.5h7.2v12.6h-7.2z" fill="#c3bde6"/><path d="M490.6 380v13.4" stroke="#3a3a50" stroke-width="1.3"/><path d="M486.6 415.5l5.2 1.8-6.8 11.6-5.4-1.9z" fill="#c3bde6"/><path d="M486.6 415.3L479.4 427.2" stroke="#2a2a40" stroke-width="1.3"/><path d="M469.6 449.6l5.8 1.6-5.4 13.4-5.8-1.6z" fill="#c3bde6"/><path d="M469.6 449.3L464.1 463.2" stroke="#2a2a40" stroke-width="1.3"/></g>
<path d="M8.9 457.2V465.6H62V457.2" fill="none" stroke="#3a3a3a" stroke-width="1.25"/>
<rect x="501.2" y="368" width="72.2" height="97.3" fill="#fff" stroke="#3c3c3c" stroke-width="1.3"/>
<g fill="#2a2a3a"><path d="M556.3 374.6l1.6.4-2 4.4-1.7-.5z"/><path d="M551 387.3l1.6.3-1.2 5.2-1.7-.4z"/><path d="M549.2 400.2h1.9l.3 4.6h-1.9z"/><path d="M550.6 416.8l1.8.3-1 5.2-1.8-.4z"/><path d="M540.6 434.4l1.5.8-2.6 4.4-1.5-.8z"/><path d="M524 454.2l4.6-1.6.5 1.5-4.6 1.6z"/><path d="M505.8 440.6h1.8l.6 4.6h-1.8z"/><path d="M514.2 418.4l1.8.4-1 4.6-1.8-.4z"/><path d="M510.6 402.8l1.4-.8 2.4 4.4-1.4.8z"/></g>
<g fill="none" stroke="#4fd0f2" stroke-width="1.3" stroke-dasharray="2 1.4"><path d="M520 401l4 -.5"/><path d="M529 404l4.5-2.2"/><path d="M531 423l2.5 2"/><path d="M512 438l5-2.6"/><path d="M521 437l2-.8"/><path d="M530.5 437l4.5-2.5"/><path d="M538 426l5-3.4"/><path d="M526.5 444l1.2 4"/><path d="M523 432l6-3"/></g>
<path d="M536.6 460v3h18.2v-3" fill="none" stroke="#444" stroke-width="0.9"/>
</g>
</defs>
<rect width="2361" height="2363" fill="#fff"/>
<g transform="translate(0 0)">
<use href="#halo"/>
<use href="#cn" fill="#fff"/>
<g clip-path="url(#cp)">
<rect x="0" y="30" width="560" height="450" fill="#3a9acb"/>
<path d="M217.9 152.2C207.4 178.8 211.6 170.3 207.4 179.3C203.1 188.3 196.1 197.8 192.3 206.3C188.6 214.8 186.6 221.8 184.8 230.4C183.1 238.9 180.1 253.9 181.8 257.4C183.6 260.9 189.6 253.2 195.3 251.4C201.1 249.6 209.9 246.9 216.4 246.9C222.9 246.9 230.1 249.1 234.4 251.4C238.7 253.7 241.9 256.9 241.9 260.4C241.9 263.9 237.7 268.9 234.4 272.4C231.1 275.9 226.4 278.9 222.4 281.5C218.4 284 214.4 284 210.4 287.5C206.4 291 202.1 296.5 198.3 302.5C194.6 308.5 190.2 317 187.8 323.5C185.4 330 184.2 335.5 183.9 341.6C183.7 347.6 185.9 335.8 186.3 359.6C186.7 383.3 120.7 463.3 186.3 484C251.9 504.7 514.4 561.3 580 484C645.6 406.7 631.6 97.3 580 20C528.4 -57.3 330.8 -2 270.5 20C210.1 42 228.4 125.7 217.9 152.2Z" fill="#5cbbd0"/>
<path d="M231.4 170.3C229.6 200.3 229.6 192.8 229.9 200.3C230.1 207.8 230.1 210.8 232.9 215.3C235.7 219.8 241.2 223.9 246.4 227.4C251.7 230.9 258.9 232.9 264.5 236.4C270 239.9 276 244.4 279.5 248.4C283 252.4 286 256.9 285.5 260.4C285 263.9 280.5 266.9 276.5 269.4C272.5 271.9 266.5 273.4 261.5 275.4C256.4 277.4 251.4 278.9 246.4 281.5C241.4 284 236.4 286.5 231.4 290.5C226.4 294.5 220.4 300 216.4 305.5C212.4 311 209.4 317.5 207.4 323.5C205.4 329.5 204.4 335.5 204.4 341.6C204.4 347.6 206.9 335.8 207.4 359.6C207.9 383.3 145.3 463.3 207.4 484C269.5 504.7 517.9 561.3 580 484C642.1 406.7 636.6 97.3 580 20C523.4 -57.3 298.5 -5 240.4 20C182.3 45 233.2 140.2 231.4 170.3Z" fill="#93d5b9"/>
<path d="M240.4 170.3C239.2 200.8 237.4 194.3 238.9 203.3C240.4 212.3 244.2 219.8 249.4 224.4C254.7 228.9 264 227.4 270.5 230.4C277 233.4 284.2 237.9 288.5 242.4C292.8 246.9 296 252.9 296 257.4C296 261.9 292.8 265.9 288.5 269.4C284.2 272.9 276 275.9 270.5 278.4C265 280.9 260.4 282 255.4 284.5C250.4 287 244.9 289.5 240.4 293.5C235.9 297.5 231.9 303 228.4 308.5C224.9 314 221.4 320.5 219.4 326.5C217.4 332.5 216.6 339.1 216.4 344.6C216.1 350.1 217.6 336.3 217.9 359.6C218.1 382.8 157.5 463.3 217.9 484C278.2 504.7 519.6 561.3 580 484C640.4 406.7 635.6 97.3 580 20C524.4 -57.3 303 -5 246.4 20C189.8 45 241.7 139.7 240.4 170.3Z" fill="#c2e7c1"/>
<path d="M255.4 170.3C254.9 201.3 252.9 197.3 255.4 206.3C257.9 215.3 265 220.3 270.5 224.4C276 228.4 283.5 227.4 288.5 230.4C293.5 233.4 298 237.9 300.5 242.4C303 246.9 304.5 252.9 303.5 257.4C302.5 261.9 299 265.9 294.5 269.4C290 272.9 282 275.4 276.5 278.4C271 281.5 266.5 284 261.5 287.5C256.4 291 250.4 295 246.4 299.5C242.4 304 239.9 309 237.4 314.5C234.9 320 232.9 326.5 231.4 332.5C229.9 338.5 228.9 345.1 228.4 350.6C227.9 356.1 228.4 343.4 228.4 365.6C228.4 387.8 169.8 464.3 228.4 484C287 503.7 521.4 561.3 580 484C638.6 406.7 633.6 97.3 580 20C526.4 -57.3 312.5 -5 258.4 20C204.4 45 255.9 139.2 255.4 170.3Z" fill="#dcf1d6"/>
<path d="M300.5 200.3C305 204.3 307.5 218.3 312.5 224.4C317.5 230.4 324.6 231.4 330.6 236.4C336.6 241.4 343.6 247.9 348.6 254.4C353.6 260.9 357.6 268.4 360.6 275.4C363.6 282.5 366.1 290 366.6 296.5C367.1 303 362.1 310 363.6 314.5C365.1 319 368.6 323.5 375.6 323.5C382.7 323.5 395.7 317 405.7 314.5C415.7 312 428.2 307.5 435.8 308.5C443.3 309.5 449.3 315.5 450.8 320.5C452.3 325.5 448.8 334 444.8 338.5C440.8 343.1 431.7 344.1 426.7 347.6C421.7 351.1 419.2 355.6 414.7 359.6C410.2 363.6 406.2 369.1 399.7 371.6C393.2 374.1 383.2 374.6 375.6 374.6C368.1 374.6 359.6 374.6 354.6 371.6C349.6 368.6 348.6 361.1 345.6 356.6C342.6 352.1 340.6 347.6 336.6 344.6C332.6 341.6 325.6 337.5 321.6 338.5C317.5 339.6 314.5 345.1 312.5 350.6C310.5 356.1 308.5 365.1 309.5 371.6C310.5 378.1 315 384.1 318.5 389.6C322.1 395.1 327.6 399.2 330.6 404.7C333.6 410.2 337.6 418.7 336.6 422.7C335.6 426.7 331.6 430.7 324.6 428.7C317.5 426.7 303.5 413.7 294.5 410.7C285.5 407.7 277 413.2 270.5 410.7C264 408.2 258.9 403.2 255.4 395.6C251.9 388.1 249.4 375.6 249.4 365.6C249.4 355.6 252.9 345.1 255.4 335.5C257.9 326 260.4 317 264.5 308.5C268.5 300 274.5 291 279.5 284.5C284.5 277.9 290.5 275.4 294.5 269.4C298.5 263.4 304.5 255.9 303.5 248.4C302.5 240.9 291.5 232.4 288.5 224.4C285.5 216.3 283.5 204.3 285.5 200.3C287.5 196.3 296 196.3 300.5 200.3Z" fill="#f4faed"/>
<path d="M357.6 152.2C354.6 179.3 344.1 174.3 339.6 182.3C335.1 190.3 331.6 194.3 330.6 200.3C329.6 206.3 331.6 212.3 333.6 218.3C335.6 224.4 339.6 229.4 342.6 236.4C345.6 243.4 348.6 252.9 351.6 260.4C354.6 267.9 358.1 274.4 360.6 281.5C363.1 288.5 364.1 296.5 366.6 302.5C369.1 308.5 371.6 314 375.6 317.5C379.7 321 384.7 323.5 390.7 323.5C396.7 323.5 405.2 320.5 411.7 317.5C418.2 314.5 424.2 309 429.7 305.5C435.3 302 439.8 299 444.8 296.5C449.8 294 454.8 290.5 459.8 290.5C464.8 290.5 454.8 296.5 474.8 296.5C494.9 296.5 562.5 336.5 580 290.5C597.5 244.4 617.1 65.1 580 20C542.9 -25.1 394.7 -2 357.6 20C320.6 42 360.6 125.2 357.6 152.2Z" fill="none" stroke="#c2e7c1" stroke-width="16" stroke-linejoin="round"/>
<path d="M357.6 152.2C354.6 179.3 344.1 174.3 339.6 182.3C335.1 190.3 331.6 194.3 330.6 200.3C329.6 206.3 331.6 212.3 333.6 218.3C335.6 224.4 339.6 229.4 342.6 236.4C345.6 243.4 348.6 252.9 351.6 260.4C354.6 267.9 358.1 274.4 360.6 281.5C363.1 288.5 364.1 296.5 366.6 302.5C369.1 308.5 371.6 314 375.6 317.5C379.7 321 384.7 323.5 390.7 323.5C396.7 323.5 405.2 320.5 411.7 317.5C418.2 314.5 424.2 309 429.7 305.5C435.3 302 439.8 299 444.8 296.5C449.8 294 454.8 290.5 459.8 290.5C464.8 290.5 454.8 296.5 474.8 296.5C494.9 296.5 562.5 336.5 580 290.5C597.5 244.4 617.1 65.1 580 20C542.9 -25.1 394.7 -2 357.6 20C320.6 42 360.6 125.2 357.6 152.2Z" fill="none" stroke="#93d5b9" stroke-width="8" stroke-linejoin="round"/>
<path d="M357.6 152.2C354.6 179.3 344.1 174.3 339.6 182.3C335.1 190.3 331.6 194.3 330.6 200.3C329.6 206.3 331.6 212.3 333.6 218.3C335.6 224.4 339.6 229.4 342.6 236.4C345.6 243.4 348.6 252.9 351.6 260.4C354.6 267.9 358.1 274.4 360.6 281.5C363.1 288.5 364.1 296.5 366.6 302.5C369.1 308.5 371.6 314 375.6 317.5C379.7 321 384.7 323.5 390.7 323.5C396.7 323.5 405.2 320.5 411.7 317.5C418.2 314.5 424.2 309 429.7 305.5C435.3 302 439.8 299 444.8 296.5C449.8 294 454.8 290.5 459.8 290.5C464.8 290.5 454.8 296.5 474.8 296.5C494.9 296.5 562.5 336.5 580 290.5C597.5 244.4 617.1 65.1 580 20C542.9 -25.1 394.7 -2 357.6 20C320.6 42 360.6 125.2 357.6 152.2Z" fill="#5cbbd0"/>
<path d="M387.7 140.2C385.7 164.2 377.9 157.2 375.6 164.2C373.4 171.3 373.4 176.3 374.1 182.3C374.9 188.3 382.4 194.8 380.2 200.3C377.9 205.8 366.4 211.3 360.6 215.3C354.9 219.3 347.6 219.8 345.6 224.4C343.6 228.9 346.6 235.9 348.6 242.4C350.6 248.9 354.6 256.4 357.6 263.4C360.6 270.4 363.6 277.9 366.6 284.5C369.6 291 372.1 297.2 375.6 302.5C379.2 307.7 383.2 313.5 387.7 316C392.2 318.5 397.2 318.8 402.7 317.5C408.2 316.3 415.2 311.8 420.7 308.5C426.2 305.2 430.7 301.5 435.8 298C440.8 294.5 445.3 289.7 450.8 287.5C456.3 285.2 447.3 285 468.8 284.5C490.3 284 561.5 328.5 580 284.5C598.5 240.4 612.1 64.1 580 20C547.9 -24.1 419.7 -0 387.7 20C355.6 40 389.7 116.2 387.7 140.2Z" fill="#3a9acb"/>
<path d="M360.6 119.2C366.9 138 389.2 128.7 398.2 132.7C407.2 136.7 410 139 414.7 143.2C419.5 147.5 423.5 152.7 426.7 158.2C430 163.7 433.2 170.8 434.2 176.3C435.3 181.8 435 187.3 432.7 191.3C430.5 195.3 423.2 196.8 420.7 200.3C418.2 203.8 412.7 210.3 417.7 212.3C422.7 214.3 423.7 212.3 450.8 212.3C477.8 212.3 558.5 244.4 580 212.3C601.5 180.3 616.6 52.1 580 20C543.4 -12.1 397.2 3.5 360.6 20C324.1 36.5 354.4 100.4 360.6 119.2Z" fill="#1b6fb6"/>
<path d="M363.6 236.4C364.9 232.4 368.1 229.4 372.6 227.4C377.2 225.4 385.7 223.9 390.7 224.4C395.7 224.9 400.7 227.4 402.7 230.4C404.7 233.4 404.7 238.9 402.7 242.4C400.7 245.9 393.7 248.4 390.7 251.4C387.7 254.4 387.7 258.9 384.7 260.4C381.7 261.9 375.9 261.9 372.6 260.4C369.4 258.9 366.6 255.4 365.1 251.4C363.6 247.4 362.4 240.4 363.6 236.4Z" fill="#1b6fb6"/>
<path d="M402.7 260.4C407.2 256.4 409.7 251.9 414.7 248.4C419.7 244.9 426.7 242.4 432.7 239.4C438.8 236.4 445.5 231.6 450.8 230.4C456 229.1 462.8 229.9 464.3 231.9C465.8 233.9 462.5 238.6 459.8 242.4C457 246.1 450.8 249.9 447.8 254.4C444.8 258.9 441.3 264.9 441.8 269.4C442.3 273.9 450.3 277.9 450.8 281.5C451.3 285 447.8 287.5 444.8 290.5C441.8 293.5 436.8 296.5 432.7 299.5C428.7 302.5 425.2 306.2 420.7 308.5C416.2 310.8 410.7 313 405.7 313C400.7 313 394.7 311.3 390.7 308.5C386.7 305.7 383.7 301 381.7 296.5C379.7 292 377.7 285.5 378.7 281.5C379.7 277.4 383.7 275.9 387.7 272.4C391.7 268.9 398.2 264.4 402.7 260.4Z" fill="#1b6fb6"/>
<path d="M420.1 282.1C420.7 281.2 423.5 281.3 424.3 282.1C425.1 282.9 425.5 286 424.9 286.9C424.3 287.8 421.5 288.3 420.7 287.5C419.9 286.7 419.5 283 420.1 282.1Z" fill="#0b4789"/>
<path d="M447.8 293.5C451.3 291 458.8 289 462.8 290.5C466.8 292 470.8 297.5 471.8 302.5C472.8 307.5 471.3 316 468.8 320.5C466.3 325 460.8 329.5 456.8 329.5C452.8 329.5 447.3 324.5 444.8 320.5C442.3 316.5 441.3 310 441.8 305.5C442.3 301 444.3 296 447.8 293.5Z" fill="#93d5b9"/>
<path d="M471.8 326.5C462.8 327.5 461.8 330.5 456.8 332.5C451.8 334.5 446.3 336 441.8 338.5C437.3 341.1 433.2 344.1 429.7 347.6C426.2 351.1 423.2 355.6 420.7 359.6C418.2 363.6 418.2 368.6 414.7 371.6C411.2 374.6 405.7 376.4 399.7 377.6C393.7 378.9 385.7 379.4 378.7 379.1C371.6 378.9 362.6 378.4 357.6 376.1C352.6 373.9 350.6 369.9 348.6 365.6C346.6 361.3 347.6 355.1 345.6 350.6C343.6 346.1 340.1 341.1 336.6 338.5C333.1 336 328.1 334.5 324.6 335.5C321.1 336.5 317.5 340.6 315.5 344.6C313.5 348.6 312.8 354.1 312.5 359.6C312.3 365.1 312.5 372.6 314 377.6C315.5 382.6 318.3 386.1 321.6 389.6C324.8 393.1 330.1 395.1 333.6 398.7C337.1 402.2 340.6 406.2 342.6 410.7C344.6 415.2 344.1 419.7 345.6 425.7C347.1 431.7 339.1 441.7 351.6 446.7C364.1 451.7 394.2 466.8 420.7 455.8C447.3 444.7 495.9 402.2 510.9 380.6C525.9 359.1 517.4 335.5 510.9 326.5C504.4 317.5 480.8 325.5 471.8 326.5Z" fill="none" stroke="#dcf1d6" stroke-width="16" stroke-linejoin="round"/>
<path d="M471.8 326.5C462.8 327.5 461.8 330.5 456.8 332.5C451.8 334.5 446.3 336 441.8 338.5C437.3 341.1 433.2 344.1 429.7 347.6C426.2 351.1 423.2 355.6 420.7 359.6C418.2 363.6 418.2 368.6 414.7 371.6C411.2 374.6 405.7 376.4 399.7 377.6C393.7 378.9 385.7 379.4 378.7 379.1C371.6 378.9 362.6 378.4 357.6 376.1C352.6 373.9 350.6 369.9 348.6 365.6C346.6 361.3 347.6 355.1 345.6 350.6C343.6 346.1 340.1 341.1 336.6 338.5C333.1 336 328.1 334.5 324.6 335.5C321.1 336.5 317.5 340.6 315.5 344.6C313.5 348.6 312.8 354.1 312.5 359.6C312.3 365.1 312.5 372.6 314 377.6C315.5 382.6 318.3 386.1 321.6 389.6C324.8 393.1 330.1 395.1 333.6 398.7C337.1 402.2 340.6 406.2 342.6 410.7C344.6 415.2 344.1 419.7 345.6 425.7C347.1 431.7 339.1 441.7 351.6 446.7C364.1 451.7 394.2 466.8 420.7 455.8C447.3 444.7 495.9 402.2 510.9 380.6C525.9 359.1 517.4 335.5 510.9 326.5C504.4 317.5 480.8 325.5 471.8 326.5Z" fill="none" stroke="#93d5b9" stroke-width="8" stroke-linejoin="round"/>
<path d="M471.8 326.5C462.8 327.5 461.8 330.5 456.8 332.5C451.8 334.5 446.3 336 441.8 338.5C437.3 341.1 433.2 344.1 429.7 347.6C426.2 351.1 423.2 355.6 420.7 359.6C418.2 363.6 418.2 368.6 414.7 371.6C411.2 374.6 405.7 376.4 399.7 377.6C393.7 378.9 385.7 379.4 378.7 379.1C371.6 378.9 362.6 378.4 357.6 376.1C352.6 373.9 350.6 369.9 348.6 365.6C346.6 361.3 347.6 355.1 345.6 350.6C343.6 346.1 340.1 341.1 336.6 338.5C333.1 336 328.1 334.5 324.6 335.5C321.1 336.5 317.5 340.6 315.5 344.6C313.5 348.6 312.8 354.1 312.5 359.6C312.3 365.1 312.5 372.6 314 377.6C315.5 382.6 318.3 386.1 321.6 389.6C324.8 393.1 330.1 395.1 333.6 398.7C337.1 402.2 340.6 406.2 342.6 410.7C344.6 415.2 344.1 419.7 345.6 425.7C347.1 431.7 339.1 441.7 351.6 446.7C364.1 451.7 394.2 466.8 420.7 455.8C447.3 444.7 495.9 402.2 510.9 380.6C525.9 359.1 517.4 335.5 510.9 326.5C504.4 317.5 480.8 325.5 471.8 326.5Z" fill="#5cbbd0"/>
<path d="M471.8 338.5C464.3 339.3 456.8 340.8 450.8 343.1C444.8 345.3 439.8 348.3 435.8 352.1C431.7 355.8 429.5 361.3 426.7 365.6C424 369.9 423.2 374.9 419.2 377.6C415.2 380.4 409 381.4 402.7 382.1C396.4 382.9 388.7 382.4 381.7 382.1C374.6 381.9 366.1 381.4 360.6 380.6C355.1 379.9 349.9 376.1 348.6 377.6C347.3 379.1 350.6 385.6 353.1 389.6C355.6 393.6 360.6 397.7 363.6 401.7C366.6 405.7 369.1 409.9 371.1 413.7C373.1 417.4 367.4 419.7 375.6 424.2C383.9 428.7 403.2 445.5 420.7 440.7C438.3 436 468.3 412.7 480.8 395.6C493.4 378.6 497.4 348.1 495.9 338.5C494.4 329 479.3 337.8 471.8 338.5Z" fill="#3a9acb"/>
<path d="M423.7 380.6C426.7 376.6 434.7 374.1 438.8 374.6C442.8 375.1 447.3 379.1 447.8 383.6C448.3 388.1 444.8 397.2 441.8 401.7C438.8 406.2 433.2 411.2 429.7 410.7C426.2 410.2 421.7 403.7 420.7 398.7C419.7 393.6 420.7 384.6 423.7 380.6Z" fill="#5cbbd0"/>
<path d="M326.1 350.6C327.6 346.3 331.3 345.6 333.6 346.1C335.8 346.6 338.1 349.8 339.6 353.6C341.1 357.3 342.3 363.6 342.6 368.6C342.8 373.6 343.1 380.9 341.1 383.6C339.1 386.4 333.3 387.1 330.6 385.1C327.8 383.1 325.3 377.4 324.6 371.6C323.8 365.8 324.6 354.8 326.1 350.6Z" fill="#3a9acb"/>
<path d="M380.2 389.6C381.7 387.4 387.9 387.1 390.7 388.1C393.4 389.1 396.4 393.1 396.7 395.6C396.9 398.2 394.7 402.2 392.2 403.2C389.7 404.2 383.7 403.9 381.7 401.7C379.7 399.4 378.7 391.9 380.2 389.6Z" fill="#1b6fb6"/>
<path d="M336.6 440.7C341.6 434.7 361.6 434.7 366.6 440.7C371.6 446.7 371.6 470.8 366.6 476.8C361.6 482.8 341.6 482.8 336.6 476.8C331.6 470.8 331.6 446.7 336.6 440.7Z" fill="#93d5b9"/>
<path d="M459.8 371.6C464.3 364.1 482.3 364.1 486.8 371.6C491.3 379.1 491.3 409.2 486.8 416.7C482.3 424.2 464.3 424.2 459.8 416.7C455.3 409.2 455.3 379.1 459.8 371.6Z" fill="#93d5b9"/>
<use href="#mesh"/>
</g>
<use href="#ov"/>
<path d="M501.8 368.6L541 368.6L538 372L533 376L527 378.5L521 380L517 381L516.5 385L513 385.5L512.5 381.5L507 381.3L501.8 380.5Z" fill="#3a9acb"/><path d="M508 392L510 388.5L514.5 387.3L517 388.5L516 392L513 394.5L509.5 395Z" fill="#93d5b9"/><path d="M548 368.6L556 368.6L555.5 372L553 374.5L550 372.5Z" fill="#93d5b9"/><path d="M541 368.6L538 372L533 376L527 378.5L521 380L517 381L516.5 385L513 385.5" fill="none" stroke="#38c8f4" stroke-width="1" stroke-dasharray="1.4 1"/>
<text class="lb" x="463.5" y="207">Changshan Qundao</text><text class="lb" x="478.5" y="320.9">Zhoushan Qundao</text><text class="lb" x="494.5" y="355.8">Chiwei Yu</text><text class="lb" x="470.5" y="363.2">Diaoyu Dao</text><text class="lb" x="471.5" y="396.6">Taiwan Dao</text><text class="lb" x="483.8" y="407.6">Lan Yu</text><text class="lb" x="411" y="437">Dongsha Qundao</text><text class="lb" x="366.3" y="457.9">Hainan Dao</text><text class="sea" x="428.5" y="220.9">Bo Hai</text><text class="sea" x="451.8" y="258.3">Yellow Sea</text><text class="sea" x="487.5" y="333.4">East China Sea</text><text class="sea" x="378.8" y="465.3">South China Sea</text><text x="536" y="384.8" font-size="2.3" font-style="italic" fill="#444">Dongsha Qundao</text><text x="519" y="388.3" font-size="2.3" font-style="italic" fill="#444">Hainan Dao</text><text x="518.5" y="396" font-size="2.3" font-style="italic" fill="#444">Xisha Qundao</text><text x="531" y="401.6" font-size="2.3" font-style="italic" fill="#444">Zhongsha Qundao</text><text x="536" y="406.6" font-size="2.3" font-style="italic" fill="#444">Huangyan Dao</text><text x="523.5" y="416.3" font-size="2.8" font-style="italic" fill="#3cc0f0">South China Sea</text><text x="527.5" y="428.3" font-size="2.3" font-style="italic" fill="#444">Nansha Qundao</text><text x="514.5" y="449.6" font-size="2.3" font-style="italic" fill="#444">Zengmu Ansha</text><text x="548.5" y="374.6" font-size="2.3" font-style="italic" fill="#444">Taiwan Dao</text><text class="sb" x="6" y="451.8">0</text><text class="sb" x="53.3" y="451.8">500 km</text><text x="535.2" y="458.2" font-size="4.6" fill="#333">0</text><text x="551.6" y="458.2" font-size="4.6" fill="#333">400 km</text>
<text x="11.3" y="86.8" font-family="Liberation Sans,Arial,sans-serif" font-size="11.5" font-weight="bold" fill="#111" style="font-family:'Liberation Sans',sans-serif">N</text><path d="M15.6 91.2L6.3 120.3L15.6 112.2Z" fill="#000" stroke="#000" stroke-width="0.8" stroke-linejoin="miter"/><path d="M15.6 91.2L24.6 120.3L15.6 112.2Z" fill="#fff" stroke="#000" stroke-width="0.9" stroke-linejoin="miter"/>
<text class="t1" x="7" y="30.6">a. Cropland</text>
<text class="cn" x="8.3" y="62.6">&#9312;</text><text class="t2" x="28.4" y="63">Coefficient</text>
</g>
<g transform="translate(580.5 0)">
<use href="#halo"/>
<use href="#cn" fill="#fff"/>
<g clip-path="url(#cp)">
<rect x="0" y="30" width="560" height="450" fill="#6fb4e1"/>
<path d="M220.9 152.2C212.4 180.3 220.1 179.3 219.4 188.3C218.6 197.3 217.9 199.8 216.4 206.3C214.9 212.8 210.4 221.3 210.4 227.4C210.4 233.4 212.4 239.9 216.4 242.4C220.4 244.9 228.4 241.9 234.4 242.4C240.4 242.9 246.4 243.4 252.4 245.4C258.4 247.4 269.5 251.9 270.5 254.4C271.5 256.9 263.5 257.9 258.4 260.4C253.4 262.9 245.4 265.9 240.4 269.4C235.4 272.9 232.4 276.9 228.4 281.5C224.4 286 220.4 291.5 216.4 296.5C212.4 301.5 207.9 306.5 204.4 311.5C200.8 316.5 197.8 321 195.3 326.5C192.8 332 190.6 339.1 189.3 344.6C188.1 350.1 188.1 336.3 187.8 359.6C187.6 382.8 122.5 463.3 187.8 484C253.2 504.7 514.6 561.3 580 484C645.4 406.7 631.6 97.3 580 20C528.4 -57.3 330.3 -2 270.5 20C210.6 42 229.4 124.2 220.9 152.2Z" fill="#d3eafc"/>
<path d="M368.1 146.2C368.4 172.3 368.9 168.3 369.6 176.3C370.4 184.3 371.6 189.5 372.6 194.3C373.6 199.1 377.7 203.3 375.6 204.8C373.6 206.3 366.6 203.6 360.6 203.3C354.6 203.1 342.6 201.3 339.6 203.3C336.6 205.3 340.6 210.8 342.6 215.3C344.6 219.8 349.6 224.9 351.6 230.4C353.6 235.9 353.9 242.9 354.6 248.4C355.4 253.9 354.6 258.9 356.1 263.4C357.6 267.9 361.4 270.9 363.6 275.4C365.9 279.9 368.1 285.5 369.6 290.5C371.1 295.5 370.6 301 372.6 305.5C374.6 310 377.7 315.5 381.7 317.5C385.7 319.5 391.7 319 396.7 317.5C401.7 316 406.7 311.5 411.7 308.5C416.7 305.5 422.2 302 426.7 299.5C431.2 297 434.2 295 438.8 293.5C443.3 292 448.8 290.5 453.8 290.5C458.8 290.5 447.8 293.5 468.8 293.5C489.8 293.5 561.5 336 580 290.5C598.5 244.9 615.3 65.1 580 20C544.7 -25.1 403.4 -1 368.1 20C332.8 41 367.9 120.2 368.1 146.2Z" fill="#6fb4e1"/>
<path d="M309.5 242.4C312 238.9 314.5 238.9 318.5 239.4C322.6 239.9 329.1 242.9 333.6 245.4C338.1 247.9 342.1 250.4 345.6 254.4C349.1 258.4 352.6 263.9 354.6 269.4C356.6 274.9 358.1 282 357.6 287.5C357.1 293 353.6 298 351.6 302.5C349.6 307 349.1 311.5 345.6 314.5C342.1 317.5 335.6 318 330.6 320.5C325.6 323 319.6 326.5 315.5 329.5C311.5 332.5 308.5 334.5 306.5 338.5C304.5 342.6 304.5 348.1 303.5 353.6C302.5 359.1 302 367.1 300.5 371.6C299 376.1 298 378.4 294.5 380.6C291 382.9 284 385.1 279.5 385.1C275 385.1 270.5 383.9 267.5 380.6C264.5 377.4 262.5 371.1 261.5 365.6C260.4 360.1 260.4 353.1 261.5 347.6C262.5 342.1 265 337 267.5 332.5C270 328 276 325 276.5 320.5C277 316 273 309.5 270.5 305.5C268 301.5 262.5 299.5 261.5 296.5C260.4 293.5 262 290.5 264.5 287.5C267 284.5 272 281.5 276.5 278.4C281 275.4 287 272.4 291.5 269.4C296 266.4 300.5 264.9 303.5 260.4C306.5 255.9 307 245.9 309.5 242.4Z" fill="#6fb4e1"/>
<path d="M474.8 329.5C471.3 328 464.8 333.3 459.8 335.5C454.8 337.8 449.8 340.1 444.8 343.1C439.8 346.1 433.7 349.8 429.7 353.6C425.7 357.3 423 361.1 420.7 365.6C418.5 370.1 415.2 377.9 416.2 380.6C417.2 383.4 423 383.1 426.7 382.1C430.5 381.1 434.7 376.4 438.8 374.6C442.8 372.9 446.8 374.6 450.8 371.6C454.8 368.6 457.8 361.1 462.8 356.6C467.8 352.1 478.8 349.1 480.8 344.6C482.8 340.1 478.3 331 474.8 329.5Z" fill="#6fb4e1"/>
<path d="M357.6 386.6C358.6 383.9 368.6 383.1 375.6 382.1C382.7 381.1 392.7 380.9 399.7 380.6C406.7 380.4 413.2 379.1 417.7 380.6C422.2 382.1 424.7 386.1 426.7 389.6C428.7 393.1 430.7 398.2 429.7 401.7C428.7 405.2 424.7 408.2 420.7 410.7C416.7 413.2 410.7 414.7 405.7 416.7C400.7 418.7 394.7 421.4 390.7 422.7C386.7 423.9 384.2 426.2 381.7 424.2C379.2 422.2 377.7 414.9 375.6 410.7C373.6 406.4 372.6 402.7 369.6 398.7C366.6 394.6 356.6 389.4 357.6 386.6Z" fill="#6fb4e1"/>
<path d="M428.2 313C429.4 311.3 432.5 309.5 434.2 310C436 310.5 438.3 313.8 438.8 316C439.3 318.3 438.5 322 437.3 323.5C436 325 432.9 325.5 431.2 325C429.6 324.5 427.8 322.5 427.3 320.5C426.8 318.5 427.1 314.8 428.2 313Z" fill="#6fb4e1"/>
<path d="M363.6 332.5C364.6 331 366.9 330.5 368.1 332.5C369.4 334.5 370.4 340.6 371.1 344.6C371.9 348.6 373.1 353.8 372.6 356.6C372.1 359.3 369.6 361.6 368.1 361.1C366.6 360.6 364.6 356.8 363.6 353.6C362.6 350.3 362.1 345.1 362.1 341.6C362.1 338 362.6 334 363.6 332.5Z" fill="#6fb4e1"/>
<path d="M330 349.1C330.6 347.1 332.7 346.3 333.6 347.6C334.4 348.8 335.2 353.8 335.1 356.6C335 359.3 333.8 363.6 333 364.1C332.1 364.6 330.5 362.1 330 359.6C329.5 357.1 329.4 351.1 330 349.1Z" fill="#6fb4e1"/>
<path d="M296 197.3C296.5 196.1 300.3 194.8 302 194.3C303.8 193.8 306 193.3 306.5 194.3C307 195.3 306.3 199.1 305 200.3C303.8 201.6 300.5 202.3 299 201.8C297.5 201.3 295.5 198.6 296 197.3Z" fill="#6fb4e1"/>
<path d="M309.5 407.7C310.8 406.2 316.3 406.7 318.5 407.7C320.8 408.7 323.1 411.7 323.1 413.7C323.1 415.7 320.6 419.2 318.5 419.7C316.5 420.2 312.5 418.7 311 416.7C309.5 414.7 308.3 409.2 309.5 407.7Z" fill="#6fb4e1"/>
<path d="M336.6 446.1C342.6 441 366.6 441 372.6 446.1C378.7 451.2 378.7 471.7 372.6 476.8C366.6 481.9 342.6 481.9 336.6 476.8C330.6 471.7 330.6 451.2 336.6 446.1Z" fill="#d3eafc"/>
<path d="M459.8 371.6C464.3 364.1 482.3 364.1 486.8 371.6C491.3 379.1 491.3 409.2 486.8 416.7C482.3 424.2 464.3 424.2 459.8 416.7C455.3 409.2 455.3 379.1 459.8 371.6Z" fill="#d3eafc"/>
<use href="#mesh"/>
</g>
<use href="#ov"/>
<path d="M501.8 368.6L541 368.6L538 372L533 376L527 378.5L521 380L517 381L516.5 385L513 385.5L512.5 381.5L507 381.3L501.8 380.5Z" fill="#6fb4e1"/><path d="M508 392L510 388.5L514.5 387.3L517 388.5L516 392L513 394.5L509.5 395Z" fill="#d3eafc"/><path d="M548 368.6L556 368.6L555.5 372L553 374.5L550 372.5Z" fill="#d3eafc"/><path d="M541 368.6L538 372L533 376L527 378.5L521 380L517 381L516.5 385L513 385.5" fill="none" stroke="#38c8f4" stroke-width="1" stroke-dasharray="1.4 1"/>
<text class="lb" x="463.5" y="207">Changshan Qundao</text><text class="lb" x="478.5" y="320.9">Zhoushan Qundao</text><text class="lb" x="494.5" y="355.8">Chiwei Yu</text><text class="lb" x="470.5" y="363.2">Diaoyu Dao</text><text class="lb" x="471.5" y="396.6">Taiwan Dao</text><text class="lb" x="483.8" y="407.6">Lan Yu</text><text class="lb" x="411" y="437">Dongsha Qundao</text><text class="lb" x="366.3" y="457.9">Hainan Dao</text><text class="sea" x="428.5" y="220.9">Bo Hai</text><text class="sea" x="451.8" y="258.3">Yellow Sea</text><text class="sea" x="487.5" y="333.4">East China Sea</text><text class="sea" x="378.8" y="465.3">South China Sea</text><text x="536" y="384.8" font-size="2.3" font-style="italic" fill="#444">Dongsha Qundao</text><text x="519" y="388.3" font-size="2.3" font-style="italic" fill="#444">Hainan Dao</text><text x="518.5" y="396" font-size="2.3" font-style="italic" fill="#444">Xisha Qundao</text><text x="531" y="401.6" font-size="2.3" font-style="italic" fill="#444">Zhongsha Qundao</text><text x="536" y="406.6" font-size="2.3" font-style="italic" fill="#444">Huangyan Dao</text><text x="523.5" y="416.3" font-size="2.8" font-style="italic" fill="#3cc0f0">South China Sea</text><text x="527.5" y="428.3" font-size="2.3" font-style="italic" fill="#444">Nansha Qundao</text><text x="514.5" y="449.6" font-size="2.3" font-style="italic" fill="#444">Zengmu Ansha</text><text x="548.5" y="374.6" font-size="2.3" font-style="italic" fill="#444">Taiwan Dao</text><text class="sb" x="6" y="451.8">0</text><text class="sb" x="53.3" y="451.8">500 km</text><text x="535.2" y="458.2" font-size="4.6" fill="#333">0</text><text x="551.6" y="458.2" font-size="4.6" fill="#333">400 km</text>
<text class="cn" x="8.8" y="62.6">&#9313;</text><text class="t2" x="28.6" y="63">P-value</text>
</g>
<g transform="translate(1191.5 0)">
<use href="#halo"/>
<use href="#cn" fill="#fff"/>
<g clip-path="url(#cp)">
<rect x="0" y="30" width="560" height="450" fill="#93d5b9"/>
<path d="M0 182.3C3.5 210.3 13.5 184.3 21 188.3C28.5 192.3 36.1 199.8 45.1 206.3C54.1 212.8 65.1 220.8 75.1 227.4C85.1 233.9 96.2 240.1 105.2 245.4C114.2 250.6 121.7 254.9 129.2 258.9C136.7 262.9 145 267.2 150.3 269.4C155.5 271.7 158.4 273.9 160.8 272.4C163.2 270.9 165.9 264.9 164.7 260.4C163.4 255.9 156.4 250.4 153.3 245.4C150.1 240.4 146.3 235.9 145.8 230.4C145.3 224.9 148 218.3 150.3 212.3C152.5 206.3 156 200.3 159.3 194.3C162.5 188.3 165.3 178.8 169.8 176.3C174.3 173.8 179.6 177.8 186.3 179.3C193.1 180.8 203.9 184.5 210.4 185.3C216.9 186 222.4 186.3 225.4 183.8C228.4 181.3 230.9 197.6 228.4 170.3C225.9 143 248.4 45 210.4 20C172.3 -5 35.1 -7 0 20C-35.1 47 -3.5 154.2 0 182.3Z" fill="#5cbbd0"/>
<path d="M87.2 311.5C91.7 282.5 106.2 311 114.2 310C122.2 309 127.2 308.2 135.2 305.5C143.2 302.7 154.8 297 162.3 293.5C169.8 290 174.3 288 180.3 284.5C186.3 280.9 192.3 275.9 198.3 272.4C204.4 268.9 209.9 266.9 216.4 263.4C222.9 259.9 231.4 255.9 237.4 251.4C243.4 246.9 248.9 241.9 252.4 236.4C255.9 230.9 256.9 224.4 258.4 218.3C259.9 212.3 259.4 205.3 261.5 200.3C263.5 195.3 217.4 190.3 270.5 188.3C323.6 186.3 528.4 139 580 188.3C631.6 237.6 662.1 434.7 580 484C497.9 533.3 169.3 512.7 87.2 484C5 455.3 82.6 340.5 87.2 311.5Z" fill="#c2e7c1"/>
<path d="M168.3 308.5C171.3 302.5 184.3 296 192.3 290.5C200.3 285 208.4 280.4 216.4 275.4C224.4 270.4 233.9 265.9 240.4 260.4C246.9 254.9 251.9 248.4 255.4 242.4C258.9 236.4 258.9 229.4 261.5 224.4C264 219.3 217.4 214.3 270.5 212.3C323.6 210.3 528.4 167.1 580 212.3C631.6 257.6 641.6 438.7 580 484C518.4 529.3 275 506.2 210.4 484C145.8 461.8 198.3 376.8 192.3 350.6C186.3 324.3 178.3 333.5 174.3 326.5C170.3 319.5 165.3 314.5 168.3 308.5Z" fill="#dcf1d6"/>
<path d="M249.4 230.4C252.4 225.9 256.4 222.3 261.5 221.3C266.5 220.3 274.5 221.8 279.5 224.4C284.5 226.9 288.5 230.9 291.5 236.4C294.5 241.9 297 250.4 297.5 257.4C298 264.4 294 271.9 294.5 278.4C295 285 297.5 291 300.5 296.5C303.5 302 307.5 308 312.5 311.5C317.5 315 323.6 316.8 330.6 317.5C337.6 318.3 347.1 316 354.6 316C362.1 316 369.6 316.3 375.6 317.5C381.7 318.8 385.2 323.5 390.7 323.5C396.2 323.5 402.7 319 408.7 317.5C414.7 316 421.7 313 426.7 314.5C431.7 316 434.7 322 438.8 326.5C442.8 331 447.3 337.5 450.8 341.6C454.3 345.6 459.8 346.6 459.8 350.6C459.8 354.6 455.3 361.6 450.8 365.6C446.3 369.6 437.8 371.1 432.7 374.6C427.7 378.1 425.2 381.6 420.7 386.6C416.2 391.6 410.7 399.2 405.7 404.7C400.7 410.2 397.2 416.7 390.7 419.7C384.2 422.7 372.6 424.7 366.6 422.7C360.6 420.7 358.1 413.2 354.6 407.7C351.1 402.2 346.6 395.1 345.6 389.6C344.6 384.1 351.1 377.6 348.6 374.6C346.1 371.6 337.6 371.6 330.6 371.6C323.6 371.6 312.5 375.1 306.5 374.6C300.5 374.1 296 373.1 294.5 368.6C293 364.1 298.5 353.6 297.5 347.6C296.5 341.6 293 334 288.5 332.5C284 331 275 335 270.5 338.5C266 342.1 264 348.1 261.5 353.6C258.9 359.1 258.4 368.1 255.4 371.6C252.4 375.1 246.4 378.1 243.4 374.6C240.4 371.1 238.9 359.6 237.4 350.6C235.9 341.6 235.9 329.5 234.4 320.5C232.9 311.5 227.9 305 228.4 296.5C228.9 288 234.9 277.4 237.4 269.4C239.9 261.4 241.4 254.9 243.4 248.4C245.4 241.9 246.4 234.9 249.4 230.4Z" fill="#f4faed"/>
<path d="M330.6 407.7C335.6 402.7 350.6 410.2 360.6 410.7C370.6 411.2 383.2 411.7 390.7 410.7C398.2 409.7 400.7 399.7 405.7 404.7C410.7 409.7 433.2 434.7 420.7 440.7C408.2 446.7 345.6 446.2 330.6 440.7C315.5 435.2 325.6 412.7 330.6 407.7Z" fill="#c2e7c1"/>
<path d="M261.5 182.3C255.4 184.3 262 194.8 264.5 200.3C267 205.8 272.5 209.3 276.5 215.3C280.5 221.3 285 229.4 288.5 236.4C292 243.4 296.3 250.4 297.5 257.4C298.8 264.4 295.5 271.9 296 278.4C296.5 285 297.8 291.2 300.5 296.5C303.3 301.7 307.5 306.7 312.5 310C317.5 313.3 323.6 315.5 330.6 316C337.6 316.5 347.6 314.3 354.6 313C361.6 311.8 368.6 307.7 372.6 308.5C376.6 309.2 376.1 315 378.7 317.5C381.2 320 384.2 323.5 387.7 323.5C391.2 323.5 396.7 320 399.7 317.5C402.7 315 402.2 311 405.7 308.5C409.2 306 416.2 301.5 420.7 302.5C425.2 303.5 429.2 310 432.7 314.5C436.3 319 438.3 325 441.8 329.5C445.3 334 449.3 339.1 453.8 341.6C458.3 344.1 447.8 344.1 468.8 344.6C489.8 345.1 561.5 398.7 580 344.6C598.5 290.5 616.6 74.1 580 20C543.4 -34.1 397.2 -0 360.6 20C324.1 40 370.6 112.2 360.6 140.2C350.6 168.3 317 181.3 300.5 188.3C284 195.3 267.5 180.3 261.5 182.3Z" fill="none" stroke="#c2e7c1" stroke-width="14" stroke-linejoin="round"/>
<path d="M261.5 182.3C255.4 184.3 262 194.8 264.5 200.3C267 205.8 272.5 209.3 276.5 215.3C280.5 221.3 285 229.4 288.5 236.4C292 243.4 296.3 250.4 297.5 257.4C298.8 264.4 295.5 271.9 296 278.4C296.5 285 297.8 291.2 300.5 296.5C303.3 301.7 307.5 306.7 312.5 310C317.5 313.3 323.6 315.5 330.6 316C337.6 316.5 347.6 314.3 354.6 313C361.6 311.8 368.6 307.7 372.6 308.5C376.6 309.2 376.1 315 378.7 317.5C381.2 320 384.2 323.5 387.7 323.5C391.2 323.5 396.7 320 399.7 317.5C402.7 315 402.2 311 405.7 308.5C409.2 306 416.2 301.5 420.7 302.5C425.2 303.5 429.2 310 432.7 314.5C436.3 319 438.3 325 441.8 329.5C445.3 334 449.3 339.1 453.8 341.6C458.3 344.1 447.8 344.1 468.8 344.6C489.8 345.1 561.5 398.7 580 344.6C598.5 290.5 616.6 74.1 580 20C543.4 -34.1 397.2 -0 360.6 20C324.1 40 370.6 112.2 360.6 140.2C350.6 168.3 317 181.3 300.5 188.3C284 195.3 267.5 180.3 261.5 182.3Z" fill="none" stroke="#93d5b9" stroke-width="7" stroke-linejoin="round"/>
<path d="M261.5 182.3C255.4 184.3 262 194.8 264.5 200.3C267 205.8 272.5 209.3 276.5 215.3C280.5 221.3 285 229.4 288.5 236.4C292 243.4 296.3 250.4 297.5 257.4C298.8 264.4 295.5 271.9 296 278.4C296.5 285 297.8 291.2 300.5 296.5C303.3 301.7 307.5 306.7 312.5 310C317.5 313.3 323.6 315.5 330.6 316C337.6 316.5 347.6 314.3 354.6 313C361.6 311.8 368.6 307.7 372.6 308.5C376.6 309.2 376.1 315 378.7 317.5C381.2 320 384.2 323.5 387.7 323.5C391.2 323.5 396.7 320 399.7 317.5C402.7 315 402.2 311 405.7 308.5C409.2 306 416.2 301.5 420.7 302.5C425.2 303.5 429.2 310 432.7 314.5C436.3 319 438.3 325 441.8 329.5C445.3 334 449.3 339.1 453.8 341.6C458.3 344.1 447.8 344.1 468.8 344.6C489.8 345.1 561.5 398.7 580 344.6C598.5 290.5 616.6 74.1 580 20C543.4 -34.1 397.2 -0 360.6 20C324.1 40 370.6 112.2 360.6 140.2C350.6 168.3 317 181.3 300.5 188.3C284 195.3 267.5 180.3 261.5 182.3Z" fill="#5cbbd0"/>
<path d="M270.5 188.3C267.5 191.3 278.5 199.3 282.5 206.3C286.5 213.3 291.5 222.3 294.5 230.4C297.5 238.4 299.8 246.4 300.5 254.4C301.3 262.4 298.5 271.7 299 278.4C299.5 285.2 300.8 290.2 303.5 295C306.3 299.7 310.5 304 315.5 307C320.6 310 327.1 312.5 333.6 313C340.1 313.5 348.4 311.5 354.6 310C360.9 308.5 366.9 303.2 371.1 304C375.4 304.7 377.2 311.8 380.2 314.5C383.2 317.3 386.2 320.5 389.2 320.5C392.2 320.5 395.7 317.3 398.2 314.5C400.7 311.8 400.4 306.7 404.2 304C408 301.2 415.5 296.7 420.7 298C426 299.2 431.7 306.7 435.8 311.5C439.8 316.3 441.3 322 444.8 326.5C448.3 331 452.3 336 456.8 338.5C461.3 341.1 451.3 341.1 471.8 341.6C492.3 342.1 562 395.1 580 341.6C598 288 616.6 73.6 580 20C543.4 -33.6 397.2 -0 360.6 20C324.1 40 370.6 112.2 360.6 140.2C350.6 168.3 315.5 180.3 300.5 188.3C285.5 196.3 273.5 185.3 270.5 188.3Z" fill="#3a9acb"/>
<path d="M285.5 194.3C284.5 198.3 294.5 208.3 297.5 215.3C300.5 222.3 302 229.4 303.5 236.4C305 243.4 306.5 250.4 306.5 257.4C306.5 264.4 303.3 272.4 303.5 278.4C303.8 284.5 305.5 289.2 308 293.5C310.5 297.7 313.8 301.5 318.5 304C323.3 306.5 330.6 308 336.6 308.5C342.6 309 349.6 308.5 354.6 307C359.6 305.5 362.1 302.2 366.6 299.5C371.1 296.7 377.7 290 381.7 290.5C385.7 291 387.2 301.5 390.7 302.5C394.2 303.5 397.7 298.5 402.7 296.5C407.7 294.5 415.7 290 420.7 290.5C425.7 291 429.2 295.5 432.7 299.5C436.3 303.5 437.8 311 441.8 314.5C445.8 318 451.8 319 456.8 320.5C461.8 322 451.3 323.5 471.8 323.5C492.3 323.5 562 371.1 580 320.5C598 269.9 616.6 70.1 580 20C543.4 -30.1 397.2 -0 360.6 20C324.1 40 370.1 111.7 360.6 140.2C351.1 168.8 316 182.3 303.5 191.3C291 200.3 286.5 190.3 285.5 194.3Z" fill="#1b6fb6"/>
<path d="M303.5 192.8C301 197.8 311 208.1 315.5 212.3C320.1 216.6 325.6 215.3 330.6 218.3C335.6 221.3 341.6 225.9 345.6 230.4C349.6 234.9 355.6 243.1 354.6 245.4C353.6 247.6 345.6 245.4 339.6 243.9C333.6 242.4 323.1 235.6 318.5 236.4C314 237.1 314 242.9 312.5 248.4C311 253.9 310.5 262.9 309.5 269.4C308.5 275.9 306 282.5 306.5 287.5C307 292.5 309.5 296.5 312.5 299.5C315.5 302.5 319.6 304.2 324.6 305.5C329.6 306.7 337.1 307.2 342.6 307C348.1 306.7 353.6 306.2 357.6 304C361.6 301.7 363.1 296.7 366.6 293.5C370.1 290.2 374.1 286.5 378.7 284.5C383.2 282.5 389.2 281.5 393.7 281.5C398.2 281.5 402.2 285 405.7 284.5C409.2 284 412.2 280.9 414.7 278.4C417.2 275.9 417.7 269.9 420.7 269.4C423.7 268.9 428.7 272.9 432.7 275.4C436.8 277.9 440.8 282 444.8 284.5C448.8 287 453.3 288.5 456.8 290.5C460.3 292.5 461.8 296.5 465.8 296.5C469.8 296.5 473.3 306.5 480.8 290.5C488.3 274.4 500.9 224.4 510.9 200.3C520.9 176.3 538.9 158.7 540.9 146.2C542.9 133.7 530.4 126.7 522.9 125.2C515.4 123.7 504.9 133.2 495.9 137.2C486.8 141.2 476.3 145.2 468.8 149.2C461.3 153.2 456.8 158.2 450.8 161.2C444.8 164.2 438.8 167.8 432.7 167.3C426.7 166.8 420.2 161.2 414.7 158.2C409.2 155.2 405.2 151.2 399.7 149.2C394.2 147.2 388.2 145.7 381.7 146.2C375.1 146.7 365.1 148.7 360.6 152.2C356.1 155.7 359.6 162.2 354.6 167.3C349.6 172.3 339.1 178 330.6 182.3C322.1 186.5 306 187.8 303.5 192.8Z" fill="#0b4789"/>
<path d="M387.7 140.2C392.2 144.2 397.2 134.2 402.7 134.2C408.2 134.2 415.2 138.7 420.7 140.2C426.2 141.7 430.7 145.7 435.8 143.2C440.8 140.7 446.3 131.7 450.8 125.2C455.3 118.7 458.8 110.7 462.8 104.1C466.8 97.6 470.8 91.1 474.8 86.1C478.8 81.1 487.8 77.6 486.8 74.1C485.8 70.6 474.8 72.6 468.8 65.1C462.8 57.6 463.8 35 450.8 29C437.8 23 403.2 15.5 390.7 29C378.2 42.5 376.1 91.6 375.6 110.2C375.1 128.7 383.2 136.2 387.7 140.2Z" fill="#3a9acb"/>
<path d="M399.7 134.2C405.7 136.7 410.2 130.7 414.7 131.2C419.2 131.7 423.2 137.7 426.7 137.2C430.2 136.7 434.7 132.7 435.8 128.2C436.8 123.7 434.2 116.7 432.7 110.2C431.2 103.6 428.7 95.6 426.7 89.1C424.7 82.6 422.7 75.6 420.7 71.1C418.7 66.6 417.2 61.6 414.7 62.1C412.2 62.6 410.2 69.1 405.7 74.1C401.2 79.1 392.2 85.1 387.7 92.1C383.2 99.1 376.6 109.2 378.7 116.2C380.7 123.2 393.7 131.7 399.7 134.2Z" fill="#5cbbd0"/>
<path d="M381.7 95.1C385.2 90.6 397.7 88.6 402.7 89.1C407.7 89.6 409.7 94.6 411.7 98.1C413.7 101.6 416.2 107.2 414.7 110.2C413.2 113.2 408.2 115.2 402.7 116.2C397.2 117.2 385.2 119.7 381.7 116.2C378.2 112.7 378.2 99.6 381.7 95.1Z" fill="#93d5b9"/>
<path d="M267.5 344.6C268 340.1 273 337.5 276.5 335.5C280 333.5 285.2 331.5 288.5 332.5C291.8 333.5 295 337.5 296 341.6C297 345.6 296.3 352.6 294.5 356.6C292.8 360.6 289 364.6 285.5 365.6C282 366.6 276.5 366.1 273.5 362.6C270.5 359.1 267 349.1 267.5 344.6Z" fill="none" stroke="#c2e7c1" stroke-width="12" stroke-linejoin="round"/>
<path d="M267.5 344.6C268 340.1 273 337.5 276.5 335.5C280 333.5 285.2 331.5 288.5 332.5C291.8 333.5 295 337.5 296 341.6C297 345.6 296.3 352.6 294.5 356.6C292.8 360.6 289 364.6 285.5 365.6C282 366.6 276.5 366.1 273.5 362.6C270.5 359.1 267 349.1 267.5 344.6Z" fill="none" stroke="#93d5b9" stroke-width="6" stroke-linejoin="round"/>
<path d="M267.5 344.6C268 340.1 273 337.5 276.5 335.5C280 333.5 285.2 331.5 288.5 332.5C291.8 333.5 295 337.5 296 341.6C297 345.6 296.3 352.6 294.5 356.6C292.8 360.6 289 364.6 285.5 365.6C282 366.6 276.5 366.1 273.5 362.6C270.5 359.1 267 349.1 267.5 344.6Z" fill="#5cbbd0"/>
<path d="M273.5 347.6C274 344.3 278.7 341.8 281 341.6C283.2 341.3 286.2 343.3 287 346.1C287.7 348.8 287 355.6 285.5 358.1C284 360.6 280 362.8 278 361.1C276 359.3 273 350.8 273.5 347.6Z" fill="#3a9acb"/>
<path d="M264.5 380.6C267.5 376.1 281 375.1 285.5 377.6C290 380.1 292 390.1 291.5 395.6C291 401.2 286.5 409.2 282.5 410.7C278.5 412.2 270.5 409.7 267.5 404.7C264.5 399.7 261.5 385.1 264.5 380.6Z" fill="none" stroke="#c2e7c1" stroke-width="8" stroke-linejoin="round"/>
<path d="M264.5 380.6C267.5 376.1 281 375.1 285.5 377.6C290 380.1 292 390.1 291.5 395.6C291 401.2 286.5 409.2 282.5 410.7C278.5 412.2 270.5 409.7 267.5 404.7C264.5 399.7 261.5 385.1 264.5 380.6Z" fill="#93d5b9"/>
<path d="M285.5 380.6C288 378.6 295 378.6 300.5 377.6C306 376.6 312.5 374.6 318.5 374.6C324.6 374.6 332.6 375.6 336.6 377.6C340.6 379.6 342.6 383.1 342.6 386.6C342.6 390.1 338.6 394.1 336.6 398.7C334.6 403.2 333.6 411.7 330.6 413.7C327.6 415.7 322.6 412.7 318.5 410.7C314.5 408.7 310.5 404.2 306.5 401.7C302.5 399.2 298 397.7 294.5 395.6C291 393.6 287 392.1 285.5 389.6C284 387.1 283 382.6 285.5 380.6Z" fill="none" stroke="#c2e7c1" stroke-width="12" stroke-linejoin="round"/>
<path d="M285.5 380.6C288 378.6 295 378.6 300.5 377.6C306 376.6 312.5 374.6 318.5 374.6C324.6 374.6 332.6 375.6 336.6 377.6C340.6 379.6 342.6 383.1 342.6 386.6C342.6 390.1 338.6 394.1 336.6 398.7C334.6 403.2 333.6 411.7 330.6 413.7C327.6 415.7 322.6 412.7 318.5 410.7C314.5 408.7 310.5 404.2 306.5 401.7C302.5 399.2 298 397.7 294.5 395.6C291 393.6 287 392.1 285.5 389.6C284 387.1 283 382.6 285.5 380.6Z" fill="none" stroke="#93d5b9" stroke-width="6" stroke-linejoin="round"/>
<path d="M285.5 380.6C288 378.6 295 378.6 300.5 377.6C306 376.6 312.5 374.6 318.5 374.6C324.6 374.6 332.6 375.6 336.6 377.6C340.6 379.6 342.6 383.1 342.6 386.6C342.6 390.1 338.6 394.1 336.6 398.7C334.6 403.2 333.6 411.7 330.6 413.7C327.6 415.7 322.6 412.7 318.5 410.7C314.5 408.7 310.5 404.2 306.5 401.7C302.5 399.2 298 397.7 294.5 395.6C291 393.6 287 392.1 285.5 389.6C284 387.1 283 382.6 285.5 380.6Z" fill="#5cbbd0"/>
<path d="M405.7 389.6C408.2 385.6 413.2 383.1 417.7 380.6C422.2 378.1 428.7 374.6 432.7 374.6C436.8 374.6 441.3 377.1 441.8 380.6C442.3 384.1 438.8 391.1 435.8 395.6C432.7 400.2 427.7 404.7 423.7 407.7C419.7 410.7 415.2 414.2 411.7 413.7C408.2 413.2 403.7 408.7 402.7 404.7C401.7 400.7 403.2 393.6 405.7 389.6Z" fill="none" stroke="#c2e7c1" stroke-width="12" stroke-linejoin="round"/>
<path d="M405.7 389.6C408.2 385.6 413.2 383.1 417.7 380.6C422.2 378.1 428.7 374.6 432.7 374.6C436.8 374.6 441.3 377.1 441.8 380.6C442.3 384.1 438.8 391.1 435.8 395.6C432.7 400.2 427.7 404.7 423.7 407.7C419.7 410.7 415.2 414.2 411.7 413.7C408.2 413.2 403.7 408.7 402.7 404.7C401.7 400.7 403.2 393.6 405.7 389.6Z" fill="none" stroke="#93d5b9" stroke-width="6" stroke-linejoin="round"/>
<path d="M405.7 389.6C408.2 385.6 413.2 383.1 417.7 380.6C422.2 378.1 428.7 374.6 432.7 374.6C436.8 374.6 441.3 377.1 441.8 380.6C442.3 384.1 438.8 391.1 435.8 395.6C432.7 400.2 427.7 404.7 423.7 407.7C419.7 410.7 415.2 414.2 411.7 413.7C408.2 413.2 403.7 408.7 402.7 404.7C401.7 400.7 403.2 393.6 405.7 389.6Z" fill="#5cbbd0"/>
<path d="M413.2 392.6C414 389.1 418.2 385.9 420.7 385.1C423.2 384.4 427.5 385.9 428.2 388.1C429 390.4 427.2 395.6 425.2 398.7C423.2 401.7 418.2 407.2 416.2 406.2C414.2 405.2 412.5 396.1 413.2 392.6Z" fill="none" stroke="#3a9acb" stroke-width="5" stroke-linejoin="round"/>
<path d="M413.2 392.6C414 389.1 418.2 385.9 420.7 385.1C423.2 384.4 427.5 385.9 428.2 388.1C429 390.4 427.2 395.6 425.2 398.7C423.2 401.7 418.2 407.2 416.2 406.2C414.2 405.2 412.5 396.1 413.2 392.6Z" fill="#1b6fb6"/>
<path d="M336.6 446.1C342.6 441 366.6 441 372.6 446.1C378.7 451.2 378.7 471.7 372.6 476.8C366.6 481.9 342.6 481.9 336.6 476.8C330.6 471.7 330.6 451.2 336.6 446.1Z" fill="#1b6fb6"/>
<path d="M459.8 371.6C464.3 364.1 482.3 364.1 486.8 371.6C491.3 379.1 491.3 409.2 486.8 416.7C482.3 424.2 464.3 424.2 459.8 416.7C455.3 409.2 455.3 379.1 459.8 371.6Z" fill="#c2e7c1"/>
<use href="#mesh"/>
</g>
<use href="#ov"/>
<path d="M501.8 368.6L541 368.6L538 372L533 376L527 378.5L521 380L517 381L516.5 385L513 385.5L512.5 381.5L507 381.3L501.8 380.5Z" fill="#c2e7c1"/><path d="M508 392L510 388.5L514.5 387.3L517 388.5L516 392L513 394.5L509.5 395Z" fill="#1b6fb6"/><path d="M548 368.6L556 368.6L555.5 372L553 374.5L550 372.5Z" fill="#c2e7c1"/><path d="M541 368.6L538 372L533 376L527 378.5L521 380L517 381L516.5 385L513 385.5" fill="none" stroke="#38c8f4" stroke-width="1" stroke-dasharray="1.4 1"/>
<text class="lb" x="463.5" y="207">Changshan Qundao</text><text class="lb" x="478.5" y="320.9">Zhoushan Qundao</text><text class="lb" x="494.5" y="355.8">Chiwei Yu</text><text class="lb" x="470.5" y="363.2">Diaoyu Dao</text><text class="lb" x="471.5" y="396.6">Taiwan Dao</text><text class="lb" x="483.8" y="407.6">Lan Yu</text><text class="lb" x="411" y="437">Dongsha Qundao</text><text class="lb" x="366.3" y="457.9">Hainan Dao</text><text class="sea" x="428.5" y="220.9">Bo Hai</text><text class="sea" x="451.8" y="258.3">Yellow Sea</text><text class="sea" x="487.5" y="333.4">East China Sea</text><text class="sea" x="378.8" y="465.3">South China Sea</text><text x="536" y="384.8" font-size="2.3" font-style="italic" fill="#444">Dongsha Qundao</text><text x="519" y="388.3" font-size="2.3" font-style="italic" fill="#444">Hainan Dao</text><text x="518.5" y="396" font-size="2.3" font-style="italic" fill="#444">Xisha Qundao</text><text x="531" y="401.6" font-size="2.3" font-style="italic" fill="#444">Zhongsha Qundao</text><text x="536" y="406.6" font-size="2.3" font-style="italic" fill="#444">Huangyan Dao</text><text x="523.5" y="416.3" font-size="2.8" font-style="italic" fill="#3cc0f0">South China Sea</text><text x="527.5" y="428.3" font-size="2.3" font-style="italic" fill="#444">Nansha Qundao</text><text x="514.5" y="449.6" font-size="2.3" font-style="italic" fill="#444">Zengmu Ansha</text><text x="548.5" y="374.6" font-size="2.3" font-style="italic" fill="#444">Taiwan Dao</text><text class="sb" x="6" y="451.8">0</text><text class="sb" x="53.3" y="451.8">500 km</text><text x="535.2" y="458.2" font-size="4.6" fill="#333">0</text><text x="551.6" y="458.2" font-size="4.6" fill="#333">400 km</text>
<text class="t1" x="7" y="30.6">b. Forest</text>
<text class="cn" x="8.3" y="62.6">&#9312;</text><text class="t2" x="28.4" y="63">Coefficient</text>
</g>
<g transform="translate(1772 0)">
<use href="#halo"/>
<use href="#cn" fill="#fff"/>
<g clip-path="url(#cp)">
<rect x="0" y="30" width="560" height="450" fill="#d3eafc"/>
<path d="M0 140.2C2.5 165.3 10.5 160.2 15 170.3C19.5 180.3 24 191.3 27 200.3C30.1 209.3 30.1 218.3 33.1 224.4C36.1 230.4 38.1 234.4 45.1 236.4C52.1 238.4 63.6 235.4 75.1 236.4C86.6 237.4 105.2 242.9 114.2 242.4C123.2 241.9 124.2 236.4 129.2 233.4C134.2 230.4 138.7 228.4 144.2 224.4C149.8 220.3 156.3 214.3 162.3 209.3C168.3 204.3 174.3 199.3 180.3 194.3C186.3 189.3 192.3 184.3 198.3 179.3C204.4 174.3 212.4 168.8 216.4 164.2C220.4 159.7 223.4 176.3 222.4 152.2C221.4 128.2 247.4 42 210.4 20C173.3 -2 35.1 -0 0 20C-35.1 40 -2.5 115.2 0 140.2Z" fill="#6fb4e1"/>
<path d="M293 188.3C288.5 191.8 289 202.8 288.5 209.3C288 215.8 291 222.8 290 227.4C289 231.9 286.2 235.1 282.5 236.4C278.7 237.6 272.5 233.9 267.5 234.9C262.5 235.9 256.9 238.6 252.4 242.4C247.9 246.1 242.9 252.4 240.4 257.4C237.9 262.4 238.9 267.9 237.4 272.4C235.9 276.9 233.4 279.4 231.4 284.5C229.4 289.5 227.1 296.5 225.4 302.5C223.6 308.5 222.4 314.5 220.9 320.5C219.4 326.5 217.6 333.5 216.4 338.5C215.1 343.6 211.4 348.1 213.4 350.6C215.4 353.1 224.9 350.6 228.4 353.6C231.9 356.6 232.9 363.6 234.4 368.6C235.9 373.6 235.4 381.6 237.4 383.6C239.4 385.6 244.4 384.6 246.4 380.6C248.4 376.6 248.4 366.1 249.4 359.6C250.4 353.1 250.4 346.6 252.4 341.6C254.4 336.5 257.4 332.5 261.5 329.5C265.5 326.5 271 327 276.5 323.5C282 320 288.5 311.8 294.5 308.5C300.5 305.2 306.5 304 312.5 304C318.5 304 325.1 308.2 330.6 308.5C336.1 308.7 341.1 308 345.6 305.5C350.1 303 353.1 296.5 357.6 293.5C362.1 290.5 367.6 287.5 372.6 287.5C377.7 287.5 384.2 290 387.7 293.5C391.2 297 391.2 307.5 393.7 308.5C396.2 309.5 398.7 302 402.7 299.5C406.7 297 413.2 293 417.7 293.5C422.2 294 426.2 298.5 429.7 302.5C433.2 306.5 435.8 312.5 438.8 317.5C441.8 322.5 444.3 328.5 447.8 332.5C451.3 336.5 455.8 339.6 459.8 341.6C463.8 343.6 451.8 344.1 471.8 344.6C491.8 345.1 562 398.7 580 344.6C598 290.5 616.6 74.1 580 20C543.4 -34.1 397.2 -2 360.6 20C324.1 42 368.1 124.2 360.6 152.2C353.1 180.3 326.8 182.3 315.5 188.3C304.3 194.3 297.5 184.8 293 188.3Z" fill="#6fb4e1"/>
<path d="M309.5 335.5C310 330.5 312.5 326 315.5 323.5C318.5 321 324.1 320 327.6 320.5C331.1 321 333.1 326 336.6 326.5C340.1 327 344.6 324.5 348.6 323.5C352.6 322.5 356.6 319.3 360.6 320.5C364.6 321.8 367.6 329 372.6 331C377.7 333 385.2 333.8 390.7 332.5C396.2 331.3 400.7 325 405.7 323.5C410.7 322 416.2 322 420.7 323.5C425.2 325 429.7 329 432.7 332.5C435.8 336 438.8 340.6 438.8 344.6C438.8 348.6 435.8 353.1 432.7 356.6C429.7 360.1 425.7 362.1 420.7 365.6C415.7 369.1 408.2 374.1 402.7 377.6C397.2 381.1 393.2 384.1 387.7 386.6C382.2 389.1 375.1 392.1 369.6 392.6C364.1 393.1 357.6 392.6 354.6 389.6C351.6 386.6 353.6 379.6 351.6 374.6C349.6 369.6 347.1 362.1 342.6 359.6C338.1 357.1 329.6 360.6 324.6 359.6C319.6 358.6 315 357.6 312.5 353.6C310 349.6 309 340.6 309.5 335.5Z" fill="#6fb4e1"/>
<path d="M285.5 245.4C287.2 242.6 293.5 240.4 297.5 240.9C301.5 241.4 307.5 245.1 309.5 248.4C311.5 251.6 311.5 257.9 309.5 260.4C307.5 262.9 301.3 263.9 297.5 263.4C293.8 262.9 289 260.4 287 257.4C285 254.4 283.7 248.1 285.5 245.4Z" fill="#d3eafc"/>
<path d="M270.5 275.4C272 271.9 276 267.7 279.5 266.4C283 265.2 288.7 265.9 291.5 267.9C294.3 269.9 296 274.7 296 278.4C296 282.2 294.3 287.7 291.5 290.5C288.7 293.2 283 295.5 279.5 295C276 294.5 272 290.7 270.5 287.5C269 284.2 269 278.9 270.5 275.4Z" fill="#d3eafc"/>
<path d="M375.6 95.1C378.7 88.6 395.7 98.6 402.7 89.1C409.7 79.6 413.7 43 417.7 38C421.7 33 424.2 52.1 426.7 59.1C429.2 66.1 431.7 72.6 432.7 80.1C433.7 87.6 434.2 96.6 432.7 104.1C431.2 111.7 428.2 120.2 423.7 125.2C419.2 130.2 412.2 133.7 405.7 134.2C399.2 134.7 389.7 134.7 384.7 128.2C379.7 121.7 372.6 101.6 375.6 95.1Z" fill="#d3eafc"/>
<path d="M129.2 338.5C129.7 334.5 136.7 327.3 141.2 323.5C145.8 319.8 151.3 317.3 156.3 316C161.3 314.8 168.3 314.3 171.3 316C174.3 317.8 174.8 322.8 174.3 326.5C173.8 330.3 171.3 335.3 168.3 338.5C165.3 341.8 161.3 344.6 156.3 346.1C151.3 347.6 142.7 348.8 138.2 347.6C133.7 346.3 128.7 342.6 129.2 338.5Z" fill="#6fb4e1"/>
<path d="M408.7 404.7C409.7 400.7 416.7 392.6 420.7 389.6C424.7 386.6 430.2 385.6 432.7 386.6C435.3 387.6 436.8 392.1 435.8 395.6C434.7 399.2 430.2 404.7 426.7 407.7C423.2 410.7 417.7 414.2 414.7 413.7C411.7 413.2 407.7 408.7 408.7 404.7Z" fill="#6fb4e1"/>
<path d="M274.1 349.1C274.7 347.8 278.3 347.3 279.5 348.2C280.6 349 281.6 352.9 281 354.2C280.4 355.5 277 356.8 275.9 356C274.7 355.1 273.5 350.4 274.1 349.1Z" fill="#6fb4e1"/>
<path d="M336.6 446.1C342.6 441 366.6 441 372.6 446.1C378.7 451.2 378.7 471.7 372.6 476.8C366.6 481.9 342.6 481.9 336.6 476.8C330.6 471.7 330.6 451.2 336.6 446.1Z" fill="#6fb4e1"/>
<use href="#mesh"/>
</g>
<use href="#ov"/>
<path d="M501.8 368.6L541 368.6L538 372L533 376L527 378.5L521 380L517 381L516.5 385L513 385.5L512.5 381.5L507 381.3L501.8 380.5Z" fill="#d3eafc"/><path d="M508 392L510 388.5L514.5 387.3L517 388.5L516 392L513 394.5L509.5 395Z" fill="#6fb4e1"/><path d="M548 368.6L556 368.6L555.5 372L553 374.5L550 372.5Z" fill="#d3eafc"/><path d="M541 368.6L538 372L533 376L527 378.5L521 380L517 381L516.5 385L513 385.5" fill="none" stroke="#38c8f4" stroke-width="1" stroke-dasharray="1.4 1"/>
<text class="lb" x="463.5" y="207">Changshan Qundao</text><text class="lb" x="478.5" y="320.9">Zhoushan Qundao</text><text class="lb" x="494.5" y="355.8">Chiwei Yu</text><text class="lb" x="470.5" y="363.2">Diaoyu Dao</text><text class="lb" x="471.5" y="396.6">Taiwan Dao</text><text class="lb" x="483.8" y="407.6">Lan Yu</text><text class="lb" x="411" y="437">Dongsha Qundao</text><text class="lb" x="366.3" y="457.9">Hainan Dao</text><text class="sea" x="428.5" y="220.9">Bo Hai</text><text class="sea" x="451.8" y="258.3">Yellow Sea</text><text class="sea" x="487.5" y="333.4">East China Sea</text><text class="sea" x="378.8" y="465.3">South China Sea</text><text x="536" y="384.8" font-size="2.3" font-style="italic" fill="#444">Dongsha Qundao</text><text x="519" y="388.3" font-size="2.3" font-style="italic" fill="#444">Hainan Dao</text><text x="518.5" y="396" font-size="2.3" font-style="italic" fill="#444">Xisha Qundao</text><text x="531" y="401.6" font-size="2.3" font-style="italic" fill="#444">Zhongsha Qundao</text><text x="536" y="406.6" font-size="2.3" font-style="italic" fill="#444">Huangyan Dao</text><text x="523.5" y="416.3" font-size="2.8" font-style="italic" fill="#3cc0f0">South China Sea</text><text x="527.5" y="428.3" font-size="2.3" font-style="italic" fill="#444">Nansha Qundao</text><text x="514.5" y="449.6" font-size="2.3" font-style="italic" fill="#444">Zengmu Ansha</text><text x="548.5" y="374.6" font-size="2.3" font-style="italic" fill="#444">Taiwan Dao</text><text class="sb" x="6" y="451.8">0</text><text class="sb" x="53.3" y="451.8">500 km</text><text x="535.2" y="458.2" font-size="4.6" fill="#333">0</text><text x="551.6" y="458.2" font-size="4.6" fill="#333">400 km</text>
<text class="cn" x="8.8" y="62.6">&#9313;</text><text class="t2" x="28.6" y="63">P-value</text>
</g>
<g transform="translate(0 469.4)">
<use href="#halo"/>
<use href="#cn" fill="#fff"/>
<g clip-path="url(#cp)">
<rect x="0" y="30" width="560" height="450" fill="#dcf1d6"/>
<path d="M156.3 110.2C157.3 103.1 164.3 92.1 168.3 92.1C172.3 92.1 177.3 102.1 180.3 110.2C183.3 118.2 182.3 133.2 186.3 140.2C190.3 147.2 198.3 147.2 204.4 152.2C210.4 157.2 217.4 164.2 222.4 170.3C227.4 176.3 231.4 182.3 234.4 188.3C237.4 194.3 241.4 202.3 240.4 206.3C239.4 210.3 233.4 213.3 228.4 212.3C223.4 211.3 216.4 205.3 210.4 200.3C204.4 195.3 198.3 189.3 192.3 182.3C186.3 175.3 179.3 166.3 174.3 158.2C169.3 150.2 165.3 142.2 162.3 134.2C159.3 126.2 155.3 117.2 156.3 110.2Z" fill="#f4faed"/>
<path d="M0 269.4C6.5 233.7 24 269.4 39.1 269.4C54.1 269.4 74.1 270.4 90.2 269.4C106.2 268.4 120.2 266.9 135.2 263.4C150.3 259.9 165.3 254.4 180.3 248.4C195.3 242.4 210.4 234.4 225.4 227.4C240.4 220.3 257.9 211.8 270.5 206.3C283 200.8 292.5 198.3 300.5 194.3C308.5 190.3 272 184.3 318.5 182.3C365.1 180.3 536.4 132 580 182.3C623.6 232.6 676.7 433.7 580 484C483.3 534.3 96.7 519.8 0 484C-96.7 448.2 -6.5 305.2 0 269.4Z" fill="#c2e7c1"/>
<path d="M0 308.5C11.5 278.2 51.6 305.5 69.1 302.5C86.6 299.5 91.7 294.5 105.2 290.5C118.7 286.5 135.2 284 150.3 278.4C165.3 272.9 180.3 264.9 195.3 257.4C210.4 249.9 227.9 240.4 240.4 233.4C252.9 226.4 260.4 219.8 270.5 215.3C280.5 210.8 290.5 210.8 300.5 206.3C310.5 201.8 323.1 194.3 330.6 188.3C338.1 182.3 304 173.3 345.6 170.3C387.2 167.3 540.9 118 580 170.3C619.1 222.5 676.7 431.7 580 484C483.3 536.3 96.7 513.3 0 484C-96.7 454.7 -11.5 338.7 0 308.5Z" fill="#93d5b9"/>
<path d="M0 323.5C14.5 295.8 67.1 320.5 87.2 317.5C107.2 314.5 108.7 310 120.2 305.5C131.7 301 143.2 297 156.3 290.5C169.3 284 184.3 274.4 198.3 266.4C212.4 258.4 228.4 249.4 240.4 242.4C252.4 235.4 260.4 228.9 270.5 224.4C280.5 219.8 290.5 219.3 300.5 215.3C310.5 211.3 322.1 207.8 330.6 200.3C339.1 192.8 310 175.3 351.6 170.3C393.2 165.3 541.9 118 580 170.3C618.1 222.5 676.7 431.7 580 484C483.3 536.3 96.7 510.7 0 484C-96.7 457.3 -14.5 351.3 0 323.5Z" fill="#5cbbd0"/>
<path d="M0 338.5C17.5 312.8 82.6 333.5 105.2 329.5C127.7 325.5 124.7 320 135.2 314.5C145.8 309 155.8 304 168.3 296.5C180.8 289 197.3 277.4 210.4 269.4C223.4 261.4 233.9 254.9 246.4 248.4C258.9 241.9 274 233.9 285.5 230.4C297 226.9 306.5 229.9 315.5 227.4C324.6 224.9 333.1 219.8 339.6 215.3C346.1 210.8 351.1 205.8 354.6 200.3C358.1 194.8 360.6 190.3 360.6 182.3C360.6 174.3 355.6 160.2 354.6 152.2C353.6 144.2 317 137.2 354.6 134.2C392.2 131.2 542.4 75.9 580 134.2C617.6 192.5 676.7 425.7 580 484C483.3 542.3 96.7 508.2 0 484C-96.7 459.8 -17.5 364.3 0 338.5Z" fill="#3a9acb"/>
<path d="M222.4 484C162.8 459.3 221.9 365.3 222.4 335.5C222.9 305.8 223.9 315 225.4 305.5C226.9 296 227.4 286.5 231.4 278.4C235.4 270.4 242.9 262.9 249.4 257.4C255.9 251.9 262 247.9 270.5 245.4C279 242.9 291.5 242.9 300.5 242.4C309.5 241.9 317.5 240.9 324.6 242.4C331.6 243.9 338.1 246.9 342.6 251.4C347.1 255.9 349.1 262.9 351.6 269.4C354.1 275.9 355.6 284 357.6 290.5C359.6 297 360.1 303.5 363.6 308.5C367.1 313.5 372.6 318 378.7 320.5C384.7 323 392.7 323.5 399.7 323.5C406.7 323.5 414.7 323 420.7 320.5C426.7 318 431.7 313 435.8 308.5C439.8 304 442.3 298 444.8 293.5C447.3 289 447.8 283.5 450.8 281.5C453.8 279.4 441.3 281.5 462.8 281.5C484.3 281.5 560.5 247.7 580 281.5C599.5 315.2 639.6 450.2 580 484C520.4 517.8 282 508.7 222.4 484Z" fill="#1b6fb6"/>
<path d="M393.7 140.2C401.2 147.7 401.2 157.2 405.7 164.2C410.2 171.3 417.2 176.8 420.7 182.3C424.2 187.8 424.7 192.3 426.7 197.3C428.7 202.3 407.2 209.8 432.7 212.3C458.3 214.8 555.5 244.4 580 212.3C604.5 180.3 616.6 52.1 580 20C543.4 -12.1 397.2 3.5 360.6 20C324.1 36.5 355.1 99.1 360.6 119.2C366.1 139.2 386.2 132.7 393.7 140.2Z" fill="#1b6fb6"/>
<path d="M231.4 484C173.3 468.3 230.9 411.9 231.4 389.6C231.9 367.4 232.9 362.1 234.4 350.6C235.9 339.1 236.9 329 240.4 320.5C243.9 312 247.9 304.5 255.4 299.5C263 294.5 276.5 293.5 285.5 290.5C294.5 287.5 302 284 309.5 281.5C317 278.9 324.6 274.9 330.6 275.4C336.6 275.9 342.1 279.4 345.6 284.5C349.1 289.5 350.1 298.5 351.6 305.5C353.1 312.5 350.6 322 354.6 326.5C358.6 331 367.1 332 375.6 332.5C384.2 333 396.7 330.5 405.7 329.5C414.7 328.5 422.2 326.5 429.7 326.5C437.3 326.5 443.3 328.5 450.8 329.5C458.3 330.5 453.3 332 474.8 332.5C496.4 333 562.5 307.3 580 332.5C597.5 357.8 638.1 458.8 580 484C521.9 509.2 289.5 499.7 231.4 484Z" fill="#0b4789"/>
<path d="M349.7 223.6C350.8 220.6 353.2 217.5 356 216.3C358.7 215.1 363.2 215.1 366.3 216.3C369.4 217.5 372.4 220.6 374.6 223.6C376.9 226.5 378.4 230.5 379.8 233.9C381.2 237.4 381 242 382.9 244.3C384.8 246.5 388.6 248.1 391.2 247.4C393.8 246.7 396.4 243.1 398.4 240.1C400.5 237.2 401 232.2 403.6 229.8C406.2 227.4 410.5 226 414 225.6C417.4 225.3 420.9 226.3 424.4 227.7C427.8 229.1 431.3 233.6 434.7 233.9C438.2 234.3 442 230.5 445.1 229.8C448.2 229.1 452.5 228.2 453.4 229.8C454.2 231.3 451.6 235.8 450.3 239.1C448.9 242.4 447 246 445.1 249.5C443.2 252.9 439.2 256.9 438.9 259.8C438.5 262.8 441.5 264.5 443 267.1C444.6 269.7 447.8 272.3 448.2 275.4C448.5 278.5 446.5 282.3 445.1 285.7C443.7 289.2 441.6 292.6 439.9 296.1C438.2 299.6 437.3 303.4 434.7 306.5C432.1 309.6 428.2 313 424.4 314.8C420.6 316.5 416.2 316.8 411.9 316.8C407.6 316.8 403.3 315.8 398.4 314.8C393.6 313.7 387.6 312.9 382.9 310.6C378.2 308.4 373.9 304.7 370.5 301.3C367 297.8 364.6 294.2 362.2 289.9C359.8 285.6 357.7 280.4 356 275.4C354.2 270.4 352.7 265 351.8 259.8C350.9 254.7 351.1 248.6 350.8 244.3C350.4 240 349.9 237.4 349.7 233.9C349.6 230.5 348.7 226.5 349.7 223.6Z" fill="none" stroke="#5cbbd0" stroke-width="22" stroke-linejoin="round"/>
<path d="M349.7 223.6C350.8 220.6 353.2 217.5 356 216.3C358.7 215.1 363.2 215.1 366.3 216.3C369.4 217.5 372.4 220.6 374.6 223.6C376.9 226.5 378.4 230.5 379.8 233.9C381.2 237.4 381 242 382.9 244.3C384.8 246.5 388.6 248.1 391.2 247.4C393.8 246.7 396.4 243.1 398.4 240.1C400.5 237.2 401 232.2 403.6 229.8C406.2 227.4 410.5 226 414 225.6C417.4 225.3 420.9 226.3 424.4 227.7C427.8 229.1 431.3 233.6 434.7 233.9C438.2 234.3 442 230.5 445.1 229.8C448.2 229.1 452.5 228.2 453.4 229.8C454.2 231.3 451.6 235.8 450.3 239.1C448.9 242.4 447 246 445.1 249.5C443.2 252.9 439.2 256.9 438.9 259.8C438.5 262.8 441.5 264.5 443 267.1C444.6 269.7 447.8 272.3 448.2 275.4C448.5 278.5 446.5 282.3 445.1 285.7C443.7 289.2 441.6 292.6 439.9 296.1C438.2 299.6 437.3 303.4 434.7 306.5C432.1 309.6 428.2 313 424.4 314.8C420.6 316.5 416.2 316.8 411.9 316.8C407.6 316.8 403.3 315.8 398.4 314.8C393.6 313.7 387.6 312.9 382.9 310.6C378.2 308.4 373.9 304.7 370.5 301.3C367 297.8 364.6 294.2 362.2 289.9C359.8 285.6 357.7 280.4 356 275.4C354.2 270.4 352.7 265 351.8 259.8C350.9 254.7 351.1 248.6 350.8 244.3C350.4 240 349.9 237.4 349.7 233.9C349.6 230.5 348.7 226.5 349.7 223.6Z" fill="none" stroke="#93d5b9" stroke-width="11" stroke-linejoin="round"/>
<path d="M349.7 223.6C350.8 220.6 353.2 217.5 356 216.3C358.7 215.1 363.2 215.1 366.3 216.3C369.4 217.5 372.4 220.6 374.6 223.6C376.9 226.5 378.4 230.5 379.8 233.9C381.2 237.4 381 242 382.9 244.3C384.8 246.5 388.6 248.1 391.2 247.4C393.8 246.7 396.4 243.1 398.4 240.1C400.5 237.2 401 232.2 403.6 229.8C406.2 227.4 410.5 226 414 225.6C417.4 225.3 420.9 226.3 424.4 227.7C427.8 229.1 431.3 233.6 434.7 233.9C438.2 234.3 442 230.5 445.1 229.8C448.2 229.1 452.5 228.2 453.4 229.8C454.2 231.3 451.6 235.8 450.3 239.1C448.9 242.4 447 246 445.1 249.5C443.2 252.9 439.2 256.9 438.9 259.8C438.5 262.8 441.5 264.5 443 267.1C444.6 269.7 447.8 272.3 448.2 275.4C448.5 278.5 446.5 282.3 445.1 285.7C443.7 289.2 441.6 292.6 439.9 296.1C438.2 299.6 437.3 303.4 434.7 306.5C432.1 309.6 428.2 313 424.4 314.8C420.6 316.5 416.2 316.8 411.9 316.8C407.6 316.8 403.3 315.8 398.4 314.8C393.6 313.7 387.6 312.9 382.9 310.6C378.2 308.4 373.9 304.7 370.5 301.3C367 297.8 364.6 294.2 362.2 289.9C359.8 285.6 357.7 280.4 356 275.4C354.2 270.4 352.7 265 351.8 259.8C350.9 254.7 351.1 248.6 350.8 244.3C350.4 240 349.9 237.4 349.7 233.9C349.6 230.5 348.7 226.5 349.7 223.6Z" fill="#c2e7c1"/>
<path d="M353.9 225.6C355.1 222 359.2 220.3 362.2 220.5C365.1 220.6 369.1 223.7 371.5 226.7C373.9 229.6 375 234.4 376.7 238.1C378.4 241.7 379.4 246.2 381.9 248.4C384.3 250.7 387.9 252.4 391.2 251.5C394.5 250.7 398.8 246.2 401.6 243.3C404.3 240.3 404.8 235.8 407.8 233.9C410.7 232 415 231.2 419.2 231.9C423.3 232.5 428.3 237.7 432.6 238.1C437 238.4 443.4 232.9 445.1 233.9C446.8 235 444.6 240.1 443 244.3C441.5 248.4 436.4 254.8 435.8 258.8C435.1 262.8 437.5 265.2 438.9 268.1C440.2 271.1 443.7 273.5 444 276.4C444.4 279.4 442.3 282.5 440.9 285.7C439.6 289 437.5 293 435.8 296.1C434 299.2 432.8 302 430.6 304.4C428.3 306.8 425.6 309.2 422.3 310.6C419 312 414.9 312.7 410.9 312.7C406.9 312.7 402.8 311.8 398.4 310.6C394.1 309.4 388.9 307.7 385 305.4C381 303.2 377.7 300.4 374.6 297.1C371.5 293.9 368.7 289.7 366.3 285.7C363.9 281.8 361.8 277.8 360.1 273.3C358.4 268.8 356.8 264 356 258.8C355.1 253.6 355.3 247.7 354.9 242.2C354.6 236.7 352.7 229.3 353.9 225.6Z" fill="#dcf1d6"/>
<path d="M398.4 277.5C400.2 274.5 404.5 274 408.8 273.3C413.1 272.6 420 272.6 424.4 273.3C428.7 274 432.1 275.4 434.7 277.5C437.3 279.5 439.4 282.6 439.9 285.7C440.4 288.8 439.6 292.6 437.8 296.1C436.1 299.6 433.2 304.4 429.5 306.5C425.9 308.5 420.4 309.4 416.1 308.5C411.7 307.7 406.6 304.2 403.6 301.3C400.7 298.3 399.3 294.9 398.4 290.9C397.6 286.9 396.7 280.4 398.4 277.5Z" fill="#f4faed"/>
<path d="M395.3 202.8C396 200.6 399.1 197.7 401.6 196.6C404 195.6 407.4 195.6 409.8 196.6C412.3 197.7 414.9 200.4 416.1 202.8C417.3 205.3 417.8 208.9 417.1 211.1C416.4 213.4 414.2 215.6 411.9 216.3C409.7 217 406 216.3 403.6 215.3C401.2 214.2 398.8 212.2 397.4 210.1C396 208 394.6 205.1 395.3 202.8Z" fill="none" stroke="#5cbbd0" stroke-width="12" stroke-linejoin="round"/>
<path d="M395.3 202.8C396 200.6 399.1 197.7 401.6 196.6C404 195.6 407.4 195.6 409.8 196.6C412.3 197.7 414.9 200.4 416.1 202.8C417.3 205.3 417.8 208.9 417.1 211.1C416.4 213.4 414.2 215.6 411.9 216.3C409.7 217 406 216.3 403.6 215.3C401.2 214.2 398.8 212.2 397.4 210.1C396 208 394.6 205.1 395.3 202.8Z" fill="none" stroke="#93d5b9" stroke-width="6" stroke-linejoin="round"/>
<path d="M395.3 202.8C396 200.6 399.1 197.7 401.6 196.6C404 195.6 407.4 195.6 409.8 196.6C412.3 197.7 414.9 200.4 416.1 202.8C417.3 205.3 417.8 208.9 417.1 211.1C416.4 213.4 414.2 215.6 411.9 216.3C409.7 217 406 216.3 403.6 215.3C401.2 214.2 398.8 212.2 397.4 210.1C396 208 394.6 205.1 395.3 202.8Z" fill="#c2e7c1"/>
<path d="M295.9 188.3C299.1 183.8 309.7 186.6 315.5 186.3C321.4 185.9 326.8 185.2 331.1 186.3C335.4 187.3 339.4 189.7 341.5 192.5C343.5 195.2 343.9 199.4 343.5 202.8C343.2 206.3 341.5 210.1 339.4 213.2C337.3 216.3 335.1 219.8 331.1 221.5C327.1 223.2 319.9 223.9 315.5 223.6C311.2 223.2 308.5 221.1 305.2 219.4C301.9 217.7 297.4 218.4 295.9 213.2C294.3 208 292.6 192.8 295.9 188.3Z" fill="#93d5b9"/>
<path d="M320.7 192.5C321.4 190.2 325.2 188.3 326.9 188.3C328.7 188.3 330.6 190.4 331.1 192.5C331.6 194.5 331.4 199.2 330.1 200.8C328.7 202.3 324.4 203.2 322.8 201.8C321.2 200.4 320 194.7 320.7 192.5Z" fill="#c2e7c1"/>
<path d="M336.6 446.1C342.6 441 366.6 441 372.6 446.1C378.7 451.2 378.7 471.7 372.6 476.8C366.6 481.9 342.6 481.9 336.6 476.8C330.6 471.7 330.6 451.2 336.6 446.1Z" fill="#0b4789"/>
<path d="M459.8 371.6C464.3 364.1 482.3 364.1 486.8 371.6C491.3 379.1 491.3 409.2 486.8 416.7C482.3 424.2 464.3 424.2 459.8 416.7C455.3 409.2 455.3 379.1 459.8 371.6Z" fill="#0b4789"/>
<use href="#mesh"/>
</g>
<use href="#ov"/>
<path d="M501.8 368.6L541 368.6L538 372L533 376L527 378.5L521 380L517 381L516.5 385L513 385.5L512.5 381.5L507 381.3L501.8 380.5Z" fill="#0b4789"/><path d="M508 392L510 388.5L514.5 387.3L517 388.5L516 392L513 394.5L509.5 395Z" fill="#0b4789"/><path d="M548 368.6L556 368.6L555.5 372L553 374.5L550 372.5Z" fill="#0b4789"/><path d="M541 368.6L538 372L533 376L527 378.5L521 380L517 381L516.5 385L513 385.5" fill="none" stroke="#38c8f4" stroke-width="1" stroke-dasharray="1.4 1"/>
<text class="lb" x="463.5" y="207">Changshan Qundao</text><text class="lb" x="478.5" y="320.9">Zhoushan Qundao</text><text class="lb" x="494.5" y="355.8">Chiwei Yu</text><text class="lb" x="470.5" y="363.2">Diaoyu Dao</text><text class="lb" x="471.5" y="396.6">Taiwan Dao</text><text class="lb" x="483.8" y="407.6">Lan Yu</text><text class="lb" x="411" y="437">Dongsha Qundao</text><text class="lb" x="366.3" y="457.9">Hainan Dao</text><text class="sea" x="428.5" y="220.9">Bo Hai</text><text class="sea" x="451.8" y="258.3">Yellow Sea</text><text class="sea" x="487.5" y="333.4">East China Sea</text><text class="sea" x="378.8" y="465.3">South China Sea</text><text x="536" y="384.8" font-size="2.3" font-style="italic" fill="#444">Dongsha Qundao</text><text x="519" y="388.3" font-size="2.3" font-style="italic" fill="#444">Hainan Dao</text><text x="518.5" y="396" font-size="2.3" font-style="italic" fill="#444">Xisha Qundao</text><text x="531" y="401.6" font-size="2.3" font-style="italic" fill="#444">Zhongsha Qundao</text><text x="536" y="406.6" font-size="2.3" font-style="italic" fill="#444">Huangyan Dao</text><text x="523.5" y="416.3" font-size="2.8" font-style="italic" fill="#3cc0f0">South China Sea</text><text x="527.5" y="428.3" font-size="2.3" font-style="italic" fill="#444">Nansha Qundao</text><text x="514.5" y="449.6" font-size="2.3" font-style="italic" fill="#444">Zengmu Ansha</text><text x="548.5" y="374.6" font-size="2.3" font-style="italic" fill="#444">Taiwan Dao</text><text class="sb" x="6" y="451.8">0</text><text class="sb" x="53.3" y="451.8">500 km</text><text x="535.2" y="458.2" font-size="4.6" fill="#333">0</text><text x="551.6" y="458.2" font-size="4.6" fill="#333">400 km</text>
<text class="t1" x="7" y="30.6">c. Shrubland</text>
<text class="cn" x="8.3" y="62.6">&#9312;</text><text class="t2" x="28.4" y="63">Coefficient</text>
</g>
<g transform="translate(580.5 469.4)">
<use href="#halo"/>
<use href="#cn" fill="#fff"/>
<g clip-path="url(#cp)">
<rect x="0" y="30" width="560" height="450" fill="#6fb4e1"/>
<path d="M39.1 272.4C39.6 266.9 39.1 254.9 45.1 251.4C51.1 247.9 66.1 253.4 75.1 251.4C84.1 249.4 90.2 242.9 99.2 239.4C108.2 235.9 119.7 233.4 129.2 230.4C138.7 227.4 147.8 223.9 156.3 221.3C164.8 218.8 172.8 215.8 180.3 215.3C187.8 214.8 196.3 215.8 201.3 218.3C206.4 220.8 207.9 225.4 210.4 230.4C212.9 235.4 215.1 242.4 216.4 248.4C217.6 254.4 219.4 261.4 217.9 266.4C216.4 271.4 211.6 274.9 207.4 278.4C203.1 282 198.8 285.5 192.3 287.5C185.8 289.5 176.3 289 168.3 290.5C160.3 292 152.3 293 144.2 296.5C136.2 300 128.2 307.5 120.2 311.5C112.2 315.5 102.2 321 96.2 320.5C90.2 320 90.2 313 84.1 308.5C78.1 304 67.1 297.5 60.1 293.5C53.1 289.5 45.6 288 42.1 284.5C38.6 280.9 38.6 277.9 39.1 272.4Z" fill="#d3eafc"/>
<path d="M210.4 215.3C211.9 210.3 218.4 206.3 222.4 200.3C226.4 194.3 229.9 182.8 234.4 179.3C238.9 175.8 243.9 177.8 249.4 179.3C254.9 180.8 264 184.8 267.5 188.3C271 191.8 269 196.3 270.5 200.3C272 204.3 277 208.8 276.5 212.3C276 215.8 270.5 217.3 267.5 221.3C264.5 225.4 262 232.1 258.4 236.4C254.9 240.6 250.9 244.6 246.4 246.9C241.9 249.1 235.9 250.6 231.4 249.9C226.9 249.1 222.4 245.6 219.4 242.4C216.4 239.1 214.9 234.9 213.4 230.4C211.9 225.9 208.9 220.3 210.4 215.3Z" fill="#d3eafc"/>
<path d="M273.5 185.3C277.5 183.8 292 191.3 300.5 191.3C309 191.3 317 187.8 324.6 185.3C332.1 182.8 342.1 173.8 345.6 176.3C349.1 178.8 346.6 193.3 345.6 200.3C344.6 207.3 342.6 213.8 339.6 218.3C336.6 222.8 332.1 226.9 327.6 227.4C323.1 227.9 317.5 223.4 312.5 221.3C307.5 219.3 302.5 216.8 297.5 215.3C292.5 213.8 286 214.8 282.5 212.3C279 209.8 278 204.8 276.5 200.3C275 195.8 269.5 186.8 273.5 185.3Z" fill="#d3eafc"/>
<path d="M342.6 224.4C343.6 218.3 350.1 216.3 354.6 215.3C359.1 214.3 365.1 215.8 369.6 218.3C374.1 220.8 378.7 225.9 381.7 230.4C384.7 234.9 384.7 245.4 387.7 245.4C390.7 245.4 397.2 235.9 399.7 230.4C402.2 224.9 403.2 217.3 402.7 212.3C402.2 207.3 395.7 203.3 396.7 200.3C397.7 197.3 405.2 193.3 408.7 194.3C412.2 195.3 415.7 201.8 417.7 206.3C419.7 210.8 418.2 217.3 420.7 221.3C423.2 225.4 427.7 229.4 432.7 230.4C437.8 231.4 445.8 227.4 450.8 227.4C455.8 227.4 462.3 227.9 462.8 230.4C463.3 232.9 457.3 238.4 453.8 242.4C450.3 246.4 443.3 249.9 441.8 254.4C440.3 258.9 443.8 264.4 444.8 269.4C445.8 274.4 449.3 279.9 447.8 284.5C446.3 289 438.8 292.5 435.8 296.5C432.7 300.5 432.7 306.5 429.7 308.5C426.7 310.5 421.7 307 417.7 308.5C413.7 310 410.2 315.5 405.7 317.5C401.2 319.5 395.7 321.5 390.7 320.5C385.7 319.5 380.2 315.5 375.6 311.5C371.1 307.5 367.1 302.5 363.6 296.5C360.1 290.5 357.1 283 354.6 275.4C352.1 267.9 350.6 259.9 348.6 251.4C346.6 242.9 341.6 230.4 342.6 224.4Z" fill="#d3eafc"/>
<path d="M368.1 251.4C369.4 249.6 373.9 248.9 375.6 249.9C377.4 250.9 378.9 255.2 378.7 257.4C378.4 259.7 375.9 262.9 374.1 263.4C372.4 263.9 369.1 262.4 368.1 260.4C367.1 258.4 366.9 253.2 368.1 251.4Z" fill="#6fb4e1"/>
<path d="M408.7 245.4C411 241.6 416.7 238.1 420.7 237.9C424.7 237.6 430.2 240.1 432.7 243.9C435.3 247.6 436.8 256.2 435.8 260.4C434.7 264.7 430.2 267.9 426.7 269.4C423.2 270.9 418 270.9 414.7 269.4C411.5 267.9 408.2 264.4 407.2 260.4C406.2 256.4 406.5 249.1 408.7 245.4Z" fill="#6fb4e1"/>
<path d="M375.6 284.5C377.4 281.7 384.2 278.9 387.7 278.4C391.2 277.9 394.7 278.9 396.7 281.5C398.7 284 397.2 289.5 399.7 293.5C402.2 297.5 411.2 302.5 411.7 305.5C412.2 308.5 406.7 312 402.7 311.5C398.7 311 391.9 305.2 387.7 302.5C383.4 299.7 379.2 298 377.2 295C375.1 292 373.9 287.2 375.6 284.5Z" fill="#6fb4e1"/>
<path d="M411.7 281.5C414.2 276.9 423.7 273.9 426.7 275.4C429.7 276.9 430.7 285 429.7 290.5C428.7 296 423.7 306.5 420.7 308.5C417.7 310.5 413.2 307 411.7 302.5C410.2 298 409.2 286 411.7 281.5Z" fill="#6fb4e1"/>
<use href="#mesh"/>
</g>
<use href="#ov"/>
<path d="M501.8 368.6L541 368.6L538 372L533 376L527 378.5L521 380L517 381L516.5 385L513 385.5L512.5 381.5L507 381.3L501.8 380.5Z" fill="#6fb4e1"/><path d="M508 392L510 388.5L514.5 387.3L517 388.5L516 392L513 394.5L509.5 395Z" fill="#6fb4e1"/><path d="M548 368.6L556 368.6L555.5 372L553 374.5L550 372.5Z" fill="#6fb4e1"/><path d="M541 368.6L538 372L533 376L527 378.5L521 380L517 381L516.5 385L513 385.5" fill="none" stroke="#38c8f4" stroke-width="1" stroke-dasharray="1.4 1"/>
<text class="lb" x="463.5" y="207">Changshan Qundao</text><text class="lb" x="478.5" y="320.9">Zhoushan Qundao</text><text class="lb" x="494.5" y="355.8">Chiwei Yu</text><text class="lb" x="470.5" y="363.2">Diaoyu Dao</text><text class="lb" x="471.5" y="396.6">Taiwan Dao</text><text class="lb" x="483.8" y="407.6">Lan Yu</text><text class="lb" x="411" y="437">Dongsha Qundao</text><text class="lb" x="366.3" y="457.9">Hainan Dao</text><text class="sea" x="428.5" y="220.9">Bo Hai</text><text class="sea" x="451.8" y="258.3">Yellow Sea</text><text class="sea" x="487.5" y="333.4">East China Sea</text><text class="sea" x="378.8" y="465.3">South China Sea</text><text x="536" y="384.8" font-size="2.3" font-style="italic" fill="#444">Dongsha Qundao</text><text x="519" y="388.3" font-size="2.3" font-style="italic" fill="#444">Hainan Dao</text><text x="518.5" y="396" font-size="2.3" font-style="italic" fill="#444">Xisha Qundao</text><text x="531" y="401.6" font-size="2.3" font-style="italic" fill="#444">Zhongsha Qundao</text><text x="536" y="406.6" font-size="2.3" font-style="italic" fill="#444">Huangyan Dao</text><text x="523.5" y="416.3" font-size="2.8" font-style="italic" fill="#3cc0f0">South China Sea</text><text x="527.5" y="428.3" font-size="2.3" font-style="italic" fill="#444">Nansha Qundao</text><text x="514.5" y="449.6" font-size="2.3" font-style="italic" fill="#444">Zengmu Ansha</text><text x="548.5" y="374.6" font-size="2.3" font-style="italic" fill="#444">Taiwan Dao</text><text class="sb" x="6" y="451.8">0</text><text class="sb" x="53.3" y="451.8">500 km</text><text x="535.2" y="458.2" font-size="4.6" fill="#333">0</text><text x="551.6" y="458.2" font-size="4.6" fill="#333">400 km</text>
<text class="cn" x="8.8" y="62.6">&#9313;</text><text class="t2" x="28.6" y="63">P-value</text>
</g>
<g transform="translate(1191.5 469.4)">
<use href="#halo"/>
<use href="#cn" fill="#fff"/>
<g clip-path="url(#cp)">
<rect x="0" y="30" width="560" height="450" fill="#dcf1d6"/>
<path d="M375.6 119.2C382.2 124.2 392.2 123.2 399.7 125.2C407.2 127.2 416.2 126.7 420.7 131.2C425.2 135.7 425.2 144.7 426.7 152.2C428.2 159.7 428.7 168.3 429.7 176.3C430.7 184.3 431.2 194.3 432.7 200.3C434.2 206.3 414.2 210.3 438.8 212.3C463.3 214.3 556.5 244.4 580 212.3C603.5 180.3 616.6 52.1 580 20C543.4 -12.1 397.2 7.5 360.6 20C324.1 32.5 358.1 78.6 360.6 95.1C363.1 111.7 369.1 114.2 375.6 119.2Z" fill="#f4faed"/>
<path d="M168.3 299.5C169.8 296.5 175.8 291.7 180.3 290.5C184.8 289.2 192.3 290 195.3 292C198.3 294 199.8 299.7 198.3 302.5C196.8 305.2 190.8 307.5 186.3 308.5C181.8 309.5 174.3 310 171.3 308.5C168.3 307 166.8 302.5 168.3 299.5Z" fill="#f4faed"/>
<path d="M354.6 335.5C362.1 332.5 379.7 330 390.7 329.5C401.7 329 411.7 330 420.7 332.5C429.7 335 438.3 341.6 444.8 344.6C451.3 347.6 453.8 344.6 459.8 350.6C465.8 356.6 486.3 370.6 480.8 380.6C475.3 390.6 439.3 405.2 426.7 410.7C414.2 416.2 412.7 414.2 405.7 413.7C398.7 413.2 391.2 412.2 384.7 407.7C378.2 403.2 372.6 393.1 366.6 386.6C360.6 380.1 352.1 375.1 348.6 368.6C345.1 362.1 344.6 353.1 345.6 347.6C346.6 342.1 347.1 338.5 354.6 335.5Z" fill="#f4faed"/>
<path d="M330.6 287.5C329.6 282.5 328.3 273.4 329.1 266.4C329.8 259.4 332.3 251.4 335.1 245.4C337.8 239.4 341.8 234.6 345.6 230.4C349.4 226.1 354.1 221.3 357.6 219.8C361.1 218.3 364.9 219.1 366.6 221.3C368.4 223.6 368.9 228.9 368.1 233.4C367.4 237.9 364.9 243.9 362.1 248.4C359.4 252.9 354.6 255.4 351.6 260.4C348.6 265.4 345.8 273.2 344.1 278.4C342.3 283.7 342.6 289 341.1 292C339.6 295 336.8 297.2 335.1 296.5C333.3 295.7 331.6 292.5 330.6 287.5Z" fill="#f4faed"/>
<path d="M234.4 350.6C242.4 347.1 259.4 355.6 270.5 359.6C281.5 363.6 290.5 371.1 300.5 374.6C310.5 378.1 320.6 378.6 330.6 380.6C340.6 382.6 353.1 382.6 360.6 386.6C368.1 390.6 370.6 399.2 375.6 404.7C380.7 410.2 390.7 413.7 390.7 419.7C390.7 425.7 385.7 437.2 375.6 440.7C365.6 444.2 343.1 444.2 330.6 440.7C318 437.2 310.5 424.7 300.5 419.7C290.5 414.7 280.5 413.2 270.5 410.7C260.4 408.2 248.4 409.7 240.4 404.7C232.4 399.7 223.4 389.6 222.4 380.6C221.4 371.6 226.4 354.1 234.4 350.6Z" fill="#c2e7c1"/>
<path d="M444.8 326.5C448.3 321.5 462.8 318.5 468.8 320.5C474.8 322.5 481.8 332.5 480.8 338.5C479.8 344.6 468.3 354.6 462.8 356.6C457.3 358.6 450.8 355.6 447.8 350.6C444.8 345.6 441.3 331.5 444.8 326.5Z" fill="#c2e7c1"/>
<path d="M150.3 257.4C152.3 252.9 161.3 246.9 168.3 242.4C175.3 237.9 184.3 236.4 192.3 230.4C200.3 224.4 209.4 213.3 216.4 206.3C223.4 199.3 227.9 192.3 234.4 188.3C240.9 184.3 247.4 182.3 255.4 182.3C263.5 182.3 275 186.3 282.5 188.3C290 190.3 295 190.3 300.5 194.3C306 198.3 311.5 205.3 315.5 212.3C319.6 219.3 322.1 228.4 324.6 236.4C327.1 244.4 330.1 252.4 330.6 260.4C331.1 268.4 329.6 277.4 327.6 284.5C325.6 291.5 319.1 296.5 318.5 302.5C318 308.5 322.1 314.5 324.6 320.5C327.1 326.5 332.6 332 333.6 338.5C334.6 345.1 331.6 353.6 330.6 359.6C329.6 365.6 330.6 371.6 327.6 374.6C324.6 377.6 318 378.6 312.5 377.6C307 376.6 300.5 372.1 294.5 368.6C288.5 365.1 282.5 359.1 276.5 356.6C270.5 354.1 264.5 354.6 258.4 353.6C252.4 352.6 245.4 349.6 240.4 350.6C235.4 351.6 231.9 358.6 228.4 359.6C224.9 360.6 223.4 357.6 219.4 356.6C215.4 355.6 208.4 355.6 204.4 353.6C200.3 351.6 196.3 348.1 195.3 344.6C194.3 341.1 194.8 336.5 198.3 332.5C201.8 328.5 209.4 323.5 216.4 320.5C223.4 317.5 233.4 316.5 240.4 314.5C247.4 312.5 253.4 311.5 258.4 308.5C263.5 305.5 268.5 301.5 270.5 296.5C272.5 291.5 272 284 270.5 278.4C269 272.9 266.5 267.4 261.5 263.4C256.4 259.4 247.9 254.9 240.4 254.4C232.9 253.9 223.9 257.9 216.4 260.4C208.9 262.9 202.8 267.4 195.3 269.4C187.8 271.4 177.8 272.4 171.3 272.4C164.8 272.4 159.8 271.9 156.3 269.4C152.8 266.9 148.3 261.9 150.3 257.4Z" fill="none" stroke="#c2e7c1" stroke-width="22" stroke-linejoin="round"/>
<path d="M150.3 257.4C152.3 252.9 161.3 246.9 168.3 242.4C175.3 237.9 184.3 236.4 192.3 230.4C200.3 224.4 209.4 213.3 216.4 206.3C223.4 199.3 227.9 192.3 234.4 188.3C240.9 184.3 247.4 182.3 255.4 182.3C263.5 182.3 275 186.3 282.5 188.3C290 190.3 295 190.3 300.5 194.3C306 198.3 311.5 205.3 315.5 212.3C319.6 219.3 322.1 228.4 324.6 236.4C327.1 244.4 330.1 252.4 330.6 260.4C331.1 268.4 329.6 277.4 327.6 284.5C325.6 291.5 319.1 296.5 318.5 302.5C318 308.5 322.1 314.5 324.6 320.5C327.1 326.5 332.6 332 333.6 338.5C334.6 345.1 331.6 353.6 330.6 359.6C329.6 365.6 330.6 371.6 327.6 374.6C324.6 377.6 318 378.6 312.5 377.6C307 376.6 300.5 372.1 294.5 368.6C288.5 365.1 282.5 359.1 276.5 356.6C270.5 354.1 264.5 354.6 258.4 353.6C252.4 352.6 245.4 349.6 240.4 350.6C235.4 351.6 231.9 358.6 228.4 359.6C224.9 360.6 223.4 357.6 219.4 356.6C215.4 355.6 208.4 355.6 204.4 353.6C200.3 351.6 196.3 348.1 195.3 344.6C194.3 341.1 194.8 336.5 198.3 332.5C201.8 328.5 209.4 323.5 216.4 320.5C223.4 317.5 233.4 316.5 240.4 314.5C247.4 312.5 253.4 311.5 258.4 308.5C263.5 305.5 268.5 301.5 270.5 296.5C272.5 291.5 272 284 270.5 278.4C269 272.9 266.5 267.4 261.5 263.4C256.4 259.4 247.9 254.9 240.4 254.4C232.9 253.9 223.9 257.9 216.4 260.4C208.9 262.9 202.8 267.4 195.3 269.4C187.8 271.4 177.8 272.4 171.3 272.4C164.8 272.4 159.8 271.9 156.3 269.4C152.8 266.9 148.3 261.9 150.3 257.4Z" fill="#93d5b9"/>
<path d="M228.4 236.4C228.9 229.9 235.9 213.8 240.4 206.3C244.9 198.8 249.4 193.8 255.4 191.3C261.5 188.8 269.5 189.8 276.5 191.3C283.5 192.8 292 195.8 297.5 200.3C303 204.8 306 211.3 309.5 218.3C313 225.4 316 234.4 318.5 242.4C321.1 250.4 324.1 259.4 324.6 266.4C325.1 273.4 323.6 278.9 321.6 284.5C319.6 290 313 294 312.5 299.5C312 305 317 311.5 318.5 317.5C320.1 323.5 322.1 330.5 321.6 335.5C321.1 340.6 319.1 345.1 315.5 347.6C312 350.1 306 350.6 300.5 350.6C295 350.6 288.5 347.6 282.5 347.6C276.5 347.6 270 351.1 264.5 350.6C258.9 350.1 251.9 348.1 249.4 344.6C246.9 341.1 247.4 333.5 249.4 329.5C251.4 325.5 257.4 324 261.5 320.5C265.5 317 271 313.5 273.5 308.5C276 303.5 276.5 296.5 276.5 290.5C276.5 284.5 275.5 277.9 273.5 272.4C271.5 266.9 268.5 261.4 264.5 257.4C260.4 253.4 253.9 250.4 249.4 248.4C244.9 246.4 240.9 247.4 237.4 245.4C233.9 243.4 227.9 242.9 228.4 236.4Z" fill="#5cbbd0"/>
<path d="M210.4 341.6C211.6 338.5 215.9 333.5 219.4 332.5C222.9 331.5 228.9 333 231.4 335.5C233.9 338 235.9 344.6 234.4 347.6C232.9 350.6 226.1 353.1 222.4 353.6C218.6 354.1 213.9 352.6 211.9 350.6C209.9 348.6 209.1 344.6 210.4 341.6Z" fill="#5cbbd0"/>
<path d="M300.5 356.6C302 353.6 308.5 350.6 312.5 350.6C316.5 350.6 322.3 353.6 324.6 356.6C326.8 359.6 327.6 365.8 326.1 368.6C324.6 371.4 319.3 373.1 315.5 373.1C311.8 373.1 306 371.4 303.5 368.6C301 365.8 299 359.6 300.5 356.6Z" fill="#5cbbd0"/>
<path d="M243.4 218.3C244.9 214.8 249.9 208.3 255.4 206.3C260.9 204.3 271 204.3 276.5 206.3C282 208.3 284.5 214.3 288.5 218.3C292.5 222.3 296.5 226.4 300.5 230.4C304.5 234.4 309.5 237.4 312.5 242.4C315.5 247.4 318 254.9 318.5 260.4C319.1 265.9 317.5 270.4 315.5 275.4C313.5 280.4 309.5 287 306.5 290.5C303.5 294 300.5 297 297.5 296.5C294.5 296 291 291 288.5 287.5C286 284 284 279.9 282.5 275.4C281 270.9 279.5 264.9 279.5 260.4C279.5 255.9 284 251.9 282.5 248.4C281 244.9 275 241.9 270.5 239.4C266 236.9 259.4 235.4 255.4 233.4C251.4 231.4 248.4 229.9 246.4 227.4C244.4 224.9 241.9 221.8 243.4 218.3Z" fill="#3a9acb"/>
<path d="M288.5 236.4C290.4 234.4 296.5 236.9 300.5 239.4C304.5 241.9 310.1 247.1 312.5 251.4C314.9 255.7 315.4 260.9 314.9 264.9C314.4 268.9 311.9 272.4 309.5 275.4C307.1 278.4 303.3 282.5 300.5 283C297.8 283.5 295 281.2 293 278.4C291 275.7 289.1 270.9 288.5 266.4C287.8 261.9 289.1 256.4 289.1 251.4C289.1 246.4 286.6 238.4 288.5 236.4Z" fill="#1b6fb6"/>
<path d="M384.7 200.3C386.7 195.8 391.7 190.3 396.7 188.3C401.7 186.3 409.2 186.3 414.7 188.3C420.2 190.3 426.7 195.3 429.7 200.3C432.7 205.3 430.2 213.8 432.7 218.3C435.3 222.8 440.3 225.4 444.8 227.4C449.3 229.4 457.8 226.9 459.8 230.4C461.8 233.9 458.3 242.4 456.8 248.4C455.3 254.4 450.3 260.9 450.8 266.4C451.3 271.9 456.8 276.4 459.8 281.5C462.8 286.5 466.8 291 468.8 296.5C470.8 302 472.8 309.5 471.8 314.5C470.8 319.5 467.3 324.5 462.8 326.5C458.3 328.5 450.8 327 444.8 326.5C438.8 326 432.7 325 426.7 323.5C420.7 322 414.7 319.5 408.7 317.5C402.7 315.5 397.2 313 390.7 311.5C384.2 310 375.6 310 369.6 308.5C363.6 307 358.6 305.5 354.6 302.5C350.6 299.5 346.1 295 345.6 290.5C345.1 286 348.6 280.4 351.6 275.4C354.6 270.4 359.1 264.9 363.6 260.4C368.1 255.9 374.6 252.9 378.7 248.4C382.7 243.9 386.7 238.9 387.7 233.4C388.7 227.9 385.2 220.8 384.7 215.3C384.2 209.8 382.7 204.8 384.7 200.3Z" fill="none" stroke="#c2e7c1" stroke-width="18" stroke-linejoin="round"/>
<path d="M384.7 200.3C386.7 195.8 391.7 190.3 396.7 188.3C401.7 186.3 409.2 186.3 414.7 188.3C420.2 190.3 426.7 195.3 429.7 200.3C432.7 205.3 430.2 213.8 432.7 218.3C435.3 222.8 440.3 225.4 444.8 227.4C449.3 229.4 457.8 226.9 459.8 230.4C461.8 233.9 458.3 242.4 456.8 248.4C455.3 254.4 450.3 260.9 450.8 266.4C451.3 271.9 456.8 276.4 459.8 281.5C462.8 286.5 466.8 291 468.8 296.5C470.8 302 472.8 309.5 471.8 314.5C470.8 319.5 467.3 324.5 462.8 326.5C458.3 328.5 450.8 327 444.8 326.5C438.8 326 432.7 325 426.7 323.5C420.7 322 414.7 319.5 408.7 317.5C402.7 315.5 397.2 313 390.7 311.5C384.2 310 375.6 310 369.6 308.5C363.6 307 358.6 305.5 354.6 302.5C350.6 299.5 346.1 295 345.6 290.5C345.1 286 348.6 280.4 351.6 275.4C354.6 270.4 359.1 264.9 363.6 260.4C368.1 255.9 374.6 252.9 378.7 248.4C382.7 243.9 386.7 238.9 387.7 233.4C388.7 227.9 385.2 220.8 384.7 215.3C384.2 209.8 382.7 204.8 384.7 200.3Z" fill="#93d5b9"/>
<path d="M387.7 203.3C389.7 199.1 395.2 194.3 399.7 192.8C404.2 191.3 410.2 192 414.7 194.3C419.2 196.6 424.2 201.3 426.7 206.3C429.2 211.3 427.7 219.8 429.7 224.4C431.7 228.9 437.8 228.9 438.8 233.4C439.8 237.9 437.8 246.4 435.8 251.4C433.7 256.4 427.2 258.9 426.7 263.4C426.2 267.9 429.2 273.9 432.7 278.4C436.3 283 442.8 287.5 447.8 290.5C452.8 293.5 459.8 293 462.8 296.5C465.8 300 467.8 307.5 465.8 311.5C463.8 315.5 456.3 319.5 450.8 320.5C445.3 321.5 438.8 318.5 432.7 317.5C426.7 316.5 419.7 316.5 414.7 314.5C409.7 312.5 407.2 307 402.7 305.5C398.2 304 393.2 306 387.7 305.5C382.2 305 375.1 304 369.6 302.5C364.1 301 358.1 299 354.6 296.5C351.1 294 348.6 291 348.6 287.5C348.6 284 351.6 279.4 354.6 275.4C357.6 271.4 362.1 267.4 366.6 263.4C371.1 259.4 377.7 255.9 381.7 251.4C385.7 246.9 389.7 241.9 390.7 236.4C391.7 230.9 388.2 223.9 387.7 218.3C387.2 212.8 385.7 207.6 387.7 203.3Z" fill="#5cbbd0"/>
<path d="M390.7 206.3C392.7 201.8 398.2 198.3 402.7 197.3C407.2 196.3 413.7 197.8 417.7 200.3C421.7 202.8 425.7 207.3 426.7 212.3C427.7 217.3 425.7 225.9 423.7 230.4C421.7 234.9 417.7 235.9 414.7 239.4C411.7 242.9 407.7 246.4 405.7 251.4C403.7 256.4 403.2 263.4 402.7 269.4C402.2 275.4 403.7 282.5 402.7 287.5C401.7 292.5 400.2 297 396.7 299.5C393.2 302 387.2 302.5 381.7 302.5C376.1 302.5 368.6 301.5 363.6 299.5C358.6 297.5 352.6 294 351.6 290.5C350.6 287 354.6 282.5 357.6 278.4C360.6 274.4 365.1 269.9 369.6 266.4C374.1 262.9 380.7 261.4 384.7 257.4C388.7 253.4 392.7 247.9 393.7 242.4C394.7 236.9 391.2 230.4 390.7 224.4C390.2 218.3 388.7 210.8 390.7 206.3Z" fill="#3a9acb"/>
<path d="M363.6 284.5C365.1 280.7 371.1 275.9 375.6 272.4C380.2 268.9 386.2 264.4 390.7 263.4C395.2 262.4 400.9 263.4 402.7 266.4C404.4 269.4 402.7 276.9 401.2 281.5C399.7 286 397.4 290.7 393.7 293.5C389.9 296.2 383.2 297.7 378.7 298C374.1 298.2 369.1 297.2 366.6 295C364.1 292.7 362.1 288.2 363.6 284.5Z" fill="#1b6fb6"/>
<path d="M396.7 203.3C397.2 200.8 402.2 197.3 405.7 197.3C409.2 197.3 414.7 200.3 417.7 203.3C420.7 206.3 423.2 211.3 423.7 215.3C424.2 219.3 422.7 226.9 420.7 227.4C418.7 227.9 414.7 220.8 411.7 218.3C408.7 215.8 405.2 214.8 402.7 212.3C400.2 209.8 396.2 205.8 396.7 203.3Z" fill="#1b6fb6"/>
<path d="M414.7 284.5C416 281.7 420.7 278.4 423.7 278.4C426.7 278.4 431.2 281.5 432.7 284.5C434.2 287.5 434.2 293.7 432.7 296.5C431.2 299.2 426.5 301.2 423.7 301C421 300.7 417.7 297.7 416.2 295C414.7 292.2 413.5 287.2 414.7 284.5Z" fill="none" stroke="#93d5b9" stroke-width="8" stroke-linejoin="round"/>
<path d="M414.7 284.5C416 281.7 420.7 278.4 423.7 278.4C426.7 278.4 431.2 281.5 432.7 284.5C434.2 287.5 434.2 293.7 432.7 296.5C431.2 299.2 426.5 301.2 423.7 301C421 300.7 417.7 297.7 416.2 295C414.7 292.2 413.5 287.2 414.7 284.5Z" fill="#c2e7c1"/>
<path d="M318.5 401.7C320.3 397.7 326.1 394.1 330.6 392.6C335.1 391.1 341.1 390.6 345.6 392.6C350.1 394.6 355.6 400.2 357.6 404.7C359.6 409.2 359.6 415.7 357.6 419.7C355.6 423.7 350.1 427.7 345.6 428.7C341.1 429.7 334.8 427.7 330.6 425.7C326.3 423.7 322.1 420.7 320.1 416.7C318 412.7 316.8 405.7 318.5 401.7Z" fill="none" stroke="#c2e7c1" stroke-width="16" stroke-linejoin="round"/>
<path d="M318.5 401.7C320.3 397.7 326.1 394.1 330.6 392.6C335.1 391.1 341.1 390.6 345.6 392.6C350.1 394.6 355.6 400.2 357.6 404.7C359.6 409.2 359.6 415.7 357.6 419.7C355.6 423.7 350.1 427.7 345.6 428.7C341.1 429.7 334.8 427.7 330.6 425.7C326.3 423.7 322.1 420.7 320.1 416.7C318 412.7 316.8 405.7 318.5 401.7Z" fill="none" stroke="#93d5b9" stroke-width="8" stroke-linejoin="round"/>
<path d="M318.5 401.7C320.3 397.7 326.1 394.1 330.6 392.6C335.1 391.1 341.1 390.6 345.6 392.6C350.1 394.6 355.6 400.2 357.6 404.7C359.6 409.2 359.6 415.7 357.6 419.7C355.6 423.7 350.1 427.7 345.6 428.7C341.1 429.7 334.8 427.7 330.6 425.7C326.3 423.7 322.1 420.7 320.1 416.7C318 412.7 316.8 405.7 318.5 401.7Z" fill="#5cbbd0"/>
<path d="M327.6 407.7C328.6 405.7 333.1 404.2 335.1 404.7C337.1 405.2 339.3 408.4 339.6 410.7C339.8 412.9 338.3 417.2 336.6 418.2C334.8 419.2 330.6 418.4 329.1 416.7C327.6 414.9 326.6 409.7 327.6 407.7Z" fill="#3a9acb"/>
<path d="M216.4 380.6C218.4 377.1 228.9 375.1 231.4 377.6C233.9 380.1 233.4 392.1 231.4 395.6C229.4 399.2 221.9 401.2 219.4 398.7C216.9 396.1 214.4 384.1 216.4 380.6Z" fill="#5cbbd0"/>
<path d="M336.6 446.1C342.6 441 366.6 441 372.6 446.1C378.7 451.2 378.7 471.7 372.6 476.8C366.6 481.9 342.6 481.9 336.6 476.8C330.6 471.7 330.6 451.2 336.6 446.1Z" fill="#5cbbd0"/>
<path d="M459.8 371.6C464.3 364.1 482.3 364.1 486.8 371.6C491.3 379.1 491.3 409.2 486.8 416.7C482.3 424.2 464.3 424.2 459.8 416.7C455.3 409.2 455.3 379.1 459.8 371.6Z" fill="#f4faed"/>
<use href="#mesh"/>
</g>
<use href="#ov"/>
<path d="M501.8 368.6L541 368.6L538 372L533 376L527 378.5L521 380L517 381L516.5 385L513 385.5L512.5 381.5L507 381.3L501.8 380.5Z" fill="#c2e7c1"/><path d="M508 392L510 388.5L514.5 387.3L517 388.5L516 392L513 394.5L509.5 395Z" fill="#5cbbd0"/><path d="M548 368.6L556 368.6L555.5 372L553 374.5L550 372.5Z" fill="#f4faed"/><path d="M541 368.6L538 372L533 376L527 378.5L521 380L517 381L516.5 385L513 385.5" fill="none" stroke="#38c8f4" stroke-width="1" stroke-dasharray="1.4 1"/>
<text class="lb" x="463.5" y="207">Changshan Qundao</text><text class="lb" x="478.5" y="320.9">Zhoushan Qundao</text><text class="lb" x="494.5" y="355.8">Chiwei Yu</text><text class="lb" x="470.5" y="363.2">Diaoyu Dao</text><text class="lb" x="471.5" y="396.6">Taiwan Dao</text><text class="lb" x="483.8" y="407.6">Lan Yu</text><text class="lb" x="411" y="437">Dongsha Qundao</text><text class="lb" x="366.3" y="457.9">Hainan Dao</text><text class="sea" x="428.5" y="220.9">Bo Hai</text><text class="sea" x="451.8" y="258.3">Yellow Sea</text><text class="sea" x="487.5" y="333.4">East China Sea</text><text class="sea" x="378.8" y="465.3">South China Sea</text><text x="536" y="384.8" font-size="2.3" font-style="italic" fill="#444">Dongsha Qundao</text><text x="519" y="388.3" font-size="2.3" font-style="italic" fill="#444">Hainan Dao</text><text x="518.5" y="396" font-size="2.3" font-style="italic" fill="#444">Xisha Qundao</text><text x="531" y="401.6" font-size="2.3" font-style="italic" fill="#444">Zhongsha Qundao</text><text x="536" y="406.6" font-size="2.3" font-style="italic" fill="#444">Huangyan Dao</text><text x="523.5" y="416.3" font-size="2.8" font-style="italic" fill="#3cc0f0">South China Sea</text><text x="527.5" y="428.3" font-size="2.3" font-style="italic" fill="#444">Nansha Qundao</text><text x="514.5" y="449.6" font-size="2.3" font-style="italic" fill="#444">Zengmu Ansha</text><text x="548.5" y="374.6" font-size="2.3" font-style="italic" fill="#444">Taiwan Dao</text><text class="sb" x="6" y="451.8">0</text><text class="sb" x="53.3" y="451.8">500 km</text><text x="535.2" y="458.2" font-size="4.6" fill="#333">0</text><text x="551.6" y="458.2" font-size="4.6" fill="#333">400 km</text>
<text class="t1" x="7" y="30.6">d. Grassland</text>
<text class="cn" x="8.3" y="62.6">&#9312;</text><text class="t2" x="28.4" y="63">Coefficient</text>
</g>
<g transform="translate(1772 469.4)">
<use href="#halo"/>
<use href="#cn" fill="#fff"/>
<g clip-path="url(#cp)">
<rect x="0" y="30" width="560" height="450" fill="#d3eafc"/>
<path d="M0 20C36.1 -30.1 180.3 -4 216.4 20C252.4 44 217.4 137.7 216.4 164.2C215.4 190.8 212.9 174.8 210.4 179.3C207.9 183.8 205.4 186.8 201.3 191.3C197.3 195.8 191.8 202.3 186.3 206.3C180.8 210.3 174.3 213.3 168.3 215.3C162.3 217.3 156.3 216.3 150.3 218.3C144.2 220.3 136.7 223.4 132.2 227.4C127.7 231.4 124.7 236.9 123.2 242.4C121.7 247.9 122.5 253.9 123.2 260.4C124 266.9 126.5 274.4 127.7 281.5C129 288.5 131.5 296.5 130.7 302.5C130 308.5 126.5 314 123.2 317.5C120 321 115.2 322 111.2 323.5C107.2 325 103.2 327 99.2 326.5C95.2 326 103.7 321.5 87.2 320.5C70.6 319.5 14.5 370.6 0 320.5C-14.5 270.4 -36.1 70.1 0 20Z" fill="#6fb4e1"/>
<path d="M151.8 107.2C150 104.4 158.8 90.6 162.3 90.6C165.8 90.6 174.6 104.4 172.8 107.2C171 109.9 153.5 109.9 151.8 107.2Z" fill="#d3eafc"/>
<path d="M354.6 152.2C354.6 160.7 357.6 164.2 360.6 170.3C363.6 176.3 369.1 184.3 372.6 188.3C376.1 192.3 378.7 195.3 381.7 194.3C384.7 193.3 387.2 185.8 390.7 182.3C394.2 178.8 399.2 174.3 402.7 173.3C406.2 172.3 408.7 173.8 411.7 176.3C414.7 178.8 418.2 184.3 420.7 188.3C423.2 192.3 424.7 197.3 426.7 200.3C428.7 203.3 407.2 205.3 432.7 206.3C458.3 207.3 555.5 237.4 580 206.3C604.5 175.3 616.6 51.1 580 20C543.4 -11.1 397.2 3.5 360.6 20C324.1 36.5 361.6 97.1 360.6 119.2C359.6 141.2 354.6 143.7 354.6 152.2Z" fill="#6fb4e1"/>
<path d="M396.7 155.2C397.2 151.5 399.7 146.2 402.7 144.7C405.7 143.2 410.7 144 414.7 146.2C418.7 148.5 424.2 154.2 426.7 158.2C429.2 162.2 430.7 167.3 429.7 170.3C428.7 173.3 424.2 175.8 420.7 176.3C417.2 176.8 412.2 174.8 408.7 173.3C405.2 171.8 401.7 170.3 399.7 167.3C397.7 164.2 396.2 159 396.7 155.2Z" fill="#d3eafc"/>
<path d="M240.4 215.3C243.4 212.8 247.4 209.3 252.4 206.3C257.4 203.3 265.5 197.3 270.5 197.3C275.5 197.3 278.5 203.3 282.5 206.3C286.5 209.3 291 211.8 294.5 215.3C298 218.8 300 222.8 303.5 227.4C307 231.9 312.3 236.9 315.5 242.4C318.8 247.9 322.1 254.9 323.1 260.4C324.1 265.9 323.3 271.4 321.6 275.4C319.8 279.4 314.5 280.4 312.5 284.5C310.5 288.5 311 294 309.5 299.5C308 305 306 312 303.5 317.5C301 323 297 328 294.5 332.5C292 337 292.5 342.1 288.5 344.6C284.5 347.1 275.5 348.1 270.5 347.6C265.5 347.1 260.4 344.1 258.4 341.6C256.4 339.1 256.4 335.5 258.4 332.5C260.4 329.5 266.5 327.5 270.5 323.5C274.5 319.5 280 314 282.5 308.5C285 303 286 296.5 285.5 290.5C285 284.5 281 278.4 279.5 272.4C278 266.4 278 259.9 276.5 254.4C275 248.9 274 243.1 270.5 239.4C267 235.6 260.9 233.4 255.4 231.9C249.9 230.4 240.9 232.1 237.4 230.4C233.9 228.6 233.9 223.9 234.4 221.3C234.9 218.8 237.4 217.8 240.4 215.3Z" fill="#6fb4e1"/>
<path d="M156.3 308.5C157.8 303 163.3 297 168.3 293.5C173.3 290 180.3 288 186.3 287.5C192.3 287 198.8 291.5 204.4 290.5C209.9 289.5 214.9 284.7 219.4 281.5C223.9 278.2 227.4 272.7 231.4 270.9C235.4 269.2 239.9 269.2 243.4 270.9C246.9 272.7 250.4 277.2 252.4 281.5C254.4 285.7 256.4 293 255.4 296.5C254.4 300 250.9 302 246.4 302.5C241.9 303 234.4 299 228.4 299.5C222.4 300 215.9 304 210.4 305.5C204.9 307 199.8 306 195.3 308.5C190.8 311 187.3 317 183.3 320.5C179.3 324 175.3 328.5 171.3 329.5C167.3 330.5 161.8 330 159.3 326.5C156.8 323 154.8 314 156.3 308.5Z" fill="#6fb4e1"/>
<path d="M390.7 206.3C392.4 201.8 396.2 195.8 399.7 194.3C403.2 192.8 408.2 194.8 411.7 197.3C415.2 199.8 419.2 204.3 420.7 209.3C422.2 214.3 418.7 222.8 420.7 227.4C422.7 231.9 430.2 232.4 432.7 236.4C435.3 240.4 436.8 246.4 435.8 251.4C434.7 256.4 430.2 261.9 426.7 266.4C423.2 270.9 417.2 274.4 414.7 278.4C412.2 282.5 410.7 286.5 411.7 290.5C412.7 294.5 418.2 298.5 420.7 302.5C423.2 306.5 427.2 311.5 426.7 314.5C426.2 317.5 421.2 321 417.7 320.5C414.2 320 410.2 314 405.7 311.5C401.2 309 396.2 307 390.7 305.5C385.2 304 378.2 304 372.6 302.5C367.1 301 361.1 299 357.6 296.5C354.1 294 351.6 291 351.6 287.5C351.6 284 354.6 279.4 357.6 275.4C360.6 271.4 365.6 266.9 369.6 263.4C373.6 259.9 378.2 258.4 381.7 254.4C385.2 250.4 389.4 244.9 390.7 239.4C391.9 233.9 389.2 226.9 389.2 221.3C389.2 215.8 388.9 210.8 390.7 206.3Z" fill="#6fb4e1"/>
<path d="M348.6 326.5C350.1 323.5 356.1 318 360.6 317.5C365.1 317 371.6 320 375.6 323.5C379.7 327 381.7 334.5 384.7 338.5C387.7 342.6 390.2 347.6 393.7 347.6C397.2 347.6 402.2 338.5 405.7 338.5C409.2 338.5 412.2 344.1 414.7 347.6C417.2 351.1 417.7 356.1 420.7 359.6C423.7 363.1 428.7 368.6 432.7 368.6C436.8 368.6 440.8 361.6 444.8 359.6C448.8 357.6 455.3 354.6 456.8 356.6C458.3 358.6 456.3 366.6 453.8 371.6C451.3 376.6 445.8 382.1 441.8 386.6C437.8 391.1 433.7 395.1 429.7 398.7C425.7 402.2 421.7 407.2 417.7 407.7C413.7 408.2 408.2 405.2 405.7 401.7C403.2 398.2 404.2 391.6 402.7 386.6C401.2 381.6 398.7 376.6 396.7 371.6C394.7 366.6 393.7 360.6 390.7 356.6C387.7 352.6 382.7 350.6 378.7 347.6C374.6 344.6 371.1 340.6 366.6 338.5C362.1 336.5 354.6 337.5 351.6 335.5C348.6 333.5 347.1 329.5 348.6 326.5Z" fill="#6fb4e1"/>
<path d="M246.4 401.7C248.4 397.2 253.4 394.6 258.4 392.6C263.5 390.6 270.5 390.1 276.5 389.6C282.5 389.1 291 388.1 294.5 389.6C298 391.1 299 395.6 297.5 398.7C296 401.7 290 405.2 285.5 407.7C281 410.2 275 411.2 270.5 413.7C266 416.2 262.5 421.7 258.4 422.7C254.4 423.7 248.4 423.2 246.4 419.7C244.4 416.2 244.4 406.2 246.4 401.7Z" fill="#6fb4e1"/>
<path d="M324.6 404.7C325.8 401.2 328.1 396.6 330.6 395.6C333.1 394.6 337.6 395.6 339.6 398.7C341.6 401.7 342.6 409.2 342.6 413.7C342.6 418.2 342.1 423.7 339.6 425.7C337.1 427.7 330.3 427.2 327.6 425.7C324.8 424.2 323.6 420.2 323.1 416.7C322.6 413.2 323.3 408.2 324.6 404.7Z" fill="#6fb4e1"/>
<path d="M326.1 289C326.7 287.1 330.2 285.7 332.1 286C333.9 286.2 336.7 288.7 337.2 290.5C337.7 292.2 336.6 295.4 335.1 296.5C333.6 297.6 329.7 298.3 328.2 297.1C326.7 295.8 325.4 290.8 326.1 289Z" fill="#6fb4e1"/>
<path d="M339.6 230.4C339.6 227.6 342.8 227.9 344.1 230.4C345.3 232.9 347.1 242.6 347.1 245.4C347.1 248.1 345.3 249.4 344.1 246.9C342.8 244.4 339.6 233.1 339.6 230.4Z" fill="#6fb4e1"/>
<path d="M297.5 344.6C298.3 342.1 302.5 338 305 338.5C307.5 339.1 310.8 344.1 312.5 347.6C314.3 351.1 316 357.3 315.5 359.6C315 361.8 312 362.1 309.5 361.1C307 360.1 302.5 356.3 300.5 353.6C298.5 350.8 296.8 347.1 297.5 344.6Z" fill="#6fb4e1"/>
<path d="M437.3 302.5C437.8 301.2 447 298.2 450.8 298C454.5 297.7 460.3 299.7 459.8 301C459.3 302.2 451.5 305.2 447.8 305.5C444 305.7 436.8 303.7 437.3 302.5Z" fill="#6fb4e1"/>
<path d="M459.8 371.6C464.3 364.1 482.3 364.1 486.8 371.6C491.3 379.1 491.3 409.2 486.8 416.7C482.3 424.2 464.3 424.2 459.8 416.7C455.3 409.2 455.3 379.1 459.8 371.6Z" fill="#6fb4e1"/>
<use href="#mesh"/>
</g>
<use href="#ov"/>
<path d="M501.8 368.6L541 368.6L538 372L533 376L527 378.5L521 380L517 381L516.5 385L513 385.5L512.5 381.5L507 381.3L501.8 380.5Z" fill="#d3eafc"/><path d="M508 392L510 388.5L514.5 387.3L517 388.5L516 392L513 394.5L509.5 395Z" fill="#d3eafc"/><path d="M548 368.6L556 368.6L555.5 372L553 374.5L550 372.5Z" fill="#6fb4e1"/><path d="M541 368.6L538 372L533 376L527 378.5L521 380L517 381L516.5 385L513 385.5" fill="none" stroke="#38c8f4" stroke-width="1" stroke-dasharray="1.4 1"/>
<text class="lb" x="463.5" y="207">Changshan Qundao</text><text class="lb" x="478.5" y="320.9">Zhoushan Qundao</text><text class="lb" x="494.5" y="355.8">Chiwei Yu</text><text class="lb" x="470.5" y="363.2">Diaoyu Dao</text><text class="lb" x="471.5" y="396.6">Taiwan Dao</text><text class="lb" x="483.8" y="407.6">Lan Yu</text><text class="lb" x="411" y="437">Dongsha Qundao</text><text class="lb" x="366.3" y="457.9">Hainan Dao</text><text class="sea" x="428.5" y="220.9">Bo Hai</text><text class="sea" x="451.8" y="258.3">Yellow Sea</text><text class="sea" x="487.5" y="333.4">East China Sea</text><text class="sea" x="378.8" y="465.3">South China Sea</text><text x="536" y="384.8" font-size="2.3" font-style="italic" fill="#444">Dongsha Qundao</text><text x="519" y="388.3" font-size="2.3" font-style="italic" fill="#444">Hainan Dao</text><text x="518.5" y="396" font-size="2.3" font-style="italic" fill="#444">Xisha Qundao</text><text x="531" y="401.6" font-size="2.3" font-style="italic" fill="#444">Zhongsha Qundao</text><text x="536" y="406.6" font-size="2.3" font-style="italic" fill="#444">Huangyan Dao</text><text x="523.5" y="416.3" font-size="2.8" font-style="italic" fill="#3cc0f0">South China Sea</text><text x="527.5" y="428.3" font-size="2.3" font-style="italic" fill="#444">Nansha Qundao</text><text x="514.5" y="449.6" font-size="2.3" font-style="italic" fill="#444">Zengmu Ansha</text><text x="548.5" y="374.6" font-size="2.3" font-style="italic" fill="#444">Taiwan Dao</text><text class="sb" x="6" y="451.8">0</text><text class="sb" x="53.3" y="451.8">500 km</text><text x="535.2" y="458.2" font-size="4.6" fill="#333">0</text><text x="551.6" y="458.2" font-size="4.6" fill="#333">400 km</text>
<text class="cn" x="8.8" y="62.6">&#9313;</text><text class="t2" x="28.6" y="63">P-value</text>
</g>
<g transform="translate(0 938.8)">
<use href="#halo"/>
<use href="#cn" fill="#fff"/>
<g clip-path="url(#cp)">
<rect x="0" y="30" width="560" height="450" fill="#f4faed"/>
<path d="M360.6 119.2C370.6 135.9 407.2 117.2 420.7 120.7C434.2 124.2 436.8 133.4 441.8 140.2C446.8 147 450.3 154.2 450.8 161.2C451.3 168.3 447.8 176.3 444.8 182.3C441.8 188.3 436.8 192.3 432.7 197.3C428.7 202.3 422.7 207.8 420.7 212.3C418.7 216.8 418.2 221.8 420.7 224.4C423.2 226.9 428.7 226.9 435.8 227.4C442.8 227.9 457.3 221.8 462.8 227.4C468.3 232.9 469.8 250.9 468.8 260.4C467.8 269.9 462.8 279.4 456.8 284.5C450.8 289.5 439.8 289.5 432.7 290.5C425.7 291.5 419.7 289 414.7 290.5C409.7 292 405.7 294.5 402.7 299.5C399.7 304.5 397.2 313 396.7 320.5C396.2 328 400.7 337 399.7 344.6C398.7 352.1 395.2 360.6 390.7 365.6C386.2 370.6 378.7 373.6 372.6 374.6C366.6 375.6 360.1 370.6 354.6 371.6C349.1 372.6 345.6 379.1 339.6 380.6C333.6 382.1 325.1 380.1 318.5 380.6C312 381.1 306.5 381.6 300.5 383.6C294.5 385.6 288.5 389.1 282.5 392.6C276.5 396.1 268.5 399.7 264.5 404.7C260.4 409.7 259.4 409.5 258.4 422.7C257.4 435.9 301.5 473.8 258.4 484C215.4 494.2 43.1 561.3 0 484C-43.1 406.7 -60.1 97.3 0 20C60.1 -57.3 300.5 3.5 360.6 20C420.7 36.5 350.6 102.4 360.6 119.2Z" fill="#dcf1d6"/>
<path d="M360.6 119.2C370.4 136.1 406.5 118.1 419.2 121.6C432 125.1 432.7 133.6 437.3 140.2C441.8 146.8 445.8 154.5 446.3 161.2C446.8 168 443.5 175 440.3 180.8C437 186.5 431.2 191 426.7 195.8C422.2 200.6 416.2 204.1 413.2 209.3C410.2 214.6 404.9 224.1 408.7 227.4C412.5 230.6 426.7 228.8 435.8 228.9C444.8 229 457.8 223.7 462.8 228C467.8 232.2 467.3 245.5 465.8 254.4C464.3 263.3 459.8 275.9 453.8 281.5C447.8 287 437 286.5 429.7 287.5C422.5 288.5 416.2 287 410.2 287.5C404.2 288 398.4 291 393.7 290.5C388.9 290 386.2 286.5 381.7 284.5C377.2 282.5 371.6 278.4 366.6 278.4C361.6 278.4 356.1 281.5 351.6 284.5C347.1 287.5 344.1 293 339.6 296.5C335.1 300 330.1 302.5 324.6 305.5C319.1 308.5 312.5 311 306.5 314.5C300.5 318 292 321.5 288.5 326.5C285 331.5 283.5 340.6 285.5 344.6C287.5 348.6 298 346.6 300.5 350.6C303 354.6 303 363.6 300.5 368.6C298 373.6 291 377.1 285.5 380.6C280 384.1 272.5 386.1 267.5 389.6C262.5 393.1 258.9 398.2 255.4 401.7C251.9 405.2 249.4 409.2 246.4 410.7C243.4 412.2 239.9 398.5 237.4 410.7C234.9 422.9 271 471.8 231.4 484C191.8 496.2 38.6 561.3 0 484C-38.6 406.7 -60.1 97.3 0 20C60.1 -57.3 300.5 3.5 360.6 20C420.7 36.5 350.9 102.2 360.6 119.2Z" fill="#c2e7c1"/>
<path d="M360.6 119.2C370.1 136.2 405.7 118.7 417.7 122.2C429.7 125.7 428.7 133.7 432.7 140.2C436.8 146.7 441.3 154.7 441.8 161.2C442.3 167.8 439.3 173.8 435.8 179.3C432.2 184.8 425.7 189.8 420.7 194.3C415.7 198.8 409.7 201.8 405.7 206.3C401.7 210.8 397.2 216.8 396.7 221.3C396.2 225.9 398.7 231.9 402.7 233.4C406.7 234.9 410.7 231.1 420.7 230.4C430.7 229.6 455.8 225.9 462.8 228.9C469.8 231.9 464.8 241.6 462.8 248.4C460.8 255.2 452.8 263.9 450.8 269.4C448.8 274.9 454.8 278.9 450.8 281.5C446.8 284 434.2 284 426.7 284.5C419.2 285 412.2 285 405.7 284.5C399.2 284 393.2 283 387.7 281.5C382.2 279.9 377.2 276.9 372.6 275.4C368.1 273.9 365.1 271.9 360.6 272.4C356.1 272.9 349.6 275.4 345.6 278.4C341.6 281.5 341.1 287.5 336.6 290.5C332.1 293.5 324.6 294.5 318.5 296.5C312.5 298.5 306 300 300.5 302.5C295 305 290.5 308 285.5 311.5C280.5 315 274 319 270.5 323.5C267 328 264.5 334 264.5 338.5C264.5 343.1 267 349.1 270.5 350.6C274 352.1 281 347.6 285.5 347.6C290 347.6 296 347.6 297.5 350.6C299 353.6 297.5 361.6 294.5 365.6C291.5 369.6 285 372.1 279.5 374.6C274 377.1 266.5 377.6 261.5 380.6C256.4 383.6 252.9 390.1 249.4 392.6C245.9 395.1 242.9 396.1 240.4 395.6C237.9 395.1 236.4 374.9 234.4 389.6C232.4 404.4 267.5 468.3 228.4 484C189.3 499.7 38.1 561.3 0 484C-38.1 406.7 -60.1 97.3 0 20C60.1 -57.3 300.5 3.5 360.6 20C420.7 36.5 351.1 102.1 360.6 119.2Z" fill="#93d5b9"/>
<path d="M360.6 119.2C369.9 136.5 404.9 119.7 416.2 123.7C427.5 127.7 425 137 428.2 143.2C431.5 149.5 435.5 155.7 435.8 161.2C436 166.8 433.2 171.3 429.7 176.3C426.2 181.3 420.2 186.8 414.7 191.3C409.2 195.8 401.2 198.8 396.7 203.3C392.2 207.8 388.7 212.8 387.7 218.3C386.7 223.9 387.7 233.4 390.7 236.4C393.7 239.4 399.7 236.9 405.7 236.4C411.7 235.9 417.2 234.4 426.7 233.4C436.3 232.4 457.3 227.9 462.8 230.4C468.3 232.9 462.3 241.9 459.8 248.4C457.3 254.9 449.8 264.4 447.8 269.4C445.8 274.4 451.3 276.9 447.8 278.4C444.3 279.9 433.2 278.4 426.7 278.4C420.2 278.4 414.7 278.9 408.7 278.4C402.7 277.9 395.2 278.4 390.7 275.4C386.2 272.4 385.2 262.4 381.7 260.4C378.2 258.4 374.1 262.4 369.6 263.4C365.1 264.4 359.6 264.4 354.6 266.4C349.6 268.4 344.6 271.9 339.6 275.4C334.6 278.9 330.1 284.5 324.6 287.5C319.1 290.5 312.5 291 306.5 293.5C300.5 296 294 299 288.5 302.5C283 306 278 310.5 273.5 314.5C269 318.5 265 321.5 261.5 326.5C257.9 331.5 254.4 338.5 252.4 344.6C250.4 350.6 250.4 356.6 249.4 362.6C248.4 368.6 248.4 375.6 246.4 380.6C244.4 385.6 240.4 390.6 237.4 392.6C234.4 394.6 230.9 377.4 228.4 392.6C225.9 407.9 260.4 468.8 222.4 484C184.3 499.2 37.1 561.3 0 484C-37.1 406.7 -60.1 97.3 0 20C60.1 -57.3 300.5 3.5 360.6 20C420.7 36.5 351.4 101.9 360.6 119.2Z" fill="#5cbbd0"/>
<path d="M360.6 119.2C369.4 136.7 402.7 120.7 413.2 125.2C423.7 129.7 421.5 140.2 423.7 146.2C426 152.2 427.7 156.2 426.7 161.2C425.7 166.3 421.7 171.8 417.7 176.3C413.7 180.8 407.7 184.3 402.7 188.3C397.7 192.3 391.7 195.8 387.7 200.3C383.7 204.8 380.2 209.3 378.7 215.3C377.2 221.3 377.2 230.9 378.7 236.4C380.2 241.9 383.7 247.4 387.7 248.4C391.7 249.4 396.2 244.4 402.7 242.4C409.2 240.4 416.7 238.1 426.7 236.4C436.8 234.6 457.8 229.9 462.8 231.9C467.8 233.9 459.8 242.1 456.8 248.4C453.8 254.7 446.8 264.9 444.8 269.4C442.8 273.9 448.8 274.9 444.8 275.4C440.8 275.9 427.7 273.4 420.7 272.4C413.7 271.4 408.2 271.4 402.7 269.4C397.2 267.4 392.7 262.4 387.7 260.4C382.7 258.4 377.7 257.9 372.6 257.4C367.6 256.9 363.1 256.4 357.6 257.4C352.1 258.4 345.6 260.9 339.6 263.4C333.6 265.9 327.6 269.4 321.6 272.4C315.5 275.4 309.5 277.9 303.5 281.5C297.5 285 291.5 289.5 285.5 293.5C279.5 297.5 273 301.5 267.5 305.5C262 309.5 256.9 313.5 252.4 317.5C247.9 321.5 243.4 325 240.4 329.5C237.4 334 235.9 339.6 234.4 344.6C232.9 349.6 233.4 355.6 231.4 359.6C229.4 363.6 224.9 347.9 222.4 368.6C219.9 389.3 253.4 464.8 216.4 484C179.3 503.2 36.1 561.3 0 484C-36.1 406.7 -60.1 97.3 0 20C60.1 -57.3 300.5 3.5 360.6 20C420.7 36.5 351.9 101.6 360.6 119.2Z" fill="#3a9acb"/>
<path d="M360.6 119.2C368.9 137.2 400.4 123.2 410.2 128.2C420 133.2 418 143.7 419.2 149.2C420.5 154.7 420 157.2 417.7 161.2C415.5 165.3 410.7 169.3 405.7 173.3C400.7 177.3 392.7 180.8 387.7 185.3C382.7 189.8 378.9 193.8 375.6 200.3C372.4 206.8 370.4 216.8 368.1 224.4C365.9 231.9 365.9 240.1 362.1 245.4C358.4 250.6 351.9 253.4 345.6 255.9C339.3 258.4 331.1 258.2 324.6 260.4C318 262.7 312.5 265.9 306.5 269.4C300.5 272.9 294.5 277.2 288.5 281.5C282.5 285.7 276.5 291 270.5 295C264.5 299 259.4 302.2 252.4 305.5C245.4 308.7 235.9 311.5 228.4 314.5C220.9 317.5 214.4 319.5 207.4 323.5C200.3 327.5 191.8 333.5 186.3 338.5C180.8 343.6 177.3 329.3 174.3 353.6C171.3 377.8 197.3 462.3 168.3 484C139.2 505.7 28 561.3 0 484C-28 406.7 -60.1 97.3 0 20C60.1 -57.3 300.5 3.5 360.6 20C420.7 36.5 352.4 101.1 360.6 119.2Z" fill="#1b6fb6"/>
<path d="M360.6 119.2C367.6 138.2 395.9 127.7 402.7 134.2C409.5 140.7 403.7 151.7 401.2 158.2C398.7 164.7 392.7 168.3 387.7 173.3C382.7 178.3 375.6 181.8 371.1 188.3C366.6 194.8 362.9 204.3 360.6 212.3C358.4 220.3 359.6 230.6 357.6 236.4C355.6 242.1 354.1 244.1 348.6 246.9C343.1 249.6 332.6 250.9 324.6 252.9C316.5 254.9 308 255.9 300.5 258.9C293 261.9 286 266.7 279.5 270.9C273 275.2 268 280.4 261.5 284.5C254.9 288.5 247.9 291.7 240.4 295C232.9 298.2 223.9 301 216.4 304C208.9 307 202.3 309.5 195.3 313C188.3 316.5 180.3 321 174.3 325C168.3 329 163 333 159.3 337C155.5 341.1 154.3 324.6 151.8 349.1C149.3 373.6 169.5 461.5 144.2 484C119 506.5 24 561.3 0 484C-24 406.7 -60.1 97.3 0 20C60.1 -57.3 300.5 3.5 360.6 20C420.7 36.5 353.6 100.1 360.6 119.2Z" fill="#0b4789"/>
<path d="M354.6 347.6C355.1 343.1 359.6 337.5 363.6 335.5C367.6 333.5 374.4 333.5 378.7 335.5C382.9 337.5 387.7 343.6 389.2 347.6C390.7 351.6 389.9 356.6 387.7 359.6C385.4 362.6 380.2 365.1 375.6 365.6C371.1 366.1 364.1 365.6 360.6 362.6C357.1 359.6 354.1 352.1 354.6 347.6Z" fill="none" stroke="#c2e7c1" stroke-width="10" stroke-linejoin="round"/>
<path d="M354.6 347.6C355.1 343.1 359.6 337.5 363.6 335.5C367.6 333.5 374.4 333.5 378.7 335.5C382.9 337.5 387.7 343.6 389.2 347.6C390.7 351.6 389.9 356.6 387.7 359.6C385.4 362.6 380.2 365.1 375.6 365.6C371.1 366.1 364.1 365.6 360.6 362.6C357.1 359.6 354.1 352.1 354.6 347.6Z" fill="#93d5b9"/>
<path d="M363.6 349.1C364.1 346.8 368.6 344.6 371.1 344.6C373.6 344.6 377.7 347.1 378.7 349.1C379.7 351.1 378.9 355.1 377.2 356.6C375.4 358.1 370.4 359.3 368.1 358.1C365.9 356.8 363.1 351.3 363.6 349.1Z" fill="#5cbbd0"/>
<path d="M459.8 371.6C464.3 364.1 482.3 364.1 486.8 371.6C491.3 379.1 491.3 409.2 486.8 416.7C482.3 424.2 464.3 424.2 459.8 416.7C455.3 409.2 455.3 379.1 459.8 371.6Z" fill="#dcf1d6"/>
<use href="#mesh"/>
</g>
<use href="#ov"/>
<path d="M501.8 368.6L541 368.6L538 372L533 376L527 378.5L521 380L517 381L516.5 385L513 385.5L512.5 381.5L507 381.3L501.8 380.5Z" fill="#f4faed"/><path d="M508 392L510 388.5L514.5 387.3L517 388.5L516 392L513 394.5L509.5 395Z" fill="#f4faed"/><path d="M548 368.6L556 368.6L555.5 372L553 374.5L550 372.5Z" fill="#dcf1d6"/><path d="M541 368.6L538 372L533 376L527 378.5L521 380L517 381L516.5 385L513 385.5" fill="none" stroke="#38c8f4" stroke-width="1" stroke-dasharray="1.4 1"/>
<text class="lb" x="463.5" y="207">Changshan Qundao</text><text class="lb" x="478.5" y="320.9">Zhoushan Qundao</text><text class="lb" x="494.5" y="355.8">Chiwei Yu</text><text class="lb" x="470.5" y="363.2">Diaoyu Dao</text><text class="lb" x="471.5" y="396.6">Taiwan Dao</text><text class="lb" x="483.8" y="407.6">Lan Yu</text><text class="lb" x="411" y="437">Dongsha Qundao</text><text class="lb" x="366.3" y="457.9">Hainan Dao</text><text class="sea" x="428.5" y="220.9">Bo Hai</text><text class="sea" x="451.8" y="258.3">Yellow Sea</text><text class="sea" x="487.5" y="333.4">East China Sea</text><text class="sea" x="378.8" y="465.3">South China Sea</text><text x="536" y="384.8" font-size="2.3" font-style="italic" fill="#444">Dongsha Qundao</text><text x="519" y="388.3" font-size="2.3" font-style="italic" fill="#444">Hainan Dao</text><text x="518.5" y="396" font-size="2.3" font-style="italic" fill="#444">Xisha Qundao</text><text x="531" y="401.6" font-size="2.3" font-style="italic" fill="#444">Zhongsha Qundao</text><text x="536" y="406.6" font-size="2.3" font-style="italic" fill="#444">Huangyan Dao</text><text x="523.5" y="416.3" font-size="2.8" font-style="italic" fill="#3cc0f0">South China Sea</text><text x="527.5" y="428.3" font-size="2.3" font-style="italic" fill="#444">Nansha Qundao</text><text x="514.5" y="449.6" font-size="2.3" font-style="italic" fill="#444">Zengmu Ansha</text><text x="548.5" y="374.6" font-size="2.3" font-style="italic" fill="#444">Taiwan Dao</text><text class="sb" x="6" y="451.8">0</text><text class="sb" x="53.3" y="451.8">500 km</text><text x="535.2" y="458.2" font-size="4.6" fill="#333">0</text><text x="551.6" y="458.2" font-size="4.6" fill="#333">400 km</text>
<text class="t1" x="7" y="30.6">e. Wetland</text>
<text class="cn" x="8.3" y="62.6">&#9312;</text><text class="t2" x="28.4" y="63">Coefficient</text>
</g>
<g transform="translate(580.5 938.8)">
<use href="#halo"/>
<use href="#cn" fill="#fff"/>
<g clip-path="url(#cp)">
<rect x="0" y="30" width="560" height="450" fill="#6fb4e1"/>
<path d="M405.7 128.2C406.7 125.2 411.2 121.7 414.7 122.2C418.2 122.7 422.7 127.7 426.7 131.2C430.7 134.7 434.7 139.2 438.8 143.2C442.8 147.2 447.3 150.7 450.8 155.2C454.3 159.7 457.3 164.7 459.8 170.3C462.3 175.8 465.3 183.3 465.8 188.3C466.3 193.3 465.3 199.3 462.8 200.3C460.3 201.3 454.3 196.3 450.8 194.3C447.3 192.3 444.8 190.3 441.8 188.3C438.8 186.3 434.7 180.3 432.7 182.3C430.7 184.3 429.2 194.3 429.7 200.3C430.2 206.3 432.7 213.3 435.8 218.3C438.8 223.4 448.3 227.9 447.8 230.4C447.3 232.9 438.3 233.4 432.7 233.4C427.2 233.4 420.2 231.9 414.7 230.4C409.2 228.9 403.2 227.4 399.7 224.4C396.2 221.3 394.2 216.3 393.7 212.3C393.2 208.3 394.7 203.8 396.7 200.3C398.7 196.8 401.7 193.8 405.7 191.3C409.7 188.8 416.7 187.8 420.7 185.3C424.7 182.8 428.7 180.3 429.7 176.3C430.7 172.3 428.7 165.8 426.7 161.2C424.7 156.7 420.7 152.7 417.7 149.2C414.7 145.7 410.7 143.7 408.7 140.2C406.7 136.7 404.7 131.2 405.7 128.2Z" fill="#d3eafc"/>
<path d="M381.7 98.1C383.9 95.1 393.2 93.6 396.7 95.1C400.2 96.6 402.7 103.6 402.7 107.2C402.7 110.7 399.9 115.2 396.7 116.2C393.4 117.2 385.7 116.2 383.2 113.2C380.7 110.2 379.4 101.1 381.7 98.1Z" fill="#d3eafc"/>
<path d="M339.6 278.4C342.6 274.4 347.1 270.9 351.6 269.4C356.1 267.9 362.1 267.9 366.6 269.4C371.1 270.9 375.1 276.4 378.7 278.4C382.2 280.4 384.2 282 387.7 281.5C391.2 280.9 395.2 276.9 399.7 275.4C404.2 273.9 409.2 272.4 414.7 272.4C420.2 272.4 426.7 274.9 432.7 275.4C438.8 275.9 447.3 273.9 450.8 275.4C454.3 276.9 455.8 282.5 453.8 284.5C451.8 286.5 444.3 287 438.8 287.5C433.2 288 426.2 286.5 420.7 287.5C415.2 288.5 409.7 290.5 405.7 293.5C401.7 296.5 399.2 301 396.7 305.5C394.2 310 391.2 315.5 390.7 320.5C390.2 325.5 391.2 331 393.7 335.5C396.2 340.1 403.2 343.1 405.7 347.6C408.2 352.1 409.7 358.1 408.7 362.6C407.7 367.1 403.7 372.1 399.7 374.6C395.7 377.1 389.2 376.1 384.7 377.6C380.2 379.1 376.6 382.1 372.6 383.6C368.6 385.1 364.1 388.1 360.6 386.6C357.1 385.1 354.1 379.1 351.6 374.6C349.1 370.1 346.1 365.1 345.6 359.6C345.1 354.1 347.1 346.6 348.6 341.6C350.1 336.5 355.1 333 354.6 329.5C354.1 326 349.1 322.5 345.6 320.5C342.1 318.5 337.1 319.5 333.6 317.5C330.1 315.5 328.1 310.5 324.6 308.5C321.1 306.5 316.5 305 312.5 305.5C308.5 306 302 309 300.5 311.5C299 314 301 318 303.5 320.5C306 323 312 323.5 315.5 326.5C319.1 329.5 323.6 334 324.6 338.5C325.6 343.1 323.6 349.1 321.6 353.6C319.6 358.1 315.5 361.1 312.5 365.6C309.5 370.1 306 375.6 303.5 380.6C301 385.6 298.5 390.6 297.5 395.6C296.5 400.7 299 406.7 297.5 410.7C296 414.7 293 417.7 288.5 419.7C284 421.7 276.5 421.2 270.5 422.7C264.5 424.2 257.9 428.7 252.4 428.7C246.9 428.7 242.4 427.7 237.4 422.7C232.4 417.7 223.4 404.7 222.4 398.7C221.4 392.6 228.4 390.6 231.4 386.6C234.4 382.6 238.4 379.6 240.4 374.6C242.4 369.6 241.4 361.6 243.4 356.6C245.4 351.6 248.9 348.1 252.4 344.6C255.9 341.1 260.4 339.1 264.5 335.5C268.5 332 273 327.5 276.5 323.5C280 319.5 281.5 315 285.5 311.5C289.5 308 295 304.5 300.5 302.5C306 300.5 313 301 318.5 299.5C324.1 298 330.1 297 333.6 293.5C337.1 290 336.6 282.5 339.6 278.4Z" fill="#d3eafc"/>
<path d="M353.1 273.9C353.9 272.7 357.9 271.7 359.1 272.4C360.4 273.2 361.4 277.2 360.6 278.4C359.9 279.7 355.9 280.7 354.6 279.9C353.4 279.2 352.4 275.2 353.1 273.9Z" fill="#6fb4e1"/>
<path d="M459.8 371.6C464.3 364.1 482.3 364.1 486.8 371.6C491.3 379.1 491.3 409.2 486.8 416.7C482.3 424.2 464.3 424.2 459.8 416.7C455.3 409.2 455.3 379.1 459.8 371.6Z" fill="#d3eafc"/>
<use href="#mesh"/>
</g>
<use href="#ov"/>
<path d="M501.8 368.6L541 368.6L538 372L533 376L527 378.5L521 380L517 381L516.5 385L513 385.5L512.5 381.5L507 381.3L501.8 380.5Z" fill="#6fb4e1"/><path d="M508 392L510 388.5L514.5 387.3L517 388.5L516 392L513 394.5L509.5 395Z" fill="#6fb4e1"/><path d="M548 368.6L556 368.6L555.5 372L553 374.5L550 372.5Z" fill="#d3eafc"/><path d="M541 368.6L538 372L533 376L527 378.5L521 380L517 381L516.5 385L513 385.5" fill="none" stroke="#38c8f4" stroke-width="1" stroke-dasharray="1.4 1"/>
<text class="lb" x="463.5" y="207">Changshan Qundao</text><text class="lb" x="478.5" y="320.9">Zhoushan Qundao</text><text class="lb" x="494.5" y="355.8">Chiwei Yu</text><text class="lb" x="470.5" y="363.2">Diaoyu Dao</text><text class="lb" x="471.5" y="396.6">Taiwan Dao</text><text class="lb" x="483.8" y="407.6">Lan Yu</text><text class="lb" x="411" y="437">Dongsha Qundao</text><text class="lb" x="366.3" y="457.9">Hainan Dao</text><text class="sea" x="428.5" y="220.9">Bo Hai</text><text class="sea" x="451.8" y="258.3">Yellow Sea</text><text class="sea" x="487.5" y="333.4">East China Sea</text><text class="sea" x="378.8" y="465.3">South China Sea</text><text x="536" y="384.8" font-size="2.3" font-style="italic" fill="#444">Dongsha Qundao</text><text x="519" y="388.3" font-size="2.3" font-style="italic" fill="#444">Hainan Dao</text><text x="518.5" y="396" font-size="2.3" font-style="italic" fill="#444">Xisha Qundao</text><text x="531" y="401.6" font-size="2.3" font-style="italic" fill="#444">Zhongsha Qundao</text><text x="536" y="406.6" font-size="2.3" font-style="italic" fill="#444">Huangyan Dao</text><text x="523.5" y="416.3" font-size="2.8" font-style="italic" fill="#3cc0f0">South China Sea</text><text x="527.5" y="428.3" font-size="2.3" font-style="italic" fill="#444">Nansha Qundao</text><text x="514.5" y="449.6" font-size="2.3" font-style="italic" fill="#444">Zengmu Ansha</text><text x="548.5" y="374.6" font-size="2.3" font-style="italic" fill="#444">Taiwan Dao</text><text class="sb" x="6" y="451.8">0</text><text class="sb" x="53.3" y="451.8">500 km</text><text x="535.2" y="458.2" font-size="4.6" fill="#333">0</text><text x="551.6" y="458.2" font-size="4.6" fill="#333">400 km</text>
<text class="cn" x="8.8" y="62.6">&#9313;</text><text class="t2" x="28.6" y="63">P-value</text>
</g>
<g transform="translate(1191.5 938.8)">
<use href="#halo"/>
<use href="#cn" fill="#fff"/>
<g clip-path="url(#cp)">
<rect x="0" y="30" width="560" height="450" fill="#93d5b9"/>
<path d="M0 20C60.1 -30.1 303 -8 360.6 20C418.2 48 349.6 157.2 345.6 188.3C341.6 219.3 341.1 201.8 336.6 206.3C332.1 210.8 324.6 213.3 318.5 215.3C312.5 217.3 306 218.8 300.5 218.3C295 217.8 290.5 212.3 285.5 212.3C280.5 212.3 276 215.3 270.5 218.3C265 221.3 258.4 226.9 252.4 230.4C246.4 233.9 239.9 235.9 234.4 239.4C228.9 242.9 223.4 247.9 219.4 251.4C215.4 254.9 216.9 259.4 210.4 260.4C203.9 261.4 189.3 256.9 180.3 257.4C171.3 257.9 163.8 260.4 156.3 263.4C148.8 266.4 141.2 270.9 135.2 275.4C129.2 279.9 124.7 286 120.2 290.5C115.7 295 112.2 299 108.2 302.5C104.2 306 99.7 308.5 96.2 311.5C92.7 314.5 103.2 319 87.2 320.5C71.1 322 14.5 370.6 0 320.5C-14.5 270.4 -60.1 70.1 0 20Z" fill="#5cbbd0"/>
<path d="M0 20C45.1 -23.1 226.4 -7 270.5 20C314.5 47 267.5 152.2 264.5 182.3C261.5 212.3 256.9 195.3 252.4 200.3C247.9 205.3 242.4 208.3 237.4 212.3C232.4 216.3 227.9 221.3 222.4 224.4C216.9 227.4 211.4 228.9 204.4 230.4C197.3 231.9 188.3 231.9 180.3 233.4C172.3 234.9 164.3 236.9 156.3 239.4C148.3 241.9 139.2 245.4 132.2 248.4C125.2 251.4 121.2 254.4 114.2 257.4C107.2 260.4 98.2 263.9 90.2 266.4C82.1 268.9 74.1 270.4 66.1 272.4C58.1 274.4 53.1 277.4 42.1 278.4C31.1 279.4 7 321.5 0 278.4C-7 235.4 -45.1 63.1 0 20Z" fill="#3a9acb"/>
<path d="M360.6 119.2C365.6 139.7 383.2 136.7 390.7 143.2C398.2 149.7 401.2 153.7 405.7 158.2C410.2 162.7 415.2 170.8 417.7 170.3C420.2 169.8 418.2 159.2 420.7 155.2C423.2 151.2 426.7 147.7 432.7 146.2C438.8 144.7 448.8 144.7 456.8 146.2C464.8 147.7 472.8 152.2 480.8 155.2C488.8 158.2 488.3 162.7 504.9 164.2C521.4 165.8 567.5 188.3 580 164.2C592.5 140.2 616.6 44 580 20C543.4 -4 397.2 3.5 360.6 20C324.1 36.5 355.6 98.6 360.6 119.2Z" fill="#5cbbd0"/>
<path d="M360.6 155.2C366.6 149.2 377.7 146.7 384.7 146.2C391.7 145.7 397.7 148.2 402.7 152.2C407.7 156.2 410.7 164.2 414.7 170.3C418.7 176.3 423.7 189.8 426.7 188.3C429.7 186.8 428.7 167.3 432.7 161.2C436.8 155.2 443.8 152.2 450.8 152.2C457.8 152.2 467.3 158.2 474.8 161.2C482.3 164.2 494.9 165.8 495.9 170.3C496.9 174.8 485.3 183.3 480.8 188.3C476.3 193.3 470.8 193.3 468.8 200.3C466.8 207.3 468.8 215.3 468.8 230.4C468.8 245.4 468.3 275.4 468.8 290.5C469.3 305.5 472.8 312.5 471.8 320.5C470.8 328.5 467.3 334.5 462.8 338.5C458.3 342.6 451.8 345.1 444.8 344.6C437.8 344.1 428.7 337.5 420.7 335.5C412.7 333.5 404.7 333 396.7 332.5C388.7 332 380.2 334 372.6 332.5C365.1 331 357.6 327 351.6 323.5C345.6 320 342.1 315 336.6 311.5C331.1 308 324.6 305 318.5 302.5C312.5 300 304.5 299 300.5 296.5C296.5 294 293.5 290.5 294.5 287.5C295.5 284.5 301.5 280.4 306.5 278.4C311.5 276.4 318 275.9 324.6 275.4C331.1 274.9 341.1 277.9 345.6 275.4C350.1 272.9 351.6 265.9 351.6 260.4C351.6 254.9 348.1 248.4 345.6 242.4C343.1 236.4 337.1 230.4 336.6 224.4C336.1 218.3 340.6 213.3 342.6 206.3C344.6 199.3 345.6 190.8 348.6 182.3C351.6 173.8 354.6 161.2 360.6 155.2Z" fill="#c2e7c1"/>
<path d="M366.6 164.2C371.6 157.7 381.7 159.2 387.7 161.2C393.7 163.2 398.2 171.3 402.7 176.3C407.2 181.3 410.7 187.3 414.7 191.3C418.7 195.3 422.7 200.8 426.7 200.3C430.7 199.8 433.7 192.3 438.8 188.3C443.8 184.3 450.8 178.3 456.8 176.3C462.8 174.3 472.8 173.3 474.8 176.3C476.8 179.3 470.8 188.3 468.8 194.3C466.8 200.3 463.3 206.3 462.8 212.3C462.3 218.3 465.8 222.3 465.8 230.4C465.8 238.4 462.8 250.4 462.8 260.4C462.8 270.4 465.3 280.9 465.8 290.5C466.3 300 468.3 310.5 465.8 317.5C463.3 324.5 456.8 330.5 450.8 332.5C444.8 334.5 437.3 330.5 429.7 329.5C422.2 328.5 413.7 327 405.7 326.5C397.7 326 389.2 327.5 381.7 326.5C374.1 325.5 366.6 323.5 360.6 320.5C354.6 317.5 350.6 312 345.6 308.5C340.6 305 336.1 302.5 330.6 299.5C325.1 296.5 314.5 293 312.5 290.5C310.5 288 314.5 286 318.5 284.5C322.6 283 331.1 282.5 336.6 281.5C342.1 280.4 348.1 281.5 351.6 278.4C355.1 275.4 357.1 269.4 357.6 263.4C358.1 257.4 355.6 248.9 354.6 242.4C353.6 235.9 351.1 231.4 351.6 224.4C352.1 217.3 355.1 210.3 357.6 200.3C360.1 190.3 361.6 170.8 366.6 164.2Z" fill="#dcf1d6"/>
<path d="M384.7 188.3C388.7 185.3 397.2 191.3 402.7 194.3C408.2 197.3 412.7 202.3 417.7 206.3C422.7 210.3 427.2 214.8 432.7 218.3C438.3 221.8 445.8 225.4 450.8 227.4C455.8 229.4 462.3 226.9 462.8 230.4C463.3 233.9 456.8 242.4 453.8 248.4C450.8 254.4 445.3 260.4 444.8 266.4C444.3 272.4 450.8 278.4 450.8 284.5C450.8 290.5 448.3 297.5 444.8 302.5C441.3 307.5 434.7 311.5 429.7 314.5C424.7 317.5 421.2 319 414.7 320.5C408.2 322 398.2 323.5 390.7 323.5C383.2 323.5 376.1 323 369.6 320.5C363.1 318 355.1 313 351.6 308.5C348.1 304 347.1 297.5 348.6 293.5C350.1 289.5 356.6 287.5 360.6 284.5C364.6 281.5 369.1 279.9 372.6 275.4C376.1 270.9 380.2 263.9 381.7 257.4C383.2 250.9 382.2 243.9 381.7 236.4C381.2 228.9 378.2 220.3 378.7 212.3C379.2 204.3 380.7 191.3 384.7 188.3Z" fill="#f4faed"/>
<path d="M219.4 257.4C218.4 253.9 228.9 246.4 234.4 242.4C239.9 238.4 246.4 234.4 252.4 233.4C258.4 232.4 265.7 233.9 270.5 236.4C275.2 238.9 280 244.4 281 248.4C282 252.4 279.7 257.4 276.5 260.4C273.2 263.4 267.5 265.9 261.5 266.4C255.4 266.9 247.4 264.9 240.4 263.4C233.4 261.9 220.4 260.9 219.4 257.4Z" fill="#c2e7c1"/>
<path d="M252.4 248.4C253.4 245.6 260.7 242.4 264.5 242.4C268.2 242.4 273.7 245.6 275 248.4C276.2 251.1 274.7 257.2 272 258.9C269.2 260.7 261.7 260.7 258.4 258.9C255.2 257.2 251.4 251.1 252.4 248.4Z" fill="#dcf1d6"/>
<path d="M141.2 323.5C142.2 318.3 146.8 311.8 150.3 308.5C153.8 305.2 159 303.5 162.3 304C165.5 304.5 169.3 307.7 169.8 311.5C170.3 315.3 167.5 322 165.3 326.5C163 331 159.8 336.3 156.3 338.5C152.8 340.8 146.8 342.6 144.2 340.1C141.7 337.5 140.2 328.8 141.2 323.5Z" fill="none" stroke="#c2e7c1" stroke-width="8" stroke-linejoin="round"/>
<path d="M141.2 323.5C142.2 318.3 146.8 311.8 150.3 308.5C153.8 305.2 159 303.5 162.3 304C165.5 304.5 169.3 307.7 169.8 311.5C170.3 315.3 167.5 322 165.3 326.5C163 331 159.8 336.3 156.3 338.5C152.8 340.8 146.8 342.6 144.2 340.1C141.7 337.5 140.2 328.8 141.2 323.5Z" fill="#dcf1d6"/>
<path d="M435.8 332.5C439.3 330.5 455.3 335.5 462.8 338.5C470.3 341.6 479.8 343.6 480.8 350.6C481.8 357.6 476.3 370.6 468.8 380.6C461.3 390.6 444.8 403.7 435.8 410.7C426.7 417.7 422.2 419.2 414.7 422.7C407.2 426.2 399.7 429.2 390.7 431.7C381.7 434.2 369.1 437.2 360.6 437.7C352.1 438.2 342.1 438.7 339.6 434.7C337.1 430.7 342.1 418.7 345.6 413.7C349.1 408.7 355.1 408.2 360.6 404.7C366.1 401.2 372.1 396.1 378.7 392.6C385.2 389.1 392.7 386.1 399.7 383.6C406.7 381.1 414.7 380.6 420.7 377.6C426.7 374.6 432.2 370.1 435.8 365.6C439.3 361.1 441.8 356.1 441.8 350.6C441.8 345.1 432.2 334.5 435.8 332.5Z" fill="#c2e7c1"/>
<path d="M201.3 308.5C203.4 303.5 211.9 300.5 216.4 296.5C220.9 292.5 224.4 287.5 228.4 284.5C232.4 281.5 235.4 279.9 240.4 278.4C245.4 276.9 252.4 275.4 258.4 275.4C264.5 275.4 270.5 276.4 276.5 278.4C282.5 280.4 290.5 284 294.5 287.5C298.5 291 296.5 296.5 300.5 299.5C304.5 302.5 313 303 318.5 305.5C324.1 308 329.1 311.5 333.6 314.5C338.1 317.5 341.1 320.5 345.6 323.5C350.1 326.5 354.1 330.5 360.6 332.5C367.1 334.5 376.6 335 384.7 335.5C392.7 336 401.7 334 408.7 335.5C415.7 337 422.2 341.6 426.7 344.6C431.2 347.6 435.3 350.1 435.8 353.6C436.3 357.1 433.2 362.1 429.7 365.6C426.2 369.1 420.2 372.6 414.7 374.6C409.2 376.6 402.7 376.1 396.7 377.6C390.7 379.1 383.7 380.6 378.7 383.6C373.6 386.6 371.6 392.6 366.6 395.6C361.6 398.7 354.6 400.7 348.6 401.7C342.6 402.7 335.6 403.7 330.6 401.7C325.6 399.7 323.1 392.6 318.5 389.6C314 386.6 308 386.1 303.5 383.6C299 381.1 294.5 378.6 291.5 374.6C288.5 370.6 286 363.6 285.5 359.6C285 355.6 291 353.1 288.5 350.6C286 348.1 276.5 346.1 270.5 344.6C264.5 343.1 258.4 342.6 252.4 341.6C246.4 340.6 240.4 339.6 234.4 338.5C228.4 337.5 221.4 337.5 216.4 335.5C211.4 333.5 206.9 331 204.4 326.5C201.8 322 199.3 313.5 201.3 308.5Z" fill="#5cbbd0"/>
<path d="M300.5 257.4C301 252.9 305.5 248.4 309.5 245.4C313.5 242.4 319.6 239.4 324.6 239.4C329.6 239.4 335.1 242.4 339.6 245.4C344.1 248.4 350.1 252.9 351.6 257.4C353.1 261.9 351.1 268.4 348.6 272.4C346.1 276.4 341.1 280.4 336.6 281.5C332.1 282.5 326.6 279.9 321.6 278.4C316.5 276.9 310 275.9 306.5 272.4C303 268.9 300 261.9 300.5 257.4Z" fill="none" stroke="#93d5b9" stroke-width="10" stroke-linejoin="round"/>
<path d="M300.5 257.4C301 252.9 305.5 248.4 309.5 245.4C313.5 242.4 319.6 239.4 324.6 239.4C329.6 239.4 335.1 242.4 339.6 245.4C344.1 248.4 350.1 252.9 351.6 257.4C353.1 261.9 351.1 268.4 348.6 272.4C346.1 276.4 341.1 280.4 336.6 281.5C332.1 282.5 326.6 279.9 321.6 278.4C316.5 276.9 310 275.9 306.5 272.4C303 268.9 300 261.9 300.5 257.4Z" fill="#5cbbd0"/>
<path d="M318.5 260.4C319.3 257.7 323.1 253.9 326.1 252.9C329.1 251.9 333.6 252.9 336.6 254.4C339.6 255.9 343.3 259.2 344.1 261.9C344.8 264.7 343.3 269.2 341.1 270.9C338.8 272.7 333.8 272.7 330.6 272.4C327.3 272.2 323.6 271.4 321.6 269.4C319.6 267.4 317.8 263.2 318.5 260.4Z" fill="#3a9acb"/>
<path d="M237.4 296.5C238.7 292.5 242.4 287 246.4 284.5C250.4 282 256.9 280.9 261.5 281.5C266 282 271 284.5 273.5 287.5C276 290.5 277 295.5 276.5 299.5C276 303.5 273.5 308 270.5 311.5C267.5 315 262.5 319.5 258.4 320.5C254.4 321.5 249.7 319.5 246.4 317.5C243.2 315.5 240.4 312 238.9 308.5C237.4 305 236.2 300.5 237.4 296.5Z" fill="#3a9acb"/>
<path d="M345.6 347.6C347.8 345.3 352.6 343.6 357.6 343.1C362.6 342.6 369.6 343.8 375.6 344.6C381.7 345.3 387.7 346.6 393.7 347.6C399.7 348.6 408 348.6 411.7 350.6C415.5 352.6 417.2 356.6 416.2 359.6C415.2 362.6 410.5 366.6 405.7 368.6C400.9 370.6 394.2 371.1 387.7 371.6C381.2 372.1 372.6 372.6 366.6 371.6C360.6 370.6 355.4 368.1 351.6 365.6C347.8 363.1 345.1 359.6 344.1 356.6C343.1 353.6 343.3 349.8 345.6 347.6Z" fill="#3a9acb"/>
<path d="M336.6 446.1C342.6 441 366.6 441 372.6 446.1C378.7 451.2 378.7 471.7 372.6 476.8C366.6 481.9 342.6 481.9 336.6 476.8C330.6 471.7 330.6 451.2 336.6 446.1Z" fill="#c2e7c1"/>
<path d="M459.8 371.6C464.3 364.1 482.3 364.1 486.8 371.6C491.3 379.1 491.3 409.2 486.8 416.7C482.3 424.2 464.3 424.2 459.8 416.7C455.3 409.2 455.3 379.1 459.8 371.6Z" fill="#c2e7c1"/>
<use href="#mesh"/>
</g>
<use href="#ov"/>
<path d="M501.8 368.6L541 368.6L538 372L533 376L527 378.5L521 380L517 381L516.5 385L513 385.5L512.5 381.5L507 381.3L501.8 380.5Z" fill="#c2e7c1"/><path d="M508 392L510 388.5L514.5 387.3L517 388.5L516 392L513 394.5L509.5 395Z" fill="#c2e7c1"/><path d="M548 368.6L556 368.6L555.5 372L553 374.5L550 372.5Z" fill="#c2e7c1"/><path d="M541 368.6L538 372L533 376L527 378.5L521 380L517 381L516.5 385L513 385.5" fill="none" stroke="#38c8f4" stroke-width="1" stroke-dasharray="1.4 1"/>
<text class="lb" x="463.5" y="207">Changshan Qundao</text><text class="lb" x="478.5" y="320.9">Zhoushan Qundao</text><text class="lb" x="494.5" y="355.8">Chiwei Yu</text><text class="lb" x="470.5" y="363.2">Diaoyu Dao</text><text class="lb" x="471.5" y="396.6">Taiwan Dao</text><text class="lb" x="483.8" y="407.6">Lan Yu</text><text class="lb" x="411" y="437">Dongsha Qundao</text><text class="lb" x="366.3" y="457.9">Hainan Dao</text><text class="sea" x="428.5" y="220.9">Bo Hai</text><text class="sea" x="451.8" y="258.3">Yellow Sea</text><text class="sea" x="487.5" y="333.4">East China Sea</text><text class="sea" x="378.8" y="465.3">South China Sea</text><text x="536" y="384.8" font-size="2.3" font-style="italic" fill="#444">Dongsha Qundao</text><text x="519" y="388.3" font-size="2.3" font-style="italic" fill="#444">Hainan Dao</text><text x="518.5" y="396" font-size="2.3" font-style="italic" fill="#444">Xisha Qundao</text><text x="531" y="401.6" font-size="2.3" font-style="italic" fill="#444">Zhongsha Qundao</text><text x="536" y="406.6" font-size="2.3" font-style="italic" fill="#444">Huangyan Dao</text><text x="523.5" y="416.3" font-size="2.8" font-style="italic" fill="#3cc0f0">South China Sea</text><text x="527.5" y="428.3" font-size="2.3" font-style="italic" fill="#444">Nansha Qundao</text><text x="514.5" y="449.6" font-size="2.3" font-style="italic" fill="#444">Zengmu Ansha</text><text x="548.5" y="374.6" font-size="2.3" font-style="italic" fill="#444">Taiwan Dao</text><text class="sb" x="6" y="451.8">0</text><text class="sb" x="53.3" y="451.8">500 km</text><text x="535.2" y="458.2" font-size="4.6" fill="#333">0</text><text x="551.6" y="458.2" font-size="4.6" fill="#333">400 km</text>
<text class="t1" x="7" y="30.6">f. Desert</text>
<text class="cn" x="8.3" y="62.6">&#9312;</text><text class="t2" x="28.4" y="63">Coefficient</text>
</g>
<g transform="translate(1772 935.8)">
<use href="#halo"/>
<use href="#cn" fill="#fff"/>
<g clip-path="url(#cp)">
<rect x="0" y="30" width="560" height="450" fill="#d3eafc"/>
<path d="M0 20C45.1 -28.1 225.9 -7 270.5 20C315 47 269.5 152.2 267.5 182.3C265.5 212.3 263 194.3 258.4 200.3C253.9 206.3 247.4 214.3 240.4 218.3C233.4 222.3 224.4 221.8 216.4 224.4C208.4 226.9 200.3 230.4 192.3 233.4C184.3 236.4 175.8 239.9 168.3 242.4C160.8 244.9 153.3 244.9 147.3 248.4C141.2 251.9 137.2 258.4 132.2 263.4C127.2 268.4 122.7 273.4 117.2 278.4C111.7 283.5 105.2 289 99.2 293.5C93.2 298 85.6 303 81.1 305.5C76.6 308 85.6 308 72.1 308.5C58.6 309 12 356.6 0 308.5C-12 260.4 -45.1 68.1 0 20Z" fill="#6fb4e1"/>
<path d="M276.5 182.3C276.5 184.8 284.5 196.3 288.5 200.3C292.5 204.3 295.5 204.3 300.5 206.3C305.5 208.3 314 212.3 318.5 212.3C323.1 212.3 325.1 209.3 327.6 206.3C330.1 203.3 332.1 198.8 333.6 194.3C335.1 189.8 339.1 181.8 336.6 179.3C334.1 176.8 324.6 177.8 318.5 179.3C312.5 180.8 305.5 187.3 300.5 188.3C295.5 189.3 292.5 186.3 288.5 185.3C284.5 184.3 276.5 179.8 276.5 182.3Z" fill="#6fb4e1"/>
<path d="M360.6 119.2C367.1 138.2 389.7 131.7 399.7 134.2C409.7 136.7 413.2 133.2 420.7 134.2C428.2 135.2 436.8 138.2 444.8 140.2C452.8 142.2 460.8 144.2 468.8 146.2C476.8 148.2 485.8 151.2 492.8 152.2C499.9 153.2 496.4 152.2 510.9 152.2C525.4 152.2 568.5 174.3 580 152.2C591.5 130.2 616.6 42 580 20C543.4 -2 397.2 3.5 360.6 20C324.1 36.5 354.1 100.1 360.6 119.2Z" fill="#6fb4e1"/>
<path d="M381.7 188.3C383.2 184.3 388.7 181.8 393.7 182.3C398.7 182.8 406.7 188.3 411.7 191.3C416.7 194.3 421.2 196.8 423.7 200.3C426.2 203.8 427.2 209.3 426.7 212.3C426.2 215.3 419.7 215.3 420.7 218.3C421.7 221.3 427.7 228.9 432.7 230.4C437.8 231.9 445.8 227.4 450.8 227.4C455.8 227.4 462.8 227.4 462.8 230.4C462.8 233.4 454.3 240.4 450.8 245.4C447.3 250.4 441.8 255.4 441.8 260.4C441.8 265.4 448.8 270.9 450.8 275.4C452.8 279.9 455.3 283.5 453.8 287.5C452.3 291.5 446.3 296.5 441.8 299.5C437.3 302.5 431.7 304 426.7 305.5C421.7 307 415.7 306.5 411.7 308.5C407.7 310.5 407.2 315.5 402.7 317.5C398.2 319.5 390.7 320.5 384.7 320.5C378.7 320.5 371.6 320 366.6 317.5C361.6 315 357.1 310 354.6 305.5C352.1 301 350.1 294.5 351.6 290.5C353.1 286.5 359.1 282.5 363.6 281.5C368.1 280.4 374.6 285 378.7 284.5C382.7 284 387.7 280.9 387.7 278.4C387.7 275.9 382.2 272.4 378.7 269.4C375.1 266.4 369.6 263.9 366.6 260.4C363.6 256.9 362.6 252.4 360.6 248.4C358.6 244.4 353.6 239.9 354.6 236.4C355.6 232.9 362.1 229.4 366.6 227.4C371.1 225.4 378.7 227.9 381.7 224.4C384.7 220.8 384.7 212.3 384.7 206.3C384.7 200.3 380.2 192.3 381.7 188.3Z" fill="#6fb4e1"/>
<path d="M207.4 320.5C205.4 316.5 207.9 309.5 210.4 305.5C212.9 301.5 219.4 301 222.4 296.5C225.4 292 224.9 283 228.4 278.4C231.9 273.9 237.4 270.9 243.4 269.4C249.4 267.9 258.4 268.4 264.5 269.4C270.5 270.4 274.5 275.4 279.5 275.4C284.5 275.4 290.5 272.4 294.5 269.4C298.5 266.4 300 260.9 303.5 257.4C307 253.9 310.5 249.4 315.5 248.4C320.6 247.4 328.1 249.9 333.6 251.4C339.1 252.9 345.8 254.4 348.6 257.4C351.4 260.4 351.6 266.2 350.1 269.4C348.6 272.7 343.8 276.4 339.6 276.9C335.3 277.4 329.6 273.7 324.6 272.4C319.6 271.2 314 268.9 309.5 269.4C305 269.9 300.5 272.4 297.5 275.4C294.5 278.4 291.5 283.5 291.5 287.5C291.5 291.5 294 296 297.5 299.5C301 303 307.5 306 312.5 308.5C317.5 311 323.1 312 327.6 314.5C332.1 317 336.1 320 339.6 323.5C343.1 327 344.1 333 348.6 335.5C353.1 338 360.1 338 366.6 338.5C373.1 339.1 381.2 337.5 387.7 338.5C394.2 339.6 400.2 342.6 405.7 344.6C411.2 346.6 418.2 347.6 420.7 350.6C423.2 353.6 422.7 359.1 420.7 362.6C418.7 366.1 413.7 369.6 408.7 371.6C403.7 373.6 397.2 373.6 390.7 374.6C384.2 375.6 376.6 376.6 369.6 377.6C362.6 378.6 355.6 380.6 348.6 380.6C341.6 380.6 334.6 377.6 327.6 377.6C320.6 377.6 312 381.6 306.5 380.6C301 379.6 297.5 375.6 294.5 371.6C291.5 367.6 291.5 361.1 288.5 356.6C285.5 352.1 281.5 348.1 276.5 344.6C271.5 341.1 264.5 338.5 258.4 335.5C252.4 332.5 246.4 327.5 240.4 326.5C234.4 325.5 227.9 330.5 222.4 329.5C216.9 328.5 209.4 324.5 207.4 320.5Z" fill="#6fb4e1"/>
<path d="M327.6 389.6C327.8 387.1 334.1 381.4 336.6 380.6C339.1 379.9 342.8 382.6 342.6 385.1C342.3 387.6 337.6 394.9 335.1 395.6C332.6 396.4 327.3 392.1 327.6 389.6Z" fill="#6fb4e1"/>
<path d="M414.7 404.7C416.2 401.7 422.7 396.6 426.7 392.6C430.7 388.6 435.3 383.6 438.8 380.6C442.3 377.6 445.8 374.6 447.8 374.6C449.8 374.6 452.3 377.6 450.8 380.6C449.3 383.6 442.8 388.6 438.8 392.6C434.7 396.6 430.2 401.7 426.7 404.7C423.2 407.7 419.7 410.7 417.7 410.7C415.7 410.7 413.2 407.7 414.7 404.7Z" fill="#6fb4e1"/>
<path d="M459.8 371.6C464.3 364.1 482.3 364.1 486.8 371.6C491.3 379.1 491.3 409.2 486.8 416.7C482.3 424.2 464.3 424.2 459.8 416.7C455.3 409.2 455.3 379.1 459.8 371.6Z" fill="#6fb4e1"/>
<use href="#mesh"/>
</g>
<use href="#ov"/>
<path d="M501.8 368.6L541 368.6L538 372L533 376L527 378.5L521 380L517 381L516.5 385L513 385.5L512.5 381.5L507 381.3L501.8 380.5Z" fill="#d3eafc"/><path d="M508 392L510 388.5L514.5 387.3L517 388.5L516 392L513 394.5L509.5 395Z" fill="#d3eafc"/><path d="M548 368.6L556 368.6L555.5 372L553 374.5L550 372.5Z" fill="#6fb4e1"/><path d="M541 368.6L538 372L533 376L527 378.5L521 380L517 381L516.5 385L513 385.5" fill="none" stroke="#38c8f4" stroke-width="1" stroke-dasharray="1.4 1"/>
<text class="lb" x="463.5" y="207">Changshan Qundao</text><text class="lb" x="478.5" y="320.9">Zhoushan Qundao</text><text class="lb" x="494.5" y="355.8">Chiwei Yu</text><text class="lb" x="470.5" y="363.2">Diaoyu Dao</text><text class="lb" x="471.5" y="396.6">Taiwan Dao</text><text class="lb" x="483.8" y="407.6">Lan Yu</text><text class="lb" x="411" y="437">Dongsha Qundao</text><text class="lb" x="366.3" y="457.9">Hainan Dao</text><text class="sea" x="428.5" y="220.9">Bo Hai</text><text class="sea" x="451.8" y="258.3">Yellow Sea</text><text class="sea" x="487.5" y="333.4">East China Sea</text><text class="sea" x="378.8" y="465.3">South China Sea</text><text x="536" y="384.8" font-size="2.3" font-style="italic" fill="#444">Dongsha Qundao</text><text x="519" y="388.3" font-size="2.3" font-style="italic" fill="#444">Hainan Dao</text><text x="518.5" y="396" font-size="2.3" font-style="italic" fill="#444">Xisha Qundao</text><text x="531" y="401.6" font-size="2.3" font-style="italic" fill="#444">Zhongsha Qundao</text><text x="536" y="406.6" font-size="2.3" font-style="italic" fill="#444">Huangyan Dao</text><text x="523.5" y="416.3" font-size="2.8" font-style="italic" fill="#3cc0f0">South China Sea</text><text x="527.5" y="428.3" font-size="2.3" font-style="italic" fill="#444">Nansha Qundao</text><text x="514.5" y="449.6" font-size="2.3" font-style="italic" fill="#444">Zengmu Ansha</text><text x="548.5" y="374.6" font-size="2.3" font-style="italic" fill="#444">Taiwan Dao</text><text class="sb" x="6" y="451.8">0</text><text class="sb" x="53.3" y="451.8">500 km</text><text x="535.2" y="458.2" font-size="4.6" fill="#333">0</text><text x="551.6" y="458.2" font-size="4.6" fill="#333">400 km</text>
<text class="cn" x="8.8" y="62.6">&#9313;</text><text class="t2" x="28.6" y="63">P-value</text>
</g>
<g transform="translate(0 1408)">
<use href="#halo"/>
<use href="#cn" fill="#fff"/>
<g clip-path="url(#cp)">
<rect x="0" y="30" width="560" height="450" fill="#f4faed"/>
<path d="M360.6 119.2C367.6 138.2 394.2 128.7 402.7 134.2C411.2 139.7 410.7 146.2 411.7 152.2C412.7 158.2 410.2 164.2 408.7 170.3C407.2 176.3 405.7 183.3 402.7 188.3C399.7 193.3 395.7 196.8 390.7 200.3C385.7 203.8 376.6 206.8 372.6 209.3C368.6 211.8 365.6 213.3 366.6 215.3C367.6 217.3 373.1 221.3 378.7 221.3C384.2 221.3 393.2 216.8 399.7 215.3C406.2 213.8 412.7 213.8 417.7 212.3C422.7 210.8 402.7 207.3 429.7 206.3C456.8 205.3 555 237.4 580 206.3C605 175.3 616.6 51.1 580 20C543.4 -11.1 397.2 3.5 360.6 20C324.1 36.5 353.6 100.1 360.6 119.2Z" fill="none" stroke="#dcf1d6" stroke-width="30" stroke-linejoin="round"/>
<path d="M360.6 119.2C367.6 138.2 394.2 128.7 402.7 134.2C411.2 139.7 410.7 146.2 411.7 152.2C412.7 158.2 410.2 164.2 408.7 170.3C407.2 176.3 405.7 183.3 402.7 188.3C399.7 193.3 395.7 196.8 390.7 200.3C385.7 203.8 376.6 206.8 372.6 209.3C368.6 211.8 365.6 213.3 366.6 215.3C367.6 217.3 373.1 221.3 378.7 221.3C384.2 221.3 393.2 216.8 399.7 215.3C406.2 213.8 412.7 213.8 417.7 212.3C422.7 210.8 402.7 207.3 429.7 206.3C456.8 205.3 555 237.4 580 206.3C605 175.3 616.6 51.1 580 20C543.4 -11.1 397.2 3.5 360.6 20C324.1 36.5 353.6 100.1 360.6 119.2Z" fill="none" stroke="#c2e7c1" stroke-width="18" stroke-linejoin="round"/>
<path d="M360.6 119.2C367.6 138.2 394.2 128.7 402.7 134.2C411.2 139.7 410.7 146.2 411.7 152.2C412.7 158.2 410.2 164.2 408.7 170.3C407.2 176.3 405.7 183.3 402.7 188.3C399.7 193.3 395.7 196.8 390.7 200.3C385.7 203.8 376.6 206.8 372.6 209.3C368.6 211.8 365.6 213.3 366.6 215.3C367.6 217.3 373.1 221.3 378.7 221.3C384.2 221.3 393.2 216.8 399.7 215.3C406.2 213.8 412.7 213.8 417.7 212.3C422.7 210.8 402.7 207.3 429.7 206.3C456.8 205.3 555 237.4 580 206.3C605 175.3 616.6 51.1 580 20C543.4 -11.1 397.2 3.5 360.6 20C324.1 36.5 353.6 100.1 360.6 119.2Z" fill="none" stroke="#93d5b9" stroke-width="8" stroke-linejoin="round"/>
<path d="M360.6 119.2C367.6 138.2 394.2 128.7 402.7 134.2C411.2 139.7 410.7 146.2 411.7 152.2C412.7 158.2 410.2 164.2 408.7 170.3C407.2 176.3 405.7 183.3 402.7 188.3C399.7 193.3 395.7 196.8 390.7 200.3C385.7 203.8 376.6 206.8 372.6 209.3C368.6 211.8 365.6 213.3 366.6 215.3C367.6 217.3 373.1 221.3 378.7 221.3C384.2 221.3 393.2 216.8 399.7 215.3C406.2 213.8 412.7 213.8 417.7 212.3C422.7 210.8 402.7 207.3 429.7 206.3C456.8 205.3 555 237.4 580 206.3C605 175.3 616.6 51.1 580 20C543.4 -11.1 397.2 3.5 360.6 20C324.1 36.5 353.6 100.1 360.6 119.2Z" fill="#5cbbd0"/>
<path d="M456.8 68.1C456.8 71.6 464.8 74.1 468.8 80.1C472.8 86.1 476.3 96.6 480.8 104.1C485.3 111.7 490.8 119.2 495.9 125.2C500.9 131.2 506.4 136.7 510.9 140.2C515.4 143.7 517.9 151.2 522.9 146.2C527.9 141.2 538.9 122.2 540.9 110.2C542.9 98.1 539.9 77.6 534.9 74.1C529.9 70.6 518.9 89.1 510.9 89.1C502.9 89.1 493.9 79.1 486.8 74.1C479.8 69.1 473.8 60.1 468.8 59.1C463.8 58.1 456.8 64.6 456.8 68.1Z" fill="#3a9acb"/>
<path d="M417.7 170.3C418.7 165.8 424.7 165.3 429.7 164.2C434.7 163.2 442.8 162.7 447.8 164.2C452.8 165.8 457.3 169.3 459.8 173.3C462.3 177.3 464.3 184.3 462.8 188.3C461.3 192.3 455.3 195.3 450.8 197.3C446.3 199.3 440.3 201.3 435.8 200.3C431.2 199.3 426.7 196.3 423.7 191.3C420.7 186.3 416.7 174.8 417.7 170.3Z" fill="#3a9acb"/>
<path d="M192.3 484C127.7 461.3 191.3 373.3 192.3 347.6C193.3 321.8 196.3 335 198.3 329.5C200.3 324 201.3 320 204.4 314.5C207.4 309 211.4 301.5 216.4 296.5C221.4 291.5 227.9 287.5 234.4 284.5C240.9 281.5 248.4 280.4 255.4 278.4C262.5 276.4 270 275.4 276.5 272.4C283 269.4 288.5 264.4 294.5 260.4C300.5 256.4 307.5 251.9 312.5 248.4C317.5 244.9 320.1 240.9 324.6 239.4C329.1 237.9 334.6 237.9 339.6 239.4C344.6 240.9 350.1 244.9 354.6 248.4C359.1 251.9 363.6 255.4 366.6 260.4C369.6 265.4 371.1 272.4 372.6 278.4C374.1 284.5 373.1 292 375.6 296.5C378.2 301 382.7 305 387.7 305.5C392.7 306 399.2 302 405.7 299.5C412.2 297 419.2 292.2 426.7 290.5C434.2 288.7 443.8 288.5 450.8 289C457.8 289.5 447.3 292.7 468.8 293.5C490.3 294.2 561.5 261.7 580 293.5C598.5 325.2 644.6 452.2 580 484C515.4 515.8 256.9 506.7 192.3 484Z" fill="none" stroke="#dcf1d6" stroke-width="60" stroke-linejoin="round"/>
<path d="M192.3 484C127.7 461.3 191.3 373.3 192.3 347.6C193.3 321.8 196.3 335 198.3 329.5C200.3 324 201.3 320 204.4 314.5C207.4 309 211.4 301.5 216.4 296.5C221.4 291.5 227.9 287.5 234.4 284.5C240.9 281.5 248.4 280.4 255.4 278.4C262.5 276.4 270 275.4 276.5 272.4C283 269.4 288.5 264.4 294.5 260.4C300.5 256.4 307.5 251.9 312.5 248.4C317.5 244.9 320.1 240.9 324.6 239.4C329.1 237.9 334.6 237.9 339.6 239.4C344.6 240.9 350.1 244.9 354.6 248.4C359.1 251.9 363.6 255.4 366.6 260.4C369.6 265.4 371.1 272.4 372.6 278.4C374.1 284.5 373.1 292 375.6 296.5C378.2 301 382.7 305 387.7 305.5C392.7 306 399.2 302 405.7 299.5C412.2 297 419.2 292.2 426.7 290.5C434.2 288.7 443.8 288.5 450.8 289C457.8 289.5 447.3 292.7 468.8 293.5C490.3 294.2 561.5 261.7 580 293.5C598.5 325.2 644.6 452.2 580 484C515.4 515.8 256.9 506.7 192.3 484Z" fill="none" stroke="#c2e7c1" stroke-width="36" stroke-linejoin="round"/>
<path d="M192.3 484C127.7 461.3 191.3 373.3 192.3 347.6C193.3 321.8 196.3 335 198.3 329.5C200.3 324 201.3 320 204.4 314.5C207.4 309 211.4 301.5 216.4 296.5C221.4 291.5 227.9 287.5 234.4 284.5C240.9 281.5 248.4 280.4 255.4 278.4C262.5 276.4 270 275.4 276.5 272.4C283 269.4 288.5 264.4 294.5 260.4C300.5 256.4 307.5 251.9 312.5 248.4C317.5 244.9 320.1 240.9 324.6 239.4C329.1 237.9 334.6 237.9 339.6 239.4C344.6 240.9 350.1 244.9 354.6 248.4C359.1 251.9 363.6 255.4 366.6 260.4C369.6 265.4 371.1 272.4 372.6 278.4C374.1 284.5 373.1 292 375.6 296.5C378.2 301 382.7 305 387.7 305.5C392.7 306 399.2 302 405.7 299.5C412.2 297 419.2 292.2 426.7 290.5C434.2 288.7 443.8 288.5 450.8 289C457.8 289.5 447.3 292.7 468.8 293.5C490.3 294.2 561.5 261.7 580 293.5C598.5 325.2 644.6 452.2 580 484C515.4 515.8 256.9 506.7 192.3 484Z" fill="none" stroke="#93d5b9" stroke-width="24" stroke-linejoin="round"/>
<path d="M192.3 484C127.7 461.3 191.3 373.3 192.3 347.6C193.3 321.8 196.3 335 198.3 329.5C200.3 324 201.3 320 204.4 314.5C207.4 309 211.4 301.5 216.4 296.5C221.4 291.5 227.9 287.5 234.4 284.5C240.9 281.5 248.4 280.4 255.4 278.4C262.5 276.4 270 275.4 276.5 272.4C283 269.4 288.5 264.4 294.5 260.4C300.5 256.4 307.5 251.9 312.5 248.4C317.5 244.9 320.1 240.9 324.6 239.4C329.1 237.9 334.6 237.9 339.6 239.4C344.6 240.9 350.1 244.9 354.6 248.4C359.1 251.9 363.6 255.4 366.6 260.4C369.6 265.4 371.1 272.4 372.6 278.4C374.1 284.5 373.1 292 375.6 296.5C378.2 301 382.7 305 387.7 305.5C392.7 306 399.2 302 405.7 299.5C412.2 297 419.2 292.2 426.7 290.5C434.2 288.7 443.8 288.5 450.8 289C457.8 289.5 447.3 292.7 468.8 293.5C490.3 294.2 561.5 261.7 580 293.5C598.5 325.2 644.6 452.2 580 484C515.4 515.8 256.9 506.7 192.3 484Z" fill="none" stroke="#5cbbd0" stroke-width="14" stroke-linejoin="round"/>
<path d="M192.3 484C127.7 461.3 191.3 373.3 192.3 347.6C193.3 321.8 196.3 335 198.3 329.5C200.3 324 201.3 320 204.4 314.5C207.4 309 211.4 301.5 216.4 296.5C221.4 291.5 227.9 287.5 234.4 284.5C240.9 281.5 248.4 280.4 255.4 278.4C262.5 276.4 270 275.4 276.5 272.4C283 269.4 288.5 264.4 294.5 260.4C300.5 256.4 307.5 251.9 312.5 248.4C317.5 244.9 320.1 240.9 324.6 239.4C329.1 237.9 334.6 237.9 339.6 239.4C344.6 240.9 350.1 244.9 354.6 248.4C359.1 251.9 363.6 255.4 366.6 260.4C369.6 265.4 371.1 272.4 372.6 278.4C374.1 284.5 373.1 292 375.6 296.5C378.2 301 382.7 305 387.7 305.5C392.7 306 399.2 302 405.7 299.5C412.2 297 419.2 292.2 426.7 290.5C434.2 288.7 443.8 288.5 450.8 289C457.8 289.5 447.3 292.7 468.8 293.5C490.3 294.2 561.5 261.7 580 293.5C598.5 325.2 644.6 452.2 580 484C515.4 515.8 256.9 506.7 192.3 484Z" fill="#3a9acb"/>
<path d="M237.4 302.5C238.9 299 244.9 294 249.4 290.5C253.9 287 258.9 284 264.5 281.5C270 278.9 277 277.9 282.5 275.4C288 272.9 292.5 269.4 297.5 266.4C302.5 263.4 308 260.4 312.5 257.4C317 254.4 320.1 250.4 324.6 248.4C329.1 246.4 335.1 244.4 339.6 245.4C344.1 246.4 348.1 250.9 351.6 254.4C355.1 257.9 358.1 261.9 360.6 266.4C363.1 270.9 365.1 275.9 366.6 281.5C368.1 287 367.1 295 369.6 299.5C372.1 304 376.6 307.5 381.7 308.5C386.7 309.5 393.7 307.5 399.7 305.5C405.7 303.5 411.7 299 417.7 296.5C423.7 294 429.7 291 435.8 290.5C441.8 290 448.8 291.5 453.8 293.5C458.8 295.5 463.3 298.5 465.8 302.5C468.3 306.5 469.8 312 468.8 317.5C467.8 323 463.3 330.5 459.8 335.5C456.3 340.6 452.3 344.1 447.8 347.6C443.3 351.1 436.8 353.1 432.7 356.6C428.7 360.1 427.2 365.1 423.7 368.6C420.2 372.1 416.7 376.6 411.7 377.6C406.7 378.6 399.7 376.1 393.7 374.6C387.7 373.1 381.7 370.1 375.6 368.6C369.6 367.1 363.6 367.1 357.6 365.6C351.6 364.1 345.1 362.6 339.6 359.6C334.1 356.6 329.1 348.1 324.6 347.6C320.1 347.1 315.5 353.1 312.5 356.6C309.5 360.1 309.5 366.1 306.5 368.6C303.5 371.1 299.5 372.1 294.5 371.6C289.5 371.1 281.5 368.6 276.5 365.6C271.5 362.6 267.5 358.6 264.5 353.6C261.5 348.6 260.4 341.1 258.4 335.5C256.4 330 255.4 324.5 252.4 320.5C249.4 316.5 242.9 314.5 240.4 311.5C237.9 308.5 235.9 306 237.4 302.5Z" fill="#1b6fb6"/>
<path d="M294.5 290.5C296 287 301.5 282.5 306.5 278.4C311.5 274.4 319.1 269.4 324.6 266.4C330.1 263.4 335.1 260.4 339.6 260.4C344.1 260.4 348.6 262.9 351.6 266.4C354.6 269.9 356.1 276.4 357.6 281.5C359.1 286.5 360.6 291.5 360.6 296.5C360.6 301.5 359.6 307 357.6 311.5C355.6 316 352.6 321.5 348.6 323.5C344.6 325.5 338.6 324.5 333.6 323.5C328.6 322.5 323.1 320 318.5 317.5C314 315 310 311.5 306.5 308.5C303 305.5 299.5 302.5 297.5 299.5C295.5 296.5 293 294 294.5 290.5Z" fill="#0b4789"/>
<path d="M426.7 316C427.2 313.5 430.7 310 432.7 310C434.7 310 438 313.8 438.8 316C439.5 318.3 438.8 322 437.3 323.5C435.8 325 431.5 326.3 429.7 325C428 323.8 426.2 318.5 426.7 316Z" fill="#0b4789"/>
<path d="M324.6 380.6C324.6 377.1 327.6 371.1 330.6 368.6C333.6 366.1 339.1 364.6 342.6 365.6C346.1 366.6 351.1 371.1 351.6 374.6C352.1 378.1 349.1 384.1 345.6 386.6C342.1 389.1 334.1 390.6 330.6 389.6C327.1 388.6 324.6 384.1 324.6 380.6Z" fill="none" stroke="#5cbbd0" stroke-width="8" stroke-linejoin="round"/>
<path d="M324.6 380.6C324.6 377.1 327.6 371.1 330.6 368.6C333.6 366.1 339.1 364.6 342.6 365.6C346.1 366.6 351.1 371.1 351.6 374.6C352.1 378.1 349.1 384.1 345.6 386.6C342.1 389.1 334.1 390.6 330.6 389.6C327.1 388.6 324.6 384.1 324.6 380.6Z" fill="#93d5b9"/>
<path d="M375.6 392.6C376.9 388.6 384.2 385.6 387.7 386.6C391.2 387.6 394.7 394.1 396.7 398.7C398.7 403.2 400.7 409.7 399.7 413.7C398.7 417.7 393.9 423.2 390.7 422.7C387.4 422.2 382.7 415.7 380.2 410.7C377.7 405.7 374.4 396.6 375.6 392.6Z" fill="none" stroke="#5cbbd0" stroke-width="10" stroke-linejoin="round"/>
<path d="M375.6 392.6C376.9 388.6 384.2 385.6 387.7 386.6C391.2 387.6 394.7 394.1 396.7 398.7C398.7 403.2 400.7 409.7 399.7 413.7C398.7 417.7 393.9 423.2 390.7 422.7C387.4 422.2 382.7 415.7 380.2 410.7C377.7 405.7 374.4 396.6 375.6 392.6Z" fill="none" stroke="#93d5b9" stroke-width="5" stroke-linejoin="round"/>
<path d="M375.6 392.6C376.9 388.6 384.2 385.6 387.7 386.6C391.2 387.6 394.7 394.1 396.7 398.7C398.7 403.2 400.7 409.7 399.7 413.7C398.7 417.7 393.9 423.2 390.7 422.7C387.4 422.2 382.7 415.7 380.2 410.7C377.7 405.7 374.4 396.6 375.6 392.6Z" fill="#c2e7c1"/>
<path d="M312.5 407.7C313 403.9 320.6 400.9 324.6 400.2C328.6 399.4 333.6 400.9 336.6 403.2C339.6 405.4 342.6 410.2 342.6 413.7C342.6 417.2 340.1 422.7 336.6 424.2C333.1 425.7 325.6 425.4 321.6 422.7C317.5 419.9 312 411.4 312.5 407.7Z" fill="#1b6fb6"/>
<path d="M336.6 446.1C342.6 441 366.6 441 372.6 446.1C378.7 451.2 378.7 471.7 372.6 476.8C366.6 481.9 342.6 481.9 336.6 476.8C330.6 471.7 330.6 451.2 336.6 446.1Z" fill="#c2e7c1"/>
<path d="M459.8 371.6C464.3 364.1 482.3 364.1 486.8 371.6C491.3 379.1 491.3 409.2 486.8 416.7C482.3 424.2 464.3 424.2 459.8 416.7C455.3 409.2 455.3 379.1 459.8 371.6Z" fill="#3a9acb"/>
<use href="#mesh"/>
</g>
<use href="#ov"/>
<path d="M501.8 368.6L541 368.6L538 372L533 376L527 378.5L521 380L517 381L516.5 385L513 385.5L512.5 381.5L507 381.3L501.8 380.5Z" fill="#3a9acb"/><path d="M508 392L510 388.5L514.5 387.3L517 388.5L516 392L513 394.5L509.5 395Z" fill="#c2e7c1"/><path d="M548 368.6L556 368.6L555.5 372L553 374.5L550 372.5Z" fill="#3a9acb"/><path d="M541 368.6L538 372L533 376L527 378.5L521 380L517 381L516.5 385L513 385.5" fill="none" stroke="#38c8f4" stroke-width="1" stroke-dasharray="1.4 1"/>
<text class="lb" x="463.5" y="207">Changshan Qundao</text><text class="lb" x="478.5" y="320.9">Zhoushan Qundao</text><text class="lb" x="494.5" y="355.8">Chiwei Yu</text><text class="lb" x="470.5" y="363.2">Diaoyu Dao</text><text class="lb" x="471.5" y="396.6">Taiwan Dao</text><text class="lb" x="483.8" y="407.6">Lan Yu</text><text class="lb" x="411" y="437">Dongsha Qundao</text><text class="lb" x="366.3" y="457.9">Hainan Dao</text><text class="sea" x="428.5" y="220.9">Bo Hai</text><text class="sea" x="451.8" y="258.3">Yellow Sea</text><text class="sea" x="487.5" y="333.4">East China Sea</text><text class="sea" x="378.8" y="465.3">South China Sea</text><text x="536" y="384.8" font-size="2.3" font-style="italic" fill="#444">Dongsha Qundao</text><text x="519" y="388.3" font-size="2.3" font-style="italic" fill="#444">Hainan Dao</text><text x="518.5" y="396" font-size="2.3" font-style="italic" fill="#444">Xisha Qundao</text><text x="531" y="401.6" font-size="2.3" font-style="italic" fill="#444">Zhongsha Qundao</text><text x="536" y="406.6" font-size="2.3" font-style="italic" fill="#444">Huangyan Dao</text><text x="523.5" y="416.3" font-size="2.8" font-style="italic" fill="#3cc0f0">South China Sea</text><text x="527.5" y="428.3" font-size="2.3" font-style="italic" fill="#444">Nansha Qundao</text><text x="514.5" y="449.6" font-size="2.3" font-style="italic" fill="#444">Zengmu Ansha</text><text x="548.5" y="374.6" font-size="2.3" font-style="italic" fill="#444">Taiwan Dao</text><text class="sb" x="6" y="451.8">0</text><text class="sb" x="53.3" y="451.8">500 km</text><text x="535.2" y="458.2" font-size="4.6" fill="#333">0</text><text x="551.6" y="458.2" font-size="4.6" fill="#333">400 km</text>
<text class="t1" x="7" y="30.6">g. Water</text>
<text class="cn" x="8.3" y="62.6">&#9312;</text><text class="t2" x="28.4" y="63">Coefficient</text>
</g>
<g transform="translate(580.5 1408)">
<use href="#halo"/>
<use href="#cn" fill="#fff"/>
<g clip-path="url(#cp)">
<rect x="0" y="30" width="560" height="450" fill="#6fb4e1"/>
<path d="M144.2 338.5C143.7 334 150.8 326.5 153.3 320.5C155.8 314.5 157.3 308.5 159.3 302.5C161.3 296.5 162.3 290.5 165.3 284.5C168.3 278.4 173.8 267.9 177.3 266.4C180.8 264.9 183.3 271.4 186.3 275.4C189.3 279.4 193.3 285 195.3 290.5C197.3 296 198.3 302.5 198.3 308.5C198.3 314.5 196.3 320.5 195.3 326.5C194.3 332.5 194.8 339.6 192.3 344.6C189.8 349.6 184.3 354.6 180.3 356.6C176.3 358.6 172.3 358.1 168.3 356.6C164.3 355.1 160.3 350.6 156.3 347.6C152.3 344.6 144.7 343.1 144.2 338.5Z" fill="#d3eafc"/>
<path d="M180.3 266.4C180.8 264.4 188.3 268.9 192.3 272.4C196.3 275.9 201.3 283 204.4 287.5C207.4 292 210.9 298 210.4 299.5C209.9 301 204.9 299 201.3 296.5C197.8 294 192.8 289.5 189.3 284.5C185.8 279.4 179.8 268.4 180.3 266.4Z" fill="#d3eafc"/>
<path d="M240.4 263.4C242.7 261.4 247.9 257.9 252.4 257.4C256.9 256.9 263 260.9 267.5 260.4C272 259.9 275.5 256.9 279.5 254.4C283.5 251.9 288 246.4 291.5 245.4C295 244.4 299 245.9 300.5 248.4C302 250.9 302 256.9 300.5 260.4C299 263.9 295 266.9 291.5 269.4C288 271.9 283.5 272.9 279.5 275.4C275.5 277.9 271.5 282.7 267.5 284.5C263.5 286.2 259.4 287 255.4 286C251.4 285 246.2 281.2 243.4 278.4C240.7 275.7 239.4 271.9 238.9 269.4C238.4 266.9 238.2 265.4 240.4 263.4Z" fill="#d3eafc"/>
<path d="M366.6 158.2C368.6 152.7 373.6 149.2 378.7 146.2C383.7 143.2 391.7 139.2 396.7 140.2C401.7 141.2 406.7 147.7 408.7 152.2C410.7 156.7 410.2 162.2 408.7 167.3C407.2 172.3 402.7 177.8 399.7 182.3C396.7 186.8 392.7 190.3 390.7 194.3C388.7 198.3 385.2 203.8 387.7 206.3C390.2 208.8 400.2 210.3 405.7 209.3C411.2 208.3 416.2 200.8 420.7 200.3C425.2 199.8 431.2 202.3 432.7 206.3C434.2 210.3 428.7 219.3 429.7 224.4C430.7 229.4 438.3 232.4 438.8 236.4C439.3 240.4 436.8 244.9 432.7 248.4C428.7 251.9 419.7 253.9 414.7 257.4C409.7 260.9 403.2 265.4 402.7 269.4C402.2 273.4 406.7 279.4 411.7 281.5C416.7 283.5 426.2 281.5 432.7 281.5C439.3 281.5 445.8 279.9 450.8 281.5C455.8 283 463.3 288.2 462.8 290.5C462.3 292.7 453.3 294.7 447.8 295C442.3 295.2 435.3 291.2 429.7 292C424.2 292.7 418.7 296.5 414.7 299.5C410.7 302.5 409.7 307.7 405.7 310C401.7 312.3 395.7 314 390.7 313C385.7 312 380.2 308.2 375.6 304C371.1 299.7 366.1 293.2 363.6 287.5C361.1 281.7 361.6 274.9 360.6 269.4C359.6 263.9 359.6 257.9 357.6 254.4C355.6 250.9 352.6 250.4 348.6 248.4C344.6 246.4 337.1 244.9 333.6 242.4C330.1 239.9 327.6 236.9 327.6 233.4C327.6 229.9 330.6 224.4 333.6 221.3C336.6 218.3 341.6 217.3 345.6 215.3C349.6 213.3 354.6 212.3 357.6 209.3C360.6 206.3 362.1 202.3 363.6 197.3C365.1 192.3 366.1 185.8 366.6 179.3C367.1 172.8 364.6 163.7 366.6 158.2Z" fill="#d3eafc"/>
<path d="M375.6 242.4C376.6 238.4 381.7 236.4 384.7 236.4C387.7 236.4 391.2 239.4 393.7 242.4C396.2 245.4 396.7 251.9 399.7 254.4C402.7 256.9 411.2 254.9 411.7 257.4C412.2 259.9 403.7 265.9 402.7 269.4C401.7 272.9 407.2 276.4 405.7 278.4C404.2 280.4 397.2 282 393.7 281.5C390.2 280.9 387.2 278.9 384.7 275.4C382.2 271.9 380.2 265.9 378.7 260.4C377.2 254.9 374.6 246.4 375.6 242.4Z" fill="#6fb4e1"/>
<path d="M384.7 206.3C384.7 203.8 392.2 198.3 396.7 197.3C401.2 196.3 407.7 198.8 411.7 200.3C415.7 201.8 420.7 204.3 420.7 206.3C420.7 208.3 415.7 211.3 411.7 212.3C407.7 213.3 401.2 213.3 396.7 212.3C392.2 211.3 384.7 208.8 384.7 206.3Z" fill="#6fb4e1"/>
<path d="M318.5 380.6C319.6 377.1 324.1 371.6 327.6 368.6C331.1 365.6 335.6 362.1 339.6 362.6C343.6 363.1 347.1 369.1 351.6 371.6C356.1 374.1 361.1 377.1 366.6 377.6C372.1 378.1 379.2 374.1 384.7 374.6C390.2 375.1 395.7 377.6 399.7 380.6C403.7 383.6 406.7 388.1 408.7 392.6C410.7 397.2 413.2 403.7 411.7 407.7C410.2 411.7 403.7 414.2 399.7 416.7C395.7 419.2 391.2 422.2 387.7 422.7C384.2 423.2 381.2 422.2 378.7 419.7C376.1 417.2 375.1 411.7 372.6 407.7C370.1 403.7 367.6 399.2 363.6 395.6C359.6 392.1 353.6 387.6 348.6 386.6C343.6 385.6 338.1 389.1 333.6 389.6C329.1 390.1 324.1 391.1 321.6 389.6C319.1 388.1 317.5 384.1 318.5 380.6Z" fill="#d3eafc"/>
<path d="M450.8 344.6C452.5 341.8 459.8 336.5 462.8 335.5C465.8 334.5 469.3 336 468.8 338.5C468.3 341.1 462.5 348.3 459.8 350.6C457 352.8 453.8 353.1 452.3 352.1C450.8 351.1 449 347.3 450.8 344.6Z" fill="#d3eafc"/>
<path d="M336.6 446.1C342.6 441 366.6 441 372.6 446.1C378.7 451.2 378.7 471.7 372.6 476.8C366.6 481.9 342.6 481.9 336.6 476.8C330.6 471.7 330.6 451.2 336.6 446.1Z" fill="#d3eafc"/>
<use href="#mesh"/>
</g>
<use href="#ov"/>
<path d="M501.8 368.6L541 368.6L538 372L533 376L527 378.5L521 380L517 381L516.5 385L513 385.5L512.5 381.5L507 381.3L501.8 380.5Z" fill="#6fb4e1"/><path d="M508 392L510 388.5L514.5 387.3L517 388.5L516 392L513 394.5L509.5 395Z" fill="#d3eafc"/><path d="M548 368.6L556 368.6L555.5 372L553 374.5L550 372.5Z" fill="#6fb4e1"/><path d="M541 368.6L538 372L533 376L527 378.5L521 380L517 381L516.5 385L513 385.5" fill="none" stroke="#38c8f4" stroke-width="1" stroke-dasharray="1.4 1"/>
<text class="lb" x="463.5" y="207">Changshan Qundao</text><text class="lb" x="478.5" y="320.9">Zhoushan Qundao</text><text class="lb" x="494.5" y="355.8">Chiwei Yu</text><text class="lb" x="470.5" y="363.2">Diaoyu Dao</text><text class="lb" x="471.5" y="396.6">Taiwan Dao</text><text class="lb" x="483.8" y="407.6">Lan Yu</text><text class="lb" x="411" y="437">Dongsha Qundao</text><text class="lb" x="366.3" y="457.9">Hainan Dao</text><text class="sea" x="428.5" y="220.9">Bo Hai</text><text class="sea" x="451.8" y="258.3">Yellow Sea</text><text class="sea" x="487.5" y="333.4">East China Sea</text><text class="sea" x="378.8" y="465.3">South China Sea</text><text x="536" y="384.8" font-size="2.3" font-style="italic" fill="#444">Dongsha Qundao</text><text x="519" y="388.3" font-size="2.3" font-style="italic" fill="#444">Hainan Dao</text><text x="518.5" y="396" font-size="2.3" font-style="italic" fill="#444">Xisha Qundao</text><text x="531" y="401.6" font-size="2.3" font-style="italic" fill="#444">Zhongsha Qundao</text><text x="536" y="406.6" font-size="2.3" font-style="italic" fill="#444">Huangyan Dao</text><text x="523.5" y="416.3" font-size="2.8" font-style="italic" fill="#3cc0f0">South China Sea</text><text x="527.5" y="428.3" font-size="2.3" font-style="italic" fill="#444">Nansha Qundao</text><text x="514.5" y="449.6" font-size="2.3" font-style="italic" fill="#444">Zengmu Ansha</text><text x="548.5" y="374.6" font-size="2.3" font-style="italic" fill="#444">Taiwan Dao</text><text class="sb" x="6" y="451.8">0</text><text class="sb" x="53.3" y="451.8">500 km</text><text x="535.2" y="458.2" font-size="4.6" fill="#333">0</text><text x="551.6" y="458.2" font-size="4.6" fill="#333">400 km</text>
<text class="cn" x="8.8" y="62.6">&#9313;</text><text class="t2" x="28.6" y="63">P-value</text>
</g>
<g transform="translate(1191.5 1408)">
<use href="#halo"/>
<use href="#cn" fill="#fff"/>
<g clip-path="url(#cp)">
<rect x="0" y="30" width="560" height="450" fill="#3a9acb"/>
<path d="M0 20C37.1 -29.6 187.3 -3 222.4 20C257.4 43 214.9 133.2 210.4 158.2C205.9 183.3 199.8 165.3 195.3 170.3C190.8 175.3 187.3 182.3 183.3 188.3C179.3 194.3 175.3 200.8 171.3 206.3C167.3 211.8 162.3 215.8 159.3 221.3C156.3 226.9 154.8 233.4 153.3 239.4C151.8 245.4 152.3 252.9 150.3 257.4C148.3 261.9 145.3 263.9 141.2 266.4C137.2 268.9 129.7 269.4 126.2 272.4C122.7 275.4 122.7 280.4 120.2 284.5C117.7 288.5 114.7 292.5 111.2 296.5C107.7 300.5 103.2 305 99.2 308.5C95.2 312 103.7 316 87.2 317.5C70.6 319 14.5 367.1 0 317.5C-14.5 267.9 -37.1 69.6 0 20Z" fill="#1b6fb6"/>
<path d="M354.6 164.2C355.1 159.2 364.1 153.2 369.6 149.2C375.1 145.2 381.7 142.2 387.7 140.2C393.7 138.2 399.2 136.2 405.7 137.2C412.2 138.2 421.2 142.7 426.7 146.2C432.2 149.7 437.8 153.2 438.8 158.2C439.8 163.2 435.8 171.3 432.7 176.3C429.7 181.3 425.7 186.3 420.7 188.3C415.7 190.3 408.7 188.8 402.7 188.3C396.7 187.8 390.7 186.8 384.7 185.3C378.7 183.8 371.6 182.8 366.6 179.3C361.6 175.8 354.1 169.3 354.6 164.2Z" fill="#5cbbd0"/>
<path d="M378.7 161.2C378.7 157.7 383.7 149.2 387.7 146.2C391.7 143.2 399.2 141.7 402.7 143.2C406.2 144.7 408.7 151.2 408.7 155.2C408.7 159.2 406.2 165.3 402.7 167.3C399.2 169.3 391.7 168.3 387.7 167.3C383.7 166.3 378.7 164.7 378.7 161.2Z" fill="#3a9acb"/>
<path d="M237.4 191.3C240.4 187.8 243.9 183.3 249.4 182.3C254.9 181.3 263 183.3 270.5 185.3C278 187.3 286.5 193.3 294.5 194.3C302.5 195.3 311 192.8 318.5 191.3C326.1 189.8 333.6 187.8 339.6 185.3C345.6 182.8 349.6 176.8 354.6 176.3C359.6 175.8 364.6 180.3 369.6 182.3C374.6 184.3 379.2 186.8 384.7 188.3C390.2 189.8 396.7 189.3 402.7 191.3C408.7 193.3 416.2 196.8 420.7 200.3C425.2 203.8 429.7 208.3 429.7 212.3C429.7 216.3 424.7 220.3 420.7 224.4C416.7 228.4 410.7 231.4 405.7 236.4C400.7 241.4 394.7 248.9 390.7 254.4C386.7 259.9 384.7 264.9 381.7 269.4C378.7 273.9 376.1 278.9 372.6 281.5C369.1 284 364.1 286 360.6 284.5C357.1 283 352.6 277.4 351.6 272.4C350.6 267.4 354.6 260.4 354.6 254.4C354.6 248.4 354.1 240.9 351.6 236.4C349.1 231.9 344.1 228.9 339.6 227.4C335.1 225.9 329.1 228.9 324.6 227.4C320.1 225.9 316.5 221.8 312.5 218.3C308.5 214.8 304.5 207.3 300.5 206.3C296.5 205.3 292.5 209.3 288.5 212.3C284.5 215.3 280.5 220.8 276.5 224.4C272.5 227.9 269 231.4 264.5 233.4C259.9 235.4 254.4 236.9 249.4 236.4C244.4 235.9 237.9 233.4 234.4 230.4C230.9 227.4 228.9 222.8 228.4 218.3C227.9 213.8 229.9 207.8 231.4 203.3C232.9 198.8 234.4 194.8 237.4 191.3Z" fill="none" stroke="#5cbbd0" stroke-width="16" stroke-linejoin="round"/>
<path d="M237.4 191.3C240.4 187.8 243.9 183.3 249.4 182.3C254.9 181.3 263 183.3 270.5 185.3C278 187.3 286.5 193.3 294.5 194.3C302.5 195.3 311 192.8 318.5 191.3C326.1 189.8 333.6 187.8 339.6 185.3C345.6 182.8 349.6 176.8 354.6 176.3C359.6 175.8 364.6 180.3 369.6 182.3C374.6 184.3 379.2 186.8 384.7 188.3C390.2 189.8 396.7 189.3 402.7 191.3C408.7 193.3 416.2 196.8 420.7 200.3C425.2 203.8 429.7 208.3 429.7 212.3C429.7 216.3 424.7 220.3 420.7 224.4C416.7 228.4 410.7 231.4 405.7 236.4C400.7 241.4 394.7 248.9 390.7 254.4C386.7 259.9 384.7 264.9 381.7 269.4C378.7 273.9 376.1 278.9 372.6 281.5C369.1 284 364.1 286 360.6 284.5C357.1 283 352.6 277.4 351.6 272.4C350.6 267.4 354.6 260.4 354.6 254.4C354.6 248.4 354.1 240.9 351.6 236.4C349.1 231.9 344.1 228.9 339.6 227.4C335.1 225.9 329.1 228.9 324.6 227.4C320.1 225.9 316.5 221.8 312.5 218.3C308.5 214.8 304.5 207.3 300.5 206.3C296.5 205.3 292.5 209.3 288.5 212.3C284.5 215.3 280.5 220.8 276.5 224.4C272.5 227.9 269 231.4 264.5 233.4C259.9 235.4 254.4 236.9 249.4 236.4C244.4 235.9 237.9 233.4 234.4 230.4C230.9 227.4 228.9 222.8 228.4 218.3C227.9 213.8 229.9 207.8 231.4 203.3C232.9 198.8 234.4 194.8 237.4 191.3Z" fill="#93d5b9"/>
<path d="M345.6 212.3C346.1 207.3 354.1 202.8 360.6 200.3C367.1 197.8 377.2 196.8 384.7 197.3C392.2 197.8 399.7 200.8 405.7 203.3C411.7 205.8 419.7 208.3 420.7 212.3C421.7 216.3 415.7 222.3 411.7 227.4C407.7 232.4 401.2 236.9 396.7 242.4C392.2 247.9 388.2 254.9 384.7 260.4C381.2 265.9 379.2 272.4 375.6 275.4C372.1 278.4 366.6 279.9 363.6 278.4C360.6 276.9 358.1 271.4 357.6 266.4C357.1 261.4 360.6 254.4 360.6 248.4C360.6 242.4 360.1 236.4 357.6 230.4C355.1 224.4 345.1 217.3 345.6 212.3Z" fill="#c2e7c1"/>
<path d="M246.4 200.3C249.9 196.3 255.9 194.3 261.5 194.3C267 194.3 277.5 196.8 279.5 200.3C281.5 203.8 277.5 211.3 273.5 215.3C269.5 219.3 260.9 223.9 255.4 224.4C249.9 224.9 241.9 222.3 240.4 218.3C238.9 214.3 242.9 204.3 246.4 200.3Z" fill="#c2e7c1"/>
<path d="M360.6 206.3C363.6 201.3 374.6 200.3 381.7 200.3C388.7 200.3 397.2 203.3 402.7 206.3C408.2 209.3 414.2 213.8 414.7 218.3C415.2 222.8 409.2 228.4 405.7 233.4C402.2 238.4 397.2 243.4 393.7 248.4C390.2 253.4 387.7 259.4 384.7 263.4C381.7 267.4 378.7 271.4 375.6 272.4C372.6 273.4 368.6 272.9 366.6 269.4C364.6 265.9 364.1 257.9 363.6 251.4C363.1 244.9 364.1 237.9 363.6 230.4C363.1 222.8 357.6 211.3 360.6 206.3Z" fill="#dcf1d6"/>
<path d="M369.6 215.3C371.9 210.3 379.7 209.3 384.7 209.3C389.7 209.3 396.7 212.3 399.7 215.3C402.7 218.3 403.7 223.4 402.7 227.4C401.7 231.4 396.7 235.4 393.7 239.4C390.7 243.4 387.7 248.9 384.7 251.4C381.7 253.9 377.9 256.4 375.6 254.4C373.4 252.4 372.1 245.9 371.1 239.4C370.1 232.9 367.4 220.3 369.6 215.3Z" fill="#f4faed"/>
<path d="M360.6 119.2C368.1 137.7 395.7 128.7 405.7 131.2C415.7 133.7 415.2 132.7 420.7 134.2C426.2 135.7 431.7 138.2 438.8 140.2C445.8 142.2 454.8 144.2 462.8 146.2C470.8 148.2 479.8 150.2 486.8 152.2C493.9 154.2 489.3 157.2 504.9 158.2C520.4 159.2 567.5 181.3 580 158.2C592.5 135.2 616.6 43 580 20C543.4 -3 397.2 3.5 360.6 20C324.1 36.5 353.1 100.6 360.6 119.2Z" fill="none" stroke="#5cbbd0" stroke-width="30" stroke-linejoin="round"/>
<path d="M360.6 119.2C368.1 137.7 395.7 128.7 405.7 131.2C415.7 133.7 415.2 132.7 420.7 134.2C426.2 135.7 431.7 138.2 438.8 140.2C445.8 142.2 454.8 144.2 462.8 146.2C470.8 148.2 479.8 150.2 486.8 152.2C493.9 154.2 489.3 157.2 504.9 158.2C520.4 159.2 567.5 181.3 580 158.2C592.5 135.2 616.6 43 580 20C543.4 -3 397.2 3.5 360.6 20C324.1 36.5 353.1 100.6 360.6 119.2Z" fill="none" stroke="#93d5b9" stroke-width="18" stroke-linejoin="round"/>
<path d="M360.6 119.2C368.1 137.7 395.7 128.7 405.7 131.2C415.7 133.7 415.2 132.7 420.7 134.2C426.2 135.7 431.7 138.2 438.8 140.2C445.8 142.2 454.8 144.2 462.8 146.2C470.8 148.2 479.8 150.2 486.8 152.2C493.9 154.2 489.3 157.2 504.9 158.2C520.4 159.2 567.5 181.3 580 158.2C592.5 135.2 616.6 43 580 20C543.4 -3 397.2 3.5 360.6 20C324.1 36.5 353.1 100.6 360.6 119.2Z" fill="none" stroke="#c2e7c1" stroke-width="8" stroke-linejoin="round"/>
<path d="M360.6 119.2C368.1 137.7 395.7 128.7 405.7 131.2C415.7 133.7 415.2 132.7 420.7 134.2C426.2 135.7 431.7 138.2 438.8 140.2C445.8 142.2 454.8 144.2 462.8 146.2C470.8 148.2 479.8 150.2 486.8 152.2C493.9 154.2 489.3 157.2 504.9 158.2C520.4 159.2 567.5 181.3 580 158.2C592.5 135.2 616.6 43 580 20C543.4 -3 397.2 3.5 360.6 20C324.1 36.5 353.1 100.6 360.6 119.2Z" fill="#dcf1d6"/>
<path d="M450.8 65.1C451.8 77.6 454.8 86.1 456.8 95.1C458.8 104.1 458.8 111.7 462.8 119.2C466.8 126.7 472.8 134.7 480.8 140.2C488.8 145.7 494.4 150.2 510.9 152.2C527.4 154.2 568.5 174.3 580 152.2C591.5 130.2 601.5 42 580 20C558.5 -2 472.3 12.5 450.8 20C429.2 27.5 449.8 52.6 450.8 65.1Z" fill="#f4faed"/>
<path d="M144.2 338.5C142.2 333 147.3 325 150.3 320.5C153.3 316 157.3 313.3 162.3 311.5C167.3 309.7 175.3 308.5 180.3 310C185.3 311.5 189.3 316.3 192.3 320.5C195.3 324.8 198.3 330.5 198.3 335.5C198.3 340.6 195.3 347.1 192.3 350.6C189.3 354.1 185.3 356.1 180.3 356.6C175.3 357.1 168.3 356.6 162.3 353.6C156.3 350.6 146.3 344.1 144.2 338.5Z" fill="#5cbbd0"/>
<path d="M228.4 484C213.9 466.8 229.4 401.4 231.4 380.6C233.4 359.9 236.4 364.6 240.4 359.6C244.4 354.6 250.4 354.1 255.4 350.6C260.4 347.1 268.5 343.6 270.5 338.5C272.5 333.5 267.5 326 267.5 320.5C267.5 315 268 309 270.5 305.5C273 302 278.5 299 282.5 299.5C286.5 300 291.5 304.5 294.5 308.5C297.5 312.5 299 317.5 300.5 323.5C302 329.5 304 338 303.5 344.6C303 351.1 298.5 356.6 297.5 362.6C296.5 368.6 296.5 374.6 297.5 380.6C298.5 386.6 301 393.6 303.5 398.7C306 403.7 310 406.7 312.5 410.7C315 414.7 317.5 410.5 318.5 422.7C319.6 434.9 333.6 473.8 318.5 484C303.5 494.2 242.9 501.2 228.4 484Z" fill="#5cbbd0"/>
<path d="M213.4 302.5C214.9 296 218.4 289.5 222.4 287.5C226.4 285.5 232.9 287.5 237.4 290.5C241.9 293.5 247.4 300 249.4 305.5C251.4 311 250.9 318.5 249.4 323.5C247.9 328.5 244.4 333 240.4 335.5C236.4 338 229.9 340.1 225.4 338.5C220.9 337 215.4 332.5 213.4 326.5C211.4 320.5 211.9 309 213.4 302.5Z" fill="#1b6fb6"/>
<path d="M318.5 251.4C319.6 248.9 324.1 245.9 327.6 245.4C331.1 244.9 337.1 246.4 339.6 248.4C342.1 250.4 343.6 254.9 342.6 257.4C341.6 259.9 337.1 262.9 333.6 263.4C330.1 263.9 324.1 262.4 321.6 260.4C319.1 258.4 317.5 253.9 318.5 251.4Z" fill="#1b6fb6"/>
<path d="M273.5 290.5C276 287.5 283 284.5 288.5 284.5C294 284.5 301.5 288 306.5 290.5C311.5 293 315 296 318.5 299.5C322.1 303 325.1 307 327.6 311.5C330.1 316 330.6 322 333.6 326.5C336.6 331 341.1 335 345.6 338.5C350.1 342.1 355.1 345.1 360.6 347.6C366.1 350.1 372.6 351.6 378.7 353.6C384.7 355.6 391.7 357.1 396.7 359.6C401.7 362.1 407.7 365.1 408.7 368.6C409.7 372.1 406.2 379.1 402.7 380.6C399.2 382.1 392.7 378.1 387.7 377.6C382.7 377.1 377.7 376.1 372.6 377.6C367.6 379.1 362.1 383.1 357.6 386.6C353.1 390.1 349.1 394.6 345.6 398.7C342.1 402.7 340.1 408.2 336.6 410.7C333.1 413.2 328.6 414.7 324.6 413.7C320.6 412.7 316 408.7 312.5 404.7C309 400.7 306 395.1 303.5 389.6C301 384.1 298 377.6 297.5 371.6C297 365.6 299 359.6 300.5 353.6C302 347.6 306.5 341.1 306.5 335.5C306.5 330 304 324.5 300.5 320.5C297 316.5 290 314.5 285.5 311.5C281 308.5 275.5 306 273.5 302.5C271.5 299 271 293.5 273.5 290.5Z" fill="none" stroke="#5cbbd0" stroke-width="20" stroke-linejoin="round"/>
<path d="M273.5 290.5C276 287.5 283 284.5 288.5 284.5C294 284.5 301.5 288 306.5 290.5C311.5 293 315 296 318.5 299.5C322.1 303 325.1 307 327.6 311.5C330.1 316 330.6 322 333.6 326.5C336.6 331 341.1 335 345.6 338.5C350.1 342.1 355.1 345.1 360.6 347.6C366.1 350.1 372.6 351.6 378.7 353.6C384.7 355.6 391.7 357.1 396.7 359.6C401.7 362.1 407.7 365.1 408.7 368.6C409.7 372.1 406.2 379.1 402.7 380.6C399.2 382.1 392.7 378.1 387.7 377.6C382.7 377.1 377.7 376.1 372.6 377.6C367.6 379.1 362.1 383.1 357.6 386.6C353.1 390.1 349.1 394.6 345.6 398.7C342.1 402.7 340.1 408.2 336.6 410.7C333.1 413.2 328.6 414.7 324.6 413.7C320.6 412.7 316 408.7 312.5 404.7C309 400.7 306 395.1 303.5 389.6C301 384.1 298 377.6 297.5 371.6C297 365.6 299 359.6 300.5 353.6C302 347.6 306.5 341.1 306.5 335.5C306.5 330 304 324.5 300.5 320.5C297 316.5 290 314.5 285.5 311.5C281 308.5 275.5 306 273.5 302.5C271.5 299 271 293.5 273.5 290.5Z" fill="none" stroke="#93d5b9" stroke-width="12" stroke-linejoin="round"/>
<path d="M273.5 290.5C276 287.5 283 284.5 288.5 284.5C294 284.5 301.5 288 306.5 290.5C311.5 293 315 296 318.5 299.5C322.1 303 325.1 307 327.6 311.5C330.1 316 330.6 322 333.6 326.5C336.6 331 341.1 335 345.6 338.5C350.1 342.1 355.1 345.1 360.6 347.6C366.1 350.1 372.6 351.6 378.7 353.6C384.7 355.6 391.7 357.1 396.7 359.6C401.7 362.1 407.7 365.1 408.7 368.6C409.7 372.1 406.2 379.1 402.7 380.6C399.2 382.1 392.7 378.1 387.7 377.6C382.7 377.1 377.7 376.1 372.6 377.6C367.6 379.1 362.1 383.1 357.6 386.6C353.1 390.1 349.1 394.6 345.6 398.7C342.1 402.7 340.1 408.2 336.6 410.7C333.1 413.2 328.6 414.7 324.6 413.7C320.6 412.7 316 408.7 312.5 404.7C309 400.7 306 395.1 303.5 389.6C301 384.1 298 377.6 297.5 371.6C297 365.6 299 359.6 300.5 353.6C302 347.6 306.5 341.1 306.5 335.5C306.5 330 304 324.5 300.5 320.5C297 316.5 290 314.5 285.5 311.5C281 308.5 275.5 306 273.5 302.5C271.5 299 271 293.5 273.5 290.5Z" fill="none" stroke="#c2e7c1" stroke-width="6" stroke-linejoin="round"/>
<path d="M273.5 290.5C276 287.5 283 284.5 288.5 284.5C294 284.5 301.5 288 306.5 290.5C311.5 293 315 296 318.5 299.5C322.1 303 325.1 307 327.6 311.5C330.1 316 330.6 322 333.6 326.5C336.6 331 341.1 335 345.6 338.5C350.1 342.1 355.1 345.1 360.6 347.6C366.1 350.1 372.6 351.6 378.7 353.6C384.7 355.6 391.7 357.1 396.7 359.6C401.7 362.1 407.7 365.1 408.7 368.6C409.7 372.1 406.2 379.1 402.7 380.6C399.2 382.1 392.7 378.1 387.7 377.6C382.7 377.1 377.7 376.1 372.6 377.6C367.6 379.1 362.1 383.1 357.6 386.6C353.1 390.1 349.1 394.6 345.6 398.7C342.1 402.7 340.1 408.2 336.6 410.7C333.1 413.2 328.6 414.7 324.6 413.7C320.6 412.7 316 408.7 312.5 404.7C309 400.7 306 395.1 303.5 389.6C301 384.1 298 377.6 297.5 371.6C297 365.6 299 359.6 300.5 353.6C302 347.6 306.5 341.1 306.5 335.5C306.5 330 304 324.5 300.5 320.5C297 316.5 290 314.5 285.5 311.5C281 308.5 275.5 306 273.5 302.5C271.5 299 271 293.5 273.5 290.5Z" fill="#dcf1d6"/>
<path d="M306.5 344.6C309 340.6 314 336.5 318.5 335.5C323.1 334.5 329.1 336.5 333.6 338.5C338.1 340.6 342.1 344.1 345.6 347.6C349.1 351.1 353.6 355.1 354.6 359.6C355.6 364.1 354.1 370.1 351.6 374.6C349.1 379.1 343.6 383.1 339.6 386.6C335.6 390.1 331.6 395.1 327.6 395.6C323.6 396.1 319.1 393.1 315.5 389.6C312 386.1 308.5 379.6 306.5 374.6C304.5 369.6 303.5 364.6 303.5 359.6C303.5 354.6 304 348.6 306.5 344.6Z" fill="#f4faed"/>
<path d="M345.6 302.5C348.6 299 355.1 295.5 360.6 293.5C366.1 291.5 372.6 292 378.7 290.5C384.7 289 391.2 288 396.7 284.5C402.2 280.9 407.2 274.4 411.7 269.4C416.2 264.4 419.7 258.9 423.7 254.4C427.7 249.9 431.2 246.4 435.8 242.4C440.3 238.4 445.3 232.9 450.8 230.4C456.3 227.9 463.8 227.4 468.8 227.4C473.8 227.4 478.8 204.8 480.8 230.4C482.8 255.9 488.3 345.6 480.8 380.6C473.3 415.7 455.8 430.7 435.8 440.7C415.7 450.7 376.1 443.7 360.6 440.7C345.1 437.7 344.1 428.2 342.6 422.7C341.1 417.2 347.6 412.2 351.6 407.7C355.6 403.2 361.1 398.7 366.6 395.6C372.1 392.6 378.7 391.1 384.7 389.6C390.7 388.1 397.2 389.1 402.7 386.6C408.2 384.1 414.2 378.6 417.7 374.6C421.2 370.6 424.2 366.1 423.7 362.6C423.2 359.1 419.2 355.6 414.7 353.6C410.2 351.6 402.7 352.1 396.7 350.6C390.7 349.1 384.7 346.6 378.7 344.6C372.6 342.6 365.6 341.6 360.6 338.5C355.6 335.5 351.6 330.5 348.6 326.5C345.6 322.5 343.1 318.5 342.6 314.5C342.1 310.5 342.6 306 345.6 302.5Z" fill="none" stroke="#5cbbd0" stroke-width="14" stroke-linejoin="round"/>
<path d="M345.6 302.5C348.6 299 355.1 295.5 360.6 293.5C366.1 291.5 372.6 292 378.7 290.5C384.7 289 391.2 288 396.7 284.5C402.2 280.9 407.2 274.4 411.7 269.4C416.2 264.4 419.7 258.9 423.7 254.4C427.7 249.9 431.2 246.4 435.8 242.4C440.3 238.4 445.3 232.9 450.8 230.4C456.3 227.9 463.8 227.4 468.8 227.4C473.8 227.4 478.8 204.8 480.8 230.4C482.8 255.9 488.3 345.6 480.8 380.6C473.3 415.7 455.8 430.7 435.8 440.7C415.7 450.7 376.1 443.7 360.6 440.7C345.1 437.7 344.1 428.2 342.6 422.7C341.1 417.2 347.6 412.2 351.6 407.7C355.6 403.2 361.1 398.7 366.6 395.6C372.1 392.6 378.7 391.1 384.7 389.6C390.7 388.1 397.2 389.1 402.7 386.6C408.2 384.1 414.2 378.6 417.7 374.6C421.2 370.6 424.2 366.1 423.7 362.6C423.2 359.1 419.2 355.6 414.7 353.6C410.2 351.6 402.7 352.1 396.7 350.6C390.7 349.1 384.7 346.6 378.7 344.6C372.6 342.6 365.6 341.6 360.6 338.5C355.6 335.5 351.6 330.5 348.6 326.5C345.6 322.5 343.1 318.5 342.6 314.5C342.1 310.5 342.6 306 345.6 302.5Z" fill="none" stroke="#3a9acb" stroke-width="6" stroke-linejoin="round"/>
<path d="M345.6 302.5C348.6 299 355.1 295.5 360.6 293.5C366.1 291.5 372.6 292 378.7 290.5C384.7 289 391.2 288 396.7 284.5C402.2 280.9 407.2 274.4 411.7 269.4C416.2 264.4 419.7 258.9 423.7 254.4C427.7 249.9 431.2 246.4 435.8 242.4C440.3 238.4 445.3 232.9 450.8 230.4C456.3 227.9 463.8 227.4 468.8 227.4C473.8 227.4 478.8 204.8 480.8 230.4C482.8 255.9 488.3 345.6 480.8 380.6C473.3 415.7 455.8 430.7 435.8 440.7C415.7 450.7 376.1 443.7 360.6 440.7C345.1 437.7 344.1 428.2 342.6 422.7C341.1 417.2 347.6 412.2 351.6 407.7C355.6 403.2 361.1 398.7 366.6 395.6C372.1 392.6 378.7 391.1 384.7 389.6C390.7 388.1 397.2 389.1 402.7 386.6C408.2 384.1 414.2 378.6 417.7 374.6C421.2 370.6 424.2 366.1 423.7 362.6C423.2 359.1 419.2 355.6 414.7 353.6C410.2 351.6 402.7 352.1 396.7 350.6C390.7 349.1 384.7 346.6 378.7 344.6C372.6 342.6 365.6 341.6 360.6 338.5C355.6 335.5 351.6 330.5 348.6 326.5C345.6 322.5 343.1 318.5 342.6 314.5C342.1 310.5 342.6 306 345.6 302.5Z" fill="#1b6fb6"/>
<path d="M432.7 254.4C436.8 250.4 439.8 246.4 444.8 242.4C449.8 238.4 456.8 232.4 462.8 230.4C468.8 228.4 477.8 215.3 480.8 230.4C483.8 245.4 481.8 300.5 480.8 320.5C479.8 340.6 478.8 340.6 474.8 350.6C470.8 360.6 462.8 372.6 456.8 380.6C450.8 388.6 444.8 393.6 438.8 398.7C432.7 403.7 426.2 409.2 420.7 410.7C415.2 412.2 406.7 410.7 405.7 407.7C404.7 404.7 411.2 398.2 414.7 392.6C418.2 387.1 423.7 380.1 426.7 374.6C429.7 369.1 433.7 363.6 432.7 359.6C431.7 355.6 425.7 353.1 420.7 350.6C415.7 348.1 409.2 346.6 402.7 344.6C396.2 342.6 388.2 341.1 381.7 338.5C375.1 336 365.6 333 363.6 329.5C361.6 326 366.6 321 369.6 317.5C372.6 314 377.2 312 381.7 308.5C386.2 305 392.2 301 396.7 296.5C401.2 292 404.7 286.5 408.7 281.5C412.7 276.4 416.7 270.9 420.7 266.4C424.7 261.9 428.7 258.4 432.7 254.4Z" fill="#0b4789"/>
<path d="M336.6 446.1C342.6 441 366.6 441 372.6 446.1C378.7 451.2 378.7 471.7 372.6 476.8C366.6 481.9 342.6 481.9 336.6 476.8C330.6 471.7 330.6 451.2 336.6 446.1Z" fill="#0b4789"/>
<path d="M459.8 371.6C464.3 364.1 482.3 364.1 486.8 371.6C491.3 379.1 491.3 409.2 486.8 416.7C482.3 424.2 464.3 424.2 459.8 416.7C455.3 409.2 455.3 379.1 459.8 371.6Z" fill="#0b4789"/>
<use href="#mesh"/>
</g>
<use href="#ov"/>
<path d="M501.8 368.6L541 368.6L538 372L533 376L527 378.5L521 380L517 381L516.5 385L513 385.5L512.5 381.5L507 381.3L501.8 380.5Z" fill="#1b6fb6"/><path d="M508 392L510 388.5L514.5 387.3L517 388.5L516 392L513 394.5L509.5 395Z" fill="#0b4789"/><path d="M548 368.6L556 368.6L555.5 372L553 374.5L550 372.5Z" fill="#0b4789"/><path d="M541 368.6L538 372L533 376L527 378.5L521 380L517 381L516.5 385L513 385.5" fill="none" stroke="#38c8f4" stroke-width="1" stroke-dasharray="1.4 1"/>
<text class="lb" x="463.5" y="207">Changshan Qundao</text><text class="lb" x="478.5" y="320.9">Zhoushan Qundao</text><text class="lb" x="494.5" y="355.8">Chiwei Yu</text><text class="lb" x="470.5" y="363.2">Diaoyu Dao</text><text class="lb" x="471.5" y="396.6">Taiwan Dao</text><text class="lb" x="483.8" y="407.6">Lan Yu</text><text class="lb" x="411" y="437">Dongsha Qundao</text><text class="lb" x="366.3" y="457.9">Hainan Dao</text><text class="sea" x="428.5" y="220.9">Bo Hai</text><text class="sea" x="451.8" y="258.3">Yellow Sea</text><text class="sea" x="487.5" y="333.4">East China Sea</text><text class="sea" x="378.8" y="465.3">South China Sea</text><text x="536" y="384.8" font-size="2.3" font-style="italic" fill="#444">Dongsha Qundao</text><text x="519" y="388.3" font-size="2.3" font-style="italic" fill="#444">Hainan Dao</text><text x="518.5" y="396" font-size="2.3" font-style="italic" fill="#444">Xisha Qundao</text><text x="531" y="401.6" font-size="2.3" font-style="italic" fill="#444">Zhongsha Qundao</text><text x="536" y="406.6" font-size="2.3" font-style="italic" fill="#444">Huangyan Dao</text><text x="523.5" y="416.3" font-size="2.8" font-style="italic" fill="#3cc0f0">South China Sea</text><text x="527.5" y="428.3" font-size="2.3" font-style="italic" fill="#444">Nansha Qundao</text><text x="514.5" y="449.6" font-size="2.3" font-style="italic" fill="#444">Zengmu Ansha</text><text x="548.5" y="374.6" font-size="2.3" font-style="italic" fill="#444">Taiwan Dao</text><text class="sb" x="6" y="451.8">0</text><text class="sb" x="53.3" y="451.8">500 km</text><text x="535.2" y="458.2" font-size="4.6" fill="#333">0</text><text x="551.6" y="458.2" font-size="4.6" fill="#333">400 km</text>
<text class="t1" x="7" y="30.6">h. Glacier<tspan font-weight="normal" x="122.1">&amp;</tspan><tspan x="151.6">Snow</tspan></text>
<text class="cn" x="8.3" y="62.6">&#9312;</text><text class="t2" x="28.4" y="63">Coefficient</text>
</g>
<g transform="translate(1772 1408)">
<use href="#halo"/>
<use href="#cn" fill="#fff"/>
<g clip-path="url(#cp)">
<rect x="0" y="30" width="560" height="450" fill="#6fb4e1"/>
<path d="M240.4 179.3C234.4 183.3 237.4 189.3 234.4 194.3C231.4 199.3 226.4 204.3 222.4 209.3C218.4 214.3 212.4 219.3 210.4 224.4C208.4 229.4 208.9 235.4 210.4 239.4C211.9 243.4 214.9 246.9 219.4 248.4C223.9 249.9 231.4 249.4 237.4 248.4C243.4 247.4 249.9 243.9 255.4 242.4C260.9 240.9 265.5 240.4 270.5 239.4C275.5 238.4 280.5 237.4 285.5 236.4C290.5 235.4 295.5 234.4 300.5 233.4C305.5 232.4 310 230.9 315.5 230.4C321.1 229.9 328.1 228.9 333.6 230.4C339.1 231.9 344.6 235.4 348.6 239.4C352.6 243.4 357.1 249.4 357.6 254.4C358.1 259.4 354.6 265.4 351.6 269.4C348.6 273.4 344.1 276.9 339.6 278.4C335.1 279.9 329.1 277.4 324.6 278.4C320.1 279.4 316.5 285 312.5 284.5C308.5 284 304.5 277.4 300.5 275.4C296.5 273.4 293 272.4 288.5 272.4C284 272.4 278 273.4 273.5 275.4C269 277.4 264 280.9 261.5 284.5C258.9 288 257.9 292.5 258.4 296.5C258.9 300.5 262.5 304 264.5 308.5C266.5 313 271 319.5 270.5 323.5C270 327.5 265 330 261.5 332.5C257.9 335 252.9 336 249.4 338.5C245.9 341.1 242.9 343.1 240.4 347.6C237.9 352.1 235.9 358.6 234.4 365.6C232.9 372.6 231.4 382.1 231.4 389.6C231.4 397.2 229.9 403.2 234.4 410.7C238.9 418.2 249.9 431.7 258.4 434.7C267 437.7 276.5 430.7 285.5 428.7C294.5 426.7 305 423.2 312.5 422.7C320.1 422.2 326.1 427.2 330.6 425.7C335.1 424.2 336.1 418.2 339.6 413.7C343.1 409.2 347.6 403.2 351.6 398.7C355.6 394.1 358.6 389.6 363.6 386.6C368.6 383.6 375.1 381.6 381.7 380.6C388.2 379.6 396.7 381.6 402.7 380.6C408.7 379.6 414.7 377.6 417.7 374.6C420.7 371.6 421.7 366.1 420.7 362.6C419.7 359.1 416.2 355.6 411.7 353.6C407.2 351.6 399.2 351.6 393.7 350.6C388.2 349.6 384.2 349.1 378.7 347.6C373.1 346.1 365.6 343.6 360.6 341.6C355.6 339.6 351.1 339.1 348.6 335.5C346.1 332 348.1 324 345.6 320.5C343.1 317 337.6 316.5 333.6 314.5C329.6 312.5 322.6 311 321.6 308.5C320.6 306 324.6 302.5 327.6 299.5C330.6 296.5 335.6 292 339.6 290.5C343.6 289 346.6 289.5 351.6 290.5C356.6 291.5 364.6 297 369.6 296.5C374.6 296 377.7 291.5 381.7 287.5C385.7 283.5 389.7 276.9 393.7 272.4C397.7 267.9 401.2 264.4 405.7 260.4C410.2 256.4 416.2 252.4 420.7 248.4C425.2 244.4 428.7 239.4 432.7 236.4C436.8 233.4 444.8 231.9 444.8 230.4C444.8 228.9 435.3 231.4 432.7 227.4C430.2 223.4 429.7 211.8 429.7 206.3C429.7 200.8 434.2 198.3 432.7 194.3C431.2 190.3 424.7 185.3 420.7 182.3C416.7 179.3 413.7 176.3 408.7 176.3C403.7 176.3 396.7 180.8 390.7 182.3C384.7 183.8 378.2 186.3 372.6 185.3C367.1 184.3 361.6 178.8 357.6 176.3C353.6 173.8 354.1 171.3 348.6 170.3C343.1 169.3 332.6 169.3 324.6 170.3C316.5 171.3 309.5 176.3 300.5 176.3C291.5 176.3 280.5 169.8 270.5 170.3C260.4 170.8 246.4 175.3 240.4 179.3Z" fill="#d3eafc"/>
<path d="M267.5 350.6C268.5 347.6 273 345.1 276.5 344.6C280 344.1 286 345.1 288.5 347.6C291 350.1 292.5 356.6 291.5 359.6C290.5 362.6 286 365.1 282.5 365.6C279 366.1 273 365.1 270.5 362.6C268 360.1 266.5 353.6 267.5 350.6Z" fill="#6fb4e1"/>
<path d="M318.5 356.6C320.3 354.1 324.1 351.1 327.6 350.6C331.1 350.1 336.6 351.1 339.6 353.6C342.6 356.1 345.6 361.1 345.6 365.6C345.6 370.1 342.1 377.6 339.6 380.6C337.1 383.6 333.6 384.6 330.6 383.6C327.6 382.6 323.8 377.6 321.6 374.6C319.3 371.6 317.5 368.6 317 365.6C316.5 362.6 316.8 359.1 318.5 356.6Z" fill="#6fb4e1"/>
<path d="M375.6 92.1C380.7 78.1 406.2 42.5 414.7 38C423.2 33.5 422.7 56.6 426.7 65.1C430.7 73.6 434.7 81.6 438.8 89.1C442.8 96.6 445.8 103.6 450.8 110.2C455.8 116.7 461.8 123.7 468.8 128.2C475.8 132.7 484.8 135.2 492.8 137.2C500.9 139.2 509.9 137.7 516.9 140.2C523.9 142.7 536.9 148.2 534.9 152.2C532.9 156.2 513.9 163.2 504.9 164.2C495.9 165.3 488.8 160.2 480.8 158.2C472.8 156.2 464.3 154.2 456.8 152.2C449.3 150.2 441.8 149.2 435.8 146.2C429.7 143.2 426.2 136.7 420.7 134.2C415.2 131.7 408.7 133.2 402.7 131.2C396.7 129.2 389.2 128.7 384.7 122.2C380.2 115.7 370.6 106.1 375.6 92.1Z" fill="#d3eafc"/>
<path d="M135.2 338.5C135.2 334 144.7 328.5 150.3 323.5C155.8 318.5 162.8 311.5 168.3 308.5C173.8 305.5 178.8 304 183.3 305.5C187.8 307 191.8 313 195.3 317.5C198.8 322 201.8 328 204.4 332.5C206.9 337 210.4 341.6 210.4 344.6C210.4 347.6 208.4 348.1 204.4 350.6C200.3 353.1 192.3 358.1 186.3 359.6C180.3 361.1 174.3 361.1 168.3 359.6C162.3 358.1 155.8 354.1 150.3 350.6C144.7 347.1 135.2 343.1 135.2 338.5Z" fill="#d3eafc"/>
<use href="#mesh"/>
</g>
<use href="#ov"/>
<path d="M501.8 368.6L541 368.6L538 372L533 376L527 378.5L521 380L517 381L516.5 385L513 385.5L512.5 381.5L507 381.3L501.8 380.5Z" fill="#6fb4e1"/><path d="M508 392L510 388.5L514.5 387.3L517 388.5L516 392L513 394.5L509.5 395Z" fill="#6fb4e1"/><path d="M548 368.6L556 368.6L555.5 372L553 374.5L550 372.5Z" fill="#6fb4e1"/><path d="M541 368.6L538 372L533 376L527 378.5L521 380L517 381L516.5 385L513 385.5" fill="none" stroke="#38c8f4" stroke-width="1" stroke-dasharray="1.4 1"/>
<text class="lb" x="463.5" y="207">Changshan Qundao</text><text class="lb" x="478.5" y="320.9">Zhoushan Qundao</text><text class="lb" x="494.5" y="355.8">Chiwei Yu</text><text class="lb" x="470.5" y="363.2">Diaoyu Dao</text><text class="lb" x="471.5" y="396.6">Taiwan Dao</text><text class="lb" x="483.8" y="407.6">Lan Yu</text><text class="lb" x="411" y="437">Dongsha Qundao</text><text class="lb" x="366.3" y="457.9">Hainan Dao</text><text class="sea" x="428.5" y="220.9">Bo Hai</text><text class="sea" x="451.8" y="258.3">Yellow Sea</text><text class="sea" x="487.5" y="333.4">East China Sea</text><text class="sea" x="378.8" y="465.3">South China Sea</text><text x="536" y="384.8" font-size="2.3" font-style="italic" fill="#444">Dongsha Qundao</text><text x="519" y="388.3" font-size="2.3" font-style="italic" fill="#444">Hainan Dao</text><text x="518.5" y="396" font-size="2.3" font-style="italic" fill="#444">Xisha Qundao</text><text x="531" y="401.6" font-size="2.3" font-style="italic" fill="#444">Zhongsha Qundao</text><text x="536" y="406.6" font-size="2.3" font-style="italic" fill="#444">Huangyan Dao</text><text x="523.5" y="416.3" font-size="2.8" font-style="italic" fill="#3cc0f0">South China Sea</text><text x="527.5" y="428.3" font-size="2.3" font-style="italic" fill="#444">Nansha Qundao</text><text x="514.5" y="449.6" font-size="2.3" font-style="italic" fill="#444">Zengmu Ansha</text><text x="548.5" y="374.6" font-size="2.3" font-style="italic" fill="#444">Taiwan Dao</text><text class="sb" x="6" y="451.8">0</text><text class="sb" x="53.3" y="451.8">500 km</text><text x="535.2" y="458.2" font-size="4.6" fill="#333">0</text><text x="551.6" y="458.2" font-size="4.6" fill="#333">400 km</text>
<text class="cn" x="8.8" y="62.6">&#9313;</text><text class="t2" x="28.6" y="63">P-value</text>
</g>
<g transform="translate(0 1879.8)">
<use href="#halo"/>
<use href="#cn" fill="#fff"/>
<g clip-path="url(#cp)">
<rect x="0" y="30" width="560" height="450" fill="#dcf1d6"/>
<path d="M360.6 119.2C370.6 136.7 408.2 123.2 420.7 125.2C433.2 127.2 429.7 128.7 435.8 131.2C441.8 133.7 449.3 137.2 456.8 140.2C464.3 143.2 471.8 146.7 480.8 149.2C489.8 151.7 494.4 154.2 510.9 155.2C527.4 156.2 568.5 177.8 580 155.2C591.5 132.7 616.6 42.5 580 20C543.4 -2.5 397.2 3.5 360.6 20C324.1 36.5 350.6 101.6 360.6 119.2Z" fill="#f4faed"/>
<path d="M126.2 329.5C128.2 324 142.2 312 150.3 302.5C158.3 293 166.3 282.5 174.3 272.4C182.3 262.4 190.3 252.4 198.3 242.4C206.4 232.4 215.9 221.3 222.4 212.3C228.9 203.3 232.9 193.8 237.4 188.3C241.9 182.8 243.9 180.3 249.4 179.3C254.9 178.3 264 180.8 270.5 182.3C277 183.8 283.5 186.8 288.5 188.3C293.5 189.8 296 189.3 300.5 191.3C305 193.3 310.5 196.8 315.5 200.3C320.6 203.8 325.6 207.3 330.6 212.3C335.6 217.3 341.6 224.4 345.6 230.4C349.6 236.4 352.1 242.4 354.6 248.4C357.1 254.4 362.1 261.9 360.6 266.4C359.1 270.9 351.6 274.4 345.6 275.4C339.6 276.4 332.1 273.4 324.6 272.4C317 271.4 308.5 269.9 300.5 269.4C292.5 268.9 284.5 268.9 276.5 269.4C268.5 269.9 260.4 270.9 252.4 272.4C244.4 273.9 236.4 275.9 228.4 278.4C220.4 280.9 212.4 283.5 204.4 287.5C196.3 291.5 188.3 297 180.3 302.5C172.3 308 163.3 315 156.3 320.5C149.3 326 143.2 334 138.2 335.5C133.2 337 124.2 335 126.2 329.5Z" fill="#c2e7c1"/>
<path d="M366.6 215.3C369.6 209.3 378.7 204.3 384.7 200.3C390.7 196.3 397.7 191.3 402.7 191.3C407.7 191.3 410.7 196.8 414.7 200.3C418.7 203.8 423.7 207.3 426.7 212.3C429.7 217.3 428.7 227.9 432.7 230.4C436.8 232.9 445.8 227.4 450.8 227.4C455.8 227.4 462.8 226.9 462.8 230.4C462.8 233.9 453.8 242.4 450.8 248.4C447.8 254.4 443.8 260.4 444.8 266.4C445.8 272.4 453.3 279.4 456.8 284.5C460.3 289.5 461.8 290.5 465.8 296.5C469.8 302.5 478.3 313.5 480.8 320.5C483.3 327.5 485.8 333.5 480.8 338.5C475.8 343.6 458.8 349.6 450.8 350.6C442.8 351.6 437.8 347.1 432.7 344.6C427.7 342.1 425.7 338.5 420.7 335.5C415.7 332.5 408.7 329 402.7 326.5C396.7 324 390.7 323.5 384.7 320.5C378.7 317.5 371.1 313.5 366.6 308.5C362.1 303.5 358.6 296.5 357.6 290.5C356.6 284.5 359.1 278.4 360.6 272.4C362.1 266.4 365.6 260.4 366.6 254.4C367.6 248.4 366.6 242.9 366.6 236.4C366.6 229.9 363.6 221.3 366.6 215.3Z" fill="#c2e7c1"/>
<path d="M255.4 218.3C254.4 213.8 260.9 205.3 264.5 200.3C268 195.3 270.5 190.3 276.5 188.3C282.5 186.3 291.5 189.3 300.5 188.3C309.5 187.3 321.6 187.8 330.6 182.3C339.6 176.8 348.1 160.7 354.6 155.2C361.1 149.7 364.6 147.7 369.6 149.2C374.6 150.7 380.7 158.7 384.7 164.2C388.7 169.8 393.7 176.3 393.7 182.3C393.7 188.3 388.2 194.8 384.7 200.3C381.2 205.8 375.6 209.3 372.6 215.3C369.6 221.3 367.6 229.9 366.6 236.4C365.6 242.9 367.6 249.4 366.6 254.4C365.6 259.4 364.1 264.9 360.6 266.4C357.1 267.9 350.6 264.9 345.6 263.4C340.6 261.9 334.6 260.9 330.6 257.4C326.6 253.9 324.6 246.9 321.6 242.4C318.5 237.9 316 232.9 312.5 230.4C309 227.9 305 228.4 300.5 227.4C296 226.4 290.5 224.4 285.5 224.4C280.5 224.4 275.5 228.4 270.5 227.4C265.5 226.4 256.4 222.8 255.4 218.3Z" fill="#93d5b9"/>
<path d="M255.4 242.4C256.4 239.4 262 235.4 264.5 236.4C267 237.4 270 244.9 270.5 248.4C271 251.9 269.5 256.4 267.5 257.4C265.5 258.4 260.4 256.9 258.4 254.4C256.4 251.9 254.4 245.4 255.4 242.4Z" fill="#93d5b9"/>
<path d="M222.4 251.4C223.4 249.4 228.4 244.4 231.4 243.9C234.4 243.4 239.9 246.4 240.4 248.4C240.9 250.4 236.9 254.7 234.4 255.9C231.9 257.2 227.4 256.7 225.4 255.9C223.4 255.2 221.4 253.4 222.4 251.4Z" fill="#5cbbd0"/>
<path d="M300.5 197.3C301.5 194.3 305 190.8 309.5 188.3C314 185.8 321.6 184.8 327.6 182.3C333.6 179.8 340.6 176.8 345.6 173.3C350.6 169.8 354.1 161.7 357.6 161.2C361.1 160.7 364.9 166.3 366.6 170.3C368.4 174.3 369.1 180.3 368.1 185.3C367.1 190.3 364.4 197.1 360.6 200.3C356.9 203.6 351.1 204.8 345.6 204.8C340.1 204.8 332.6 200.1 327.6 200.3C322.6 200.6 319.6 205.3 315.5 206.3C311.5 207.3 306 207.8 303.5 206.3C301 204.8 299.5 200.3 300.5 197.3Z" fill="#5cbbd0"/>
<path d="M279.5 254.4C283.2 251.6 289 248.6 294.5 248.4C300 248.1 307.5 250.4 312.5 252.9C317.5 255.4 320.6 259.7 324.6 263.4C328.6 267.2 332.6 272.4 336.6 275.4C340.6 278.4 346.1 278.9 348.6 281.5C351.1 284 352.6 287.2 351.6 290.5C350.6 293.7 346.1 298.2 342.6 301C339.1 303.7 334.6 304 330.6 307C326.6 310 322.6 315.3 318.5 319C314.5 322.8 310.5 326.8 306.5 329.5C302.5 332.3 299.5 334.5 294.5 335.5C289.5 336.5 281.7 336.5 276.5 335.5C271.2 334.5 266.5 332.3 263 329.5C259.4 326.8 257.2 323 255.4 319C253.7 315 251.9 310 252.4 305.5C252.9 301 255.9 296.5 258.4 292C260.9 287.5 265.2 283 267.5 278.4C269.7 273.9 270 268.9 272 264.9C274 260.9 275.7 257.2 279.5 254.4Z" fill="#f4faed"/>
<path d="M261.5 407.7C262 403.7 266.5 395.1 270.5 389.6C274.5 384.1 280.5 379.6 285.5 374.6C290.5 369.6 295 363.6 300.5 359.6C306 355.6 312 353.1 318.5 350.6C325.1 348.1 333.6 347.1 339.6 344.6C345.6 342.1 350.6 339.6 354.6 335.5C358.6 331.5 362.6 325.5 363.6 320.5C364.6 315.5 359.6 309 360.6 305.5C361.6 302 365.1 300 369.6 299.5C374.1 299 381.7 301 387.7 302.5C393.7 304 400.7 305.5 405.7 308.5C410.7 311.5 415.2 316.5 417.7 320.5C420.2 324.5 418.2 328.5 420.7 332.5C423.2 336.5 427.7 341.6 432.7 344.6C437.8 347.6 444.8 348.1 450.8 350.6C456.8 353.1 465.8 354.6 468.8 359.6C471.8 364.6 474.8 372.1 468.8 380.6C462.8 389.1 442.3 403.2 432.7 410.7C423.2 418.2 419.2 421.7 411.7 425.7C404.2 429.7 396.2 432.2 387.7 434.7C379.2 437.2 369.1 439.7 360.6 440.7C352.1 441.7 342.6 442.2 336.6 440.7C330.6 439.2 327.6 435.7 324.6 431.7C321.6 427.7 322.1 420.7 318.5 416.7C315 412.7 309.5 408.7 303.5 407.7C297.5 406.7 288.5 409.7 282.5 410.7C276.5 411.7 271 414.2 267.5 413.7C264 413.2 260.9 411.7 261.5 407.7Z" fill="#93d5b9"/>
<path d="M306.5 380.6C308.5 376.1 313.5 371.6 318.5 368.6C323.6 365.6 331.1 362.1 336.6 362.6C342.1 363.1 348.6 368.1 351.6 371.6C354.6 375.1 356.1 379.6 354.6 383.6C353.1 387.6 346.6 391.6 342.6 395.6C338.6 399.7 335.1 405.7 330.6 407.7C326.1 409.7 319.6 409.7 315.5 407.7C311.5 405.7 308 400.2 306.5 395.6C305 391.1 304.5 385.1 306.5 380.6Z" fill="#c2e7c1"/>
<path d="M381.7 317.5C382.9 315.5 387.4 313.3 390.7 313C393.9 312.8 399.2 314.3 401.2 316C403.2 317.8 403.9 321.5 402.7 323.5C401.4 325.5 396.9 327.8 393.7 328C390.4 328.3 385.2 326.8 383.2 325C381.2 323.3 380.4 319.5 381.7 317.5Z" fill="#5cbbd0"/>
<path d="M336.6 446.1C342.6 441 366.6 441 372.6 446.1C378.7 451.2 378.7 471.7 372.6 476.8C366.6 481.9 342.6 481.9 336.6 476.8C330.6 471.7 330.6 451.2 336.6 446.1Z" fill="#93d5b9"/>
<path d="M459.8 371.6C464.3 364.1 482.3 364.1 486.8 371.6C491.3 379.1 491.3 409.2 486.8 416.7C482.3 424.2 464.3 424.2 459.8 416.7C455.3 409.2 455.3 379.1 459.8 371.6Z" fill="#93d5b9"/>
<use href="#mesh"/>
</g>
<use href="#ov"/>
<path d="M501.8 368.6L541 368.6L538 372L533 376L527 378.5L521 380L517 381L516.5 385L513 385.5L512.5 381.5L507 381.3L501.8 380.5Z" fill="#93d5b9"/><path d="M508 392L510 388.5L514.5 387.3L517 388.5L516 392L513 394.5L509.5 395Z" fill="#93d5b9"/><path d="M548 368.6L556 368.6L555.5 372L553 374.5L550 372.5Z" fill="#93d5b9"/><path d="M541 368.6L538 372L533 376L527 378.5L521 380L517 381L516.5 385L513 385.5" fill="none" stroke="#38c8f4" stroke-width="1" stroke-dasharray="1.4 1"/>
<text class="lb" x="463.5" y="207">Changshan Qundao</text><text class="lb" x="478.5" y="320.9">Zhoushan Qundao</text><text class="lb" x="494.5" y="355.8">Chiwei Yu</text><text class="lb" x="470.5" y="363.2">Diaoyu Dao</text><text class="lb" x="471.5" y="396.6">Taiwan Dao</text><text class="lb" x="483.8" y="407.6">Lan Yu</text><text class="lb" x="411" y="437">Dongsha Qundao</text><text class="lb" x="366.3" y="457.9">Hainan Dao</text><text class="sea" x="428.5" y="220.9">Bo Hai</text><text class="sea" x="451.8" y="258.3">Yellow Sea</text><text class="sea" x="487.5" y="333.4">East China Sea</text><text class="sea" x="378.8" y="465.3">South China Sea</text><text x="536" y="384.8" font-size="2.3" font-style="italic" fill="#444">Dongsha Qundao</text><text x="519" y="388.3" font-size="2.3" font-style="italic" fill="#444">Hainan Dao</text><text x="518.5" y="396" font-size="2.3" font-style="italic" fill="#444">Xisha Qundao</text><text x="531" y="401.6" font-size="2.3" font-style="italic" fill="#444">Zhongsha Qundao</text><text x="536" y="406.6" font-size="2.3" font-style="italic" fill="#444">Huangyan Dao</text><text x="523.5" y="416.3" font-size="2.8" font-style="italic" fill="#3cc0f0">South China Sea</text><text x="527.5" y="428.3" font-size="2.3" font-style="italic" fill="#444">Nansha Qundao</text><text x="514.5" y="449.6" font-size="2.3" font-style="italic" fill="#444">Zengmu Ansha</text><text x="548.5" y="374.6" font-size="2.3" font-style="italic" fill="#444">Taiwan Dao</text><text class="sb" x="6" y="451.8">0</text><text class="sb" x="53.3" y="451.8">500 km</text><text x="535.2" y="458.2" font-size="4.6" fill="#333">0</text><text x="551.6" y="458.2" font-size="4.6" fill="#333">400 km</text>
<text class="t1" x="7" y="30.6">i. Built-up</text>
<text class="cn" x="8.3" y="62.6">&#9312;</text><text class="t2" x="28.4" y="63">Coefficient</text>
</g>
<g transform="translate(580.5 1879.8)">
<use href="#halo"/>
<use href="#cn" fill="#fff"/>
<g clip-path="url(#cp)">
<rect x="0" y="30" width="560" height="450" fill="#d3eafc"/>
<path d="M0 20C38.1 -40.1 190.8 -6 228.4 20C266 46 226.4 147.2 225.4 176.3C224.4 205.3 224.9 188.3 222.4 194.3C219.9 200.3 214.4 207.3 210.4 212.3C206.4 217.3 202.3 219.3 198.3 224.4C194.3 229.4 189.8 236.4 186.3 242.4C182.8 248.4 180.8 254.9 177.3 260.4C173.8 265.9 169.3 270.4 165.3 275.4C161.3 280.4 154.8 285.5 153.3 290.5C151.8 295.5 153.3 302 156.3 305.5C159.3 309 166.3 312.5 171.3 311.5C176.3 310.5 180.8 303 186.3 299.5C191.8 296 198.3 293.5 204.4 290.5C210.4 287.5 216.4 284 222.4 281.5C228.4 278.9 234.4 276.4 240.4 275.4C246.4 274.4 252.9 276.4 258.4 275.4C264 274.4 269.5 272.9 273.5 269.4C277.5 265.9 280 258.9 282.5 254.4C285 249.9 285.5 244.4 288.5 242.4C291.5 240.4 296.5 240.9 300.5 242.4C304.5 243.9 309.5 247.9 312.5 251.4C315.5 254.9 316.5 259.9 318.5 263.4C320.6 266.9 321.1 271.4 324.6 272.4C328.1 273.4 335.1 268.9 339.6 269.4C344.1 269.9 348.6 272.4 351.6 275.4C354.6 278.4 357.6 283.5 357.6 287.5C357.6 291.5 353.6 295.5 351.6 299.5C349.6 303.5 348.6 308.5 345.6 311.5C342.6 314.5 337.1 315 333.6 317.5C330.1 320 327.1 323 324.6 326.5C322.1 330 321.6 335.5 318.5 338.5C315.5 341.6 311.5 343.6 306.5 344.6C301.5 345.6 294.5 344.3 288.5 344.6C282.5 344.8 276.5 345.3 270.5 346.1C264.5 346.8 257.4 347.8 252.4 349.1C247.4 350.3 243.9 353.8 240.4 353.6C236.9 353.3 236.4 343.1 231.4 347.6C226.4 352.1 248.9 375.1 210.4 380.6C171.8 386.1 35.1 440.7 0 380.6C-35.1 320.5 -38.1 80.1 0 20Z" fill="#6fb4e1"/>
<path d="M297.5 194.3C299.5 190.3 307 187.3 312.5 185.3C318 183.3 324.6 184.3 330.6 182.3C336.6 180.3 344.1 177.8 348.6 173.3C353.1 168.8 354.6 159.2 357.6 155.2C360.6 151.2 363.6 146.7 366.6 149.2C369.6 151.7 373.1 164.2 375.6 170.3C378.2 176.3 381.2 180.3 381.7 185.3C382.2 190.3 381.2 195.8 378.7 200.3C376.1 204.8 371.1 208.8 366.6 212.3C362.1 215.8 357.1 218.8 351.6 221.3C346.1 223.9 339.1 226.4 333.6 227.4C328.1 228.4 323.1 228.4 318.5 227.4C314 226.4 309.5 224.4 306.5 221.3C303.5 218.3 302 213.8 300.5 209.3C299 204.8 295.5 198.3 297.5 194.3Z" fill="#6fb4e1"/>
<path d="M390.7 140.2C397.2 145.2 396.7 145.2 399.7 149.2C402.7 153.2 405.7 158.7 408.7 164.2C411.7 169.8 414.7 176.3 417.7 182.3C420.7 188.3 423.7 196.3 426.7 200.3C429.7 204.3 410.2 205.3 435.8 206.3C461.3 207.3 556 237.4 580 206.3C604 175.3 616.6 51.1 580 20C543.4 -11.1 397.2 3.5 360.6 20C324.1 36.5 355.6 99.1 360.6 119.2C365.6 139.2 384.2 135.2 390.7 140.2Z" fill="#6fb4e1"/>
<path d="M399.7 230.4C402.2 227.9 406.5 226.4 408.7 227.4C411 228.4 413.2 232.4 413.2 236.4C413.2 240.4 410 246.9 408.7 251.4C407.5 255.9 404.7 259.4 405.7 263.4C406.7 267.4 410.7 271.9 414.7 275.4C418.7 278.9 424.7 284.5 429.7 284.5C434.7 284.5 439.8 275.9 444.8 275.4C449.8 274.9 455.8 277.9 459.8 281.5C463.8 285 466.8 290 468.8 296.5C470.8 303 473.3 314 471.8 320.5C470.3 327 464.3 332.5 459.8 335.5C455.3 338.5 449.3 340.6 444.8 338.5C440.3 336.5 436.8 328 432.7 323.5C428.7 319 424.7 315 420.7 311.5C416.7 308 413.2 305 408.7 302.5C404.2 300 398.2 298.5 393.7 296.5C389.2 294.5 384.7 293.5 381.7 290.5C378.7 287.5 376.1 283 375.6 278.4C375.1 273.9 376.1 267.4 378.7 263.4C381.2 259.4 388.2 257.9 390.7 254.4C393.2 250.9 392.2 246.4 393.7 242.4C395.2 238.4 397.2 232.9 399.7 230.4Z" fill="#6fb4e1"/>
<path d="M375.6 320.5C376.9 317 380.7 313 384.7 311.5C388.7 310 395.9 310 399.7 311.5C403.4 313 406.2 317 407.2 320.5C408.2 324 406.7 328.5 405.7 332.5C404.7 336.5 401.4 340.1 401.2 344.6C400.9 349.1 404.4 355.8 404.2 359.6C403.9 363.3 402.9 365.8 399.7 367.1C396.4 368.4 388.7 368.4 384.7 367.1C380.7 365.8 377.2 363.3 375.6 359.6C374.1 355.8 375.4 349.1 375.6 344.6C375.9 340.1 377.2 336.5 377.2 332.5C377.2 328.5 374.4 324 375.6 320.5Z" fill="#6fb4e1"/>
<path d="M440.3 380.6C440.8 378.4 446 373.6 447.8 373.1C449.5 372.6 451.3 375.4 450.8 377.6C450.3 379.9 446.5 386.1 444.8 386.6C443 387.1 439.8 382.9 440.3 380.6Z" fill="#6fb4e1"/>
<path d="M459.8 371.6C464.3 364.1 482.3 364.1 486.8 371.6C491.3 379.1 491.3 409.2 486.8 416.7C482.3 424.2 464.3 424.2 459.8 416.7C455.3 409.2 455.3 379.1 459.8 371.6Z" fill="#6fb4e1"/>
<use href="#mesh"/>
</g>
<use href="#ov"/>
<path d="M501.8 368.6L541 368.6L538 372L533 376L527 378.5L521 380L517 381L516.5 385L513 385.5L512.5 381.5L507 381.3L501.8 380.5Z" fill="#d3eafc"/><path d="M508 392L510 388.5L514.5 387.3L517 388.5L516 392L513 394.5L509.5 395Z" fill="#d3eafc"/><path d="M548 368.6L556 368.6L555.5 372L553 374.5L550 372.5Z" fill="#6fb4e1"/><path d="M541 368.6L538 372L533 376L527 378.5L521 380L517 381L516.5 385L513 385.5" fill="none" stroke="#38c8f4" stroke-width="1" stroke-dasharray="1.4 1"/>
<text class="lb" x="463.5" y="207">Changshan Qundao</text><text class="lb" x="478.5" y="320.9">Zhoushan Qundao</text><text class="lb" x="494.5" y="355.8">Chiwei Yu</text><text class="lb" x="470.5" y="363.2">Diaoyu Dao</text><text class="lb" x="471.5" y="396.6">Taiwan Dao</text><text class="lb" x="483.8" y="407.6">Lan Yu</text><text class="lb" x="411" y="437">Dongsha Qundao</text><text class="lb" x="366.3" y="457.9">Hainan Dao</text><text class="sea" x="428.5" y="220.9">Bo Hai</text><text class="sea" x="451.8" y="258.3">Yellow Sea</text><text class="sea" x="487.5" y="333.4">East China Sea</text><text class="sea" x="378.8" y="465.3">South China Sea</text><text x="536" y="384.8" font-size="2.3" font-style="italic" fill="#444">Dongsha Qundao</text><text x="519" y="388.3" font-size="2.3" font-style="italic" fill="#444">Hainan Dao</text><text x="518.5" y="396" font-size="2.3" font-style="italic" fill="#444">Xisha Qundao</text><text x="531" y="401.6" font-size="2.3" font-style="italic" fill="#444">Zhongsha Qundao</text><text x="536" y="406.6" font-size="2.3" font-style="italic" fill="#444">Huangyan Dao</text><text x="523.5" y="416.3" font-size="2.8" font-style="italic" fill="#3cc0f0">South China Sea</text><text x="527.5" y="428.3" font-size="2.3" font-style="italic" fill="#444">Nansha Qundao</text><text x="514.5" y="449.6" font-size="2.3" font-style="italic" fill="#444">Zengmu Ansha</text><text x="548.5" y="374.6" font-size="2.3" font-style="italic" fill="#444">Taiwan Dao</text><text class="sb" x="6" y="451.8">0</text><text class="sb" x="53.3" y="451.8">500 km</text><text x="535.2" y="458.2" font-size="4.6" fill="#333">0</text><text x="551.6" y="458.2" font-size="4.6" fill="#333">400 km</text>
<text class="cn" x="8.8" y="62.6">&#9313;</text><text class="t2" x="28.6" y="63">P-value</text>
</g>
<g>
<rect x="1203.1" y="1922.7" width="733.8" height="416.6" fill="#fff" stroke="#a8b0b8" stroke-width="1.4"/>
<rect x="1203.5" y="1923.1" width="321.3" height="36.6" fill="#6fb4e1"/>
<rect x="1203.5" y="1968.7" width="321.3" height="34.9" fill="#d0e9fd"/>
<rect x="1203.5" y="2006.4" width="321.3" height="38.8" fill="#d0e9fd"/>
<rect x="1203.5" y="2048" width="321.3" height="38.9" fill="#d0e9fd"/>
<rect x="1203.5" y="2089.7" width="321.3" height="38.6" fill="#d0e9fd"/>
<rect x="1203.5" y="2131.1" width="321.3" height="38.7" fill="#d0e9fd"/>
<rect x="1203.5" y="2172.6" width="321.3" height="38.6" fill="#d0e9fd"/>
<rect x="1203.5" y="2214" width="321.3" height="38.9" fill="#d0e9fd"/>
<rect x="1203.5" y="2255.7" width="321.3" height="39.7" fill="#d0e9fd"/>
<rect x="1203.5" y="2298.2" width="321.3" height="40.9" fill="#d0e9fd"/>
<rect x="1528" y="1923.1" width="106.4" height="36.6" fill="#6fb4e1"/>
<rect x="1528" y="1968.7" width="106.4" height="34.9" fill="#d0e9fd"/>
<rect x="1528" y="2006.4" width="106.4" height="38.8" fill="#d0e9fd"/>
<rect x="1528" y="2048" width="106.4" height="38.9" fill="#d0e9fd"/>
<rect x="1528" y="2089.7" width="106.4" height="38.6" fill="#d0e9fd"/>
<rect x="1528" y="2131.1" width="106.4" height="38.7" fill="#d0e9fd"/>
<rect x="1528" y="2172.6" width="106.4" height="38.6" fill="#d0e9fd"/>
<rect x="1528" y="2214" width="106.4" height="38.9" fill="#d0e9fd"/>
<rect x="1528" y="2255.7" width="106.4" height="39.7" fill="#d0e9fd"/>
<rect x="1528" y="2298.2" width="106.4" height="40.9" fill="#d0e9fd"/>
<rect x="1637.6" y="1923.1" width="96.3" height="36.6" fill="#6fb4e1"/>
<rect x="1637.6" y="1968.7" width="96.3" height="34.9" fill="#d0e9fd"/>
<rect x="1637.6" y="2006.4" width="96.3" height="38.8" fill="#d0e9fd"/>
<rect x="1637.6" y="2048" width="96.3" height="38.9" fill="#d0e9fd"/>
<rect x="1637.6" y="2089.7" width="96.3" height="38.6" fill="#d0e9fd"/>
<rect x="1637.6" y="2131.1" width="96.3" height="38.7" fill="#d0e9fd"/>
<rect x="1637.6" y="2172.6" width="96.3" height="38.6" fill="#d0e9fd"/>
<rect x="1637.6" y="2214" width="96.3" height="38.9" fill="#d0e9fd"/>
<rect x="1637.6" y="2255.7" width="96.3" height="39.7" fill="#d0e9fd"/>
<rect x="1637.6" y="2298.2" width="96.3" height="40.9" fill="#d0e9fd"/>
<rect x="1737.1" y="1923.1" width="110.6" height="36.6" fill="#6fb4e1"/>
<rect x="1737.1" y="1968.7" width="110.6" height="34.9" fill="#d0e9fd"/>
<rect x="1737.1" y="2006.4" width="110.6" height="38.8" fill="#d0e9fd"/>
<rect x="1737.1" y="2048" width="110.6" height="38.9" fill="#d0e9fd"/>
<rect x="1737.1" y="2089.7" width="110.6" height="38.6" fill="#d0e9fd"/>
<rect x="1737.1" y="2131.1" width="110.6" height="38.7" fill="#d0e9fd"/>
<rect x="1737.1" y="2172.6" width="110.6" height="38.6" fill="#d0e9fd"/>
<rect x="1737.1" y="2214" width="110.6" height="38.9" fill="#d0e9fd"/>
<rect x="1737.1" y="2255.7" width="110.6" height="39.7" fill="#d0e9fd"/>
<rect x="1737.1" y="2298.2" width="110.6" height="40.9" fill="#d0e9fd"/>
<rect x="1850.9" y="1923.1" width="85.6" height="36.6" fill="#6fb4e1"/>
<rect x="1850.9" y="1968.7" width="85.6" height="34.9" fill="#d0e9fd"/>
<rect x="1850.9" y="2006.4" width="85.6" height="38.8" fill="#d0e9fd"/>
<rect x="1850.9" y="2048" width="85.6" height="38.9" fill="#d0e9fd"/>
<rect x="1850.9" y="2089.7" width="85.6" height="38.6" fill="#d0e9fd"/>
<rect x="1850.9" y="2131.1" width="85.6" height="38.7" fill="#d0e9fd"/>
<rect x="1850.9" y="2172.6" width="85.6" height="38.6" fill="#d0e9fd"/>
<rect x="1850.9" y="2214" width="85.6" height="38.9" fill="#d0e9fd"/>
<rect x="1850.9" y="2255.7" width="85.6" height="39.7" fill="#d0e9fd"/>
<rect x="1850.9" y="2298.2" width="85.6" height="40.9" fill="#d0e9fd"/>
<text class="th" x="1365" y="1952.6">Factor</text>
<text class="th" x="1581.2" y="1952.6">Min</text>
<text class="th" x="1685.8" y="1952.6">Max</text>
<text class="th" x="1792.4" y="1952.6">Mean</text>
<text class="th" x="1892.9" y="1952.6">Std</text>
<text class="tf" x="1211.3" y="1992.9">a. CV of Cropland Area</text>
<text class="tn" x="1627.1" y="1992.9">−0.4834</text>
<text class="tn" x="1727.6" y="1992.9">0.4765</text>
<text class="tn" x="1840.8" y="1992.9">0.0608</text>
<text class="tn" x="1928.2" y="1992.9">0.1629</text>
<text class="tf" x="1211.3" y="2033.9">b. CV of Forest Area</text>
<text class="tn" x="1627.1" y="2033.9">−0.1522</text>
<text class="tn" x="1727.6" y="2033.9">0.6581</text>
<text class="tn" x="1840.8" y="2033.9">0.1074</text>
<text class="tn" x="1928.2" y="2033.9">0.1649</text>
<text class="tf" x="1211.3" y="2075.8">c. CV of Shrubland Area</text>
<text class="tn" x="1627.1" y="2075.8">−0.0473</text>
<text class="tn" x="1727.6" y="2075.8">0.5378</text>
<text class="tn" x="1840.8" y="2075.8">0.1229</text>
<text class="tn" x="1928.2" y="2075.8">0.1302</text>
<text class="tf" x="1211.3" y="2116.8">d. CV of Grassland Area</text>
<text class="tn" x="1627.1" y="2116.8">−0.0580</text>
<text class="tn" x="1727.6" y="2116.8">0.0764</text>
<text class="tn" x="1840.8" y="2116.8">0.0005</text>
<text class="tn" x="1928.2" y="2116.8">0.0275</text>
<text class="tf" x="1211.3" y="2158.3">e. CV of Wetland Area</text>
<text class="tn" x="1627.1" y="2158.3">−0.1125</text>
<text class="tn" x="1727.6" y="2158.3">0.4947</text>
<text class="tn" x="1840.8" y="2158.3">0.0282</text>
<text class="tn" x="1928.2" y="2158.3">0.1184</text>
<text class="tf" x="1211.3" y="2199.8">f. CV of Desert Area</text>
<text class="tn" x="1627.1" y="2199.8">−0.0846</text>
<text class="tn" x="1727.6" y="2199.8">0.0614</text>
<text class="tn" x="1840.8" y="2199.8">-0.0023</text>
<text class="tn" x="1928.2" y="2199.8">0.0286</text>
<text class="tf" x="1211.3" y="2240.8">g. CV of Water Area</text>
<text class="tn" x="1627.1" y="2240.8">−0.1062</text>
<text class="tn" x="1727.6" y="2240.8">0.2421</text>
<text class="tn" x="1840.8" y="2240.8">0.0299</text>
<text class="tn" x="1928.2" y="2240.8">0.0585</text>
<text class="tf" x="1211.3" y="2283.1">h. CV of Glacier &amp; Snow Area</text>
<text class="tn" x="1627.1" y="2283.1">−0.0505</text>
<text class="tn" x="1727.6" y="2283.1">0.4798</text>
<text class="tn" x="1840.8" y="2283.1">0.0755</text>
<text class="tn" x="1928.2" y="2283.1">0.1200</text>
<text class="tf" x="1211.3" y="2326.2">i. CV of Built-up Area</text>
<text class="tn" x="1627.1" y="2326.2">−0.0565</text>
<text class="tn" x="1727.6" y="2326.2">0.0173</text>
<text class="tn" x="1840.8" y="2326.2">-0.0067</text>
<text class="tn" x="1928.2" y="2326.2">0.0121</text>
</g>
<rect x="1947.5" y="1922.2" width="390.3" height="417.5" fill="#fff" stroke="#b4b4b4" stroke-width="1.3"/>
<text x="1963.2" y="1955.4" font-weight="bold" font-size="24" fill="#000">Legend</text>
<rect x="1962.6" y="1974.6" width="48.6" height="23.2" fill="#6fb4e1" stroke="#8a8a8a" stroke-width="1.2"/>
<text class="lg" x="2019.6" y="1993.8">p-value ≤ 0.05</text>
<rect x="1962.6" y="2008.6" width="48.6" height="23.2" fill="#d3eafc" stroke="#8a8a8a" stroke-width="1.2"/>
<text class="lg" x="2019.6" y="2027.8">p-value &gt; 0.05</text>
<rect x="1962.6" y="2059" width="48.6" height="23.2" fill="#f4faed" stroke="#8a8a8a" stroke-width="1.2"/>
<text class="lg" x="2019.6" y="2078.2">-0.4599 &lt; coefficient ≤ -0.0851</text>
<rect x="1962.6" y="2092.5" width="48.6" height="23.2" fill="#dcf1d6" stroke="#8a8a8a" stroke-width="1.2"/>
<text class="lg" x="2019.6" y="2111.7">-0.0851 &lt; coefficient ≤ -0.0324</text>
<rect x="1962.6" y="2126.3" width="48.6" height="23.2" fill="#c2e7c1" stroke="#8a8a8a" stroke-width="1.2"/>
<text class="lg" x="2019.6" y="2145.5">-0.0324 &lt; coefficient ≤ 0</text>
<rect x="1962.6" y="2160" width="48.6" height="23.2" fill="#93d5b9" stroke="#8a8a8a" stroke-width="1.2"/>
<text class="lg" x="2019.6" y="2179.2">0 &lt; coefficient ≤ 0.0328</text>
<rect x="1962.6" y="2193.8" width="48.6" height="23.2" fill="#5cbbd0" stroke="#8a8a8a" stroke-width="1.2"/>
<text class="lg" x="2019.6" y="2213">0.0328 &lt; coefficient ≤ 0.0776</text>
<rect x="1962.6" y="2227.5" width="48.6" height="23.2" fill="#3a9acb" stroke="#8a8a8a" stroke-width="1.2"/>
<text class="lg" x="2019.6" y="2246.7">0.0776 &lt; coefficient ≤ 0.1678</text>
<rect x="1962.6" y="2261.7" width="48.6" height="23.2" fill="#1b6fb6" stroke="#8a8a8a" stroke-width="1.2"/>
<text class="lg" x="2019.6" y="2280.9">0.1678 &lt; coefficient ≤ 0.3866</text>
<rect x="1962.6" y="2296.9" width="48.6" height="23.2" fill="#0b4789" stroke="#8a8a8a" stroke-width="1.2"/>
<text class="lg" x="2019.6" y="2316.1">0.3866 &lt; coefficient ≤ 1.9784</text>
</svg></body></html>
